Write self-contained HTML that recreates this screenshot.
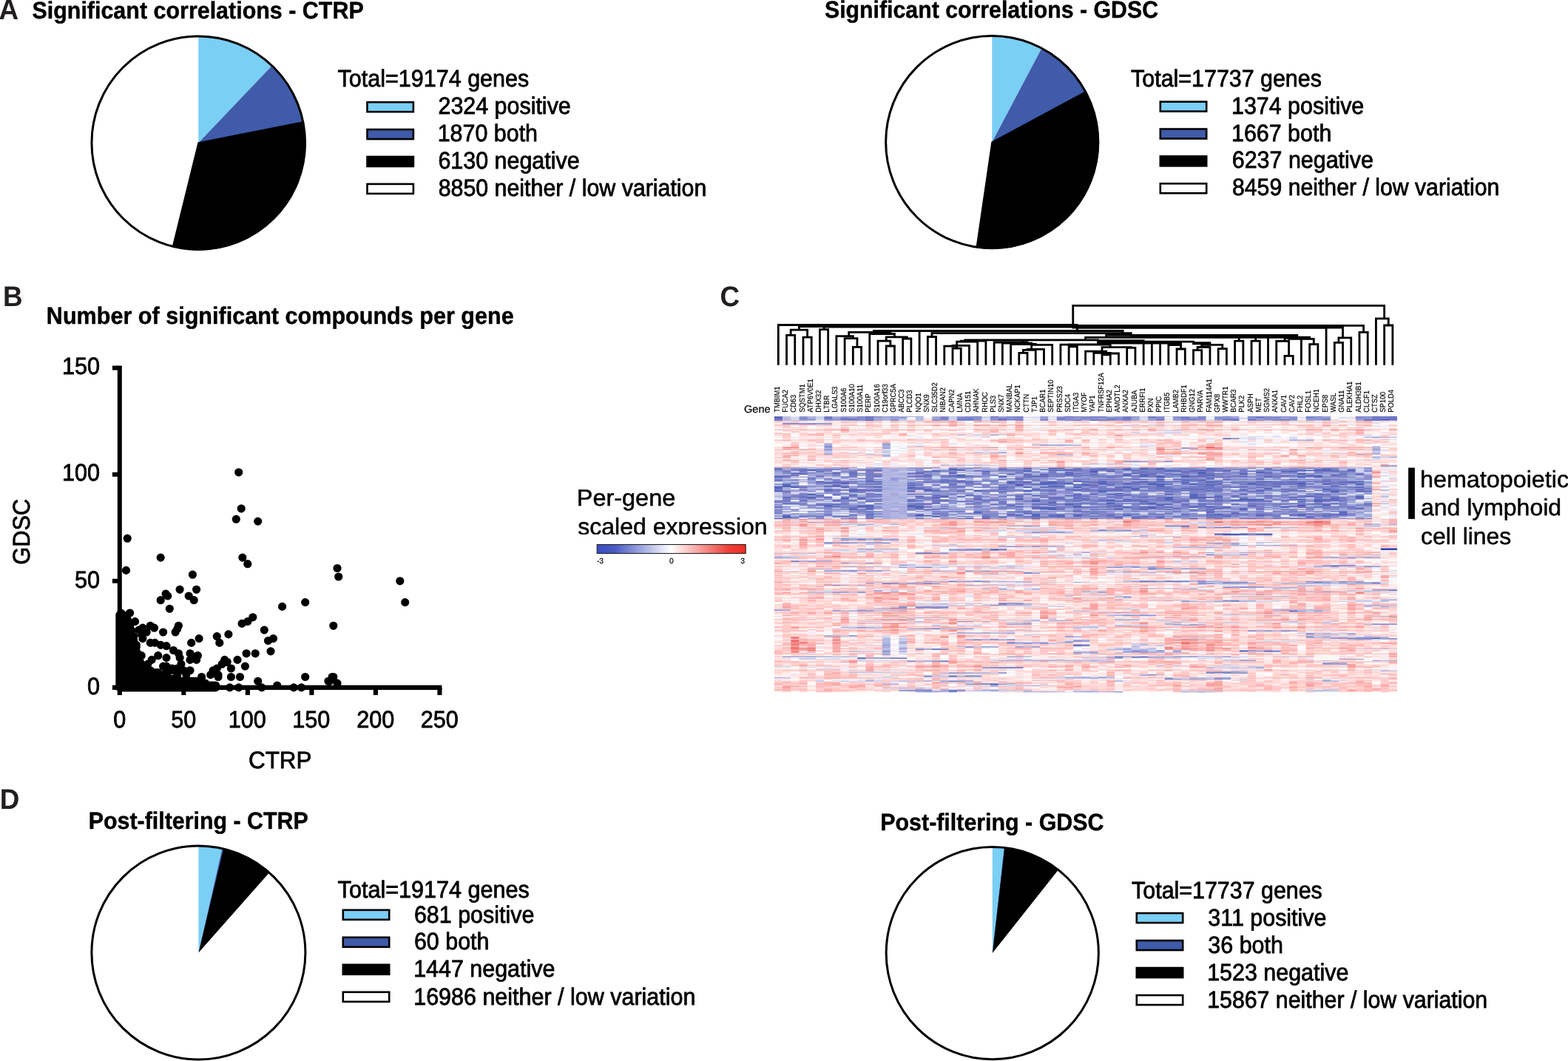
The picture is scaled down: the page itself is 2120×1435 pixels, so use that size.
<!DOCTYPE html>
<html lang="en"><head><meta charset="utf-8"><title>Significant correlations - CTRP / GDSC</title>
<style>
html,body{margin:0;padding:0;background:#fff;}
body{width:2120px;height:1435px;overflow:hidden;}
svg{display:block;font-family:'Liberation Sans', sans-serif;text-rendering:geometricPrecision;}
</style></head><body>
<svg width="2120" height="1435" viewBox="0 0 2120 1435">
<rect width="2120" height="1435" fill="#fff"/>
<text transform="translate(-1.62 25.70) scale(0.9600 1)" font-size="38.4" font-weight="700" fill="#231F20">A</text>
<text transform="translate(3.93 413.70) scale(0.9600 1)" font-size="38.4" font-weight="700" fill="#231F20">B</text>
<text transform="translate(973.39 414.00) scale(0.9600 1)" font-size="38.4" font-weight="700" fill="#231F20">C</text>
<text transform="translate(-0.37 1093.90) scale(0.9600 1)" font-size="38.4" font-weight="700" fill="#231F20">D</text>
<text transform="translate(43.42 24.70) scale(0.9427 1)" font-size="32.3" font-weight="700" stroke="#000" stroke-width="0.45">Significant correlations - CTRP</text>
<circle cx="268.25" cy="193.25" r="144.3" fill="#fff"/>
<path d="M268.25 193.25L268.25 48.95A144.3 144.3 0 0 1 367.82 88.81Z" fill="#7ACFF5"/>
<path d="M268.25 193.25L367.82 88.81A144.3 144.3 0 0 1 409.77 165.08Z" fill="#3F5BA9"/>
<path d="M268.25 193.25L409.77 165.08A144.3 144.3 0 0 1 233.74 333.36Z" fill="#000" stroke="#000" stroke-width="1.8" stroke-linejoin="miter"/>
<circle cx="268.25" cy="193.25" r="144.3" fill="none" stroke="#000" stroke-width="3.0"/>
<text transform="translate(456.61 117.40) scale(0.9445 1)" font-size="32.3" stroke="#000" stroke-width="0.8">Total=19174 genes</text>
<rect x="496.50" y="138.20" width="62.40" height="13.00" fill="#7ACFF5" stroke="#000" stroke-width="2.6"/>
<text transform="translate(592.47 154.40) scale(0.9420 1)" font-size="32.3" stroke="#000" stroke-width="0.8">2324 positive</text>
<rect x="496.50" y="175.10" width="62.40" height="13.00" fill="#3F5BA9" stroke="#000" stroke-width="2.6"/>
<text transform="translate(591.68 191.20) scale(0.9420 1)" font-size="32.3" stroke="#000" stroke-width="0.8">1870 both</text>
<rect x="496.50" y="212.00" width="62.40" height="13.00" fill="#000" stroke="#000" stroke-width="2.6"/>
<text transform="translate(592.45 228.00) scale(0.9420 1)" font-size="32.3" stroke="#000" stroke-width="0.8">6130 negative</text>
<rect x="496.50" y="248.90" width="62.40" height="13.00" fill="#fff" stroke="#000" stroke-width="2.6"/>
<text transform="translate(592.68 264.90) scale(0.9395 1)" font-size="32.3" stroke="#000" stroke-width="0.8">8850 neither / low variation</text>
<text transform="translate(1114.93 24.40) scale(0.9379 1)" font-size="32.3" font-weight="700" stroke="#000" stroke-width="0.45">Significant correlations - GDSC</text>
<circle cx="1341.25" cy="192.2" r="143.6" fill="#fff"/>
<path d="M1341.25 192.2L1341.25 48.60A143.6 143.6 0 0 1 1408.42 65.28Z" fill="#7ACFF5"/>
<path d="M1341.25 192.2L1408.42 65.28A143.6 143.6 0 0 1 1467.71 124.17Z" fill="#3F5BA9"/>
<path d="M1341.25 192.2L1467.71 124.17A143.6 143.6 0 0 1 1320.49 334.29Z" fill="#000" stroke="#000" stroke-width="1.8" stroke-linejoin="miter"/>
<circle cx="1341.25" cy="192.2" r="143.6" fill="none" stroke="#000" stroke-width="3.0"/>
<text transform="translate(1529.12 117.00) scale(0.9412 1)" font-size="32.3" stroke="#000" stroke-width="0.8">Total=17737 genes</text>
<rect x="1568.80" y="137.60" width="62.40" height="13.00" fill="#7ACFF5" stroke="#000" stroke-width="2.6"/>
<text transform="translate(1664.98 153.80) scale(0.9420 1)" font-size="32.3" stroke="#000" stroke-width="0.8">1374 positive</text>
<rect x="1568.80" y="174.50" width="62.40" height="13.00" fill="#3F5BA9" stroke="#000" stroke-width="2.6"/>
<text transform="translate(1664.98 190.50) scale(0.9420 1)" font-size="32.3" stroke="#000" stroke-width="0.8">1667 both</text>
<rect x="1568.80" y="211.40" width="62.40" height="13.00" fill="#000" stroke="#000" stroke-width="2.6"/>
<text transform="translate(1665.75 227.40) scale(0.9420 1)" font-size="32.3" stroke="#000" stroke-width="0.8">6237 negative</text>
<rect x="1568.80" y="248.30" width="62.40" height="13.00" fill="#fff" stroke="#000" stroke-width="2.6"/>
<text transform="translate(1665.99 264.40) scale(0.9359 1)" font-size="32.3" stroke="#000" stroke-width="0.8">8459 neither / low variation</text>
<text transform="translate(62.85 438.40) scale(0.9465 1)" font-size="32.3" font-weight="700" stroke="#000" stroke-width="0.45">Number of significant compounds per gene</text>
<g fill="#000">
<rect x="158.8" y="494.6" width="6.0" height="438.6"/>
<rect x="151.9" y="926.7" width="445.5" height="6.4"/>
<rect x="151.9" y="782.80" width="8" height="6.0"/>
<rect x="151.9" y="638.70" width="8" height="6.0"/>
<rect x="151.9" y="494.60" width="8" height="6.0"/>
<rect x="158.75" y="930" width="6.1" height="10.1"/>
<rect x="245.27" y="930" width="6.1" height="10.1"/>
<rect x="331.80" y="930" width="6.1" height="10.1"/>
<rect x="418.32" y="930" width="6.1" height="10.1"/>
<rect x="504.85" y="930" width="6.1" height="10.1"/>
<rect x="591.38" y="930" width="6.1" height="10.1"/>
</g>
<text transform="translate(118.08 938.60) scale(0.9470 1)" font-size="32.3" stroke="#000" stroke-width="0.8">0</text>
<text transform="translate(101.07 794.50) scale(0.9470 1)" font-size="32.3" stroke="#000" stroke-width="0.8">50</text>
<text transform="translate(84.06 650.40) scale(0.9470 1)" font-size="32.3" stroke="#000" stroke-width="0.8">100</text>
<text transform="translate(84.06 506.30) scale(0.9470 1)" font-size="32.3" stroke="#000" stroke-width="0.8">150</text>
<text transform="translate(153.29 983.90) scale(0.9470 1)" font-size="32.3" stroke="#000" stroke-width="0.8">0</text>
<text transform="translate(231.30 983.90) scale(0.9470 1)" font-size="32.3" stroke="#000" stroke-width="0.8">50</text>
<text transform="translate(308.76 983.90) scale(0.9470 1)" font-size="32.3" stroke="#000" stroke-width="0.8">100</text>
<text transform="translate(395.29 983.90) scale(0.9470 1)" font-size="32.3" stroke="#000" stroke-width="0.8">150</text>
<text transform="translate(482.21 983.90) scale(0.9470 1)" font-size="32.3" stroke="#000" stroke-width="0.8">200</text>
<text transform="translate(568.74 983.90) scale(0.9470 1)" font-size="32.3" stroke="#000" stroke-width="0.8">250</text>
<text transform="translate(336.01 1039.30) scale(0.9718 1)" font-size="32.3" stroke="#000" stroke-width="0.8">CTRP</text>
<text transform="translate(40.2 719.2) rotate(-90) scale(0.955 1) translate(-46.66 0)" font-size="32.3" stroke="#000" stroke-width="0.8">GDSC</text>
<path fill="#000" d="M156.2 929.9a5.6 5.6 0 1 0 11.2 0a5.6 5.6 0 1 0 -11.2 0M156.2 927.0a5.6 5.6 0 1 0 11.2 0a5.6 5.6 0 1 0 -11.2 0M156.2 924.1a5.6 5.6 0 1 0 11.2 0a5.6 5.6 0 1 0 -11.2 0M156.2 921.3a5.6 5.6 0 1 0 11.2 0a5.6 5.6 0 1 0 -11.2 0M156.2 918.4a5.6 5.6 0 1 0 11.2 0a5.6 5.6 0 1 0 -11.2 0M156.2 915.5a5.6 5.6 0 1 0 11.2 0a5.6 5.6 0 1 0 -11.2 0M156.2 912.6a5.6 5.6 0 1 0 11.2 0a5.6 5.6 0 1 0 -11.2 0M156.2 909.7a5.6 5.6 0 1 0 11.2 0a5.6 5.6 0 1 0 -11.2 0M156.2 906.8a5.6 5.6 0 1 0 11.2 0a5.6 5.6 0 1 0 -11.2 0M156.2 904.0a5.6 5.6 0 1 0 11.2 0a5.6 5.6 0 1 0 -11.2 0M156.2 901.1a5.6 5.6 0 1 0 11.2 0a5.6 5.6 0 1 0 -11.2 0M156.2 898.2a5.6 5.6 0 1 0 11.2 0a5.6 5.6 0 1 0 -11.2 0M156.2 895.3a5.6 5.6 0 1 0 11.2 0a5.6 5.6 0 1 0 -11.2 0M156.2 892.4a5.6 5.6 0 1 0 11.2 0a5.6 5.6 0 1 0 -11.2 0M156.2 889.6a5.6 5.6 0 1 0 11.2 0a5.6 5.6 0 1 0 -11.2 0M156.2 886.7a5.6 5.6 0 1 0 11.2 0a5.6 5.6 0 1 0 -11.2 0M156.2 883.8a5.6 5.6 0 1 0 11.2 0a5.6 5.6 0 1 0 -11.2 0M156.2 880.9a5.6 5.6 0 1 0 11.2 0a5.6 5.6 0 1 0 -11.2 0M156.2 878.0a5.6 5.6 0 1 0 11.2 0a5.6 5.6 0 1 0 -11.2 0M156.2 875.1a5.6 5.6 0 1 0 11.2 0a5.6 5.6 0 1 0 -11.2 0M156.2 872.3a5.6 5.6 0 1 0 11.2 0a5.6 5.6 0 1 0 -11.2 0M156.2 869.4a5.6 5.6 0 1 0 11.2 0a5.6 5.6 0 1 0 -11.2 0M156.2 866.5a5.6 5.6 0 1 0 11.2 0a5.6 5.6 0 1 0 -11.2 0M156.2 863.6a5.6 5.6 0 1 0 11.2 0a5.6 5.6 0 1 0 -11.2 0M156.2 860.7a5.6 5.6 0 1 0 11.2 0a5.6 5.6 0 1 0 -11.2 0M156.2 857.9a5.6 5.6 0 1 0 11.2 0a5.6 5.6 0 1 0 -11.2 0M156.2 855.0a5.6 5.6 0 1 0 11.2 0a5.6 5.6 0 1 0 -11.2 0M156.2 852.1a5.6 5.6 0 1 0 11.2 0a5.6 5.6 0 1 0 -11.2 0M156.2 849.2a5.6 5.6 0 1 0 11.2 0a5.6 5.6 0 1 0 -11.2 0M156.2 846.3a5.6 5.6 0 1 0 11.2 0a5.6 5.6 0 1 0 -11.2 0M156.2 843.4a5.6 5.6 0 1 0 11.2 0a5.6 5.6 0 1 0 -11.2 0M156.2 840.6a5.6 5.6 0 1 0 11.2 0a5.6 5.6 0 1 0 -11.2 0M156.2 837.7a5.6 5.6 0 1 0 11.2 0a5.6 5.6 0 1 0 -11.2 0M156.2 834.8a5.6 5.6 0 1 0 11.2 0a5.6 5.6 0 1 0 -11.2 0M156.2 831.9a5.6 5.6 0 1 0 11.2 0a5.6 5.6 0 1 0 -11.2 0M157.9 929.9a5.6 5.6 0 1 0 11.2 0a5.6 5.6 0 1 0 -11.2 0M157.9 927.0a5.6 5.6 0 1 0 11.2 0a5.6 5.6 0 1 0 -11.2 0M157.9 924.1a5.6 5.6 0 1 0 11.2 0a5.6 5.6 0 1 0 -11.2 0M157.9 921.3a5.6 5.6 0 1 0 11.2 0a5.6 5.6 0 1 0 -11.2 0M157.9 918.4a5.6 5.6 0 1 0 11.2 0a5.6 5.6 0 1 0 -11.2 0M157.9 915.5a5.6 5.6 0 1 0 11.2 0a5.6 5.6 0 1 0 -11.2 0M157.9 912.6a5.6 5.6 0 1 0 11.2 0a5.6 5.6 0 1 0 -11.2 0M157.9 909.7a5.6 5.6 0 1 0 11.2 0a5.6 5.6 0 1 0 -11.2 0M157.9 906.8a5.6 5.6 0 1 0 11.2 0a5.6 5.6 0 1 0 -11.2 0M157.9 904.0a5.6 5.6 0 1 0 11.2 0a5.6 5.6 0 1 0 -11.2 0M157.9 901.1a5.6 5.6 0 1 0 11.2 0a5.6 5.6 0 1 0 -11.2 0M157.9 898.2a5.6 5.6 0 1 0 11.2 0a5.6 5.6 0 1 0 -11.2 0M157.9 895.3a5.6 5.6 0 1 0 11.2 0a5.6 5.6 0 1 0 -11.2 0M157.9 892.4a5.6 5.6 0 1 0 11.2 0a5.6 5.6 0 1 0 -11.2 0M157.9 889.6a5.6 5.6 0 1 0 11.2 0a5.6 5.6 0 1 0 -11.2 0M157.9 886.7a5.6 5.6 0 1 0 11.2 0a5.6 5.6 0 1 0 -11.2 0M157.9 883.8a5.6 5.6 0 1 0 11.2 0a5.6 5.6 0 1 0 -11.2 0M157.9 880.9a5.6 5.6 0 1 0 11.2 0a5.6 5.6 0 1 0 -11.2 0M157.9 878.0a5.6 5.6 0 1 0 11.2 0a5.6 5.6 0 1 0 -11.2 0M157.9 875.1a5.6 5.6 0 1 0 11.2 0a5.6 5.6 0 1 0 -11.2 0M157.9 872.3a5.6 5.6 0 1 0 11.2 0a5.6 5.6 0 1 0 -11.2 0M157.9 869.4a5.6 5.6 0 1 0 11.2 0a5.6 5.6 0 1 0 -11.2 0M157.9 866.5a5.6 5.6 0 1 0 11.2 0a5.6 5.6 0 1 0 -11.2 0M157.9 863.6a5.6 5.6 0 1 0 11.2 0a5.6 5.6 0 1 0 -11.2 0M157.9 860.7a5.6 5.6 0 1 0 11.2 0a5.6 5.6 0 1 0 -11.2 0M157.9 857.9a5.6 5.6 0 1 0 11.2 0a5.6 5.6 0 1 0 -11.2 0M157.9 855.0a5.6 5.6 0 1 0 11.2 0a5.6 5.6 0 1 0 -11.2 0M157.9 852.1a5.6 5.6 0 1 0 11.2 0a5.6 5.6 0 1 0 -11.2 0M157.9 849.2a5.6 5.6 0 1 0 11.2 0a5.6 5.6 0 1 0 -11.2 0M157.9 846.3a5.6 5.6 0 1 0 11.2 0a5.6 5.6 0 1 0 -11.2 0M157.9 843.4a5.6 5.6 0 1 0 11.2 0a5.6 5.6 0 1 0 -11.2 0M157.9 840.6a5.6 5.6 0 1 0 11.2 0a5.6 5.6 0 1 0 -11.2 0M157.9 837.7a5.6 5.6 0 1 0 11.2 0a5.6 5.6 0 1 0 -11.2 0M157.9 834.8a5.6 5.6 0 1 0 11.2 0a5.6 5.6 0 1 0 -11.2 0M157.9 831.9a5.6 5.6 0 1 0 11.2 0a5.6 5.6 0 1 0 -11.2 0M159.7 929.9a5.6 5.6 0 1 0 11.2 0a5.6 5.6 0 1 0 -11.2 0M159.7 927.0a5.6 5.6 0 1 0 11.2 0a5.6 5.6 0 1 0 -11.2 0M159.7 924.1a5.6 5.6 0 1 0 11.2 0a5.6 5.6 0 1 0 -11.2 0M159.7 921.3a5.6 5.6 0 1 0 11.2 0a5.6 5.6 0 1 0 -11.2 0M159.7 918.4a5.6 5.6 0 1 0 11.2 0a5.6 5.6 0 1 0 -11.2 0M159.7 915.5a5.6 5.6 0 1 0 11.2 0a5.6 5.6 0 1 0 -11.2 0M159.7 912.6a5.6 5.6 0 1 0 11.2 0a5.6 5.6 0 1 0 -11.2 0M159.7 909.7a5.6 5.6 0 1 0 11.2 0a5.6 5.6 0 1 0 -11.2 0M159.7 906.8a5.6 5.6 0 1 0 11.2 0a5.6 5.6 0 1 0 -11.2 0M159.7 904.0a5.6 5.6 0 1 0 11.2 0a5.6 5.6 0 1 0 -11.2 0M159.7 901.1a5.6 5.6 0 1 0 11.2 0a5.6 5.6 0 1 0 -11.2 0M159.7 898.2a5.6 5.6 0 1 0 11.2 0a5.6 5.6 0 1 0 -11.2 0M159.7 895.3a5.6 5.6 0 1 0 11.2 0a5.6 5.6 0 1 0 -11.2 0M159.7 892.4a5.6 5.6 0 1 0 11.2 0a5.6 5.6 0 1 0 -11.2 0M159.7 889.6a5.6 5.6 0 1 0 11.2 0a5.6 5.6 0 1 0 -11.2 0M159.7 886.7a5.6 5.6 0 1 0 11.2 0a5.6 5.6 0 1 0 -11.2 0M159.7 883.8a5.6 5.6 0 1 0 11.2 0a5.6 5.6 0 1 0 -11.2 0M159.7 880.9a5.6 5.6 0 1 0 11.2 0a5.6 5.6 0 1 0 -11.2 0M159.7 878.0a5.6 5.6 0 1 0 11.2 0a5.6 5.6 0 1 0 -11.2 0M159.7 875.1a5.6 5.6 0 1 0 11.2 0a5.6 5.6 0 1 0 -11.2 0M159.7 872.3a5.6 5.6 0 1 0 11.2 0a5.6 5.6 0 1 0 -11.2 0M159.7 869.4a5.6 5.6 0 1 0 11.2 0a5.6 5.6 0 1 0 -11.2 0M159.7 866.5a5.6 5.6 0 1 0 11.2 0a5.6 5.6 0 1 0 -11.2 0M159.7 863.6a5.6 5.6 0 1 0 11.2 0a5.6 5.6 0 1 0 -11.2 0M159.7 860.7a5.6 5.6 0 1 0 11.2 0a5.6 5.6 0 1 0 -11.2 0M159.7 857.9a5.6 5.6 0 1 0 11.2 0a5.6 5.6 0 1 0 -11.2 0M159.7 855.0a5.6 5.6 0 1 0 11.2 0a5.6 5.6 0 1 0 -11.2 0M159.7 852.1a5.6 5.6 0 1 0 11.2 0a5.6 5.6 0 1 0 -11.2 0M159.7 849.2a5.6 5.6 0 1 0 11.2 0a5.6 5.6 0 1 0 -11.2 0M159.7 846.3a5.6 5.6 0 1 0 11.2 0a5.6 5.6 0 1 0 -11.2 0M159.7 843.4a5.6 5.6 0 1 0 11.2 0a5.6 5.6 0 1 0 -11.2 0M159.7 840.6a5.6 5.6 0 1 0 11.2 0a5.6 5.6 0 1 0 -11.2 0M159.7 837.7a5.6 5.6 0 1 0 11.2 0a5.6 5.6 0 1 0 -11.2 0M159.7 834.8a5.6 5.6 0 1 0 11.2 0a5.6 5.6 0 1 0 -11.2 0M159.7 831.9a5.6 5.6 0 1 0 11.2 0a5.6 5.6 0 1 0 -11.2 0M161.4 929.9a5.6 5.6 0 1 0 11.2 0a5.6 5.6 0 1 0 -11.2 0M161.4 927.0a5.6 5.6 0 1 0 11.2 0a5.6 5.6 0 1 0 -11.2 0M161.4 924.1a5.6 5.6 0 1 0 11.2 0a5.6 5.6 0 1 0 -11.2 0M161.4 921.3a5.6 5.6 0 1 0 11.2 0a5.6 5.6 0 1 0 -11.2 0M161.4 918.4a5.6 5.6 0 1 0 11.2 0a5.6 5.6 0 1 0 -11.2 0M161.4 915.5a5.6 5.6 0 1 0 11.2 0a5.6 5.6 0 1 0 -11.2 0M161.4 912.6a5.6 5.6 0 1 0 11.2 0a5.6 5.6 0 1 0 -11.2 0M161.4 909.7a5.6 5.6 0 1 0 11.2 0a5.6 5.6 0 1 0 -11.2 0M161.4 906.8a5.6 5.6 0 1 0 11.2 0a5.6 5.6 0 1 0 -11.2 0M161.4 904.0a5.6 5.6 0 1 0 11.2 0a5.6 5.6 0 1 0 -11.2 0M161.4 901.1a5.6 5.6 0 1 0 11.2 0a5.6 5.6 0 1 0 -11.2 0M161.4 898.2a5.6 5.6 0 1 0 11.2 0a5.6 5.6 0 1 0 -11.2 0M161.4 895.3a5.6 5.6 0 1 0 11.2 0a5.6 5.6 0 1 0 -11.2 0M161.4 892.4a5.6 5.6 0 1 0 11.2 0a5.6 5.6 0 1 0 -11.2 0M161.4 889.6a5.6 5.6 0 1 0 11.2 0a5.6 5.6 0 1 0 -11.2 0M161.4 886.7a5.6 5.6 0 1 0 11.2 0a5.6 5.6 0 1 0 -11.2 0M161.4 883.8a5.6 5.6 0 1 0 11.2 0a5.6 5.6 0 1 0 -11.2 0M161.4 880.9a5.6 5.6 0 1 0 11.2 0a5.6 5.6 0 1 0 -11.2 0M161.4 878.0a5.6 5.6 0 1 0 11.2 0a5.6 5.6 0 1 0 -11.2 0M161.4 875.1a5.6 5.6 0 1 0 11.2 0a5.6 5.6 0 1 0 -11.2 0M161.4 872.3a5.6 5.6 0 1 0 11.2 0a5.6 5.6 0 1 0 -11.2 0M161.4 869.4a5.6 5.6 0 1 0 11.2 0a5.6 5.6 0 1 0 -11.2 0M161.4 866.5a5.6 5.6 0 1 0 11.2 0a5.6 5.6 0 1 0 -11.2 0M161.4 863.6a5.6 5.6 0 1 0 11.2 0a5.6 5.6 0 1 0 -11.2 0M161.4 860.7a5.6 5.6 0 1 0 11.2 0a5.6 5.6 0 1 0 -11.2 0M161.4 857.9a5.6 5.6 0 1 0 11.2 0a5.6 5.6 0 1 0 -11.2 0M161.4 855.0a5.6 5.6 0 1 0 11.2 0a5.6 5.6 0 1 0 -11.2 0M161.4 852.1a5.6 5.6 0 1 0 11.2 0a5.6 5.6 0 1 0 -11.2 0M161.4 849.2a5.6 5.6 0 1 0 11.2 0a5.6 5.6 0 1 0 -11.2 0M161.4 846.3a5.6 5.6 0 1 0 11.2 0a5.6 5.6 0 1 0 -11.2 0M161.4 843.4a5.6 5.6 0 1 0 11.2 0a5.6 5.6 0 1 0 -11.2 0M161.4 840.6a5.6 5.6 0 1 0 11.2 0a5.6 5.6 0 1 0 -11.2 0M161.4 837.7a5.6 5.6 0 1 0 11.2 0a5.6 5.6 0 1 0 -11.2 0M161.4 834.8a5.6 5.6 0 1 0 11.2 0a5.6 5.6 0 1 0 -11.2 0M161.4 831.9a5.6 5.6 0 1 0 11.2 0a5.6 5.6 0 1 0 -11.2 0M163.1 929.9a5.6 5.6 0 1 0 11.2 0a5.6 5.6 0 1 0 -11.2 0M163.1 927.0a5.6 5.6 0 1 0 11.2 0a5.6 5.6 0 1 0 -11.2 0M163.1 924.1a5.6 5.6 0 1 0 11.2 0a5.6 5.6 0 1 0 -11.2 0M163.1 921.3a5.6 5.6 0 1 0 11.2 0a5.6 5.6 0 1 0 -11.2 0M163.1 918.4a5.6 5.6 0 1 0 11.2 0a5.6 5.6 0 1 0 -11.2 0M163.1 915.5a5.6 5.6 0 1 0 11.2 0a5.6 5.6 0 1 0 -11.2 0M163.1 912.6a5.6 5.6 0 1 0 11.2 0a5.6 5.6 0 1 0 -11.2 0M163.1 909.7a5.6 5.6 0 1 0 11.2 0a5.6 5.6 0 1 0 -11.2 0M163.1 906.8a5.6 5.6 0 1 0 11.2 0a5.6 5.6 0 1 0 -11.2 0M163.1 904.0a5.6 5.6 0 1 0 11.2 0a5.6 5.6 0 1 0 -11.2 0M163.1 901.1a5.6 5.6 0 1 0 11.2 0a5.6 5.6 0 1 0 -11.2 0M163.1 898.2a5.6 5.6 0 1 0 11.2 0a5.6 5.6 0 1 0 -11.2 0M163.1 895.3a5.6 5.6 0 1 0 11.2 0a5.6 5.6 0 1 0 -11.2 0M163.1 892.4a5.6 5.6 0 1 0 11.2 0a5.6 5.6 0 1 0 -11.2 0M163.1 889.6a5.6 5.6 0 1 0 11.2 0a5.6 5.6 0 1 0 -11.2 0M163.1 886.7a5.6 5.6 0 1 0 11.2 0a5.6 5.6 0 1 0 -11.2 0M163.1 883.8a5.6 5.6 0 1 0 11.2 0a5.6 5.6 0 1 0 -11.2 0M163.1 880.9a5.6 5.6 0 1 0 11.2 0a5.6 5.6 0 1 0 -11.2 0M163.1 878.0a5.6 5.6 0 1 0 11.2 0a5.6 5.6 0 1 0 -11.2 0M163.1 875.1a5.6 5.6 0 1 0 11.2 0a5.6 5.6 0 1 0 -11.2 0M163.1 872.3a5.6 5.6 0 1 0 11.2 0a5.6 5.6 0 1 0 -11.2 0M163.1 869.4a5.6 5.6 0 1 0 11.2 0a5.6 5.6 0 1 0 -11.2 0M163.1 866.5a5.6 5.6 0 1 0 11.2 0a5.6 5.6 0 1 0 -11.2 0M163.1 863.6a5.6 5.6 0 1 0 11.2 0a5.6 5.6 0 1 0 -11.2 0M163.1 860.7a5.6 5.6 0 1 0 11.2 0a5.6 5.6 0 1 0 -11.2 0M163.1 857.9a5.6 5.6 0 1 0 11.2 0a5.6 5.6 0 1 0 -11.2 0M163.1 855.0a5.6 5.6 0 1 0 11.2 0a5.6 5.6 0 1 0 -11.2 0M163.1 852.1a5.6 5.6 0 1 0 11.2 0a5.6 5.6 0 1 0 -11.2 0M163.1 849.2a5.6 5.6 0 1 0 11.2 0a5.6 5.6 0 1 0 -11.2 0M163.1 846.3a5.6 5.6 0 1 0 11.2 0a5.6 5.6 0 1 0 -11.2 0M163.1 843.4a5.6 5.6 0 1 0 11.2 0a5.6 5.6 0 1 0 -11.2 0M163.1 840.6a5.6 5.6 0 1 0 11.2 0a5.6 5.6 0 1 0 -11.2 0M163.1 837.7a5.6 5.6 0 1 0 11.2 0a5.6 5.6 0 1 0 -11.2 0M164.9 929.9a5.6 5.6 0 1 0 11.2 0a5.6 5.6 0 1 0 -11.2 0M164.9 927.0a5.6 5.6 0 1 0 11.2 0a5.6 5.6 0 1 0 -11.2 0M164.9 924.1a5.6 5.6 0 1 0 11.2 0a5.6 5.6 0 1 0 -11.2 0M164.9 921.3a5.6 5.6 0 1 0 11.2 0a5.6 5.6 0 1 0 -11.2 0M164.9 918.4a5.6 5.6 0 1 0 11.2 0a5.6 5.6 0 1 0 -11.2 0M164.9 915.5a5.6 5.6 0 1 0 11.2 0a5.6 5.6 0 1 0 -11.2 0M164.9 912.6a5.6 5.6 0 1 0 11.2 0a5.6 5.6 0 1 0 -11.2 0M164.9 909.7a5.6 5.6 0 1 0 11.2 0a5.6 5.6 0 1 0 -11.2 0M164.9 906.8a5.6 5.6 0 1 0 11.2 0a5.6 5.6 0 1 0 -11.2 0M164.9 904.0a5.6 5.6 0 1 0 11.2 0a5.6 5.6 0 1 0 -11.2 0M164.9 901.1a5.6 5.6 0 1 0 11.2 0a5.6 5.6 0 1 0 -11.2 0M164.9 898.2a5.6 5.6 0 1 0 11.2 0a5.6 5.6 0 1 0 -11.2 0M164.9 895.3a5.6 5.6 0 1 0 11.2 0a5.6 5.6 0 1 0 -11.2 0M164.9 892.4a5.6 5.6 0 1 0 11.2 0a5.6 5.6 0 1 0 -11.2 0M164.9 889.6a5.6 5.6 0 1 0 11.2 0a5.6 5.6 0 1 0 -11.2 0M164.9 886.7a5.6 5.6 0 1 0 11.2 0a5.6 5.6 0 1 0 -11.2 0M164.9 883.8a5.6 5.6 0 1 0 11.2 0a5.6 5.6 0 1 0 -11.2 0M164.9 880.9a5.6 5.6 0 1 0 11.2 0a5.6 5.6 0 1 0 -11.2 0M164.9 878.0a5.6 5.6 0 1 0 11.2 0a5.6 5.6 0 1 0 -11.2 0M164.9 875.1a5.6 5.6 0 1 0 11.2 0a5.6 5.6 0 1 0 -11.2 0M164.9 872.3a5.6 5.6 0 1 0 11.2 0a5.6 5.6 0 1 0 -11.2 0M164.9 869.4a5.6 5.6 0 1 0 11.2 0a5.6 5.6 0 1 0 -11.2 0M164.9 866.5a5.6 5.6 0 1 0 11.2 0a5.6 5.6 0 1 0 -11.2 0M164.9 863.6a5.6 5.6 0 1 0 11.2 0a5.6 5.6 0 1 0 -11.2 0M164.9 860.7a5.6 5.6 0 1 0 11.2 0a5.6 5.6 0 1 0 -11.2 0M164.9 857.9a5.6 5.6 0 1 0 11.2 0a5.6 5.6 0 1 0 -11.2 0M164.9 855.0a5.6 5.6 0 1 0 11.2 0a5.6 5.6 0 1 0 -11.2 0M164.9 852.1a5.6 5.6 0 1 0 11.2 0a5.6 5.6 0 1 0 -11.2 0M164.9 849.2a5.6 5.6 0 1 0 11.2 0a5.6 5.6 0 1 0 -11.2 0M164.9 846.3a5.6 5.6 0 1 0 11.2 0a5.6 5.6 0 1 0 -11.2 0M164.9 843.4a5.6 5.6 0 1 0 11.2 0a5.6 5.6 0 1 0 -11.2 0M164.9 840.6a5.6 5.6 0 1 0 11.2 0a5.6 5.6 0 1 0 -11.2 0M164.9 837.7a5.6 5.6 0 1 0 11.2 0a5.6 5.6 0 1 0 -11.2 0M166.6 929.9a5.6 5.6 0 1 0 11.2 0a5.6 5.6 0 1 0 -11.2 0M166.6 927.0a5.6 5.6 0 1 0 11.2 0a5.6 5.6 0 1 0 -11.2 0M166.6 924.1a5.6 5.6 0 1 0 11.2 0a5.6 5.6 0 1 0 -11.2 0M166.6 921.3a5.6 5.6 0 1 0 11.2 0a5.6 5.6 0 1 0 -11.2 0M166.6 918.4a5.6 5.6 0 1 0 11.2 0a5.6 5.6 0 1 0 -11.2 0M166.6 915.5a5.6 5.6 0 1 0 11.2 0a5.6 5.6 0 1 0 -11.2 0M166.6 912.6a5.6 5.6 0 1 0 11.2 0a5.6 5.6 0 1 0 -11.2 0M166.6 909.7a5.6 5.6 0 1 0 11.2 0a5.6 5.6 0 1 0 -11.2 0M166.6 906.8a5.6 5.6 0 1 0 11.2 0a5.6 5.6 0 1 0 -11.2 0M166.6 904.0a5.6 5.6 0 1 0 11.2 0a5.6 5.6 0 1 0 -11.2 0M166.6 901.1a5.6 5.6 0 1 0 11.2 0a5.6 5.6 0 1 0 -11.2 0M166.6 898.2a5.6 5.6 0 1 0 11.2 0a5.6 5.6 0 1 0 -11.2 0M166.6 895.3a5.6 5.6 0 1 0 11.2 0a5.6 5.6 0 1 0 -11.2 0M166.6 892.4a5.6 5.6 0 1 0 11.2 0a5.6 5.6 0 1 0 -11.2 0M166.6 889.6a5.6 5.6 0 1 0 11.2 0a5.6 5.6 0 1 0 -11.2 0M166.6 886.7a5.6 5.6 0 1 0 11.2 0a5.6 5.6 0 1 0 -11.2 0M166.6 883.8a5.6 5.6 0 1 0 11.2 0a5.6 5.6 0 1 0 -11.2 0M166.6 880.9a5.6 5.6 0 1 0 11.2 0a5.6 5.6 0 1 0 -11.2 0M166.6 878.0a5.6 5.6 0 1 0 11.2 0a5.6 5.6 0 1 0 -11.2 0M166.6 875.1a5.6 5.6 0 1 0 11.2 0a5.6 5.6 0 1 0 -11.2 0M166.6 872.3a5.6 5.6 0 1 0 11.2 0a5.6 5.6 0 1 0 -11.2 0M166.6 869.4a5.6 5.6 0 1 0 11.2 0a5.6 5.6 0 1 0 -11.2 0M166.6 866.5a5.6 5.6 0 1 0 11.2 0a5.6 5.6 0 1 0 -11.2 0M166.6 863.6a5.6 5.6 0 1 0 11.2 0a5.6 5.6 0 1 0 -11.2 0M166.6 860.7a5.6 5.6 0 1 0 11.2 0a5.6 5.6 0 1 0 -11.2 0M166.6 857.9a5.6 5.6 0 1 0 11.2 0a5.6 5.6 0 1 0 -11.2 0M166.6 855.0a5.6 5.6 0 1 0 11.2 0a5.6 5.6 0 1 0 -11.2 0M166.6 852.1a5.6 5.6 0 1 0 11.2 0a5.6 5.6 0 1 0 -11.2 0M166.6 849.2a5.6 5.6 0 1 0 11.2 0a5.6 5.6 0 1 0 -11.2 0M166.6 846.3a5.6 5.6 0 1 0 11.2 0a5.6 5.6 0 1 0 -11.2 0M166.6 843.4a5.6 5.6 0 1 0 11.2 0a5.6 5.6 0 1 0 -11.2 0M166.6 840.6a5.6 5.6 0 1 0 11.2 0a5.6 5.6 0 1 0 -11.2 0M166.6 837.7a5.6 5.6 0 1 0 11.2 0a5.6 5.6 0 1 0 -11.2 0M168.3 929.9a5.6 5.6 0 1 0 11.2 0a5.6 5.6 0 1 0 -11.2 0M168.3 927.0a5.6 5.6 0 1 0 11.2 0a5.6 5.6 0 1 0 -11.2 0M168.3 924.1a5.6 5.6 0 1 0 11.2 0a5.6 5.6 0 1 0 -11.2 0M168.3 921.3a5.6 5.6 0 1 0 11.2 0a5.6 5.6 0 1 0 -11.2 0M168.3 918.4a5.6 5.6 0 1 0 11.2 0a5.6 5.6 0 1 0 -11.2 0M168.3 915.5a5.6 5.6 0 1 0 11.2 0a5.6 5.6 0 1 0 -11.2 0M168.3 912.6a5.6 5.6 0 1 0 11.2 0a5.6 5.6 0 1 0 -11.2 0M168.3 909.7a5.6 5.6 0 1 0 11.2 0a5.6 5.6 0 1 0 -11.2 0M168.3 906.8a5.6 5.6 0 1 0 11.2 0a5.6 5.6 0 1 0 -11.2 0M168.3 904.0a5.6 5.6 0 1 0 11.2 0a5.6 5.6 0 1 0 -11.2 0M168.3 901.1a5.6 5.6 0 1 0 11.2 0a5.6 5.6 0 1 0 -11.2 0M168.3 898.2a5.6 5.6 0 1 0 11.2 0a5.6 5.6 0 1 0 -11.2 0M168.3 895.3a5.6 5.6 0 1 0 11.2 0a5.6 5.6 0 1 0 -11.2 0M168.3 892.4a5.6 5.6 0 1 0 11.2 0a5.6 5.6 0 1 0 -11.2 0M168.3 889.6a5.6 5.6 0 1 0 11.2 0a5.6 5.6 0 1 0 -11.2 0M168.3 886.7a5.6 5.6 0 1 0 11.2 0a5.6 5.6 0 1 0 -11.2 0M168.3 883.8a5.6 5.6 0 1 0 11.2 0a5.6 5.6 0 1 0 -11.2 0M168.3 880.9a5.6 5.6 0 1 0 11.2 0a5.6 5.6 0 1 0 -11.2 0M168.3 878.0a5.6 5.6 0 1 0 11.2 0a5.6 5.6 0 1 0 -11.2 0M168.3 875.1a5.6 5.6 0 1 0 11.2 0a5.6 5.6 0 1 0 -11.2 0M168.3 872.3a5.6 5.6 0 1 0 11.2 0a5.6 5.6 0 1 0 -11.2 0M168.3 869.4a5.6 5.6 0 1 0 11.2 0a5.6 5.6 0 1 0 -11.2 0M168.3 866.5a5.6 5.6 0 1 0 11.2 0a5.6 5.6 0 1 0 -11.2 0M168.3 863.6a5.6 5.6 0 1 0 11.2 0a5.6 5.6 0 1 0 -11.2 0M168.3 860.7a5.6 5.6 0 1 0 11.2 0a5.6 5.6 0 1 0 -11.2 0M168.3 857.9a5.6 5.6 0 1 0 11.2 0a5.6 5.6 0 1 0 -11.2 0M168.3 855.0a5.6 5.6 0 1 0 11.2 0a5.6 5.6 0 1 0 -11.2 0M168.3 852.1a5.6 5.6 0 1 0 11.2 0a5.6 5.6 0 1 0 -11.2 0M168.3 849.2a5.6 5.6 0 1 0 11.2 0a5.6 5.6 0 1 0 -11.2 0M168.3 846.3a5.6 5.6 0 1 0 11.2 0a5.6 5.6 0 1 0 -11.2 0M170.0 929.9a5.6 5.6 0 1 0 11.2 0a5.6 5.6 0 1 0 -11.2 0M170.0 927.0a5.6 5.6 0 1 0 11.2 0a5.6 5.6 0 1 0 -11.2 0M170.0 924.1a5.6 5.6 0 1 0 11.2 0a5.6 5.6 0 1 0 -11.2 0M170.0 921.3a5.6 5.6 0 1 0 11.2 0a5.6 5.6 0 1 0 -11.2 0M170.0 918.4a5.6 5.6 0 1 0 11.2 0a5.6 5.6 0 1 0 -11.2 0M170.0 915.5a5.6 5.6 0 1 0 11.2 0a5.6 5.6 0 1 0 -11.2 0M170.0 912.6a5.6 5.6 0 1 0 11.2 0a5.6 5.6 0 1 0 -11.2 0M170.0 909.7a5.6 5.6 0 1 0 11.2 0a5.6 5.6 0 1 0 -11.2 0M170.0 906.8a5.6 5.6 0 1 0 11.2 0a5.6 5.6 0 1 0 -11.2 0M170.0 904.0a5.6 5.6 0 1 0 11.2 0a5.6 5.6 0 1 0 -11.2 0M170.0 901.1a5.6 5.6 0 1 0 11.2 0a5.6 5.6 0 1 0 -11.2 0M170.0 898.2a5.6 5.6 0 1 0 11.2 0a5.6 5.6 0 1 0 -11.2 0M170.0 895.3a5.6 5.6 0 1 0 11.2 0a5.6 5.6 0 1 0 -11.2 0M170.0 892.4a5.6 5.6 0 1 0 11.2 0a5.6 5.6 0 1 0 -11.2 0M170.0 889.6a5.6 5.6 0 1 0 11.2 0a5.6 5.6 0 1 0 -11.2 0M170.0 886.7a5.6 5.6 0 1 0 11.2 0a5.6 5.6 0 1 0 -11.2 0M170.0 883.8a5.6 5.6 0 1 0 11.2 0a5.6 5.6 0 1 0 -11.2 0M170.0 880.9a5.6 5.6 0 1 0 11.2 0a5.6 5.6 0 1 0 -11.2 0M170.0 878.0a5.6 5.6 0 1 0 11.2 0a5.6 5.6 0 1 0 -11.2 0M170.0 875.1a5.6 5.6 0 1 0 11.2 0a5.6 5.6 0 1 0 -11.2 0M170.0 872.3a5.6 5.6 0 1 0 11.2 0a5.6 5.6 0 1 0 -11.2 0M170.0 869.4a5.6 5.6 0 1 0 11.2 0a5.6 5.6 0 1 0 -11.2 0M170.0 866.5a5.6 5.6 0 1 0 11.2 0a5.6 5.6 0 1 0 -11.2 0M170.0 863.6a5.6 5.6 0 1 0 11.2 0a5.6 5.6 0 1 0 -11.2 0M170.0 860.7a5.6 5.6 0 1 0 11.2 0a5.6 5.6 0 1 0 -11.2 0M170.0 857.9a5.6 5.6 0 1 0 11.2 0a5.6 5.6 0 1 0 -11.2 0M170.0 855.0a5.6 5.6 0 1 0 11.2 0a5.6 5.6 0 1 0 -11.2 0M170.0 852.1a5.6 5.6 0 1 0 11.2 0a5.6 5.6 0 1 0 -11.2 0M170.0 849.2a5.6 5.6 0 1 0 11.2 0a5.6 5.6 0 1 0 -11.2 0M170.0 846.3a5.6 5.6 0 1 0 11.2 0a5.6 5.6 0 1 0 -11.2 0M171.8 929.9a5.6 5.6 0 1 0 11.2 0a5.6 5.6 0 1 0 -11.2 0M171.8 927.0a5.6 5.6 0 1 0 11.2 0a5.6 5.6 0 1 0 -11.2 0M171.8 924.1a5.6 5.6 0 1 0 11.2 0a5.6 5.6 0 1 0 -11.2 0M171.8 921.3a5.6 5.6 0 1 0 11.2 0a5.6 5.6 0 1 0 -11.2 0M171.8 918.4a5.6 5.6 0 1 0 11.2 0a5.6 5.6 0 1 0 -11.2 0M171.8 915.5a5.6 5.6 0 1 0 11.2 0a5.6 5.6 0 1 0 -11.2 0M171.8 912.6a5.6 5.6 0 1 0 11.2 0a5.6 5.6 0 1 0 -11.2 0M171.8 909.7a5.6 5.6 0 1 0 11.2 0a5.6 5.6 0 1 0 -11.2 0M171.8 906.8a5.6 5.6 0 1 0 11.2 0a5.6 5.6 0 1 0 -11.2 0M171.8 904.0a5.6 5.6 0 1 0 11.2 0a5.6 5.6 0 1 0 -11.2 0M171.8 901.1a5.6 5.6 0 1 0 11.2 0a5.6 5.6 0 1 0 -11.2 0M171.8 898.2a5.6 5.6 0 1 0 11.2 0a5.6 5.6 0 1 0 -11.2 0M171.8 895.3a5.6 5.6 0 1 0 11.2 0a5.6 5.6 0 1 0 -11.2 0M171.8 892.4a5.6 5.6 0 1 0 11.2 0a5.6 5.6 0 1 0 -11.2 0M171.8 889.6a5.6 5.6 0 1 0 11.2 0a5.6 5.6 0 1 0 -11.2 0M171.8 886.7a5.6 5.6 0 1 0 11.2 0a5.6 5.6 0 1 0 -11.2 0M171.8 883.8a5.6 5.6 0 1 0 11.2 0a5.6 5.6 0 1 0 -11.2 0M171.8 880.9a5.6 5.6 0 1 0 11.2 0a5.6 5.6 0 1 0 -11.2 0M171.8 878.0a5.6 5.6 0 1 0 11.2 0a5.6 5.6 0 1 0 -11.2 0M171.8 875.1a5.6 5.6 0 1 0 11.2 0a5.6 5.6 0 1 0 -11.2 0M171.8 872.3a5.6 5.6 0 1 0 11.2 0a5.6 5.6 0 1 0 -11.2 0M171.8 869.4a5.6 5.6 0 1 0 11.2 0a5.6 5.6 0 1 0 -11.2 0M171.8 866.5a5.6 5.6 0 1 0 11.2 0a5.6 5.6 0 1 0 -11.2 0M171.8 863.6a5.6 5.6 0 1 0 11.2 0a5.6 5.6 0 1 0 -11.2 0M171.8 860.7a5.6 5.6 0 1 0 11.2 0a5.6 5.6 0 1 0 -11.2 0M171.8 857.9a5.6 5.6 0 1 0 11.2 0a5.6 5.6 0 1 0 -11.2 0M171.8 855.0a5.6 5.6 0 1 0 11.2 0a5.6 5.6 0 1 0 -11.2 0M171.8 852.1a5.6 5.6 0 1 0 11.2 0a5.6 5.6 0 1 0 -11.2 0M173.5 929.9a5.6 5.6 0 1 0 11.2 0a5.6 5.6 0 1 0 -11.2 0M173.5 927.0a5.6 5.6 0 1 0 11.2 0a5.6 5.6 0 1 0 -11.2 0M173.5 924.1a5.6 5.6 0 1 0 11.2 0a5.6 5.6 0 1 0 -11.2 0M173.5 921.3a5.6 5.6 0 1 0 11.2 0a5.6 5.6 0 1 0 -11.2 0M173.5 918.4a5.6 5.6 0 1 0 11.2 0a5.6 5.6 0 1 0 -11.2 0M173.5 915.5a5.6 5.6 0 1 0 11.2 0a5.6 5.6 0 1 0 -11.2 0M173.5 912.6a5.6 5.6 0 1 0 11.2 0a5.6 5.6 0 1 0 -11.2 0M173.5 909.7a5.6 5.6 0 1 0 11.2 0a5.6 5.6 0 1 0 -11.2 0M173.5 906.8a5.6 5.6 0 1 0 11.2 0a5.6 5.6 0 1 0 -11.2 0M173.5 904.0a5.6 5.6 0 1 0 11.2 0a5.6 5.6 0 1 0 -11.2 0M173.5 901.1a5.6 5.6 0 1 0 11.2 0a5.6 5.6 0 1 0 -11.2 0M173.5 898.2a5.6 5.6 0 1 0 11.2 0a5.6 5.6 0 1 0 -11.2 0M173.5 895.3a5.6 5.6 0 1 0 11.2 0a5.6 5.6 0 1 0 -11.2 0M173.5 892.4a5.6 5.6 0 1 0 11.2 0a5.6 5.6 0 1 0 -11.2 0M173.5 889.6a5.6 5.6 0 1 0 11.2 0a5.6 5.6 0 1 0 -11.2 0M173.5 886.7a5.6 5.6 0 1 0 11.2 0a5.6 5.6 0 1 0 -11.2 0M173.5 883.8a5.6 5.6 0 1 0 11.2 0a5.6 5.6 0 1 0 -11.2 0M173.5 880.9a5.6 5.6 0 1 0 11.2 0a5.6 5.6 0 1 0 -11.2 0M173.5 878.0a5.6 5.6 0 1 0 11.2 0a5.6 5.6 0 1 0 -11.2 0M173.5 875.1a5.6 5.6 0 1 0 11.2 0a5.6 5.6 0 1 0 -11.2 0M173.5 872.3a5.6 5.6 0 1 0 11.2 0a5.6 5.6 0 1 0 -11.2 0M173.5 869.4a5.6 5.6 0 1 0 11.2 0a5.6 5.6 0 1 0 -11.2 0M173.5 866.5a5.6 5.6 0 1 0 11.2 0a5.6 5.6 0 1 0 -11.2 0M173.5 863.6a5.6 5.6 0 1 0 11.2 0a5.6 5.6 0 1 0 -11.2 0M173.5 860.7a5.6 5.6 0 1 0 11.2 0a5.6 5.6 0 1 0 -11.2 0M175.2 929.9a5.6 5.6 0 1 0 11.2 0a5.6 5.6 0 1 0 -11.2 0M175.2 927.0a5.6 5.6 0 1 0 11.2 0a5.6 5.6 0 1 0 -11.2 0M175.2 924.1a5.6 5.6 0 1 0 11.2 0a5.6 5.6 0 1 0 -11.2 0M175.2 921.3a5.6 5.6 0 1 0 11.2 0a5.6 5.6 0 1 0 -11.2 0M175.2 918.4a5.6 5.6 0 1 0 11.2 0a5.6 5.6 0 1 0 -11.2 0M175.2 915.5a5.6 5.6 0 1 0 11.2 0a5.6 5.6 0 1 0 -11.2 0M175.2 912.6a5.6 5.6 0 1 0 11.2 0a5.6 5.6 0 1 0 -11.2 0M175.2 909.7a5.6 5.6 0 1 0 11.2 0a5.6 5.6 0 1 0 -11.2 0M175.2 906.8a5.6 5.6 0 1 0 11.2 0a5.6 5.6 0 1 0 -11.2 0M175.2 904.0a5.6 5.6 0 1 0 11.2 0a5.6 5.6 0 1 0 -11.2 0M175.2 901.1a5.6 5.6 0 1 0 11.2 0a5.6 5.6 0 1 0 -11.2 0M175.2 898.2a5.6 5.6 0 1 0 11.2 0a5.6 5.6 0 1 0 -11.2 0M175.2 895.3a5.6 5.6 0 1 0 11.2 0a5.6 5.6 0 1 0 -11.2 0M175.2 892.4a5.6 5.6 0 1 0 11.2 0a5.6 5.6 0 1 0 -11.2 0M175.2 889.6a5.6 5.6 0 1 0 11.2 0a5.6 5.6 0 1 0 -11.2 0M175.2 886.7a5.6 5.6 0 1 0 11.2 0a5.6 5.6 0 1 0 -11.2 0M175.2 883.8a5.6 5.6 0 1 0 11.2 0a5.6 5.6 0 1 0 -11.2 0M175.2 880.9a5.6 5.6 0 1 0 11.2 0a5.6 5.6 0 1 0 -11.2 0M175.2 878.0a5.6 5.6 0 1 0 11.2 0a5.6 5.6 0 1 0 -11.2 0M175.2 875.1a5.6 5.6 0 1 0 11.2 0a5.6 5.6 0 1 0 -11.2 0M175.2 872.3a5.6 5.6 0 1 0 11.2 0a5.6 5.6 0 1 0 -11.2 0M175.2 869.4a5.6 5.6 0 1 0 11.2 0a5.6 5.6 0 1 0 -11.2 0M175.2 866.5a5.6 5.6 0 1 0 11.2 0a5.6 5.6 0 1 0 -11.2 0M175.2 860.7a5.6 5.6 0 1 0 11.2 0a5.6 5.6 0 1 0 -11.2 0M177.0 929.9a5.6 5.6 0 1 0 11.2 0a5.6 5.6 0 1 0 -11.2 0M177.0 927.0a5.6 5.6 0 1 0 11.2 0a5.6 5.6 0 1 0 -11.2 0M177.0 924.1a5.6 5.6 0 1 0 11.2 0a5.6 5.6 0 1 0 -11.2 0M177.0 921.3a5.6 5.6 0 1 0 11.2 0a5.6 5.6 0 1 0 -11.2 0M177.0 918.4a5.6 5.6 0 1 0 11.2 0a5.6 5.6 0 1 0 -11.2 0M177.0 915.5a5.6 5.6 0 1 0 11.2 0a5.6 5.6 0 1 0 -11.2 0M177.0 912.6a5.6 5.6 0 1 0 11.2 0a5.6 5.6 0 1 0 -11.2 0M177.0 909.7a5.6 5.6 0 1 0 11.2 0a5.6 5.6 0 1 0 -11.2 0M177.0 906.8a5.6 5.6 0 1 0 11.2 0a5.6 5.6 0 1 0 -11.2 0M177.0 904.0a5.6 5.6 0 1 0 11.2 0a5.6 5.6 0 1 0 -11.2 0M177.0 901.1a5.6 5.6 0 1 0 11.2 0a5.6 5.6 0 1 0 -11.2 0M177.0 898.2a5.6 5.6 0 1 0 11.2 0a5.6 5.6 0 1 0 -11.2 0M177.0 895.3a5.6 5.6 0 1 0 11.2 0a5.6 5.6 0 1 0 -11.2 0M177.0 892.4a5.6 5.6 0 1 0 11.2 0a5.6 5.6 0 1 0 -11.2 0M177.0 889.6a5.6 5.6 0 1 0 11.2 0a5.6 5.6 0 1 0 -11.2 0M177.0 886.7a5.6 5.6 0 1 0 11.2 0a5.6 5.6 0 1 0 -11.2 0M177.0 883.8a5.6 5.6 0 1 0 11.2 0a5.6 5.6 0 1 0 -11.2 0M177.0 880.9a5.6 5.6 0 1 0 11.2 0a5.6 5.6 0 1 0 -11.2 0M177.0 878.0a5.6 5.6 0 1 0 11.2 0a5.6 5.6 0 1 0 -11.2 0M177.0 875.1a5.6 5.6 0 1 0 11.2 0a5.6 5.6 0 1 0 -11.2 0M177.0 872.3a5.6 5.6 0 1 0 11.2 0a5.6 5.6 0 1 0 -11.2 0M178.7 929.9a5.6 5.6 0 1 0 11.2 0a5.6 5.6 0 1 0 -11.2 0M178.7 927.0a5.6 5.6 0 1 0 11.2 0a5.6 5.6 0 1 0 -11.2 0M178.7 924.1a5.6 5.6 0 1 0 11.2 0a5.6 5.6 0 1 0 -11.2 0M178.7 921.3a5.6 5.6 0 1 0 11.2 0a5.6 5.6 0 1 0 -11.2 0M178.7 918.4a5.6 5.6 0 1 0 11.2 0a5.6 5.6 0 1 0 -11.2 0M178.7 915.5a5.6 5.6 0 1 0 11.2 0a5.6 5.6 0 1 0 -11.2 0M178.7 912.6a5.6 5.6 0 1 0 11.2 0a5.6 5.6 0 1 0 -11.2 0M178.7 909.7a5.6 5.6 0 1 0 11.2 0a5.6 5.6 0 1 0 -11.2 0M178.7 906.8a5.6 5.6 0 1 0 11.2 0a5.6 5.6 0 1 0 -11.2 0M178.7 904.0a5.6 5.6 0 1 0 11.2 0a5.6 5.6 0 1 0 -11.2 0M178.7 901.1a5.6 5.6 0 1 0 11.2 0a5.6 5.6 0 1 0 -11.2 0M178.7 898.2a5.6 5.6 0 1 0 11.2 0a5.6 5.6 0 1 0 -11.2 0M178.7 895.3a5.6 5.6 0 1 0 11.2 0a5.6 5.6 0 1 0 -11.2 0M178.7 892.4a5.6 5.6 0 1 0 11.2 0a5.6 5.6 0 1 0 -11.2 0M178.7 889.6a5.6 5.6 0 1 0 11.2 0a5.6 5.6 0 1 0 -11.2 0M178.7 886.7a5.6 5.6 0 1 0 11.2 0a5.6 5.6 0 1 0 -11.2 0M178.7 880.9a5.6 5.6 0 1 0 11.2 0a5.6 5.6 0 1 0 -11.2 0M178.7 875.1a5.6 5.6 0 1 0 11.2 0a5.6 5.6 0 1 0 -11.2 0M180.4 929.9a5.6 5.6 0 1 0 11.2 0a5.6 5.6 0 1 0 -11.2 0M180.4 927.0a5.6 5.6 0 1 0 11.2 0a5.6 5.6 0 1 0 -11.2 0M180.4 924.1a5.6 5.6 0 1 0 11.2 0a5.6 5.6 0 1 0 -11.2 0M180.4 921.3a5.6 5.6 0 1 0 11.2 0a5.6 5.6 0 1 0 -11.2 0M180.4 918.4a5.6 5.6 0 1 0 11.2 0a5.6 5.6 0 1 0 -11.2 0M180.4 915.5a5.6 5.6 0 1 0 11.2 0a5.6 5.6 0 1 0 -11.2 0M180.4 912.6a5.6 5.6 0 1 0 11.2 0a5.6 5.6 0 1 0 -11.2 0M180.4 909.7a5.6 5.6 0 1 0 11.2 0a5.6 5.6 0 1 0 -11.2 0M180.4 906.8a5.6 5.6 0 1 0 11.2 0a5.6 5.6 0 1 0 -11.2 0M180.4 904.0a5.6 5.6 0 1 0 11.2 0a5.6 5.6 0 1 0 -11.2 0M180.4 901.1a5.6 5.6 0 1 0 11.2 0a5.6 5.6 0 1 0 -11.2 0M180.4 898.2a5.6 5.6 0 1 0 11.2 0a5.6 5.6 0 1 0 -11.2 0M180.4 895.3a5.6 5.6 0 1 0 11.2 0a5.6 5.6 0 1 0 -11.2 0M180.4 892.4a5.6 5.6 0 1 0 11.2 0a5.6 5.6 0 1 0 -11.2 0M180.4 889.6a5.6 5.6 0 1 0 11.2 0a5.6 5.6 0 1 0 -11.2 0M180.4 883.8a5.6 5.6 0 1 0 11.2 0a5.6 5.6 0 1 0 -11.2 0M182.2 929.9a5.6 5.6 0 1 0 11.2 0a5.6 5.6 0 1 0 -11.2 0M182.2 927.0a5.6 5.6 0 1 0 11.2 0a5.6 5.6 0 1 0 -11.2 0M182.2 924.1a5.6 5.6 0 1 0 11.2 0a5.6 5.6 0 1 0 -11.2 0M182.2 921.3a5.6 5.6 0 1 0 11.2 0a5.6 5.6 0 1 0 -11.2 0M182.2 918.4a5.6 5.6 0 1 0 11.2 0a5.6 5.6 0 1 0 -11.2 0M182.2 915.5a5.6 5.6 0 1 0 11.2 0a5.6 5.6 0 1 0 -11.2 0M182.2 912.6a5.6 5.6 0 1 0 11.2 0a5.6 5.6 0 1 0 -11.2 0M182.2 909.7a5.6 5.6 0 1 0 11.2 0a5.6 5.6 0 1 0 -11.2 0M182.2 906.8a5.6 5.6 0 1 0 11.2 0a5.6 5.6 0 1 0 -11.2 0M182.2 904.0a5.6 5.6 0 1 0 11.2 0a5.6 5.6 0 1 0 -11.2 0M182.2 901.1a5.6 5.6 0 1 0 11.2 0a5.6 5.6 0 1 0 -11.2 0M182.2 898.2a5.6 5.6 0 1 0 11.2 0a5.6 5.6 0 1 0 -11.2 0M182.2 895.3a5.6 5.6 0 1 0 11.2 0a5.6 5.6 0 1 0 -11.2 0M182.2 892.4a5.6 5.6 0 1 0 11.2 0a5.6 5.6 0 1 0 -11.2 0M183.9 929.9a5.6 5.6 0 1 0 11.2 0a5.6 5.6 0 1 0 -11.2 0M183.9 927.0a5.6 5.6 0 1 0 11.2 0a5.6 5.6 0 1 0 -11.2 0M183.9 924.1a5.6 5.6 0 1 0 11.2 0a5.6 5.6 0 1 0 -11.2 0M183.9 921.3a5.6 5.6 0 1 0 11.2 0a5.6 5.6 0 1 0 -11.2 0M183.9 918.4a5.6 5.6 0 1 0 11.2 0a5.6 5.6 0 1 0 -11.2 0M183.9 915.5a5.6 5.6 0 1 0 11.2 0a5.6 5.6 0 1 0 -11.2 0M183.9 912.6a5.6 5.6 0 1 0 11.2 0a5.6 5.6 0 1 0 -11.2 0M183.9 909.7a5.6 5.6 0 1 0 11.2 0a5.6 5.6 0 1 0 -11.2 0M183.9 906.8a5.6 5.6 0 1 0 11.2 0a5.6 5.6 0 1 0 -11.2 0M183.9 904.0a5.6 5.6 0 1 0 11.2 0a5.6 5.6 0 1 0 -11.2 0M183.9 901.1a5.6 5.6 0 1 0 11.2 0a5.6 5.6 0 1 0 -11.2 0M183.9 898.2a5.6 5.6 0 1 0 11.2 0a5.6 5.6 0 1 0 -11.2 0M183.9 895.3a5.6 5.6 0 1 0 11.2 0a5.6 5.6 0 1 0 -11.2 0M185.6 929.9a5.6 5.6 0 1 0 11.2 0a5.6 5.6 0 1 0 -11.2 0M185.6 927.0a5.6 5.6 0 1 0 11.2 0a5.6 5.6 0 1 0 -11.2 0M185.6 924.1a5.6 5.6 0 1 0 11.2 0a5.6 5.6 0 1 0 -11.2 0M185.6 921.3a5.6 5.6 0 1 0 11.2 0a5.6 5.6 0 1 0 -11.2 0M185.6 918.4a5.6 5.6 0 1 0 11.2 0a5.6 5.6 0 1 0 -11.2 0M185.6 915.5a5.6 5.6 0 1 0 11.2 0a5.6 5.6 0 1 0 -11.2 0M185.6 912.6a5.6 5.6 0 1 0 11.2 0a5.6 5.6 0 1 0 -11.2 0M185.6 909.7a5.6 5.6 0 1 0 11.2 0a5.6 5.6 0 1 0 -11.2 0M185.6 906.8a5.6 5.6 0 1 0 11.2 0a5.6 5.6 0 1 0 -11.2 0M185.6 904.0a5.6 5.6 0 1 0 11.2 0a5.6 5.6 0 1 0 -11.2 0M185.6 901.1a5.6 5.6 0 1 0 11.2 0a5.6 5.6 0 1 0 -11.2 0M185.6 898.2a5.6 5.6 0 1 0 11.2 0a5.6 5.6 0 1 0 -11.2 0M185.6 886.7a5.6 5.6 0 1 0 11.2 0a5.6 5.6 0 1 0 -11.2 0M187.3 929.9a5.6 5.6 0 1 0 11.2 0a5.6 5.6 0 1 0 -11.2 0M187.3 927.0a5.6 5.6 0 1 0 11.2 0a5.6 5.6 0 1 0 -11.2 0M187.3 924.1a5.6 5.6 0 1 0 11.2 0a5.6 5.6 0 1 0 -11.2 0M187.3 921.3a5.6 5.6 0 1 0 11.2 0a5.6 5.6 0 1 0 -11.2 0M187.3 918.4a5.6 5.6 0 1 0 11.2 0a5.6 5.6 0 1 0 -11.2 0M187.3 915.5a5.6 5.6 0 1 0 11.2 0a5.6 5.6 0 1 0 -11.2 0M187.3 912.6a5.6 5.6 0 1 0 11.2 0a5.6 5.6 0 1 0 -11.2 0M187.3 909.7a5.6 5.6 0 1 0 11.2 0a5.6 5.6 0 1 0 -11.2 0M187.3 906.8a5.6 5.6 0 1 0 11.2 0a5.6 5.6 0 1 0 -11.2 0M187.3 904.0a5.6 5.6 0 1 0 11.2 0a5.6 5.6 0 1 0 -11.2 0M187.3 901.1a5.6 5.6 0 1 0 11.2 0a5.6 5.6 0 1 0 -11.2 0M189.1 929.9a5.6 5.6 0 1 0 11.2 0a5.6 5.6 0 1 0 -11.2 0M189.1 927.0a5.6 5.6 0 1 0 11.2 0a5.6 5.6 0 1 0 -11.2 0M189.1 924.1a5.6 5.6 0 1 0 11.2 0a5.6 5.6 0 1 0 -11.2 0M189.1 921.3a5.6 5.6 0 1 0 11.2 0a5.6 5.6 0 1 0 -11.2 0M189.1 918.4a5.6 5.6 0 1 0 11.2 0a5.6 5.6 0 1 0 -11.2 0M189.1 915.5a5.6 5.6 0 1 0 11.2 0a5.6 5.6 0 1 0 -11.2 0M189.1 912.6a5.6 5.6 0 1 0 11.2 0a5.6 5.6 0 1 0 -11.2 0M189.1 909.7a5.6 5.6 0 1 0 11.2 0a5.6 5.6 0 1 0 -11.2 0M189.1 906.8a5.6 5.6 0 1 0 11.2 0a5.6 5.6 0 1 0 -11.2 0M189.1 904.0a5.6 5.6 0 1 0 11.2 0a5.6 5.6 0 1 0 -11.2 0M189.1 901.1a5.6 5.6 0 1 0 11.2 0a5.6 5.6 0 1 0 -11.2 0M190.8 929.9a5.6 5.6 0 1 0 11.2 0a5.6 5.6 0 1 0 -11.2 0M190.8 927.0a5.6 5.6 0 1 0 11.2 0a5.6 5.6 0 1 0 -11.2 0M190.8 924.1a5.6 5.6 0 1 0 11.2 0a5.6 5.6 0 1 0 -11.2 0M190.8 921.3a5.6 5.6 0 1 0 11.2 0a5.6 5.6 0 1 0 -11.2 0M190.8 918.4a5.6 5.6 0 1 0 11.2 0a5.6 5.6 0 1 0 -11.2 0M190.8 915.5a5.6 5.6 0 1 0 11.2 0a5.6 5.6 0 1 0 -11.2 0M190.8 912.6a5.6 5.6 0 1 0 11.2 0a5.6 5.6 0 1 0 -11.2 0M190.8 909.7a5.6 5.6 0 1 0 11.2 0a5.6 5.6 0 1 0 -11.2 0M190.8 906.8a5.6 5.6 0 1 0 11.2 0a5.6 5.6 0 1 0 -11.2 0M190.8 901.1a5.6 5.6 0 1 0 11.2 0a5.6 5.6 0 1 0 -11.2 0M192.5 929.9a5.6 5.6 0 1 0 11.2 0a5.6 5.6 0 1 0 -11.2 0M192.5 927.0a5.6 5.6 0 1 0 11.2 0a5.6 5.6 0 1 0 -11.2 0M192.5 924.1a5.6 5.6 0 1 0 11.2 0a5.6 5.6 0 1 0 -11.2 0M192.5 921.3a5.6 5.6 0 1 0 11.2 0a5.6 5.6 0 1 0 -11.2 0M192.5 918.4a5.6 5.6 0 1 0 11.2 0a5.6 5.6 0 1 0 -11.2 0M192.5 915.5a5.6 5.6 0 1 0 11.2 0a5.6 5.6 0 1 0 -11.2 0M192.5 912.6a5.6 5.6 0 1 0 11.2 0a5.6 5.6 0 1 0 -11.2 0M192.5 909.7a5.6 5.6 0 1 0 11.2 0a5.6 5.6 0 1 0 -11.2 0M192.5 906.8a5.6 5.6 0 1 0 11.2 0a5.6 5.6 0 1 0 -11.2 0M192.5 904.0a5.6 5.6 0 1 0 11.2 0a5.6 5.6 0 1 0 -11.2 0M194.3 929.9a5.6 5.6 0 1 0 11.2 0a5.6 5.6 0 1 0 -11.2 0M194.3 927.0a5.6 5.6 0 1 0 11.2 0a5.6 5.6 0 1 0 -11.2 0M194.3 924.1a5.6 5.6 0 1 0 11.2 0a5.6 5.6 0 1 0 -11.2 0M194.3 921.3a5.6 5.6 0 1 0 11.2 0a5.6 5.6 0 1 0 -11.2 0M194.3 918.4a5.6 5.6 0 1 0 11.2 0a5.6 5.6 0 1 0 -11.2 0M194.3 915.5a5.6 5.6 0 1 0 11.2 0a5.6 5.6 0 1 0 -11.2 0M194.3 912.6a5.6 5.6 0 1 0 11.2 0a5.6 5.6 0 1 0 -11.2 0M194.3 909.7a5.6 5.6 0 1 0 11.2 0a5.6 5.6 0 1 0 -11.2 0M194.3 906.8a5.6 5.6 0 1 0 11.2 0a5.6 5.6 0 1 0 -11.2 0M194.3 898.2a5.6 5.6 0 1 0 11.2 0a5.6 5.6 0 1 0 -11.2 0M196.0 929.9a5.6 5.6 0 1 0 11.2 0a5.6 5.6 0 1 0 -11.2 0M196.0 927.0a5.6 5.6 0 1 0 11.2 0a5.6 5.6 0 1 0 -11.2 0M196.0 924.1a5.6 5.6 0 1 0 11.2 0a5.6 5.6 0 1 0 -11.2 0M196.0 921.3a5.6 5.6 0 1 0 11.2 0a5.6 5.6 0 1 0 -11.2 0M196.0 918.4a5.6 5.6 0 1 0 11.2 0a5.6 5.6 0 1 0 -11.2 0M196.0 915.5a5.6 5.6 0 1 0 11.2 0a5.6 5.6 0 1 0 -11.2 0M196.0 912.6a5.6 5.6 0 1 0 11.2 0a5.6 5.6 0 1 0 -11.2 0M196.0 909.7a5.6 5.6 0 1 0 11.2 0a5.6 5.6 0 1 0 -11.2 0M196.0 906.8a5.6 5.6 0 1 0 11.2 0a5.6 5.6 0 1 0 -11.2 0M197.7 929.9a5.6 5.6 0 1 0 11.2 0a5.6 5.6 0 1 0 -11.2 0M197.7 927.0a5.6 5.6 0 1 0 11.2 0a5.6 5.6 0 1 0 -11.2 0M197.7 924.1a5.6 5.6 0 1 0 11.2 0a5.6 5.6 0 1 0 -11.2 0M197.7 921.3a5.6 5.6 0 1 0 11.2 0a5.6 5.6 0 1 0 -11.2 0M197.7 918.4a5.6 5.6 0 1 0 11.2 0a5.6 5.6 0 1 0 -11.2 0M197.7 915.5a5.6 5.6 0 1 0 11.2 0a5.6 5.6 0 1 0 -11.2 0M197.7 912.6a5.6 5.6 0 1 0 11.2 0a5.6 5.6 0 1 0 -11.2 0M197.7 909.7a5.6 5.6 0 1 0 11.2 0a5.6 5.6 0 1 0 -11.2 0M197.7 906.8a5.6 5.6 0 1 0 11.2 0a5.6 5.6 0 1 0 -11.2 0M199.5 929.9a5.6 5.6 0 1 0 11.2 0a5.6 5.6 0 1 0 -11.2 0M199.5 927.0a5.6 5.6 0 1 0 11.2 0a5.6 5.6 0 1 0 -11.2 0M199.5 924.1a5.6 5.6 0 1 0 11.2 0a5.6 5.6 0 1 0 -11.2 0M199.5 921.3a5.6 5.6 0 1 0 11.2 0a5.6 5.6 0 1 0 -11.2 0M199.5 918.4a5.6 5.6 0 1 0 11.2 0a5.6 5.6 0 1 0 -11.2 0M199.5 915.5a5.6 5.6 0 1 0 11.2 0a5.6 5.6 0 1 0 -11.2 0M199.5 912.6a5.6 5.6 0 1 0 11.2 0a5.6 5.6 0 1 0 -11.2 0M201.2 929.9a5.6 5.6 0 1 0 11.2 0a5.6 5.6 0 1 0 -11.2 0M201.2 927.0a5.6 5.6 0 1 0 11.2 0a5.6 5.6 0 1 0 -11.2 0M201.2 924.1a5.6 5.6 0 1 0 11.2 0a5.6 5.6 0 1 0 -11.2 0M201.2 921.3a5.6 5.6 0 1 0 11.2 0a5.6 5.6 0 1 0 -11.2 0M201.2 918.4a5.6 5.6 0 1 0 11.2 0a5.6 5.6 0 1 0 -11.2 0M201.2 915.5a5.6 5.6 0 1 0 11.2 0a5.6 5.6 0 1 0 -11.2 0M201.2 912.6a5.6 5.6 0 1 0 11.2 0a5.6 5.6 0 1 0 -11.2 0M202.9 929.9a5.6 5.6 0 1 0 11.2 0a5.6 5.6 0 1 0 -11.2 0M202.9 927.0a5.6 5.6 0 1 0 11.2 0a5.6 5.6 0 1 0 -11.2 0M202.9 924.1a5.6 5.6 0 1 0 11.2 0a5.6 5.6 0 1 0 -11.2 0M202.9 921.3a5.6 5.6 0 1 0 11.2 0a5.6 5.6 0 1 0 -11.2 0M202.9 918.4a5.6 5.6 0 1 0 11.2 0a5.6 5.6 0 1 0 -11.2 0M202.9 915.5a5.6 5.6 0 1 0 11.2 0a5.6 5.6 0 1 0 -11.2 0M202.9 912.6a5.6 5.6 0 1 0 11.2 0a5.6 5.6 0 1 0 -11.2 0M204.7 929.9a5.6 5.6 0 1 0 11.2 0a5.6 5.6 0 1 0 -11.2 0M204.7 927.0a5.6 5.6 0 1 0 11.2 0a5.6 5.6 0 1 0 -11.2 0M204.7 924.1a5.6 5.6 0 1 0 11.2 0a5.6 5.6 0 1 0 -11.2 0M204.7 921.3a5.6 5.6 0 1 0 11.2 0a5.6 5.6 0 1 0 -11.2 0M204.7 918.4a5.6 5.6 0 1 0 11.2 0a5.6 5.6 0 1 0 -11.2 0M204.7 915.5a5.6 5.6 0 1 0 11.2 0a5.6 5.6 0 1 0 -11.2 0M204.7 912.6a5.6 5.6 0 1 0 11.2 0a5.6 5.6 0 1 0 -11.2 0M204.7 909.7a5.6 5.6 0 1 0 11.2 0a5.6 5.6 0 1 0 -11.2 0M206.4 929.9a5.6 5.6 0 1 0 11.2 0a5.6 5.6 0 1 0 -11.2 0M206.4 927.0a5.6 5.6 0 1 0 11.2 0a5.6 5.6 0 1 0 -11.2 0M206.4 924.1a5.6 5.6 0 1 0 11.2 0a5.6 5.6 0 1 0 -11.2 0M206.4 921.3a5.6 5.6 0 1 0 11.2 0a5.6 5.6 0 1 0 -11.2 0M206.4 918.4a5.6 5.6 0 1 0 11.2 0a5.6 5.6 0 1 0 -11.2 0M206.4 915.5a5.6 5.6 0 1 0 11.2 0a5.6 5.6 0 1 0 -11.2 0M208.1 929.9a5.6 5.6 0 1 0 11.2 0a5.6 5.6 0 1 0 -11.2 0M208.1 927.0a5.6 5.6 0 1 0 11.2 0a5.6 5.6 0 1 0 -11.2 0M208.1 924.1a5.6 5.6 0 1 0 11.2 0a5.6 5.6 0 1 0 -11.2 0M208.1 921.3a5.6 5.6 0 1 0 11.2 0a5.6 5.6 0 1 0 -11.2 0M208.1 918.4a5.6 5.6 0 1 0 11.2 0a5.6 5.6 0 1 0 -11.2 0M208.1 915.5a5.6 5.6 0 1 0 11.2 0a5.6 5.6 0 1 0 -11.2 0M209.8 929.9a5.6 5.6 0 1 0 11.2 0a5.6 5.6 0 1 0 -11.2 0M209.8 927.0a5.6 5.6 0 1 0 11.2 0a5.6 5.6 0 1 0 -11.2 0M209.8 924.1a5.6 5.6 0 1 0 11.2 0a5.6 5.6 0 1 0 -11.2 0M209.8 921.3a5.6 5.6 0 1 0 11.2 0a5.6 5.6 0 1 0 -11.2 0M209.8 918.4a5.6 5.6 0 1 0 11.2 0a5.6 5.6 0 1 0 -11.2 0M209.8 915.5a5.6 5.6 0 1 0 11.2 0a5.6 5.6 0 1 0 -11.2 0M211.6 929.9a5.6 5.6 0 1 0 11.2 0a5.6 5.6 0 1 0 -11.2 0M211.6 927.0a5.6 5.6 0 1 0 11.2 0a5.6 5.6 0 1 0 -11.2 0M211.6 924.1a5.6 5.6 0 1 0 11.2 0a5.6 5.6 0 1 0 -11.2 0M211.6 921.3a5.6 5.6 0 1 0 11.2 0a5.6 5.6 0 1 0 -11.2 0M211.6 918.4a5.6 5.6 0 1 0 11.2 0a5.6 5.6 0 1 0 -11.2 0M211.6 915.5a5.6 5.6 0 1 0 11.2 0a5.6 5.6 0 1 0 -11.2 0M213.3 929.9a5.6 5.6 0 1 0 11.2 0a5.6 5.6 0 1 0 -11.2 0M213.3 927.0a5.6 5.6 0 1 0 11.2 0a5.6 5.6 0 1 0 -11.2 0M213.3 924.1a5.6 5.6 0 1 0 11.2 0a5.6 5.6 0 1 0 -11.2 0M213.3 921.3a5.6 5.6 0 1 0 11.2 0a5.6 5.6 0 1 0 -11.2 0M213.3 918.4a5.6 5.6 0 1 0 11.2 0a5.6 5.6 0 1 0 -11.2 0M213.3 915.5a5.6 5.6 0 1 0 11.2 0a5.6 5.6 0 1 0 -11.2 0M213.3 912.6a5.6 5.6 0 1 0 11.2 0a5.6 5.6 0 1 0 -11.2 0M215.0 929.9a5.6 5.6 0 1 0 11.2 0a5.6 5.6 0 1 0 -11.2 0M215.0 927.0a5.6 5.6 0 1 0 11.2 0a5.6 5.6 0 1 0 -11.2 0M215.0 924.1a5.6 5.6 0 1 0 11.2 0a5.6 5.6 0 1 0 -11.2 0M215.0 921.3a5.6 5.6 0 1 0 11.2 0a5.6 5.6 0 1 0 -11.2 0M215.0 918.4a5.6 5.6 0 1 0 11.2 0a5.6 5.6 0 1 0 -11.2 0M215.0 915.5a5.6 5.6 0 1 0 11.2 0a5.6 5.6 0 1 0 -11.2 0M216.8 929.9a5.6 5.6 0 1 0 11.2 0a5.6 5.6 0 1 0 -11.2 0M216.8 927.0a5.6 5.6 0 1 0 11.2 0a5.6 5.6 0 1 0 -11.2 0M216.8 924.1a5.6 5.6 0 1 0 11.2 0a5.6 5.6 0 1 0 -11.2 0M216.8 921.3a5.6 5.6 0 1 0 11.2 0a5.6 5.6 0 1 0 -11.2 0M216.8 918.4a5.6 5.6 0 1 0 11.2 0a5.6 5.6 0 1 0 -11.2 0M216.8 915.5a5.6 5.6 0 1 0 11.2 0a5.6 5.6 0 1 0 -11.2 0M216.8 912.6a5.6 5.6 0 1 0 11.2 0a5.6 5.6 0 1 0 -11.2 0M218.5 929.9a5.6 5.6 0 1 0 11.2 0a5.6 5.6 0 1 0 -11.2 0M218.5 927.0a5.6 5.6 0 1 0 11.2 0a5.6 5.6 0 1 0 -11.2 0M218.5 924.1a5.6 5.6 0 1 0 11.2 0a5.6 5.6 0 1 0 -11.2 0M218.5 921.3a5.6 5.6 0 1 0 11.2 0a5.6 5.6 0 1 0 -11.2 0M218.5 918.4a5.6 5.6 0 1 0 11.2 0a5.6 5.6 0 1 0 -11.2 0M218.5 915.5a5.6 5.6 0 1 0 11.2 0a5.6 5.6 0 1 0 -11.2 0M218.5 904.0a5.6 5.6 0 1 0 11.2 0a5.6 5.6 0 1 0 -11.2 0M220.2 929.9a5.6 5.6 0 1 0 11.2 0a5.6 5.6 0 1 0 -11.2 0M220.2 927.0a5.6 5.6 0 1 0 11.2 0a5.6 5.6 0 1 0 -11.2 0M220.2 924.1a5.6 5.6 0 1 0 11.2 0a5.6 5.6 0 1 0 -11.2 0M220.2 921.3a5.6 5.6 0 1 0 11.2 0a5.6 5.6 0 1 0 -11.2 0M220.2 918.4a5.6 5.6 0 1 0 11.2 0a5.6 5.6 0 1 0 -11.2 0M220.2 915.5a5.6 5.6 0 1 0 11.2 0a5.6 5.6 0 1 0 -11.2 0M220.2 909.7a5.6 5.6 0 1 0 11.2 0a5.6 5.6 0 1 0 -11.2 0M222.0 929.9a5.6 5.6 0 1 0 11.2 0a5.6 5.6 0 1 0 -11.2 0M222.0 927.0a5.6 5.6 0 1 0 11.2 0a5.6 5.6 0 1 0 -11.2 0M222.0 924.1a5.6 5.6 0 1 0 11.2 0a5.6 5.6 0 1 0 -11.2 0M222.0 921.3a5.6 5.6 0 1 0 11.2 0a5.6 5.6 0 1 0 -11.2 0M222.0 918.4a5.6 5.6 0 1 0 11.2 0a5.6 5.6 0 1 0 -11.2 0M223.7 929.9a5.6 5.6 0 1 0 11.2 0a5.6 5.6 0 1 0 -11.2 0M223.7 927.0a5.6 5.6 0 1 0 11.2 0a5.6 5.6 0 1 0 -11.2 0M223.7 924.1a5.6 5.6 0 1 0 11.2 0a5.6 5.6 0 1 0 -11.2 0M223.7 921.3a5.6 5.6 0 1 0 11.2 0a5.6 5.6 0 1 0 -11.2 0M223.7 918.4a5.6 5.6 0 1 0 11.2 0a5.6 5.6 0 1 0 -11.2 0M223.7 906.8a5.6 5.6 0 1 0 11.2 0a5.6 5.6 0 1 0 -11.2 0M223.7 904.0a5.6 5.6 0 1 0 11.2 0a5.6 5.6 0 1 0 -11.2 0M225.4 929.9a5.6 5.6 0 1 0 11.2 0a5.6 5.6 0 1 0 -11.2 0M225.4 927.0a5.6 5.6 0 1 0 11.2 0a5.6 5.6 0 1 0 -11.2 0M225.4 924.1a5.6 5.6 0 1 0 11.2 0a5.6 5.6 0 1 0 -11.2 0M225.4 921.3a5.6 5.6 0 1 0 11.2 0a5.6 5.6 0 1 0 -11.2 0M225.4 918.4a5.6 5.6 0 1 0 11.2 0a5.6 5.6 0 1 0 -11.2 0M225.4 906.8a5.6 5.6 0 1 0 11.2 0a5.6 5.6 0 1 0 -11.2 0M227.2 929.9a5.6 5.6 0 1 0 11.2 0a5.6 5.6 0 1 0 -11.2 0M227.2 927.0a5.6 5.6 0 1 0 11.2 0a5.6 5.6 0 1 0 -11.2 0M227.2 924.1a5.6 5.6 0 1 0 11.2 0a5.6 5.6 0 1 0 -11.2 0M227.2 921.3a5.6 5.6 0 1 0 11.2 0a5.6 5.6 0 1 0 -11.2 0M227.2 918.4a5.6 5.6 0 1 0 11.2 0a5.6 5.6 0 1 0 -11.2 0M227.2 904.0a5.6 5.6 0 1 0 11.2 0a5.6 5.6 0 1 0 -11.2 0M228.9 929.9a5.6 5.6 0 1 0 11.2 0a5.6 5.6 0 1 0 -11.2 0M228.9 927.0a5.6 5.6 0 1 0 11.2 0a5.6 5.6 0 1 0 -11.2 0M228.9 924.1a5.6 5.6 0 1 0 11.2 0a5.6 5.6 0 1 0 -11.2 0M228.9 921.3a5.6 5.6 0 1 0 11.2 0a5.6 5.6 0 1 0 -11.2 0M228.9 918.4a5.6 5.6 0 1 0 11.2 0a5.6 5.6 0 1 0 -11.2 0M230.6 929.9a5.6 5.6 0 1 0 11.2 0a5.6 5.6 0 1 0 -11.2 0M230.6 927.0a5.6 5.6 0 1 0 11.2 0a5.6 5.6 0 1 0 -11.2 0M230.6 924.1a5.6 5.6 0 1 0 11.2 0a5.6 5.6 0 1 0 -11.2 0M230.6 921.3a5.6 5.6 0 1 0 11.2 0a5.6 5.6 0 1 0 -11.2 0M230.6 918.4a5.6 5.6 0 1 0 11.2 0a5.6 5.6 0 1 0 -11.2 0M232.3 929.9a5.6 5.6 0 1 0 11.2 0a5.6 5.6 0 1 0 -11.2 0M232.3 927.0a5.6 5.6 0 1 0 11.2 0a5.6 5.6 0 1 0 -11.2 0M232.3 924.1a5.6 5.6 0 1 0 11.2 0a5.6 5.6 0 1 0 -11.2 0M232.3 921.3a5.6 5.6 0 1 0 11.2 0a5.6 5.6 0 1 0 -11.2 0M232.3 918.4a5.6 5.6 0 1 0 11.2 0a5.6 5.6 0 1 0 -11.2 0M234.1 929.9a5.6 5.6 0 1 0 11.2 0a5.6 5.6 0 1 0 -11.2 0M234.1 927.0a5.6 5.6 0 1 0 11.2 0a5.6 5.6 0 1 0 -11.2 0M234.1 924.1a5.6 5.6 0 1 0 11.2 0a5.6 5.6 0 1 0 -11.2 0M234.1 921.3a5.6 5.6 0 1 0 11.2 0a5.6 5.6 0 1 0 -11.2 0M234.1 918.4a5.6 5.6 0 1 0 11.2 0a5.6 5.6 0 1 0 -11.2 0M234.1 904.0a5.6 5.6 0 1 0 11.2 0a5.6 5.6 0 1 0 -11.2 0M235.8 929.9a5.6 5.6 0 1 0 11.2 0a5.6 5.6 0 1 0 -11.2 0M235.8 927.0a5.6 5.6 0 1 0 11.2 0a5.6 5.6 0 1 0 -11.2 0M235.8 924.1a5.6 5.6 0 1 0 11.2 0a5.6 5.6 0 1 0 -11.2 0M235.8 921.3a5.6 5.6 0 1 0 11.2 0a5.6 5.6 0 1 0 -11.2 0M237.5 929.9a5.6 5.6 0 1 0 11.2 0a5.6 5.6 0 1 0 -11.2 0M237.5 927.0a5.6 5.6 0 1 0 11.2 0a5.6 5.6 0 1 0 -11.2 0M237.5 924.1a5.6 5.6 0 1 0 11.2 0a5.6 5.6 0 1 0 -11.2 0M237.5 921.3a5.6 5.6 0 1 0 11.2 0a5.6 5.6 0 1 0 -11.2 0M239.3 929.9a5.6 5.6 0 1 0 11.2 0a5.6 5.6 0 1 0 -11.2 0M239.3 927.0a5.6 5.6 0 1 0 11.2 0a5.6 5.6 0 1 0 -11.2 0M239.3 924.1a5.6 5.6 0 1 0 11.2 0a5.6 5.6 0 1 0 -11.2 0M239.3 921.3a5.6 5.6 0 1 0 11.2 0a5.6 5.6 0 1 0 -11.2 0M241.0 929.9a5.6 5.6 0 1 0 11.2 0a5.6 5.6 0 1 0 -11.2 0M241.0 927.0a5.6 5.6 0 1 0 11.2 0a5.6 5.6 0 1 0 -11.2 0M241.0 924.1a5.6 5.6 0 1 0 11.2 0a5.6 5.6 0 1 0 -11.2 0M241.0 921.3a5.6 5.6 0 1 0 11.2 0a5.6 5.6 0 1 0 -11.2 0M242.7 929.9a5.6 5.6 0 1 0 11.2 0a5.6 5.6 0 1 0 -11.2 0M242.7 927.0a5.6 5.6 0 1 0 11.2 0a5.6 5.6 0 1 0 -11.2 0M242.7 924.1a5.6 5.6 0 1 0 11.2 0a5.6 5.6 0 1 0 -11.2 0M242.7 921.3a5.6 5.6 0 1 0 11.2 0a5.6 5.6 0 1 0 -11.2 0M244.5 929.9a5.6 5.6 0 1 0 11.2 0a5.6 5.6 0 1 0 -11.2 0M244.5 927.0a5.6 5.6 0 1 0 11.2 0a5.6 5.6 0 1 0 -11.2 0M244.5 924.1a5.6 5.6 0 1 0 11.2 0a5.6 5.6 0 1 0 -11.2 0M244.5 921.3a5.6 5.6 0 1 0 11.2 0a5.6 5.6 0 1 0 -11.2 0M246.2 929.9a5.6 5.6 0 1 0 11.2 0a5.6 5.6 0 1 0 -11.2 0M246.2 927.0a5.6 5.6 0 1 0 11.2 0a5.6 5.6 0 1 0 -11.2 0M246.2 924.1a5.6 5.6 0 1 0 11.2 0a5.6 5.6 0 1 0 -11.2 0M246.2 921.3a5.6 5.6 0 1 0 11.2 0a5.6 5.6 0 1 0 -11.2 0M247.9 929.9a5.6 5.6 0 1 0 11.2 0a5.6 5.6 0 1 0 -11.2 0M247.9 927.0a5.6 5.6 0 1 0 11.2 0a5.6 5.6 0 1 0 -11.2 0M247.9 924.1a5.6 5.6 0 1 0 11.2 0a5.6 5.6 0 1 0 -11.2 0M247.9 921.3a5.6 5.6 0 1 0 11.2 0a5.6 5.6 0 1 0 -11.2 0M249.6 929.9a5.6 5.6 0 1 0 11.2 0a5.6 5.6 0 1 0 -11.2 0M249.6 927.0a5.6 5.6 0 1 0 11.2 0a5.6 5.6 0 1 0 -11.2 0M249.6 924.1a5.6 5.6 0 1 0 11.2 0a5.6 5.6 0 1 0 -11.2 0M249.6 921.3a5.6 5.6 0 1 0 11.2 0a5.6 5.6 0 1 0 -11.2 0M251.4 929.9a5.6 5.6 0 1 0 11.2 0a5.6 5.6 0 1 0 -11.2 0M251.4 927.0a5.6 5.6 0 1 0 11.2 0a5.6 5.6 0 1 0 -11.2 0M251.4 924.1a5.6 5.6 0 1 0 11.2 0a5.6 5.6 0 1 0 -11.2 0M251.4 921.3a5.6 5.6 0 1 0 11.2 0a5.6 5.6 0 1 0 -11.2 0M253.1 929.9a5.6 5.6 0 1 0 11.2 0a5.6 5.6 0 1 0 -11.2 0M253.1 927.0a5.6 5.6 0 1 0 11.2 0a5.6 5.6 0 1 0 -11.2 0M253.1 924.1a5.6 5.6 0 1 0 11.2 0a5.6 5.6 0 1 0 -11.2 0M253.1 921.3a5.6 5.6 0 1 0 11.2 0a5.6 5.6 0 1 0 -11.2 0M254.8 929.9a5.6 5.6 0 1 0 11.2 0a5.6 5.6 0 1 0 -11.2 0M254.8 927.0a5.6 5.6 0 1 0 11.2 0a5.6 5.6 0 1 0 -11.2 0M254.8 924.1a5.6 5.6 0 1 0 11.2 0a5.6 5.6 0 1 0 -11.2 0M254.8 921.3a5.6 5.6 0 1 0 11.2 0a5.6 5.6 0 1 0 -11.2 0M256.6 929.9a5.6 5.6 0 1 0 11.2 0a5.6 5.6 0 1 0 -11.2 0M256.6 927.0a5.6 5.6 0 1 0 11.2 0a5.6 5.6 0 1 0 -11.2 0M256.6 924.1a5.6 5.6 0 1 0 11.2 0a5.6 5.6 0 1 0 -11.2 0M256.6 921.3a5.6 5.6 0 1 0 11.2 0a5.6 5.6 0 1 0 -11.2 0M258.3 929.9a5.6 5.6 0 1 0 11.2 0a5.6 5.6 0 1 0 -11.2 0M258.3 927.0a5.6 5.6 0 1 0 11.2 0a5.6 5.6 0 1 0 -11.2 0M258.3 924.1a5.6 5.6 0 1 0 11.2 0a5.6 5.6 0 1 0 -11.2 0M258.3 921.3a5.6 5.6 0 1 0 11.2 0a5.6 5.6 0 1 0 -11.2 0M260.0 929.9a5.6 5.6 0 1 0 11.2 0a5.6 5.6 0 1 0 -11.2 0M260.0 927.0a5.6 5.6 0 1 0 11.2 0a5.6 5.6 0 1 0 -11.2 0M260.0 924.1a5.6 5.6 0 1 0 11.2 0a5.6 5.6 0 1 0 -11.2 0M260.0 921.3a5.6 5.6 0 1 0 11.2 0a5.6 5.6 0 1 0 -11.2 0M261.8 929.9a5.6 5.6 0 1 0 11.2 0a5.6 5.6 0 1 0 -11.2 0M261.8 927.0a5.6 5.6 0 1 0 11.2 0a5.6 5.6 0 1 0 -11.2 0M261.8 924.1a5.6 5.6 0 1 0 11.2 0a5.6 5.6 0 1 0 -11.2 0M263.5 929.9a5.6 5.6 0 1 0 11.2 0a5.6 5.6 0 1 0 -11.2 0M263.5 927.0a5.6 5.6 0 1 0 11.2 0a5.6 5.6 0 1 0 -11.2 0M263.5 924.1a5.6 5.6 0 1 0 11.2 0a5.6 5.6 0 1 0 -11.2 0M265.2 929.9a5.6 5.6 0 1 0 11.2 0a5.6 5.6 0 1 0 -11.2 0M265.2 927.0a5.6 5.6 0 1 0 11.2 0a5.6 5.6 0 1 0 -11.2 0M265.2 924.1a5.6 5.6 0 1 0 11.2 0a5.6 5.6 0 1 0 -11.2 0M267.0 929.9a5.6 5.6 0 1 0 11.2 0a5.6 5.6 0 1 0 -11.2 0M267.0 927.0a5.6 5.6 0 1 0 11.2 0a5.6 5.6 0 1 0 -11.2 0M267.0 924.1a5.6 5.6 0 1 0 11.2 0a5.6 5.6 0 1 0 -11.2 0M268.7 929.9a5.6 5.6 0 1 0 11.2 0a5.6 5.6 0 1 0 -11.2 0M268.7 927.0a5.6 5.6 0 1 0 11.2 0a5.6 5.6 0 1 0 -11.2 0M268.7 924.1a5.6 5.6 0 1 0 11.2 0a5.6 5.6 0 1 0 -11.2 0M270.4 929.9a5.6 5.6 0 1 0 11.2 0a5.6 5.6 0 1 0 -11.2 0M270.4 927.0a5.6 5.6 0 1 0 11.2 0a5.6 5.6 0 1 0 -11.2 0M270.4 924.1a5.6 5.6 0 1 0 11.2 0a5.6 5.6 0 1 0 -11.2 0M272.1 929.9a5.6 5.6 0 1 0 11.2 0a5.6 5.6 0 1 0 -11.2 0M272.1 927.0a5.6 5.6 0 1 0 11.2 0a5.6 5.6 0 1 0 -11.2 0M272.1 924.1a5.6 5.6 0 1 0 11.2 0a5.6 5.6 0 1 0 -11.2 0M273.9 929.9a5.6 5.6 0 1 0 11.2 0a5.6 5.6 0 1 0 -11.2 0M273.9 927.0a5.6 5.6 0 1 0 11.2 0a5.6 5.6 0 1 0 -11.2 0M275.6 929.9a5.6 5.6 0 1 0 11.2 0a5.6 5.6 0 1 0 -11.2 0M275.6 927.0a5.6 5.6 0 1 0 11.2 0a5.6 5.6 0 1 0 -11.2 0M277.3 929.9a5.6 5.6 0 1 0 11.2 0a5.6 5.6 0 1 0 -11.2 0M277.3 927.0a5.6 5.6 0 1 0 11.2 0a5.6 5.6 0 1 0 -11.2 0M279.1 929.9a5.6 5.6 0 1 0 11.2 0a5.6 5.6 0 1 0 -11.2 0M279.1 927.0a5.6 5.6 0 1 0 11.2 0a5.6 5.6 0 1 0 -11.2 0M280.8 929.9a5.6 5.6 0 1 0 11.2 0a5.6 5.6 0 1 0 -11.2 0M280.8 927.0a5.6 5.6 0 1 0 11.2 0a5.6 5.6 0 1 0 -11.2 0M282.5 929.9a5.6 5.6 0 1 0 11.2 0a5.6 5.6 0 1 0 -11.2 0M282.5 927.0a5.6 5.6 0 1 0 11.2 0a5.6 5.6 0 1 0 -11.2 0M284.3 929.9a5.6 5.6 0 1 0 11.2 0a5.6 5.6 0 1 0 -11.2 0M284.3 927.0a5.6 5.6 0 1 0 11.2 0a5.6 5.6 0 1 0 -11.2 0M286.0 929.9a5.6 5.6 0 1 0 11.2 0a5.6 5.6 0 1 0 -11.2 0M286.0 927.0a5.6 5.6 0 1 0 11.2 0a5.6 5.6 0 1 0 -11.2 0M317.1 638.8a5.6 5.6 0 1 0 11.2 0a5.6 5.6 0 1 0 -11.2 0M320.6 687.8a5.6 5.6 0 1 0 11.2 0a5.6 5.6 0 1 0 -11.2 0M313.7 702.2a5.6 5.6 0 1 0 11.2 0a5.6 5.6 0 1 0 -11.2 0M343.1 705.1a5.6 5.6 0 1 0 11.2 0a5.6 5.6 0 1 0 -11.2 0M166.6 728.2a5.6 5.6 0 1 0 11.2 0a5.6 5.6 0 1 0 -11.2 0M211.6 754.1a5.6 5.6 0 1 0 11.2 0a5.6 5.6 0 1 0 -11.2 0M322.3 754.1a5.6 5.6 0 1 0 11.2 0a5.6 5.6 0 1 0 -11.2 0M329.2 762.7a5.6 5.6 0 1 0 11.2 0a5.6 5.6 0 1 0 -11.2 0M164.9 771.4a5.6 5.6 0 1 0 11.2 0a5.6 5.6 0 1 0 -11.2 0M254.8 777.2a5.6 5.6 0 1 0 11.2 0a5.6 5.6 0 1 0 -11.2 0M237.5 797.3a5.6 5.6 0 1 0 11.2 0a5.6 5.6 0 1 0 -11.2 0M260.0 797.3a5.6 5.6 0 1 0 11.2 0a5.6 5.6 0 1 0 -11.2 0M218.5 803.1a5.6 5.6 0 1 0 11.2 0a5.6 5.6 0 1 0 -11.2 0M221.1 806.0a5.6 5.6 0 1 0 11.2 0a5.6 5.6 0 1 0 -11.2 0M249.6 806.0a5.6 5.6 0 1 0 11.2 0a5.6 5.6 0 1 0 -11.2 0M211.6 811.7a5.6 5.6 0 1 0 11.2 0a5.6 5.6 0 1 0 -11.2 0M256.6 811.7a5.6 5.6 0 1 0 11.2 0a5.6 5.6 0 1 0 -11.2 0M223.7 823.3a5.6 5.6 0 1 0 11.2 0a5.6 5.6 0 1 0 -11.2 0M376.0 820.4a5.6 5.6 0 1 0 11.2 0a5.6 5.6 0 1 0 -11.2 0M407.1 814.6a5.6 5.6 0 1 0 11.2 0a5.6 5.6 0 1 0 -11.2 0M450.4 768.5a5.6 5.6 0 1 0 11.2 0a5.6 5.6 0 1 0 -11.2 0M452.1 780.0a5.6 5.6 0 1 0 11.2 0a5.6 5.6 0 1 0 -11.2 0M535.2 785.8a5.6 5.6 0 1 0 11.2 0a5.6 5.6 0 1 0 -11.2 0M542.1 814.6a5.6 5.6 0 1 0 11.2 0a5.6 5.6 0 1 0 -11.2 0M445.2 846.3a5.6 5.6 0 1 0 11.2 0a5.6 5.6 0 1 0 -11.2 0M445.2 915.5a5.6 5.6 0 1 0 11.2 0a5.6 5.6 0 1 0 -11.2 0M438.3 921.3a5.6 5.6 0 1 0 11.2 0a5.6 5.6 0 1 0 -11.2 0M450.4 924.1a5.6 5.6 0 1 0 11.2 0a5.6 5.6 0 1 0 -11.2 0M407.1 915.5a5.6 5.6 0 1 0 11.2 0a5.6 5.6 0 1 0 -11.2 0M170.0 829.0a5.6 5.6 0 1 0 11.2 0a5.6 5.6 0 1 0 -11.2 0M157.9 829.0a5.6 5.6 0 1 0 11.2 0a5.6 5.6 0 1 0 -11.2 0M177.0 840.6a5.6 5.6 0 1 0 11.2 0a5.6 5.6 0 1 0 -11.2 0M197.7 846.3a5.6 5.6 0 1 0 11.2 0a5.6 5.6 0 1 0 -11.2 0M202.9 849.2a5.6 5.6 0 1 0 11.2 0a5.6 5.6 0 1 0 -11.2 0M187.3 849.2a5.6 5.6 0 1 0 11.2 0a5.6 5.6 0 1 0 -11.2 0M182.2 852.1a5.6 5.6 0 1 0 11.2 0a5.6 5.6 0 1 0 -11.2 0M192.5 855.0a5.6 5.6 0 1 0 11.2 0a5.6 5.6 0 1 0 -11.2 0M215.0 855.0a5.6 5.6 0 1 0 11.2 0a5.6 5.6 0 1 0 -11.2 0M235.8 846.3a5.6 5.6 0 1 0 11.2 0a5.6 5.6 0 1 0 -11.2 0M234.1 850.6a5.6 5.6 0 1 0 11.2 0a5.6 5.6 0 1 0 -11.2 0M231.5 855.0a5.6 5.6 0 1 0 11.2 0a5.6 5.6 0 1 0 -11.2 0M336.2 834.8a5.6 5.6 0 1 0 11.2 0a5.6 5.6 0 1 0 -11.2 0M329.2 840.6a5.6 5.6 0 1 0 11.2 0a5.6 5.6 0 1 0 -11.2 0M321.5 843.4a5.6 5.6 0 1 0 11.2 0a5.6 5.6 0 1 0 -11.2 0M351.7 852.1a5.6 5.6 0 1 0 11.2 0a5.6 5.6 0 1 0 -11.2 0M303.3 857.9a5.6 5.6 0 1 0 11.2 0a5.6 5.6 0 1 0 -11.2 0M287.7 860.7a5.6 5.6 0 1 0 11.2 0a5.6 5.6 0 1 0 -11.2 0M291.2 869.4a5.6 5.6 0 1 0 11.2 0a5.6 5.6 0 1 0 -11.2 0M263.5 863.6a5.6 5.6 0 1 0 11.2 0a5.6 5.6 0 1 0 -11.2 0M253.1 869.4a5.6 5.6 0 1 0 11.2 0a5.6 5.6 0 1 0 -11.2 0M363.9 863.6a5.6 5.6 0 1 0 11.2 0a5.6 5.6 0 1 0 -11.2 0M356.9 866.5a5.6 5.6 0 1 0 11.2 0a5.6 5.6 0 1 0 -11.2 0M360.4 880.9a5.6 5.6 0 1 0 11.2 0a5.6 5.6 0 1 0 -11.2 0M327.5 883.8a5.6 5.6 0 1 0 11.2 0a5.6 5.6 0 1 0 -11.2 0M339.6 883.8a5.6 5.6 0 1 0 11.2 0a5.6 5.6 0 1 0 -11.2 0M315.4 892.4a5.6 5.6 0 1 0 11.2 0a5.6 5.6 0 1 0 -11.2 0M325.8 901.1a5.6 5.6 0 1 0 11.2 0a5.6 5.6 0 1 0 -11.2 0M298.1 892.4a5.6 5.6 0 1 0 11.2 0a5.6 5.6 0 1 0 -11.2 0M301.6 895.3a5.6 5.6 0 1 0 11.2 0a5.6 5.6 0 1 0 -11.2 0M294.6 898.2a5.6 5.6 0 1 0 11.2 0a5.6 5.6 0 1 0 -11.2 0M306.8 904.0a5.6 5.6 0 1 0 11.2 0a5.6 5.6 0 1 0 -11.2 0M287.7 904.0a5.6 5.6 0 1 0 11.2 0a5.6 5.6 0 1 0 -11.2 0M282.5 906.8a5.6 5.6 0 1 0 11.2 0a5.6 5.6 0 1 0 -11.2 0M279.1 912.6a5.6 5.6 0 1 0 11.2 0a5.6 5.6 0 1 0 -11.2 0M289.4 912.6a5.6 5.6 0 1 0 11.2 0a5.6 5.6 0 1 0 -11.2 0M289.4 915.5a5.6 5.6 0 1 0 11.2 0a5.6 5.6 0 1 0 -11.2 0M306.8 915.5a5.6 5.6 0 1 0 11.2 0a5.6 5.6 0 1 0 -11.2 0M318.9 915.5a5.6 5.6 0 1 0 11.2 0a5.6 5.6 0 1 0 -11.2 0M343.1 921.3a5.6 5.6 0 1 0 11.2 0a5.6 5.6 0 1 0 -11.2 0M440.0 921.3a5.6 5.6 0 1 0 11.2 0a5.6 5.6 0 1 0 -11.2 0M443.5 915.5a5.6 5.6 0 1 0 11.2 0a5.6 5.6 0 1 0 -11.2 0M305.0 929.9a5.6 5.6 0 1 0 11.2 0a5.6 5.6 0 1 0 -11.2 0M317.1 929.9a5.6 5.6 0 1 0 11.2 0a5.6 5.6 0 1 0 -11.2 0M348.3 929.9a5.6 5.6 0 1 0 11.2 0a5.6 5.6 0 1 0 -11.2 0M369.1 927.0a5.6 5.6 0 1 0 11.2 0a5.6 5.6 0 1 0 -11.2 0M391.5 929.9a5.6 5.6 0 1 0 11.2 0a5.6 5.6 0 1 0 -11.2 0M401.9 929.9a5.6 5.6 0 1 0 11.2 0a5.6 5.6 0 1 0 -11.2 0M251.4 883.8a5.6 5.6 0 1 0 11.2 0a5.6 5.6 0 1 0 -11.2 0M261.8 886.7a5.6 5.6 0 1 0 11.2 0a5.6 5.6 0 1 0 -11.2 0M251.4 892.4a5.6 5.6 0 1 0 11.2 0a5.6 5.6 0 1 0 -11.2 0M260.0 892.4a5.6 5.6 0 1 0 11.2 0a5.6 5.6 0 1 0 -11.2 0M256.6 888.1a5.6 5.6 0 1 0 11.2 0a5.6 5.6 0 1 0 -11.2 0M267.0 915.5a5.6 5.6 0 1 0 11.2 0a5.6 5.6 0 1 0 -11.2 0M251.4 906.8a5.6 5.6 0 1 0 11.2 0a5.6 5.6 0 1 0 -11.2 0M239.3 898.2a5.6 5.6 0 1 0 11.2 0a5.6 5.6 0 1 0 -11.2 0M235.8 883.8a5.6 5.6 0 1 0 11.2 0a5.6 5.6 0 1 0 -11.2 0M237.5 889.6a5.6 5.6 0 1 0 11.2 0a5.6 5.6 0 1 0 -11.2 0M228.9 879.5a5.6 5.6 0 1 0 11.2 0a5.6 5.6 0 1 0 -11.2 0M219.4 873.7a5.6 5.6 0 1 0 11.2 0a5.6 5.6 0 1 0 -11.2 0M211.6 872.3a5.6 5.6 0 1 0 11.2 0a5.6 5.6 0 1 0 -11.2 0M203.8 869.4a5.6 5.6 0 1 0 11.2 0a5.6 5.6 0 1 0 -11.2 0M197.7 869.4a5.6 5.6 0 1 0 11.2 0a5.6 5.6 0 1 0 -11.2 0M219.4 889.6a5.6 5.6 0 1 0 11.2 0a5.6 5.6 0 1 0 -11.2 0M208.1 886.7a5.6 5.6 0 1 0 11.2 0a5.6 5.6 0 1 0 -11.2 0M199.5 892.4a5.6 5.6 0 1 0 11.2 0a5.6 5.6 0 1 0 -11.2 0M178.7 872.3a5.6 5.6 0 1 0 11.2 0a5.6 5.6 0 1 0 -11.2 0M187.3 863.6a5.6 5.6 0 1 0 11.2 0a5.6 5.6 0 1 0 -11.2 0M185.6 857.9a5.6 5.6 0 1 0 11.2 0a5.6 5.6 0 1 0 -11.2 0M219.4 901.1a5.6 5.6 0 1 0 11.2 0a5.6 5.6 0 1 0 -11.2 0M215.0 901.1a5.6 5.6 0 1 0 11.2 0a5.6 5.6 0 1 0 -11.2 0M208.1 909.7a5.6 5.6 0 1 0 11.2 0a5.6 5.6 0 1 0 -11.2 0M234.1 912.6a5.6 5.6 0 1 0 11.2 0a5.6 5.6 0 1 0 -11.2 0M246.2 912.6a5.6 5.6 0 1 0 11.2 0a5.6 5.6 0 1 0 -11.2 0M242.7 906.8a5.6 5.6 0 1 0 11.2 0a5.6 5.6 0 1 0 -11.2 0"/>
<path d="M1062.12 453.40H1076.15M1084.57 456.20H1098.60M1067.74 446.10H1092.98M1107.02 445.60H1121.04M1151.92 469.40H1165.94M1140.69 457.70H1160.33M1129.47 454.60H1154.72M1196.81 468.00H1210.84M1185.59 461.10H1205.22M1219.26 458.00H1233.28M1196.81 455.80H1227.67M1174.36 451.50H1210.84M1146.30 449.30H1205.22M1252.93 455.50H1266.96M1286.60 471.10H1300.63M1275.38 468.20H1295.02M1286.60 467.40H1311.85M1292.22 462.10H1323.08M1297.83 461.10H1334.30M1376.40 477.30H1390.42M1382.01 473.30H1401.64M1387.62 472.30H1412.87M1393.23 466.40H1424.09M1365.17 465.50H1401.64M1353.95 464.20H1396.03M1342.72 463.00H1390.42M1443.74 468.90H1457.76M1432.52 466.20H1452.15M1488.64 479.80H1502.66M1494.25 478.00H1513.88M1477.41 477.40H1502.66M1466.19 475.10H1497.05M1522.31 470.30H1536.33M1488.64 469.70H1530.72M1443.74 466.00H1502.66M1589.65 472.00H1603.68M1578.43 466.70H1598.06M1612.10 473.60H1626.12M1617.71 469.50H1637.35M1645.77 471.70H1659.80M1668.22 461.10H1682.24M1690.67 461.10H1704.69M1735.56 481.40H1749.59M1724.34 461.40H1743.98M1735.56 457.40H1760.81M1769.24 465.60H1783.26M1802.91 463.30H1816.93M1808.52 456.80H1828.16M1836.58 449.40H1850.60M1870.25 440.00H1884.28M1859.03 430.90H1878.66M1449.35 413.40H1873.05M1050.90 439.50H1457.76M1078.96 441.60H1468.99M1112.63 442.10H1463.38M1443.74 440.40H1844.99M1449.35 443.00H1816.93M1454.96 443.30H1794.48M1179.98 447.50H1519.50M1258.54 450.60H1530.72M1494.25 453.40H1755.20M1466.19 456.40H1755.20M1527.92 454.90H1755.20M1752.40 456.20H1772.04M1741.18 458.30H1777.65M1303.44 459.90H1485.82M1483.02 460.60H1547.56M1488.64 462.10H1614.90M1483.02 463.00H1558.78M1494.25 464.20H1598.06M1612.10 463.70H1637.35M1612.10 464.80H1637.35M1623.32 466.30H1654.18M1063.52 453.40V493.80M1074.75 453.40V493.80M1085.97 456.20V493.80M1097.20 456.20V493.80M1069.14 446.10V453.40M1091.58 446.10V456.20M1080.36 441.60V446.10M1108.42 445.60V493.80M1119.64 445.60V493.80M1114.03 442.10V445.60M1153.32 469.40V493.80M1164.54 469.40V493.80M1142.09 457.70V493.80M1158.93 457.70V469.40M1130.87 454.60V493.80M1153.32 454.60V457.70M1198.21 468.00V493.80M1209.44 468.00V493.80M1186.99 461.10V493.80M1203.82 461.10V468.00M1220.66 458.00V493.80M1231.88 458.00V493.80M1198.21 455.80V461.10M1226.27 455.80V458.00M1175.76 451.50V493.80M1209.44 451.50V455.80M1147.70 449.30V454.60M1203.82 449.30V451.50M1181.38 447.50V449.30M1243.11 447.50V493.80M1254.33 455.50V493.80M1265.56 455.50V493.80M1259.94 450.60V455.50M1288.00 471.10V493.80M1299.23 471.10V493.80M1276.78 468.20V493.80M1293.62 468.20V471.10M1288.00 467.40V468.20M1310.45 467.40V493.80M1293.62 462.10V467.40M1321.68 462.10V493.80M1299.23 461.10V462.10M1332.90 461.10V493.80M1304.84 459.90V461.10M1377.80 477.30V493.80M1389.02 477.30V493.80M1383.41 473.30V477.30M1400.24 473.30V493.80M1389.02 472.30V473.30M1411.47 472.30V493.80M1394.63 466.40V472.30M1422.69 466.40V493.80M1366.57 465.50V493.80M1400.24 465.50V466.40M1355.35 464.20V493.80M1394.63 464.20V465.50M1344.12 463.00V493.80M1389.02 463.00V464.20M1383.41 459.90V463.00M1445.14 468.90V493.80M1456.36 468.90V493.80M1433.92 466.20V493.80M1450.75 466.20V468.90M1490.04 479.80V493.80M1501.26 479.80V493.80M1495.65 478.00V479.80M1512.48 478.00V493.80M1478.81 477.40V493.80M1501.26 477.40V478.00M1467.59 475.10V493.80M1495.65 475.10V477.40M1523.71 470.30V493.80M1534.93 470.30V493.80M1490.04 469.70V475.10M1529.32 469.70V470.30M1445.14 466.00V466.20M1501.26 466.00V469.70M1484.42 459.90V466.00M1546.16 460.60V493.80M1557.38 463.00V493.80M1568.60 464.20V493.80M1591.05 472.00V493.80M1602.28 472.00V493.80M1579.83 466.70V493.80M1596.66 466.70V472.00M1591.05 464.20V466.70M1613.50 473.60V493.80M1624.72 473.60V493.80M1619.11 469.50V473.60M1635.95 469.50V493.80M1624.72 464.80V469.50M1647.17 471.70V493.80M1658.40 471.70V493.80M1652.78 466.30V471.70M1669.62 461.10V493.80M1680.84 461.10V493.80M1675.23 456.40V461.10M1692.07 461.10V493.80M1703.29 461.10V493.80M1697.68 456.40V461.10M1714.52 456.40V493.80M1736.96 481.40V493.80M1748.19 481.40V493.80M1725.74 461.40V493.80M1742.58 461.40V481.40M1736.96 457.40V461.40M1759.41 457.40V493.80M1742.58 456.20V457.40M1770.64 465.60V493.80M1781.86 465.60V493.80M1776.25 458.30V465.60M1793.08 443.30V493.80M1804.31 463.30V493.80M1815.53 463.30V493.80M1809.92 456.80V463.30M1826.76 456.80V493.80M1815.53 443.00V456.80M1837.98 449.40V493.80M1849.20 449.40V493.80M1843.59 440.40V449.40M1871.65 440.00V493.80M1882.88 440.00V493.80M1860.43 430.90V493.80M1877.26 430.90V440.00M1871.65 413.40V430.90M1052.30 439.50V493.80M1450.75 413.40V439.50M1456.36 443.30V447.50M1518.10 447.50V450.60M1529.32 450.60V453.40M1495.65 453.40V456.40M1753.80 453.40V458.30M1467.59 456.40V460.60" fill="none" stroke="#000" stroke-width="2.8" stroke-linecap="butt"/>
<defs><filter id="hb" x="-1%" y="-1%" width="102%" height="102%"><feGaussianBlur stdDeviation="0.6 0.7"/></filter></defs>
<g transform="translate(0 563.3)" fill="none" stroke-width="11.58" filter="url(#hb)">
<path stroke="#3344aa" d="M1052.4 2v1m0 2v1M1119.8 171v1M1131.0 228v1M1142.2 171v1M1153.5 296v1M1164.7 179v1m0 146v1M1175.9 179v1M1198.4 171v1M1254.5 185v1m0 71v1M1265.8 314v1M1277.0 257v1M1288.2 370v1M1310.7 3v1M1321.9 179v1M1355.6 179v1m0 73v1M1389.3 148v1M1512.8 204v1m0 167v1M1535.3 61v1M1580.2 223v1m0 131v1M1602.7 1v1M1625.1 150v1M1658.8 3v1m0 25v1m0 129v2m0 64v1m0 121v1M1670.0 159v2M1681.3 160v1m0 13v1m0 50v1M1703.7 159v1M1726.2 174v1M1748.6 263v1M1771.1 223v1M1804.8 201v1M1827.2 201v1m0 98v1M1849.7 5v1M1860.9 0v1m0 4v1M1872.2 178v3M1883.4 0v1m0 177v3m0 119v1"/>
<path stroke="#4444aa" d="M1142.2 3v1M1164.7 327v1M1175.9 0v1m0 197v1M1209.6 326v1M1243.3 185v1M1265.8 257v1m0 1v1M1277.0 315v1M1288.2 223v1M1310.7 277v1M1344.4 339v1M1366.8 340v1M1456.7 309v1M1512.8 325v1M1569.0 4v1M1647.6 150v1M1681.3 159v1M1883.4 2v1"/>
<path stroke="#4444bb" d="M1445.4 0v1M1524.0 2v1M1557.7 97v1M1658.8 158v1M1860.9 2v1m0 222v1m0 104v1M1883.4 3v1"/>
<path stroke="#4455bb" d="M1052.4 3v1M1074.9 9v1m0 186v1M1086.1 74v1m0 60v1M1097.3 85v1M1108.6 134v1M1119.8 122v1M1131.0 86v1m0 5v1m0 5v1m0 1v1M1142.2 4v1m0 113v1m0 79v1M1153.5 3v1m0 76v1m0 6v1m0 49v1m0 70v1M1164.7 166v1M1175.9 4v2m0 119v1M1187.2 80v1m0 19v1m0 4v1M1243.3 85v1m0 7v1m0 19v1m0 256v1M1254.5 370v1M1265.8 72v1m0 112v1M1277.0 90v1m0 39v1M1288.2 105v1m0 265v1M1299.5 5v1m0 76v1m0 25v1m0 16v1m0 2v1M1310.7 5v1m0 84v1m0 88v1M1321.9 109v1m0 113v1M1333.1 114v1m0 196v1m0 28v1m0 20v1M1344.4 87v1m0 31v1m0 59v2m0 180v2M1355.6 4v1m0 110v1m0 1v1m0 222v1M1366.8 4v1m0 73v1m0 227v1m0 32v1M1378.1 134v1M1389.3 111v1m0 22v1m0 76v1M1400.5 69v1m0 66v1m0 20v1M1411.8 100v1M1423.0 76v1m0 60v1M1434.2 97v1m0 20v1M1445.4 104v1m0 7v1M1456.7 84v1m0 225v1M1467.9 108v1M1479.1 96v1m0 18v1m0 1v1m0 4v1m0 6v1M1490.4 5v1m0 86v1m0 5v1m0 13v1m0 12v1m0 27v1M1501.6 91v1m0 36v1m0 75v1M1512.8 113v1M1524.0 5v1m0 94v1m0 14v1m0 12v1M1535.3 124v1m0 200v1M1546.5 223v1M1557.7 88v1m0 11v1m0 122v1M1569.0 72v1m0 37v1m0 13v1M1580.2 88v1m0 7v1m0 24v1M1591.4 74v1m0 54v1m0 18v1m0 206v1M1602.7 4v1m0 79v1m0 7v1m0 55v1M1625.1 92v1M1636.3 69v1m0 40v1m0 10v2m0 61v1M1647.6 97v1m0 4v1m0 3v1m0 29v1m0 1v1M1658.8 30v1m0 51v1m0 5v1m0 256v1m0 7v1M1670.0 225v1m0 24v1M1681.3 71v1m0 60v1m0 25v1m0 28v1m0 43v1M1692.5 5v1m0 68v1m0 62v1m0 20v1m0 1v1M1703.7 1v1m0 158v1m0 13v1M1714.9 123v1m0 8v1m0 26v2M1726.2 69v1m0 12v1m0 5v1m0 23v1M1737.4 4v1m0 84v1m0 200v1M1748.6 3v1m0 125v1M1759.9 88v1M1771.1 79v2m0 10v1m0 6v1M1782.3 122v1M1793.6 132v1m0 2v1m0 101v1M1804.8 90v1m0 7v1m0 15v1m0 13v1M1816.0 78v1m0 34v1m0 19v1M1827.2 96v1m0 25v1M1838.5 119v1m0 181v1M1849.7 3v1M1860.9 4v1M1872.2 3v2m0 23v1m0 252v1"/>
<path stroke="#5555bb" d="M1052.4 0v2m0 83v1m0 12v1m0 17v1m0 2v1M1063.6 74v1m0 35v1m0 2v1m0 1v1M1074.9 78v1m0 27v1m0 5v1m0 2v1m0 10v1m0 10v1M1086.1 73v1m0 3v2m0 19v1m0 8v1m0 3v1M1097.3 10v1m0 112v1M1108.6 71v1m0 9v1m0 7v1m0 29v2m0 3v1m0 10v1M1119.8 71v1m0 30v1m0 15v1m0 14v1M1131.0 69v1m0 1v1m0 16v2m0 3v2m0 31v1M1142.2 87v1m0 12v1m0 11v1M1153.5 78v1m0 23v1m0 4v1m0 20v1M1164.7 79v1m0 4v1m0 9v1m0 31v1M1175.9 74v1m0 3v1m0 1v1m0 2v1m0 1v1m0 2v1m0 5v1m0 6v1m0 2v1m0 4v1m0 13v2m0 8v1m0 1v1m0 35v1M1187.2 91v1m0 4v1m0 14v1m0 3v1m0 2v1m0 6v1m0 5v1M1232.1 73v1m0 11v1m0 25v1m0 5v1m0 16v1m0 196v1M1243.3 95v1m0 9v1m0 4v1m0 21v3m0 232v1M1254.5 69v1m0 8v1m0 2v1m0 3v1m0 12v3m0 4v1m0 4v1m0 2v1m0 5v1m0 1v1m0 165v1M1265.8 89v1m0 21v1m0 3v1m0 9v1m0 2v1m0 186v1M1277.0 2v1m0 76v1m0 5v1m0 2v1m0 15v1m0 1v1m0 5v2m0 8v1m0 207v1M1288.2 81v1m0 13v1m0 5v1m0 2v1m0 9v1m0 14v1m0 228v1M1299.5 89v1m0 9v1m0 23v1m0 153v1M1310.7 81v1m0 7v1m0 2v1m0 1v1m0 3v1m0 5v1m0 9v1m0 2v1m0 17v1m0 175v1M1321.9 76v1m0 5v1m0 4v1m0 3v1m0 16v1m0 7v1m0 4v1m0 180v1M1333.1 75v1m0 1v1m0 7v1m0 14v1m0 7v1m0 12v1M1344.4 0v1m0 73v1m0 34v1m0 3v1m0 8v1M1355.6 3v1m0 66v1m0 3v1m0 36v1m0 7v1m0 219v1M1366.8 84v1m0 10v1m0 15v1m0 9v1m0 7v1M1378.1 76v1m0 10v1m0 1v1m0 1v3m0 12v1m0 11v1m0 6v1m0 214v1M1389.3 69v2m0 17v2m0 1v1m0 2v1m0 19v1m0 6v1m0 5v1m0 4v1M1400.5 82v1m0 14v1m0 13v1m0 5v1m0 6v2m0 22v1M1411.8 71v1m0 26v1m0 13v1m0 15v1M1423.0 71v1m0 20v1m0 11v1m0 27v1M1434.2 78v1m0 9v1m0 2v1m0 3v1m0 26v1m0 13v1M1445.4 2v1m0 68v2m0 2v2m0 38v1m0 4v1M1456.7 77v1m0 9v2m0 15v2m0 2v1m0 2v1M1467.9 71v1m0 28v1m0 16v1m0 192v1M1479.1 0v1m0 1v1m0 70v3m0 11v1m0 3v1m0 2v1m0 4v1m0 1v1m0 6v1m0 9v1m0 4v1m0 4v1M1490.4 70v1m0 10v1m0 13v1m0 23v1m0 12v1m0 2v1m0 1v1M1501.6 4v1m0 80v1m0 4v1m0 10v1m0 30v1M1512.8 71v1m0 3v1m0 3v1m0 2v1m0 22v1m0 3v1m0 1v1m0 6v1m0 1v2m0 10v1m0 4v1M1524.0 1v1m0 67v1m0 20v2m0 19v2M1535.3 75v1m0 6v1m0 1v2m0 22v1m0 5v1m0 20v1m0 2v1M1546.5 91v1m0 9v1m0 35v1M1557.7 1v1m0 67v1m0 2v1m0 8v1m0 13v1m0 13v1m0 1v1m0 7v1m0 5v1m0 11v1M1569.0 74v1m0 5v3m0 3v1m0 9v1m0 12v1m0 12v1m0 14v1M1580.2 61v1m0 9v1m0 5v1m0 17v1m0 10v1m0 11v2m0 85v1M1591.4 93v1m0 8v1m0 10v1m0 109v1M1602.7 2v1m0 71v2m0 1v1m0 9v1m0 24v1m0 8v1m0 100v1M1613.9 86v1m0 8v1m0 5v1m0 9v1m0 14v1m0 1v1M1625.1 1v1m0 70v2m0 13v1m0 11v1m0 2v1m0 2v1m0 5v1m0 7v1m0 12v1m0 2v1M1636.3 74v1m0 9v1m0 5v1m0 10v1m0 12v1m0 8v1m0 4v2m0 4v1m0 212v1M1647.6 71v1m0 9v1m0 10v1m0 17v1m0 10v1m0 12v1m0 211v1M1658.8 69v1m0 8v1m0 16v1m0 8v1m0 5v1m0 3v1m0 7v2m0 25v1M1670.0 29v1m0 39v1m0 14v1m0 16v1m0 2v1m0 21v1m0 3v2M1681.3 73v1m0 1v1m0 12v1m0 3v1m0 7v1m0 13v1m0 18v1m0 4v1M1692.5 4v1m0 72v1m0 2v1m0 16v1m0 20v1m0 197v1M1703.7 0v1m0 78v1m0 13v1m0 24v1m0 2v1m0 6v1m0 4v2M1714.9 78v1m0 10v1m0 3v1m0 15v1m0 23v1m0 24v1M1726.2 87v1m0 5v1m0 25v1m0 8v1m0 5v1m0 3v1M1737.4 75v1m0 5v1m0 3v1m0 2v1m0 1v1M1748.6 72v1m0 6v1m0 54v1M1759.9 89v3m0 15v1m0 11v3m0 7v1m0 7v1M1771.1 70v1m0 6v1m0 4v1m0 4v1m0 6v1m0 12v2m0 14v1m0 4v1m0 2v2m0 5v1m0 158v1M1782.3 74v1m0 12v1m0 6v1m0 4v1m0 6v1m0 26v1M1793.6 74v1m0 13v1m0 13v1m0 1v1m0 7v2m0 1v1m0 5v1m0 3v1M1804.8 89v1m0 5v1m0 12v1m0 3v2m0 20v1M1816.0 75v1m0 11v1m0 12v1m0 8v1m0 1v1m0 2v1m0 16v2m0 90v1M1827.2 74v1m0 13v2m0 11v1m0 19v1m0 3v1m0 65v1M1838.5 98v2m0 11v1M1849.7 98v1M1860.9 281v1M1883.4 4v1"/>
<path stroke="#5566bb" d="M1052.4 70v2m0 8v3m0 11v4m0 1v3m0 12v1m0 7v2m0 2v1m0 2v1m0 1v1m0 3v1m0 1v2m0 123v1M1063.6 10v1m0 60v1m0 1v1m0 1v1m0 1v1m0 1v1m0 2v1m0 8v5m0 4v1m0 5v1m0 1v2m0 1v1m0 5v2m0 9v1m0 4v5M1074.9 10v1m0 58v1m0 1v1m0 1v1m0 2v2m0 7v1m0 3v2m0 3v3m0 2v1m0 8v1m0 8v2m0 9v1m0 2v1m0 4v1M1086.1 69v1m0 1v2m0 3v1m0 11v1m0 5v1m0 5v1m0 3v1m0 1v1m0 1v2m0 3v2m0 2v1m0 2v1m0 15v1M1097.3 9v1m0 59v1m0 1v3m0 3v1m0 4v1m0 1v1m0 5v1m0 10v1m0 2v3m0 1v3m0 1v1m0 8v1m0 6v1m0 5v1m0 3v1M1108.6 72v1m0 1v2m0 4v1m0 3v1m0 2v2m0 2v1m0 7v1m0 4v1m0 1v2m0 1v1m0 8v1m0 9v1m0 8v1M1119.8 1v2m0 1v1m0 5v1m0 61v1m0 1v1m0 1v1m0 2v1m0 8v2m0 3v2m0 3v3m0 3v1m0 4v2m0 1v1m0 6v3m0 1v1m0 4v1m0 3v1M1131.0 72v1m0 6v1m0 11v1m0 3v1m0 9v2m0 5v2m0 1v1m0 2v2m0 1v2m0 5v1m0 5v2M1142.2 1v1m0 67v1m0 5v1m0 6v1m0 10v1m0 5v1m0 4v1m0 4v3m0 3v1m0 3v1m0 1v1m0 1v1m0 1v1m0 12v1m0 26v1M1153.5 4v1m0 64v1m0 2v1m0 3v2m0 1v1m0 2v1m0 6v1m0 8v4m0 3v2m0 1v1m0 4v2m0 9v3m0 5v2M1164.7 0v1m0 1v1m0 2v1m0 67v1m0 3v1m0 10v1m0 2v1m0 3v1m0 5v1m0 1v1m0 8v1m0 2v1m0 1v1m0 2v3m0 2v1m0 2v1m0 36v1m0 62v1m0 8v1M1175.9 69v1m0 3v1m0 1v1m0 1v1m0 3v1m0 2v1m0 1v2m0 2v1m0 4v1m0 2v1m0 7v1m0 1v1m0 3v1m0 1v2m0 3v4m0 3v1m0 1v2m0 1v2m0 1v1m0 1v1M1187.2 69v1m0 1v1m0 2v1m0 2v1m0 1v1m0 1v1m0 3v1m0 1v2m0 1v1m0 1v1m0 1v2m0 2v2m0 1v1m0 2v1m0 1v1m0 2v1m0 2v1m0 4v1m0 5v1m0 5v1m0 2v1m0 193v1M1209.6 259v1M1220.9 370v1M1232.1 69v1m0 10v1m0 1v1m0 4v1m0 1v2m0 1v2m0 1v3m0 1v1m0 2v1m0 11v2m0 3v4m0 1v1m0 1v1M1243.3 74v1m0 4v1m0 12v1m0 3v2m0 1v1m0 7v2m0 2v1m0 2v1m0 2v2m0 1v5m0 1v1m0 4v1m0 5v1m0 46v1m0 19v1m0 109v1M1254.5 70v1m0 3v2m0 3v2m0 1v1m0 4v1m0 7v1m0 1v1m0 25v1m0 7v1m0 1v2m0 2v1m0 85v1m0 1v1m0 125v1M1265.8 5v1m0 63v1m0 3v2m0 2v1m0 1v1m0 8v1m0 10v2m0 1v1m0 3v2m0 4v1m0 3v2m0 8v1m0 4v2m0 1v2M1277.0 72v1m0 1v1m0 5v1m0 3v1m0 1v2m0 1v1m0 4v1m0 1v1m0 2v1m0 2v1m0 4v3m0 5v1m0 3v1m0 4v2m0 2v1m0 3v1m0 1v1m0 2v1m0 193v1M1288.2 70v3m0 1v1m0 4v2m0 1v1m0 3v2m0 1v1m0 1v2m0 1v1m0 14v1m0 3v1m0 3v1m0 14v1m0 4v1m0 213v1m0 20v1M1299.5 4v1m0 64v1m0 1v3m0 1v1m0 2v4m0 12v2m0 13v1m0 4v2m0 13v1m0 4v1m0 2v1M1310.7 70v1m0 6v1m0 2v1m0 1v1m0 4v2m0 2v1m0 7v1m0 2v1m0 3v2m0 3v1m0 1v1m0 4v1m0 12v1m0 5v2m0 208v1M1321.9 0v1m0 68v1m0 2v1m0 19v1m0 6v3m0 5v1m0 5v1m0 3v1m0 5v1m0 4v3m0 1v1m0 5v1m0 41v1M1333.1 73v2m0 1v1m0 10v1m0 5v1m0 2v1m0 2v1m0 2v1m0 1v1m0 8v1m0 1v1m0 9v1m0 2v1m0 3v1m0 1v2m0 226v1M1344.4 3v1m0 82v1m0 5v1m0 3v1m0 2v1m0 12v1m0 18v1m0 1v1m0 121v1m0 45v1M1355.6 2v1m0 66v1m0 1v2m0 3v1m0 3v3m0 1v1m0 8v1m0 1v2m0 2v1m0 1v2m0 5v1m0 3v1m0 1v1m0 1v1m0 4v1m0 1v1m0 1v1m0 9v2M1366.8 73v1m0 3v1m0 1v1m0 7v4m0 1v1m0 1v1m0 1v1m0 3v1m0 18v2m0 2v1m0 4v1m0 5v1M1378.1 1v1m0 3v1m0 63v1m0 1v1m0 3v1m0 1v1m0 4v1m0 5v1m0 1v1m0 3v1m0 6v1m0 3v1m0 1v2m0 1v3m0 4v1m0 3v2m0 3v1m0 1v2m0 2v2m0 1v1m0 117v1m0 57v1m0 27v1M1389.3 72v3m0 2v2m0 2v2m0 2v1m0 9v2m0 2v3m0 2v1m0 1v1m0 6v1m0 1v1m0 1v1m0 10v2m0 5v1m0 1v1m0 191v1M1400.5 71v1m0 2v1m0 5v2m0 2v1m0 6v2m0 5v2m0 6v2m0 4v4m0 2v2m0 9v1m0 1v5m0 1v2m0 172v1M1411.8 72v1m0 9v1m0 1v1m0 3v5m0 2v2m0 4v1m0 2v1m0 1v1m0 1v1m0 4v1m0 1v1m0 2v2m0 2v4m0 5v1m0 5v1M1423.0 69v2m0 1v2m0 1v1m0 1v1m0 1v1m0 1v1m0 5v5m0 1v3m0 2v1m0 2v1m0 4v1m0 3v2m0 1v1m0 1v3m0 1v2m0 1v5m0 4v1m0 1v3M1434.2 69v2m0 1v2m0 6v1m0 3v1m0 2v1m0 1v2m0 2v2m0 1v1m0 12v2m0 10v1m0 1v1m0 8v4m0 140v1M1445.4 69v1m0 3v1m0 3v3m0 9v3m0 8v1m0 5v2m0 3v1m0 2v1m0 2v3m0 7v1M1456.7 0v1m0 69v2m0 2v1m0 1v1m0 1v1m0 1v1m0 1v1m0 3v1m0 4v2m0 1v3m0 1v3m0 5v2m0 1v2m0 1v1m0 2v1m0 1v2m0 1v4m0 2v1m0 2v1m0 2v4m0 1v1m0 170v1M1467.9 73v1m0 1v1m0 3v2m0 1v1m0 1v1m0 2v2m0 2v3m0 2v1m0 2v1m0 1v1m0 5v1m0 4v2m0 2v1m0 1v1m0 3v2m0 1v1m0 2v2m0 1v1m0 1v1m0 1v1m0 1v1M1479.1 4v2m0 65v2m0 3v1m0 1v2m0 2v1m0 2v1m0 12v1m0 1v1m0 5v1m0 4v1m0 1v1m0 5v1m0 14v2m0 1v2M1490.4 0v1m0 68v1m0 1v2m0 6v1m0 2v1m0 2v1m0 1v5m0 2v1m0 2v1m0 1v4m0 1v1m0 4v1m0 3v2m0 6v1m0 1v1m0 4v2M1501.6 2v1m0 2v1m0 65v2m0 4v1m0 1v1m0 1v2m0 5v1m0 3v2m0 5v2m0 3v2m0 2v2m0 2v3m0 1v3m0 1v2m0 1v1m0 1v1m0 7v2m0 1v1M1512.8 74v1m0 5v1m0 3v1m0 4v1m0 2v1m0 2v2m0 3v2m0 1v2m0 1v2m0 6v2m0 1v1m0 4v1m0 1v3m0 8v2m0 1v1M1524.0 4v1m0 65v3m0 4v4m0 3v1m0 4v1m0 2v1m0 1v3m0 1v1m0 2v1m0 2v1m0 2v1m0 1v1m0 3v2m0 2v1m0 3v3m0 1v1m0 4v1m0 1v3m0 19v1M1535.3 71v1m0 4v2m0 2v1m0 7v2m0 2v1m0 3v4m0 9v1m0 2v2m0 1v1m0 2v1m0 2v1m0 1v1m0 2v1m0 1v1m0 2v2m0 1v1m0 1v2M1546.5 69v3m0 2v2m0 1v5m0 5v3m0 2v1m0 1v2m0 3v1m0 8v2m0 1v1m0 1v3m0 1v2m0 5v3m0 1v1m0 5v2m0 2v1m0 83v1M1557.7 0v1m0 70v1m0 2v1m0 1v2m0 2v1m0 4v1m0 3v4m0 6v1m0 8v1m0 4v1m0 2v3m0 2v4m0 3v1m0 6v1m0 70v1M1569.0 2v1m0 66v3m0 1v1m0 1v1m0 1v1m0 6v2m0 1v2m0 1v6m0 1v2m0 1v1m0 5v1m0 4v1m0 6v3m0 7v1m0 2v1m0 1v1m0 1v2M1580.2 69v1m0 2v3m0 3v1m0 3v1m0 4v1m0 1v1m0 1v2m0 1v1m0 2v2m0 1v2m0 2v2m0 2v6m0 1v1m0 1v1m0 4v2m0 1v2m0 1v1m0 2v2M1591.4 72v2m0 1v1m0 1v2m0 2v1m0 2v2m0 1v2m0 5v1m0 1v1m0 1v2m0 1v1m0 4v1m0 2v1m0 1v1m0 4v1m0 4v1m0 1v2m0 3v1m0 6v2M1602.7 71v1m0 7v4m0 2v2m0 1v3m0 5v2m0 1v2m0 3v1m0 3v1m0 2v1m0 3v1m0 1v1m0 2v1m0 1v1m0 2v1m0 6v2m0 1v1m0 13v1m0 100v1M1613.9 4v1m0 64v1m0 1v1m0 3v1m0 1v1m0 1v1m0 2v1m0 2v1m0 1v1m0 2v3m0 1v1m0 3v2m0 4v7m0 10v3m0 1v1m0 1v1m0 3v1m0 2v1m0 2v2m0 216v1M1625.1 0v1m0 73v5m0 3v1m0 2v2m0 2v1m0 1v1m0 1v1m0 3v2m0 2v1m0 2v1m0 1v1m0 1v3m0 1v1m0 2v1m0 1v2m0 1v2m0 1v1m0 3v1m0 6v1m0 90v1m0 146v1M1636.3 70v2m0 6v3m0 1v2m0 1v1m0 1v3m0 1v3m0 2v2m0 1v2m0 3v1m0 7v1m0 4v1m0 1v1m0 5v2m0 3v1m0 1v2m0 3v1M1647.6 2v1m0 67v1m0 2v2m0 2v1m0 1v1m0 2v1m0 4v2m0 1v2m0 4v1m0 1v2m0 1v1m0 5v3m0 3v2m0 2v1m0 1v1m0 3v2m0 6v3m0 1v1m0 1v1m0 207v1M1658.8 0v1m0 70v1m0 5v1m0 3v1m0 3v2m0 2v1m0 2v1m0 1v1m0 4v1m0 6v1m0 6v1m0 1v1m0 1v1m0 3v1m0 6v1m0 4v3m0 1v1m0 12v1M1670.0 4v2m0 66v1m0 2v1m0 3v1m0 1v1m0 7v2m0 3v1m0 5v1m0 7v2m0 2v3m0 3v2m0 9v1m0 2v1m0 1v1m0 2v1m0 111v1M1681.3 72v1m0 3v3m0 3v1m0 2v1m0 3v1m0 1v1m0 2v2m0 2v2m0 1v1m0 4v1m0 3v4m0 5v1m0 1v1m0 1v4m0 4v1m0 5v1m0 178v2m0 29v1M1692.5 0v1m0 72v1m0 8v1m0 2v1m0 1v1m0 1v4m0 7v1m0 10v4m0 2v1m0 4v1m0 5v1m0 9v1m0 86v1M1703.7 69v1m0 2v1m0 1v3m0 3v1m0 3v2m0 1v2m0 2v2m0 6v3m0 4v1m0 1v1m0 2v3m0 3v1m0 1v1m0 3v1m0 2v1m0 4v2m0 4v1m0 20v1M1714.9 70v2m0 3v2m0 2v1m0 5v1m0 1v2m0 1v1m0 1v1m0 3v3m0 1v1m0 7v1m0 2v1m0 2v2m0 2v1m0 12v1M1726.2 4v1m0 67v2m0 3v1m0 1v1m0 1v1m0 3v1m0 3v2m0 3v2m0 3v1m0 6v1m0 1v1m0 8v1m0 3v1m0 2v1m0 4v1m0 1v1m0 1v1m0 1v1m0 1v1M1737.4 69v1m0 1v1m0 1v2m0 16v2m0 4v1m0 3v2m0 3v1m0 2v1m0 2v1m0 5v1m0 2v3m0 5v1m0 1v1m0 5v1m0 105v1M1748.6 5v1m0 67v3m0 1v1m0 2v1m0 1v1m0 1v2m0 1v2m0 2v2m0 2v1m0 2v1m0 2v1m0 2v1m0 1v1m0 1v2m0 1v1m0 5v2m0 1v1m0 5v1m0 1v1m0 2v1m0 5v2M1759.9 69v1m0 2v2m0 2v3m0 1v3m0 2v1m0 1v1m0 4v3m0 1v2m0 2v1m0 5v1m0 1v2m0 1v2m0 1v2m0 2v1m0 3v2m0 4v1m0 2v4M1771.1 69v1m0 2v2m0 10v1m0 3v1m0 7v1m0 4v1m0 11v1m0 4v1m0 3v1m0 3v1m0 10v1M1782.3 0v1m0 70v3m0 1v1m0 3v4m0 2v1m0 2v1m0 3v1m0 3v1m0 7v2m0 2v2m0 1v5m0 3v1m0 1v1m0 1v1m0 5v1m0 2v1m0 2v1m0 1v1M1793.6 3v1m0 66v4m0 3v1m0 3v1m0 3v1m0 4v3m0 1v1m0 2v3m0 8v1m0 2v1m0 2v1m0 3v3m0 2v1m0 6v1m0 2v2m0 2v1M1804.8 69v1m0 2v2m0 4v2m0 1v1m0 2v1m0 2v1m0 3v1m0 1v2m0 4v4m0 2v1m0 3v3m0 5v2m0 2v1m0 1v1m0 7v2m0 69v1M1816.0 74v1m0 5v1m0 1v1m0 5v2m0 1v2m0 2v1m0 2v1m0 2v1m0 3v1m0 4v1m0 4v1m0 2v1m0 3v1m0 5v3m0 6v1M1827.2 71v3m0 5v1m0 7v1m0 7v1m0 3v1m0 7v1m0 15v1m0 8v1m0 195v1M1838.5 77v2m0 6v1m0 1v2m0 1v3m0 2v2m0 5v1m0 4v4m0 12v2m0 4v1m0 93v1M1849.7 4v1m0 64v1m0 4v1m0 4v1m0 14v1m0 2v1m0 2v2m0 9v1m0 7v1m0 1v1m0 80v1m0 97v1M1860.9 203v1m0 95v2M1872.2 0v2m0 3v1M1883.4 1v1m0 232v2"/>
<path stroke="#6666bb" d="M1052.4 4v1m0 64v1m0 3v1m0 12v2m0 27v1m0 5v1m0 3v1M1063.6 9v1m0 59v1m0 10v2m0 19v2m0 9v1m0 1v1m0 7v1m0 9v1m0 58v1M1074.9 72v1m0 6v2m0 1v1m0 4v1m0 19v1m0 1v1m0 85v1M1086.1 75v1m0 19v2m0 2v1m0 5v1m0 12v1m0 12v1m0 1v1M1097.3 79v1m0 3v1m0 11v1m0 15v1m0 7v1m0 15v1M1108.6 10v1m0 62v1m0 3v1m0 4v1m0 7v1m0 3v1m0 13v1m0 8v1m0 13v1m0 6v1M1119.8 0v1m0 72v1m0 3v1m0 7v1m0 4v2m0 3v1m0 5v1m0 6v1m0 16v1m0 8v1m0 73v1M1131.0 75v3m0 2v1m0 4v1m0 13v1m0 1v1m0 2v1m0 9v1m0 93v1M1142.2 70v1m0 3v1m0 6v1m0 6v4m0 2v3m0 16v1m0 3v1m0 4v1m0 8v1m0 2v2m0 92v1M1153.5 5v1m0 68v2m0 5v1m0 3v1m0 2v1m0 1v1m0 4v1m0 1v1m0 11v1m0 12v2m0 11v1m0 2v1m0 32v1m0 31v1M1164.7 72v1m0 19v1m0 5v3m0 1v1m0 6v3m0 7v1m0 3v1m0 5v1M1175.9 1v2m0 68v2m0 3v1m0 2v1m0 2v1m0 6v1m0 6v1m0 2v2m0 2v1m0 1v1m0 1v1m0 5v1m0 23v2M1187.2 0v1m0 71v2m0 4v1m0 3v1m0 25v1m0 4v1m0 7v1m0 6v1m0 6v1m0 35v1M1209.6 167v1m0 159v1M1220.9 204v1m0 162v1M1232.1 76v2m0 3v1m0 9v1m0 2v1m0 3v1m0 1v2m0 2v2m0 6v2m0 4v1m0 4v1m0 7v1M1243.3 69v1m0 5v3m0 2v2m0 2v1m0 5v1m0 7v1m0 3v1m0 1v1m0 4v1m0 9v1m0 5v1m0 2v1m0 9v1m0 118v1M1254.5 77v1m0 6v1m0 3v2m0 14v1m0 3v1m0 2v1m0 5v2m0 3v1m0 2v2m0 99v1M1265.8 75v1m0 11v1m0 4v2m0 7v1m0 2v1m0 3v3m0 2v2m0 14v1m0 157v1M1277.0 1v1m0 1v1m0 77v2m0 38v1m0 9v1m0 1v1M1288.2 69v1m0 3v1m0 1v3m0 10v1m0 1v1m0 5v1m0 1v1m0 12v1m0 13v1m0 2v1m0 218v1m0 2v1M1299.5 1v1m0 84v3m0 11v2m0 2v1m0 2v1m0 23v1m0 3v1m0 2v1m0 148v1m0 82v1M1310.7 115v1m0 3v1m0 108v1m0 122v1m0 10v1M1321.9 3v1m0 66v1m0 2v2m0 6v1m0 6v1m0 1v1m0 15v1m0 3v3m0 2v1m0 2v1m0 3v1m0 2v1m0 5v1m0 230v1M1333.1 69v1m0 8v1m0 13v1m0 2v1m0 5v1m0 7v1m0 19v1m0 1v1m0 1v1m0 2v3m0 138v1M1344.4 1v1m0 2v1m0 74v1m0 8v1m0 11v2m0 9v1m0 2v1m0 3v1m0 6v1m0 2v1m0 7v1M1355.6 5v1m0 71v1m0 7v1m0 6v1m0 1v1m0 2v2m0 5v1m0 2v1m0 1v1m0 8v1m0 5v1m0 6v1m0 48v1m0 71v1M1366.8 1v1m0 67v1m0 4v1m0 6v1m0 9v1m0 5v1m0 1v1m0 6v1m0 5v1m0 5v1m0 12v3m0 1v1m0 116v1m0 28v1m0 19v1m0 3v1M1378.1 0v1m0 1v1m0 71v1m0 8v3m0 12v1m0 1v1m0 8v1m0 3v1m0 1v1m0 3v1m0 3v1m0 13v1m0 38v1m0 46v1M1389.3 71v1m0 7v2m0 3v1m0 5v1m0 1v1m0 12v1m0 3v1m0 9v1m0 10v2m0 4v1m0 170v1M1400.5 75v1m0 9v1m0 14v1m0 20v3m0 52v1M1411.8 4v1m0 72v5m0 5v1m0 6v1m0 4v1m0 7v1m0 1v1m0 7v1m0 16v1m0 1v1m0 19v1m0 18v1M1423.0 74v1m0 3v1m0 1v1m0 15v1m0 2v2m0 1v1m0 2v1m0 2v2m0 2v1m0 1v1m0 3v1m0 9v1M1434.2 1v1m0 74v1m0 2v1m0 1v1m0 10v1m0 9v1m0 5v1m0 2v2m0 6v1m0 4v2m0 2v1m0 8v1M1445.4 80v1m0 17v2m0 2v1m0 18v1m0 1v1m0 4v1m0 2v1m0 4v1M1456.7 2v1m0 1v2m0 63v1m0 2v2m0 5v1m0 1v1m0 3v1m0 7v1m0 19v2m0 4v1m0 5v1m0 1v2m0 2v1m0 92v1m0 79v1m0 14v1M1467.9 1v1m0 67v1m0 15v1m0 4v1m0 3v1m0 2v2m0 7v1m0 3v2m0 9v1m0 10v1m0 1v1m0 174v1M1479.1 77v1m0 3v1m0 6v2m0 2v2m0 1v1m0 8v2m0 3v1m0 4v1m0 10v2m0 5v1M1490.4 1v1m0 2v1m0 79v1m0 1v1m0 9v1m0 14v1m0 6v1m0 3v1m0 3v1m0 4v1m0 2v1m0 19v1M1501.6 69v1m0 3v2m0 5v1m0 3v1m0 2v1m0 1v1m0 7v2m0 7v1m0 8v1m0 3v1m0 2v1m0 3v1m0 4v1m0 3v1m0 1v1M1512.8 2v1m0 66v1m0 2v1m0 4v1m0 3v1m0 3v1m0 2v1m0 1v1m0 3v1m0 2v3m0 8v1m0 1v1m0 8v1m0 3v1m0 7v1m0 2v1M1524.0 0v1m0 2v1m0 81v1m0 1v1m0 9v1m0 7v2m0 11v1M1535.3 4v1m0 64v1m0 2v2m0 7v1m0 5v1m0 2v2m0 1v1m0 1v1m0 4v1m0 5v1m0 10v1m0 1v1m0 2v1m0 2v1m0 143v1M1546.5 76v1m0 5v1m0 1v2m0 10v1m0 3v1m0 3v1m0 1v1m0 5v1m0 3v1m0 4v3m0 12v1M1557.7 70v1m0 2v1m0 1v1m0 2v2m0 2v1m0 10v1m0 2v1m0 4v1m0 10v1m0 2v1m0 15v2m0 1v1m0 214v1M1569.0 76v1m0 2v1m0 9v1m0 9v1m0 1v1m0 2v1m0 3v1m0 3v2m0 1v1m0 5v1m0 1v1m0 1v1m0 6v1m0 1v1m0 3v1M1580.2 79v1m0 1v1m0 3v1m0 16v1m0 11v1m0 14v1m0 4v1m0 2v1m0 9v1m0 74v1M1591.4 1v1m0 68v1m0 8v1m0 24v1m0 3v1m0 3v1m0 1v2m0 1v1m0 1v1m0 5v1m0 8v1m0 87v1M1602.7 69v1m0 2v1m0 3v1m0 1v1m0 12v1m0 2v1m0 3v1m0 14v2m0 3v2m0 3v1m0 13v1M1613.9 72v3m0 1v1m0 3v2m0 2v1m0 11v2m0 2v1m0 19v1m0 11v1m0 2v1M1625.1 3v1m0 65v1m0 1v1m0 7v3m0 2v1m0 3v1m0 1v1m0 3v2m0 4v1m0 6v1m0 5v2m0 7v1m0 2v1m0 2v1m0 8v1m0 85v1M1636.3 72v2m0 2v2m0 16v2m0 10v1m0 1v2m0 5v1m0 2v1m0 5v1m0 2v1m0 3v1m0 3v2m0 208v1M1647.6 72v1m0 3v1m0 3v1m0 8v1m0 5v1m0 4v1m0 3v1m0 6v2m0 2v1m0 2v1m0 3v1m0 2v1m0 2v1m0 29v2m0 195v1M1658.8 4v1m0 67v3m0 5v1m0 3v1m0 11v1m0 28v1m0 229v1M1670.0 3v1m0 72v1m0 3v1m0 1v1m0 5v1m0 6v2m0 9v2m0 16v1m0 3v1m0 4v1m0 1v1m0 209v1M1681.3 69v1m0 4v1m0 5v2m0 2v1m0 5v1m0 5v1m0 7v2m0 3v1m0 5v1m0 12v1m0 21v1M1692.5 69v1m0 24v1m0 1v1m0 4v2m0 12v1m0 3v3m0 1v1m0 8v1M1703.7 5v1m0 67v1m0 3v1m0 5v1m0 5v2m0 4v2m0 1v1m0 4v2m0 9v2m0 6v1m0 1v2m0 3v1m0 5v1M1714.9 0v1m0 68v1m0 2v1m0 4v1m0 2v3m0 8v1m0 2v1m0 4v1m0 4v1m0 1v2m0 2v1m0 2v1m0 3v1m0 2v1m0 5v1m0 2v1m0 4v1m0 3v1m0 179v1M1726.2 80v1m0 10v2m0 25v1M1737.4 72v1m0 4v1m0 1v2m0 17v2m0 4v1m0 2v1m0 2v1m0 2v2m0 2v1m0 1v1m0 5v2m0 1v1m0 3v1M1748.6 69v1m0 19v2m0 3v1m0 2v1m0 1v2m0 9v1m0 1v2m0 7v2m0 2v1m0 6v2M1759.9 71v1m0 2v1m0 26v1m0 11v1m0 3v1m0 8v1m0 11v1M1771.1 2v1m0 78v1m0 10v1m0 2v1m0 8v1m0 1v1m0 8v1m0 1v1m0 1v1m0 5v1m0 8v3M1782.3 69v1m0 6v1m0 13v1m0 4v1m0 1v1m0 2v1m0 6v1m0 2v1m0 6v2m0 9v1m0 2v1M1793.6 69v1m0 5v1m0 6v1m0 1v1m0 1v2m0 1v1m0 5v1m0 4v1m0 4v2m0 10v1m0 4v1m0 1v1m0 3v1m0 2v1M1804.8 71v1m0 2v2m0 4v1m0 1v1m0 2v1m0 17v1m0 18v1m0 3v1m0 6v1m0 1v1M1816.0 73v1m0 5v1m0 1v1m0 3v1m0 4v1m0 3v1m0 4v1m0 4v1m0 7v1m0 4v1m0 1v1m0 1v1m0 1v1m0 1v1m0 8v1m0 66v1m0 126v1M1827.2 75v1m0 6v1m0 7v1m0 33v1m0 6v1m0 2v1M1838.5 0v1m0 78v1m0 9v1m0 10v2m0 18v1m0 4v1M1849.7 1v1m0 80v1m0 1v1m0 11v1m0 7v1m0 12v2m0 8v1M1860.9 1v1m0 1v1m0 24v1m0 205v1M1872.2 330v1M1883.4 5v1m0 60v1m0 214v1"/>
<path stroke="#6677bb" d="M1052.4 72v1m0 11v1m0 7v1m0 35v1M1063.6 76v1m0 9v1M1074.9 132v1M1086.1 112v1m0 6v1M1097.3 94v1m0 25v1m0 8v1m0 13v1m0 181v1M1108.6 132v1M1119.8 84v1M1131.0 78v1m0 11v1m0 29v1m0 117v1M1142.2 72v1m0 32v1m0 8v1m0 28v1M1153.5 73v1m0 46v1m0 8v1m0 68v1M1164.7 4v1m0 71v1m0 29v1m0 20v1M1175.9 3v1m0 87v2M1187.2 89v1m0 24v1m0 51v1M1198.4 327v1M1209.6 5v1m0 220v1M1220.9 257v1m0 68v2M1232.1 125v1m0 6v1M1243.3 72v1m0 9v1m0 8v1m0 43v1m0 123v1m0 109v1M1254.5 101v1m0 7v1m0 17v1m0 244v1M1265.8 4v1m0 81v1m0 10v1m0 20v1m0 17v1M1277.0 4v1m0 68v1m0 21v1m0 5v1m0 12v1m0 20v1M1288.2 93v1m0 5v1m0 23v1m0 228v1M1299.5 83v1M1310.7 2v1m0 76v1m0 52v1m0 168v1M1321.9 1v1m0 78v1m0 38v1M1333.1 80v1m0 31v1M1344.4 72v1m0 47v1m0 2v1m0 11v1m0 2v1M1355.6 73v1m0 48v1m0 14v1m0 117v1M1366.8 3v1m0 67v2m0 28v1m0 23v1M1378.1 72v2M1389.3 87v1M1400.5 86v2m0 2v1m0 37v1M1411.8 110v1m0 24v1m0 171v1M1434.2 2v2m0 67v1m0 5v1m0 4v1m0 2v1m0 27v1m0 12v1M1445.4 5v1m0 79v1m0 27v1m0 8v1m0 2v1M1467.9 0v1m0 2v1m0 85v1m0 19v1m0 242v1M1479.1 70v1m0 9v1m0 9v1m0 21v1m0 8v1m0 8v2M1490.4 73v1m0 6v1m0 25v1m0 10v1M1501.6 1v1m0 1v1m0 71v1m0 35v1M1512.8 5v1m0 85v1M1524.0 60v1m0 12v1m0 57v1M1535.3 2v1m0 71v1m0 4v1m0 31v1m0 8v1m0 205v1M1546.5 72v2m0 16v1m0 16v1m0 11v1m0 148v1M1557.7 2v1m0 84v1m0 6v1m0 12v1M1569.0 114v1M1580.2 99v1m0 35v1M1591.4 71v1m0 8v1m0 16v1M1602.7 70v1m0 2v1m0 54v1m0 2v1m0 91v1M1613.9 3v1m0 66v1M1625.1 96v1m0 27v1m0 52v1M1636.3 75v1m0 5v1m0 31v1M1647.6 78v1m0 15v1m0 34v1M1658.8 93v1m0 18v1m0 11v1m0 4v1M1670.0 71v1m0 5v1m0 9v1m0 259v1M1681.3 79v1m0 7v1m0 20v1m0 134v1M1692.5 88v1m0 45v1m0 95v1M1703.7 82v1m0 55v1M1714.9 1v1m0 1v1m0 69v1M1726.2 3v1m0 1v1m0 72v1m0 21v1m0 6v1m0 12v1m0 1v1m0 9v1m0 3v1M1737.4 1v1m0 1v1m0 72v1m0 10v1m0 12v1M1748.6 71v1m0 9v1M1759.9 79v1m0 15v1m0 20v1m0 18v1M1771.1 4v1m0 80v1m0 19v1m0 18v1M1782.3 89v1m0 26v1m0 17v1M1793.6 4v1m0 96v1m0 7v1m0 26v1m0 197v1m0 22v1M1804.8 70v1m0 17v1m0 7v1m0 10v1m0 17v1m0 207v1M1816.0 69v1m0 6v2m0 18v1m0 23v1m0 14v1m0 199v1M1827.2 81v1m0 16v1m0 29v1m0 164v1M1838.5 51v1m0 42v1M1849.7 28v1m0 56v1m0 34v1m0 104v1M1872.2 67v1m0 166v1M1883.4 330v1"/>
<path stroke="#6677cc" d="M1052.4 113v1m0 16v1M1063.6 90v1m0 13v1m0 20v1M1097.3 87v1m0 43v1M1108.6 9v1m0 126v1M1119.8 3v1m0 37v1m0 3v1m0 69v1m0 1v1m0 52v1M1131.0 87v1M1142.2 2v1m0 105v1m0 58v1M1153.5 121v1M1164.7 87v1m0 20v1M1175.9 111v1m0 61v1M1187.2 107v1m0 14v1m0 112v1M1198.4 179v1m0 138v1M1209.6 0v1M1243.3 115v1m0 142v1m0 56v1M1254.5 112v1m0 71v1M1265.8 98v1m0 6v1m0 18v1m0 161v1M1277.0 253v1M1288.2 116v1M1299.5 96v1m0 84v1M1310.7 4v1m0 64v1m0 217v1m0 62v1m0 8v1M1321.9 127v1m0 94v1m0 127v1M1333.1 79v1m0 6v1m0 24v1m0 67v1M1344.4 80v1m0 51v1m0 178v1m0 28v1M1355.6 100v1m0 74v1m0 170v1m0 15v1M1366.8 0v1m0 97v1m0 8v1m0 14v1m0 100v1M1378.1 99v1M1411.8 1v1m0 3v1m0 63v1m0 62v1M1434.2 4v1M1445.4 4v1m0 76v1m0 50v1M1456.7 138v1M1467.9 2v1m0 71v1m0 1v2m0 226v1M1479.1 69v1m0 249v1M1490.4 110v1m0 4v1M1501.6 124v1M1512.8 4v1M1524.0 81v1m0 17v1m0 169v1m0 48v1M1535.3 94v1m0 10v1m0 1v1m0 21v1m0 188v1M1546.5 103v1M1557.7 98v1m0 15v1m0 154v1M1569.0 1v1m0 115v1m0 8v1m0 189v1M1580.2 76v1m0 3v1m0 9v1M1591.4 69v1m0 30v1m0 180v1M1602.7 95v1m0 38v1m0 237v1M1613.9 43v1m0 39v1m0 4v1m0 13v2M1625.1 149v1m0 205v1M1636.3 98v1M1647.6 69v1m0 16v1m0 266v1M1658.8 1v1m0 3v1m0 319v1M1670.0 2v1m0 168v1m0 58v1M1692.5 1v1m0 68v1M1703.7 2v1m0 91v1M1714.9 2v1m0 71v1m0 99v1m0 115v1M1726.2 318v1M1737.4 5v1m0 130v1M1748.6 127v1M1759.9 99v1M1771.1 0v2m0 88v1M1782.3 3v1m0 73v1M1793.6 96v1m0 30v1M1804.8 97v1m0 39v1m0 161v1M1816.0 127v1M1827.2 77v1M1838.5 299v1m0 28v1M1849.7 0v1m0 69v1m0 2v1m0 28v1m0 34v1m0 163v1"/>
<path stroke="#7777cc" d="M1052.4 107v1m0 19v1M1063.6 325v1M1086.1 0v1m0 4v1m0 3v2m0 99v1m0 4v1m0 18v1M1097.3 4v1m0 191v1M1108.6 112v2m0 29v1M1119.8 40v1m0 29v1m0 12v1m0 40v1m0 4v1m0 1v1M1131.0 1v1m0 2v1m0 97v1m0 159v1M1142.2 116v1M1153.5 2v1m0 114v1m0 1v1M1164.7 1v1m0 1v1m0 258v1m0 22v1M1175.9 203v1m0 122v1M1187.2 5v1m0 202v1m0 77v1M1198.4 37v1m0 170v1m0 16v2m0 32v1m0 61v1m0 4v1M1209.6 4v1m0 160v1m0 13v1m0 45v1M1220.9 1v1m0 199v1m0 104v1M1232.1 70v1m0 64v1m0 67v1m0 167v1M1243.3 70v1m0 18v1m0 135v1m0 61v1m0 84v1M1254.5 96v1m0 32v1m0 128v1m0 55v1m0 54v1M1265.8 130v1m0 241v1M1277.0 0v1m0 257v1M1299.5 2v2m0 98v1m0 29v1m0 238v1M1310.7 0v2m0 103v1m0 103v1m0 102v1M1321.9 4v1M1333.1 71v1m0 9v1m0 12v1m0 21v1m0 9v1M1344.4 105v2m0 22v1m0 4v1m0 78v1m0 88v1M1355.6 347v1M1366.8 176v1m0 113v1M1378.1 3v2m0 276v1m0 23v1M1389.3 212v1m0 40v1M1400.5 79v1m0 196v1M1411.8 3v1m0 34v1m0 75v1m0 1v1m0 4v1m0 7v1m0 176v1m0 65v1M1423.0 85v1m0 17v1m0 25v1m0 6v1m0 19v1m0 19v1M1434.2 5v1m0 80v1m0 14v1m0 13v1m0 1v1m0 39v1M1445.4 3v1m0 70v1m0 12v1m0 13v1m0 32v1m0 2v1m0 159v1m0 7v1M1456.7 302v1M1467.9 4v1m0 67v1m0 229v1m0 15v1m0 53v1M1479.1 1v1m0 101v1m0 268v1M1490.4 77v1m0 55v1m0 219v1M1501.6 130v1M1512.8 1v1m0 1v1m0 149v1M1524.0 83v1m0 9v1m0 41v1M1535.3 0v1m0 109v1m0 51v1m0 41v1M1546.5 61v1m0 43v1m0 4v1m0 158v1m0 54v2M1557.7 203v1m0 1v1m0 16v1M1569.0 0v1m0 2v1m0 1v1m0 101v1m0 209v1m0 19v1M1591.4 3v1m0 321v1M1602.7 3v1m0 39v1m0 65v1m0 20v1m0 74v1M1613.9 2v1m0 321v1M1625.1 2v1m0 1v1m0 217v1m0 27v1m0 30v1M1647.6 1v1m0 91v1m0 22v1m0 43v1m0 26v1m0 137v1M1658.8 131v2m0 91v1m0 24v1M1670.0 0v1m0 84v1m0 16v1m0 20v1m0 26v1m0 23v1M1681.3 127v1m0 56v1m0 45v1m0 99v1M1692.5 98v1m0 10v1m0 21v1m0 1v1m0 1v1M1703.7 81v1m0 38v1m0 9v1M1714.9 4v1m0 90v1m0 220v2M1726.2 0v2m0 81v1m0 27v1m0 149v1m0 28v1m0 26v1M1737.4 0v1m0 107v1m0 153v1M1748.6 70v1m0 5v1m0 97v1m0 87v1m0 27v1M1759.9 104v1m0 158v1M1771.1 111v1m0 2v1m0 178v2M1782.3 2v1m0 67v1m0 67v1M1793.6 2v1m0 104v1m0 93v1m0 21v1m0 109v1M1804.8 86v1m0 5v1m0 31v1m0 65v1m0 12v1m0 96v1M1816.0 86v1m0 212v1M1827.2 97v1m0 10v1m0 24v1M1838.5 1v2m0 73v1m0 20v1M1849.7 115v1m0 183v1M1860.9 255v1M1872.2 2v1m0 254v1M1883.4 28v1m0 116v1m0 102v1"/>
<path stroke="#7788cc" d="M1052.4 83v1M1063.6 116v1m0 144v1M1074.9 93v1m0 16v1m0 5v1m0 17v1M1086.1 1v3m0 66v1M1097.3 185v1m0 51v1M1108.6 69v1m0 9v1m0 42v1M1119.8 9v1m0 116v1m0 3v1m0 165v1M1131.0 103v1m0 67v1m0 125v1m0 27v1M1142.2 83v1m0 19v1m0 99v1m0 4v1M1153.5 0v1m0 208v1M1164.7 90v1m0 25v1m0 91v1m0 29v1M1175.9 130v1M1187.2 1v1m0 68v1m0 94v1m0 93v1M1198.4 0v1m0 37v1m0 3v1m0 279v1M1209.6 3v1M1220.9 2v1m0 255v2M1232.1 78v1m0 48v1m0 98v1M1243.3 40v1m0 30v1M1254.5 86v1m0 15v1m0 32v1M1265.8 1v1m0 83v1m0 244v1M1277.0 5v1m0 123v1m0 129v1m0 27v1m0 26v1M1288.2 100v1m0 78v1M1299.5 0v1m0 97v1m0 81v1m0 111v1M1310.7 73v1m0 19v1m0 29v1m0 99v1M1321.9 5v1m0 355v1M1344.4 42v1m0 41v1m0 4v2m0 4v1m0 2v1m0 31v1m0 50v1m0 188v1M1355.6 1v1m0 87v1m0 143v1M1366.8 2v1m0 121v1m0 5v1m0 17v1m0 104v1m0 1v1m0 105v1M1378.1 86v1m0 43v1m0 5v1m0 11v1m0 103v1m0 1v1M1389.3 83v1m0 38v1m0 249v1M1400.5 101v1m0 28v1m0 22v1M1411.8 76v1m0 26v1M1423.0 38v1m0 58v1m0 231v1m0 42v1M1434.2 38v1m0 12v1m0 51v1m0 52v1M1445.4 38v1m0 49v1m0 7v2m0 40v1m0 159v1M1456.7 303v1M1467.9 83v1m0 2v1m0 15v1m0 205v1M1479.1 102v1m0 13v1m0 7v1m0 229v1M1490.4 2v1m0 75v1m0 24v1m0 3v1M1501.6 83v1m0 124v1M1512.8 0v1m0 154v1m0 112v1m0 6v1m0 39v1m0 3v1m0 4v1m0 2v1M1524.0 102v1m0 24v1m0 116v1m0 23v1m0 56v1M1535.3 203v1M1546.5 318v1M1557.7 4v1m0 128v1m0 2v1m0 95v1m0 35v1m0 50v1M1569.0 83v1m0 45v1m0 75v1m0 17v1m0 101v1M1580.2 138v1m0 215v1M1591.4 0v1m0 4v1m0 84v1m0 19v1M1602.7 5v1m0 118v1m0 11v1m0 1v1m0 186v1M1613.9 1v1m0 3v1m0 111v2m0 92v1M1625.1 5v1m0 120v1m0 6v1m0 72v1m0 19v1m0 126v1M1636.3 138v1m0 47v2m0 137v1m0 20v1M1647.6 0v1m0 2v1m0 1v1m0 99v1m0 65v1m0 182v1M1658.8 346v1M1670.0 158v1m0 65v1m0 6v1M1681.3 93v1m0 3v1m0 5v1m0 30v1m0 183v1M1692.5 2v2m0 77v1m0 13v1m0 8v1m0 11v1m0 42v1m0 71v1m0 97v1m0 10v1M1703.7 4v1m0 73v1m0 23v1m0 4v1m0 122v1M1714.9 119v1m0 16v1m0 13v1m0 138v1M1726.2 2v1m0 81v1m0 13v1m0 2v1m0 141v1M1737.4 86v1m0 18v1m0 9v1m0 22v1M1748.6 2v1m0 228v1M1759.9 102v1M1771.1 5v1m0 103v1m0 189v1M1782.3 4v1m0 81v1m0 38v1m0 97v3M1793.6 0v1m0 137v1m0 51v1m0 11v1m0 21v1m0 110v1m0 34v1M1804.8 77v1m0 51v1M1816.0 138v1m0 63v1m0 21v1m0 75v1M1827.2 84v1m0 6v1m0 18v1m0 1v2m0 23v1M1838.5 5v1m0 63v1m0 14v1M1849.7 88v2m0 1v1m0 33v1m0 8v1m0 3v1m0 6v1m0 44v1m0 12v1m0 51v1m0 1v1M1860.9 55v1m0 89v1m0 78v1M1872.2 66v1m0 231v1m0 1v1M1883.4 55v1"/>
<path stroke="#8888cc" d="M1052.4 74v1m0 4v1m0 11v1m0 18v1m0 23v1m0 56v1m0 161v1M1063.6 83v1m0 19v1M1074.9 70v1m0 15v1m0 5v1m0 8v1m0 19v1m0 3v1M1086.1 4v1m0 76v1m0 3v1m0 7v1m0 9v1m0 12v1m0 79v1m0 128v1M1097.3 3v1m0 71v2m0 12v1m0 8v1m0 16v1m0 8v1m0 70v1M1108.6 78v1m0 13v1m0 103v1m0 9v1m0 118v1M1119.8 5v1m0 31v1m0 4v1m0 1v1m0 6v1m0 34v1m0 10v1m0 29v1m0 67v1m0 10v1M1131.0 3v1m0 1v1m0 111v1m0 52v1m0 92v1M1142.2 0v1m0 4v1m0 65v1m0 48v1m0 5v1m0 9v1m0 33v1m0 38v1M1153.5 1v1m0 82v1m0 6v1m0 42v1m0 31v1m0 3v1M1164.7 96v1m0 33v2m0 2v1m0 32v1m0 3v1m0 91v1m0 22v1m0 43v1M1175.9 165v1m0 4v1M1187.2 3v1m0 98v1m0 67v1m0 8v1m0 29v1m0 117v1M1198.4 2v1m0 40v1m0 8v1m0 256v1m0 2v1m0 4v1m0 49v1M1209.6 1v1M1220.9 226v1m0 87v1M1232.1 225v1m0 61v1m0 42v1m0 36v1m0 2v1M1243.3 5v1m0 67v1m0 4v1m0 8v2m0 188v1M1254.5 73v1m0 9v1m0 10v1m0 20v1m0 87v2m0 125v1m0 21v1m0 14v1m0 3v1M1265.8 2v1m0 117v1m0 1v1m0 103v1m0 31v1m0 72v1M1277.0 97v1m0 2v1m0 37v1m0 45v2m0 183v1m0 1v1M1288.2 84v2m0 11v1m0 4v1m0 7v1m0 4v1m0 10v1m0 6v1m0 46v1m0 165v1M1299.5 90v1m0 2v1m0 33v1m0 51v1m0 113v1m0 17v1m0 35v1m0 9v1m0 1v1M1310.7 130v1m0 49v2m0 175v1m0 3v1M1321.9 2v1m0 92v2m0 17v1m0 178v1m0 7v1m0 49v1M1333.1 120v1m0 3v1m0 5v1m0 161v1m0 8v1M1344.4 2v1m0 75v1m0 12v1m0 18v1m0 13v1m0 168v1m0 77v1M1355.6 0v1m0 90v1m0 11v1m0 9v1m0 109v1m0 4v1m0 25v1M1366.8 76v1m0 16v1m0 20v1m0 60v1m0 126v1m0 22v1m0 3v1M1378.1 81v1m0 32v1m0 94v1m0 97v1M1389.3 75v1m0 203v1m0 1v1M1400.5 76v1m0 33v1m0 9v1m0 91v1m0 159v1M1411.8 0v1m0 82v1m0 1v1m0 19v1m0 24v1M1423.0 157v1m0 118v1M1434.2 0v1m0 38v1m0 64v1m0 22v1m0 3v1m0 197v1M1445.4 1v1m0 82v1m0 18v1m0 172v1m0 27v1M1456.7 1v1m0 73v1m0 21v1m0 26v1m0 11v1m0 192v1m0 22v1m0 19v1M1467.9 78v1m0 16v1m0 9v1m0 8v1m0 12v1m0 2v1m0 53v1m0 99v1M1479.1 3v1m0 82v1M1490.4 3v1m0 126v1M1501.6 64v1m0 5v1m0 15v1m0 20v1m0 30v1m0 176v1m0 9v1m0 46v1M1512.8 76v1m0 9v2m0 177v1m0 17v1m0 42v1M1524.0 61v1m0 14v1m0 47v1m0 118v1m0 21v1m0 47v1M1535.3 83v1m0 43v1m0 188v2M1546.5 153v1m0 154v1m0 10v1m0 6v1m0 23v1M1557.7 3v1m0 1v1m0 132v1m0 68v1m0 117v1M1569.0 116v1m0 105v1m0 96v1M1580.2 60v1m0 14v1m0 27v1m0 26v1m0 17v1m0 204v1M1591.4 2v1m0 1v1m0 98v1m0 22v2m0 209v1M1602.7 0v1m0 41v1m0 40v1m0 63v1m0 29v1m0 104v1M1613.9 133v1m0 116v1m0 74v1m0 27v1M1625.1 103v1M1636.3 102v1m0 74v1m0 45v1m0 1v2m0 113v1m0 14v1M1647.6 4v1m0 115v1m0 129v1M1658.8 75v2m0 2v1m0 3v1m0 17v1m0 1v1m0 1v1m0 2v1m0 2v1m0 15v1m0 8v1m0 93v2m0 16v1m0 1v1m0 89v1M1670.0 92v1m0 22v1m0 6v1m0 2v1m0 117v1m0 24v1m0 71v1M1681.3 250v1m0 78v1m0 26v1M1692.5 78v1m0 29v1m0 180v2M1703.7 3v1m0 132v1m0 94v1m0 85v1m0 22v1M1714.9 5v1m0 96v1m0 27v1m0 39v1M1726.2 76v1m0 19v1m0 16v1m0 11v1m0 1v1m0 22v1m0 165v1M1737.4 130v1m0 130v1m0 27v1M1748.6 0v2m0 30v1m0 53v1m0 18v1m0 24v1m0 133v1M1759.9 32v1M1771.1 31v1m0 46v1m0 146v1M1782.3 1v1m0 200v1m0 60v1m0 35v1m0 71v1M1793.6 1v1m0 3v1M1804.8 136v1m0 198v1M1816.0 84v1m0 23v1m0 7v1m0 109v1M1827.2 76v1m0 17v1m0 14v1m0 1v1m0 7v1m0 6v1m0 3v1m0 92v1M1838.5 83v1m0 9v1m0 18v1m0 8v1m0 4v1m0 3v1m0 5v3m0 51v1m0 34v1m0 74v1M1849.7 72v1m0 7v2m0 1v1m0 15v1m0 29v1m0 2v1m0 2v1m0 55v1M1860.9 44v1m0 4v1m0 140v1m0 46v1m0 42v1M1872.2 235v1M1883.4 67v1m0 212v1m0 20v1"/>
<path stroke="#8899cc" d="M1052.4 75v1m0 1v1M1063.6 87v1m0 1v1m0 8v1m0 22v1M1074.9 135v1M1086.1 124v1M1097.3 2v1m0 83v1m0 27v1m0 17v2m0 2v1M1108.6 123v1m0 3v1M1119.8 39v1m0 41v1m0 21v1m0 105v1m0 27v1m0 59v1m0 27v1M1131.0 2v1m0 121v1m0 5v1m0 33v1m0 44v1m0 27v1M1142.2 124v1m0 41v1m0 118v1m0 72v1M1153.5 96v1m0 15v1m0 150v1M1164.7 83v1m0 63v1m0 55v1M1175.9 51v1m0 114v1m0 42v1m0 52v2m0 22v1M1187.2 76v1m0 20v1m0 21v1m0 14v1m0 1v1m0 30v1m0 30v1M1198.4 48v1m0 63v1m0 188v1m0 6v1m0 1v1m0 5v1M1209.6 2v1m0 66v1m0 76v1M1220.9 105v1m0 19v1m0 6v1m0 128v1m0 38v1m0 3v1m0 66v1M1232.1 0v1m0 108v1m0 23v1M1243.3 0v1m0 128v1M1254.5 76v1m0 182v1m0 55v1m0 34v1M1265.8 223v1m0 1v1m0 27v1M1277.0 105v1M1288.2 78v1m0 4v1m0 22v1m0 29v1m0 44v1m0 40v1m0 134v1M1299.5 105v1m0 240v1m0 11v1M1310.7 75v1m0 45v2m0 3v1m0 95v1M1321.9 120v1m0 5v1m0 54v1m0 46v1m0 118v1m0 4v1M1333.1 83v1m0 4v1m0 2v1m0 14v1m0 15v1m0 4v1m0 53v1m0 27v1m0 23v1m0 105v1M1344.4 5v1m0 60v1m0 6v1M1355.6 301v1M1378.1 95v1m0 31v1M1389.3 280v1m0 25v1M1400.5 78v1m0 4v1m0 9v1m0 2v1m0 11v1M1411.8 2v1m0 36v1m0 62v1m0 23v1m0 6v1M1423.0 39v1m0 42v1M1434.2 99v1M1445.4 92v1m0 2v1m0 12v2m0 6v1m0 236v1M1456.7 3v1m0 35v1M1467.9 104v1m0 10v1m0 20v1m0 100v1m0 88v1M1479.1 64v1m0 62v1m0 8v1m0 181v1M1490.4 120v1m0 15v1m0 1v1m0 213v1M1501.6 153v1M1512.8 93v1m0 39v1M1524.0 275v1m0 7v1M1535.3 1v1m0 3v1m0 95v1m0 31v1m0 21v1m0 105v1m0 52v1M1546.5 349v1M1557.7 129v2m0 73v1m0 109v1m0 3v1m0 7v1m0 23v1M1569.0 103v1M1580.2 116v1m0 7v1m0 81v1m0 25v1M1591.4 105v1m0 213v1M1602.7 110v1m0 16v1m0 78v1m0 4v1m0 37v1m0 74v1M1613.9 93v1m0 95v1m0 15v1m0 17v1m0 8v1m0 48v2m0 89v1M1625.1 83v1m0 121v1m0 121v1M1636.3 86v1m0 16v1m0 12v1m0 54v1M1647.6 126v1m0 45v1m0 52v1M1658.8 2v1m0 95v1m0 39v1m0 47v1m0 81v1M1670.0 30v1m0 39v1m0 15v1m0 30v1m0 228v1M1681.3 86v1m0 15v1m0 27v1m0 214v1M1692.5 93v1m0 5v1m0 29v2m0 53v1m0 58v1m0 74v1M1703.7 339v1M1714.9 121v1M1726.2 71v1m0 37v1m0 13v1m0 107v1M1737.4 82v1m0 148v1M1748.6 4v1m0 91v1m0 53v1M1759.9 70v1m0 59v1M1771.1 3v1m0 72v1m0 9v1m0 16v1m0 16v1m0 140v1m0 36v1M1782.3 103v1m0 16v1m0 172v1M1793.6 76v1m0 1v1m0 1v1m0 29v1m0 188v1M1804.8 104v1m0 229v1m0 36v1M1816.0 106v1m0 186v1m0 40v1M1827.2 78v1m0 6v1m0 29v2m0 177v1m0 6v1M1838.5 3v2m0 100v2m0 10v1m0 4v1m0 101v1M1849.7 95v1m0 27v1M1860.9 45v1m0 102v1m0 77v1m0 8v1M1872.2 270v1M1883.4 270v1"/>
<path stroke="#9999cc" d="M1052.4 132v1m0 128v1M1063.6 72v1m0 26v1m0 5v1M1074.9 119v1m0 204v1M1086.1 97v1M1097.3 0v1m0 106v1M1108.6 98v1m0 6v1M1119.8 50v1m0 18v1m0 158v1M1131.0 82v1M1142.2 73v1m0 2v1m0 21v1m0 226v1M1153.5 103v1m0 7v1m0 15v1m0 2v1m0 12v1m0 21v1m0 96v1M1164.7 132v1m0 5v1M1175.9 93v1m0 114v1m0 16v1m0 101v1M1187.2 2v1m0 1v1m0 79v1m0 118v1M1198.4 4v1m0 65v1m0 7v1m0 37v1m0 202v1M1209.6 78v1m0 8v1m0 20v1m0 1v1m0 18v1M1220.9 0v1m0 82v2m0 9v1m0 15v1m0 8v1m0 14v1M1232.1 84v1m0 151v1m0 132v1M1243.3 203v1m0 68v1m0 57v1M1265.8 0v1m0 75v1m0 131v1M1277.0 66v1m0 56v1M1288.2 121v1M1299.5 103v1m0 22v1m0 242v1M1310.7 83v1m0 26v1m0 1v1m0 180v1M1333.1 42v1m0 39v1m0 20v1m0 104v1m0 13v2m0 69v1M1344.4 137v1M1355.6 176v1m0 32v1M1366.8 75v1m0 26v1m0 2v1m0 99v1M1378.1 124v1M1389.3 108v1m0 114v1m0 52v1m0 18v1M1400.5 38v1m0 172v1m0 22v1m0 70v1m0 6v1M1411.8 305v1M1423.0 121v1M1445.4 86v1M1456.7 101v1m0 218v1M1467.9 124v1M1479.1 83v2m0 25v1M1490.4 64v1m0 9v1M1501.6 96v1m0 57v1m0 171v1M1512.8 70v1m0 58v1m0 38v1M1524.0 86v1m0 50v1m0 15v1M1546.5 129v1m0 3v1M1557.7 106v1M1580.2 281v1M1591.4 95v1m0 115v1m0 112v1M1602.7 103v1M1613.9 0v1m0 111v1M1625.1 234v1M1636.3 372v1M1647.6 83v1m0 19v1M1658.8 70v1m0 29v1m0 139v1m0 83v1M1670.0 78v1m0 42v1M1681.3 136v1m0 12v1m0 190v1m0 5v1M1692.5 83v1m0 26v1m0 14v1m0 48v1M1703.7 86v1m0 153v1M1714.9 135v1M1748.6 277v1m0 11v1M1759.9 125v1m0 199v1M1771.1 32v1m0 79v1m0 14v1m0 228v1M1782.3 78v1m0 183v1M1793.6 83v1m0 213v1m0 32v1M1804.8 223v1m0 13v1m0 57v1M1816.0 83v1m0 19v1M1849.7 2v1m0 121v1m0 99v1M1860.9 43v1m0 158v1M1872.2 99v1m0 199v1"/>
<path stroke="#9999dd" d="M1052.4 76v1m0 25v1m0 15v1m0 1v1m0 64v1m0 4v1M1063.6 85v1m0 21v1m0 18v1m0 135v1M1074.9 100v1m0 3v1m0 6v1m0 26v1m0 4v1m0 181v1M1086.1 128v1m0 66v1M1097.3 80v1m0 7v1m0 10v2m0 21v1m0 196v1M1108.6 93v1m0 1v1m0 1v1M1119.8 38v1m0 39v1m0 17v1m0 14v1m0 31v1m0 52v1M1131.0 70v1m0 13v1m0 38v1M1142.2 137v1m0 99v2M1164.7 70v2m0 21v1m0 167v1M1175.9 70v1m0 26v1m0 12v1m0 115v1m0 58v1m0 72v1M1187.2 124v1m0 111v1M1198.4 46v1m0 22v1m0 3v1m0 2v1m0 7v1m0 6v1m0 5v2m0 4v1m0 2v1m0 2v1m0 3v1m0 4v1m0 15v2m0 2v1m0 27v2m0 138v1M1209.6 82v5m0 4v1m0 2v1m0 24v1m0 1v2m0 4v2m0 3v1m0 1v1m0 1v1m0 1v1m0 27v1m0 195v1m0 4v1M1220.9 69v1m0 1v1m0 4v1m0 4v1m0 9v1m0 5v1m0 2v1m0 1v1m0 8v1m0 1v1m0 1v1m0 5v2m0 1v1m0 13v1m0 61v1m0 112v1m0 44v1M1232.1 72v1m0 6v1m0 27v1m0 29v1M1243.3 94v1m0 276v1M1254.5 331v1m0 25v1M1265.8 3v1m0 74v1m0 24v1m0 179v1M1277.0 70v1m0 32v1m0 14v1m0 1v1m0 6v1m0 8v1m0 67v1m0 18v1m0 25v1m0 107v1m0 12v1M1288.2 107v1m0 19v1m0 80v1M1299.5 70v1m0 59v1m0 221v1M1310.7 71v1m0 12v1m0 51v1m0 71v1m0 83v1M1321.9 89v1m0 14v1m0 19v1m0 9v1m0 236v1M1333.1 72v1m0 32v1m0 11v1m0 5v1m0 89v1m0 14v1m0 25v1m0 47v1m0 67v1M1344.4 71v1m0 133v1m0 17v1m0 139v2M1355.6 48v2m0 36v1m0 41v1m0 73v1m0 89v1m0 9v1M1366.8 5v1m0 196v1m0 89v2M1378.1 70v1m0 25v1m0 215v1M1389.3 138v1m0 85v1m0 30v1m0 114v1M1400.5 94v1m0 21v1m0 38v1m0 19v1m0 130v1M1411.8 75v1m0 10v1m0 40v1m0 25v1M1423.0 83v2m0 97v1m0 91v1M1434.2 100v1m0 4v1m0 1v1m0 6v1m0 5v1m0 54v1M1445.4 83v1m0 40v1M1456.7 116v1m0 70v1m0 98v1m0 11v1m0 55v1M1467.9 5v1m0 64v1m0 48v1m0 63v1m0 119v1M1479.1 97v1m0 55v1m0 130v1M1490.4 83v1m0 9v1m0 11v1m0 18v1m0 112v2m0 133v1M1501.6 94v1m0 15v1m0 18v1m0 135v1m0 2v1m0 62v1m0 20v1M1512.8 73v1m0 9v1m0 44v1m0 25v1m0 114v1M1524.0 74v1m0 33v1m0 46v1m0 89v1m0 68v2M1535.3 116v1m0 85v1m0 19v2M1546.5 86v1m0 6v1m0 67v1m0 154v2M1557.7 110v1M1580.2 170v1m0 77v1M1591.4 86v1m0 33v1m0 1v1m0 15v1m0 38v1m0 11v1m0 126v2M1602.7 93v1m0 22v1m0 9v1m0 2v1m0 225v1M1613.9 114v1m0 4v1m0 86v1m0 15v1M1625.1 189v1m0 34v1M1636.3 150v1m0 71v1m0 27v1m0 102v1M1647.6 177v1m0 45v1M1670.0 1v1m0 97v1m0 36v1m0 35v1m0 11v1m0 63v1m0 76v1M1681.3 70v1m0 47v1m0 16v1M1692.5 84v1m0 18v1m0 3v1m0 28v1m0 193v1m0 7v1M1703.7 97v1m0 18v1m0 10v1m0 42v1M1714.9 122v1m0 14v1m0 46v1m0 46v1M1726.2 75v1m0 34v1m0 19v1M1737.4 94v2m0 129v1m0 52v1M1748.6 78v1m0 182v1M1759.9 83v2m0 208v1M1771.1 89v1m0 43v1m0 103v1M1782.3 5v1m0 77v1m0 9v1m0 42v1M1793.6 79v1M1804.8 106v1m0 9v1m0 74v1M1816.0 70v1m0 26v1m0 4v1m0 88v1m0 45v1m0 60v1m0 34v1M1827.2 70v1m0 15v1m0 5v1m0 27v1m0 69v1m0 11v1m0 22v1M1838.5 72v1m0 8v1m0 52v1m0 163v1M1849.7 71v1m0 31v1m0 1v1m0 16v1m0 23v1m0 151v1M1860.9 41v1m0 8v1M1872.2 108v1m0 171v1m0 20v1m0 12v1m0 29v1"/>
<path stroke="#99aadd" d="M1052.4 108v1m0 80v1M1063.6 84v1m0 34v1m0 4v1M1074.9 91v1m0 93v1M1086.1 132v1m0 52v1M1097.3 1v1m0 3v1m0 86v1m0 3v1M1108.6 111v1m0 17v1m0 65v1m0 41v1M1119.8 46v1m0 1v1m0 31v1M1131.0 81v1m0 54v1M1142.2 92v1M1153.5 94v1m0 9v1m0 31v1m0 30v1m0 129v1m0 20v1M1164.7 86v1m0 2v1m0 15v1m0 240v1M1175.9 127v1m0 217v1m0 10v1M1187.2 86v1m0 6v1m0 183v1M1198.4 1v1m0 3v1m0 30v1m0 2v2m0 12v1m0 17v1m0 9v1m0 1v1m0 2v2m0 4v2m0 1v2m0 4v1m0 3v1m0 8v1m0 2v1m0 1v2m0 2v2m0 11v2m0 7v1m0 57v1m0 100v1m0 2v1m0 22v1M1209.6 75v1m0 1v1m0 2v1m0 7v2m0 2v2m0 3v2m0 2v1m0 7v1m0 1v1m0 2v1m0 5v1m0 3v1m0 6v1m0 3v1m0 1v1m0 7v1M1220.9 70v1m0 1v1m0 12v1m0 1v1m0 1v1m0 6v1m0 1v2m0 4v1m0 1v1m0 1v2m0 4v1m0 21v1m0 161v1m0 13v1M1232.1 71v1m0 34v1M1243.3 1v1m0 1v1m0 108v1m0 23v1M1254.5 106v1m0 94v1M1265.8 127v1m0 81v1m0 141v1M1277.0 75v1m0 271v1m0 10v2M1288.2 118v1m0 1v1m0 1v1m0 1v1m0 9v1m0 3v1M1321.9 48v1m0 16v1m0 13v1m0 128v1m0 83v1M1333.1 84v1m0 227v1m0 33v1m0 22v1M1344.4 85v1m0 8v1m0 217v1M1355.6 105v2m0 19v1m0 7v1m0 3v1m0 42v1m0 52v1m0 95v1m0 38v1M1366.8 279v1m0 27v1m0 22v1m0 40v1M1378.1 79v2m0 39v1m0 10v1m0 6v1m0 140v1m0 26v1m0 56v1M1389.3 123v1m0 33v1m0 147v1m0 6v1m0 11v1M1400.5 77v1m0 25v1m0 52v1M1411.8 93v1M1423.0 150v1m0 73v1M1434.2 306v1M1445.4 39v1m0 54v1m0 40v1m0 21v1m0 172v1M1456.7 83v1m0 201v1m0 11v1m0 20v1M1467.9 81v1m0 109v1m0 71v1M1479.1 133v1m0 152v1M1490.4 168v1M1501.6 0v1m0 102v1M1512.8 64v1m0 13v1m0 37v1m0 126v2m0 29v1M1524.0 168v1m0 33v2m0 18v1m0 94v1m0 1v1M1535.3 60v1m0 9v1m0 197v1m0 5v2M1546.5 97v2m0 33v1m0 71v1M1557.7 102v1m0 145v1M1569.0 78v1m0 127v1M1580.2 19v1m0 50v1m0 209v1m0 7v1m0 35v1M1591.4 19v1m0 62v1m0 6v1m0 41v1m0 1v1m0 13v1m0 14v1m0 155v1M1602.7 101v1m0 74v1M1613.9 78v1m0 57v1M1625.1 70v1M1636.3 234v1M1647.6 130v1m0 118v1M1658.8 107v1m0 115v1m0 105v1m0 24v1M1670.0 91v1m0 11v1m0 23v1m0 45v1m0 13v1M1681.3 120v1m0 119v1M1692.5 127v1M1703.7 109v1M1714.9 83v1m0 17v1m0 1v1m0 20v1M1726.2 74v1m0 22v1m0 6v1m0 163v1M1737.4 111v1m0 38v1m0 81v1M1748.6 103v1M1759.9 86v1m0 138v1M1771.1 93v1m0 134v1m0 141v1M1782.3 237v1M1793.6 225v2m0 66v2m0 3v1M1804.8 224v1m0 132v1M1816.0 72v1m0 51v1m0 100v1M1827.2 69v1m0 13v1m0 18v2m0 10v1m0 3v1m0 107v1M1838.5 86v1m0 44v2m0 93v1M1849.7 78v1m0 8v1m0 2v1m0 25v1m0 11v1m0 2v1m0 1v1m0 102v1m0 13v1m0 30v1M1860.9 54v1m0 132v1m0 3v1m0 106v1M1872.2 95v1M1883.4 84v1m0 152v1"/>
<path stroke="#aaaadd" d="M1052.4 78v1m0 25v1m0 12v1M1063.6 0v1m0 3v2m0 90v2m0 25v1m0 5v1m0 8v1m0 46v1m0 3v1m0 134v1M1074.9 75v1m0 8v1m0 17v1m0 2v1m0 21v1m0 63v1M1086.1 82v1m0 3v1m0 14v1m0 21v1m0 200v1m0 3v1M1097.3 78v1m0 14v1m0 19v1m0 92v1m0 117v1m0 3v1M1108.6 70v1m0 32v1m0 6v1m0 22v1m0 104v1M1119.8 43v1m0 69v1m0 210v1m0 3v1m0 12v1M1131.0 0v1m0 124v1m0 1v1m0 15v1m0 197v1M1142.2 84v1m0 22v1m0 38v1m0 116v1m0 33v1M1153.5 71v1m0 46v1m0 167v1M1164.7 80v1m0 43v1m0 45v1m0 27v1M1175.9 145v2m0 210v1M1187.2 120v1m0 12v1m0 39v1m0 156v1M1198.4 3v1m0 37v1m0 12v1m0 17v1m0 1v2m0 1v1m0 1v2m0 1v1m0 2v1m0 2v3m0 3v1m0 4v2m0 1v1m0 1v1m0 2v2m0 1v2m0 3v1m0 5v2m0 2v9m0 31v1m0 4v1m0 90v1m0 34v1m0 3v1m0 4v1m0 5v1m0 1v1m0 1v1m0 45v2M1209.6 70v5m0 1v1m0 2v1m0 1v1m0 8v1m0 4v2m0 2v2m0 1v6m0 4v2m0 1v4m0 4v1m0 2v1m0 3v1m0 2v1m0 128v1m0 98v1M1220.9 4v1m0 68v1m0 3v3m0 2v1m0 5v1m0 1v1m0 1v2m0 1v1m0 5v1m0 5v1m0 4v1m0 4v2m0 1v1m0 2v1m0 2v6m0 1v1m0 1v1m0 1v1m0 124v1m0 42v1m0 2v1m0 6v1m0 1v2m0 2v1m0 8v1M1232.1 40v1m0 47v1m0 19v1m0 91v2m0 71v1M1243.3 2v1m0 80v1m0 32v1m0 84v1m0 24v1m0 26v1m0 24v1M1254.5 90v1m0 158v1m0 108v1M1265.8 70v1m0 10v1m0 8v2m0 29v1m0 1v1m0 9v1m0 67v1m0 169v1M1277.0 255v1m0 116v1M1288.2 103v1m0 8v1m0 18v1m0 41v1m0 81v1m0 37v1m0 65v1M1299.5 92v1m0 4v1m0 21v1m0 82v1m0 19v2m0 127v1M1310.7 72v1m0 1v1m0 10v2m0 29v1m0 7v2m0 8v1m0 151v1m0 15v1m0 43v1m0 5v1M1321.9 24v1m0 53v1m0 15v1m0 7v1m0 179v1m0 28v1m0 34v1M1333.1 70v1m0 36v1m0 10v1m0 84v1m0 143v1m0 23v1M1344.4 24v2m0 71v1m0 130v1m0 100v1M1355.6 79v1m0 10v1m0 41v1m0 29v1m0 166v1m0 31v1M1366.8 70v1m0 14v1m0 51v1m0 25v1m0 45v1m0 18v1m0 5v1m0 19v1m0 69v1M1378.1 78v1m0 96v1m0 104v1m0 43v2m0 3v2M1389.3 76v1m0 25v1m0 9v1m0 3v1m0 1v1m0 34v1m0 9v1m0 126v1m0 20v1m0 52v1M1400.5 88v1m0 6v1m0 13v1m0 197v1m0 21v2M1411.8 120v1m0 36v1m0 171v2m0 32v1M1423.0 130v1m0 22v1m0 33v1m0 119v1m0 22v1M1434.2 52v1m0 53v1m0 198v1m0 66v1M1445.4 51v1m0 53v1m0 27v1m0 22v1m0 91v1m0 80v1m0 22v1m0 1v1M1456.7 38v1m0 91v1m0 222v1M1467.9 64v1m0 61v1m0 11v1m0 85v1m0 94v1m0 9v1m0 23v2M1479.1 107v1m0 12v1m0 199v1m0 8v2m0 22v1M1490.4 116v1m0 10v1m0 108v1m0 11v1m0 16v1m0 63v1M1501.6 95v1m0 6v1m0 24v1m0 81v1m0 1v1m0 57v1M1512.8 112v1m0 14v1m0 74v1m0 79v1m0 30v1M1524.0 88v1m0 14v1m0 6v1m0 213v1M1535.3 3v1m0 82v1m0 232v1m0 4v1M1546.5 40v1m0 19v1m0 41v1m0 24v1m0 32v1m0 1v1m0 40v1m0 110v2M1557.7 60v1m0 59v1m0 5v2m0 61v1m0 21v1M1569.0 61v1m0 65v1m0 61v1m0 17v1m0 16v1m0 7v1m0 43v1m0 32v1m0 8v1m0 7v1m0 22v1M1580.2 107v1m0 28v1m0 12v1m0 12v1m0 26v1M1591.4 43v1m0 39v1m0 7v1m0 15v1m0 22v1m0 1v1m0 72v1m0 18v1m0 7v1m0 46v1M1602.7 106v1m0 82v1m0 44v1m0 46v1M1613.9 42v1m0 87v1m0 45v1m0 57v1m0 14v1M1625.1 116v1m0 21v1m0 88v1m0 97v1m0 44v1M1636.3 145v1m0 3v1m0 22v1M1647.6 85v1m0 41v1m0 21v1m0 72v1m0 117v1m0 6v1M1658.8 91v1m0 5v1m0 11v1m0 6v1m0 13v1m0 40v1m0 12v1M1670.0 73v2m0 8v1m0 9v1m0 4v1m0 6v1m0 120v1m0 13v1m0 88v1M1681.3 83v1m0 23v1m0 14v1m0 6v1m0 93v2m0 43v1M1692.5 75v1m0 10v1m0 37v1m0 115v1m0 7v1m0 68v1M1703.7 71v1m0 217v2m0 25v1m0 1v1M1714.9 112v1m0 3v1m0 126v1m0 6v1M1726.2 70v1m0 55v1m0 43v1m0 91v1M1737.4 2v1m0 67v1m0 7v1m0 14v1m0 2v1m0 19v1m0 10v1m0 98v1M1748.6 31v1m0 61v1m0 25v1m0 15v1m0 89v1m0 52v1M1759.9 110v1m0 115v1m0 4v1m0 30v1M1771.1 121v1m0 7v1m0 94v1m0 1v1m0 35v1m0 1v1m0 60v1m0 4v1M1782.3 84v1m0 118v1m0 57v1m0 2v1M1793.6 126v1m0 64v1m0 11v1m0 75v1m0 8v1m0 69v1M1804.8 76v1m0 6v1m0 35v1m0 7v1m0 10v1m0 138v1m0 15v1m0 64v1m0 10v1M1816.0 50v1m0 42v1m0 32v1m0 123v1M1827.2 104v1m0 22v1m0 1v1m0 5v1m0 2v1m0 64v1m0 31v1m0 63v1M1838.5 82v1m0 35v1m0 83v1m0 47v1M1849.7 77v1m0 14v1m0 55v1m0 38v1m0 38v1m0 70v1M1860.9 40v1m0 1v1m0 4v1m0 98v1m0 123v1m0 30v1m0 12v1M1872.2 80v1m0 156v1m0 9v1m0 2v1m0 92v1M1883.4 256v1"/>
<path stroke="#aabbdd" d="M1052.4 90v1M1063.6 88v1M1074.9 2v1m0 187v1M1086.1 122v1M1097.3 126v1m0 111v1m0 88v1M1108.6 76v1m0 48v1M1119.8 87v1m0 147v1M1131.0 137v1M1142.2 164v1m0 15v1m0 81v1m0 33v1M1153.5 115v1m0 29v1m0 139v1m0 38v1M1164.7 78v1m0 28v1m0 37v2m0 35v1m0 52v1m0 82v1m0 26v1M1175.9 167v1m0 14v1m0 78v1M1187.2 130v1m0 215v1M1198.4 262v1m0 39v2m0 10v1M1209.6 125v1m0 110v2M1220.9 3v1m0 1v1m0 69v1m0 4v1m0 5v1m0 29v1m0 86v1m0 106v1m0 35v1M1232.1 86v1m0 29v1M1243.3 4v1M1265.8 80v1m0 3v1m0 11v1m0 41v1m0 116v1m0 16v1M1277.0 65v1m0 17v1m0 67v1m0 56v1M1288.2 0v1m0 2v1m0 283v1M1299.5 91v1m0 24v1m0 7v1M1310.7 66v1m0 36v1M1321.9 253v1M1333.1 2v1m0 63v1m0 31v1m0 20v1m0 82v1m0 162v1M1344.4 76v1m0 215v1m0 72v1M1355.6 120v1m0 92v1M1366.8 364v1M1378.1 116v1M1389.3 93v1m0 231v1M1400.5 104v2m0 57v1M1411.8 97v1m0 40v1M1423.0 127v1m0 55v1M1434.2 74v1m0 63v1m0 37v1M1445.4 306v1M1456.7 262v1M1467.9 236v1m0 11v1M1479.1 236v1m0 25v1m0 63v1M1490.4 167v1m0 158v1M1501.6 142v1m0 12v1m0 197v1M1512.8 203v1m0 44v1m0 65v1M1524.0 126v1m0 96v1m0 50v1m0 7v1m0 33v1M1535.3 11v1m0 9v1m0 260v1M1546.5 282v1M1557.7 224v1m0 91v1M1569.0 310v1m0 13v1M1580.2 93v1m0 117v1m0 1v1m0 65v1m0 38v1m0 6v1M1591.4 76v1m0 72v1m0 98v1m0 33v1M1602.7 276v1m0 93v1M1613.9 177v1m0 122v1m0 69v1M1625.1 299v1m0 24v1M1636.3 105v1m0 14v1m0 206v1M1647.6 224v1M1658.8 172v1m0 53v1M1670.0 223v1M1681.3 249v1M1692.5 249v2m0 17v1M1703.7 243v1M1714.9 84v1m0 40v1M1726.2 114v1M1737.4 174v1m0 150v1M1748.6 232v1M1771.1 74v1m0 22v1m0 197v1M1782.3 370v1M1804.8 50v1M1827.2 80v1m0 12v1m0 6v1m0 123v1m0 11v1m0 11v1m0 46v1M1838.5 135v1m0 67v1M1849.7 51v1m0 74v1m0 108v1m0 78v1M1860.9 46v1m0 11v1m0 197v1M1872.2 118v1m0 129v2m0 6v1M1883.4 247v1"/>
<path stroke="#bbbbdd" d="M1052.4 105v1m0 18v1m0 8v1M1063.6 1v3m0 66v1m0 7v1m0 51v1m0 222v2M1086.1 327v1M1097.3 81v1m0 15v1m0 4v1M1108.6 1v1m0 94v1m0 5v1m0 11v2m0 208v1m0 33v1M1119.8 36v1m0 12v1m0 25v1m0 59v1m0 1v1M1131.0 97v1m0 9v1m0 57v1m0 14v1m0 115v1m0 60v1M1142.2 86v1m0 41v2m0 105v1m0 88v1M1153.5 70v1m0 15v1m0 6v1m0 116v1m0 17v1m0 8v2m0 45v1m0 32v1m0 7v1m0 19v2M1164.7 118v1m0 14v1m0 3v1m0 139v1m0 6v1m0 43v1M1175.9 210v1m0 66v1m0 32v1m0 7v1m0 11v1m0 15v1M1187.2 181v2m0 78v2m0 21v1m0 60v1M1198.4 51v1m0 185v1m0 61v1m0 20v1m0 25v1M1209.6 258v1m0 99v1M1220.9 74v1m0 28v1m0 121v1m0 75v1m0 5v1m0 61v1M1232.1 75v1m0 60v1m0 1v1m0 139v1M1243.3 106v1m0 148v1m0 30v1m0 44v1m0 26v1M1254.5 92v1m0 27v1m0 17v1m0 114v1m0 1v1m0 16v1m0 13v1M1265.8 95v1m0 78v1m0 9v1m0 15v1m0 3v1m0 77v1M1277.0 150v1m0 50v1m0 70v1m0 73v1m0 4v2M1288.2 66v1m0 41v1m0 26v1m0 14v1m0 32v1m0 102v1M1299.5 24v2m0 39v2m0 44v1m0 62v1m0 28v1m0 82v1m0 63v1M1310.7 95v1m0 12v1m0 144v1m0 1v1m0 114v1M1321.9 49v1m0 16v1m0 83v1m0 51v2m0 73v1m0 34v1m0 56v1M1333.1 46v1m0 103v1m0 4v1m0 24v1M1344.4 48v1m0 20v2m0 4v1m0 1v1m0 29v2m0 7v2m0 8v1m0 82v1m0 44v1m0 35v1m0 56v1m0 21v1M1355.6 46v1m0 28v1m0 12v1m0 21v1m0 39v1m0 2v1m0 51v1m0 16v1m0 9v1m0 43v1m0 13v1m0 2v1m0 77v1M1366.8 83v1m0 2v1m0 17v1m0 5v1m0 27v1m0 141v1m0 81v1M1378.1 104v1m0 37v1m0 12v1m0 7v1m0 39v1m0 167v1M1389.3 110v1m0 14v1m0 49v2m0 25v1m0 7v1m0 17v1m0 3v1m0 21v1m0 2v1m0 72v1m0 40v1M1400.5 39v1m0 49v1m0 37v1m0 104v2m0 56v1m0 72v2M1411.8 224v1M1423.0 107v1m0 67v1m0 81v1m0 48v1m0 47v1M1434.2 155v1m0 31v1m0 3v1m0 138v1M1445.4 52v1m0 17v1m0 58v2m0 59v1m0 51v2M1456.7 183v1m0 79v1M1467.9 320v1m0 9v1m0 40v1M1479.1 154v2m0 12v1m0 69v1m0 92v1m0 38v1M1490.4 155v1m0 174v1M1501.6 167v1m0 35v1m0 123v1M1512.8 357v2M1524.0 116v1m0 12v1m0 74v1m0 3v2m0 1v1m0 1v1m0 46v1M1535.3 78v1m0 25v1m0 125v1m0 76v1m0 2v3M1546.5 131v1m0 18v1m0 156v1m0 2v1M1557.7 83v2m0 1v1m0 16v1m0 56v1m0 163v1M1569.0 11v1m0 48v1m0 101v1M1580.2 22v1m0 97v1m0 6v1m0 198v1M1591.4 92v1m0 44v1m0 57v2m0 9v1m0 69v1m0 11v1m0 10v1m0 26v1m0 26v1M1602.7 46v1m0 228v1m0 23v1M1613.9 113v1m0 2v1m0 79v1m0 83v1m0 73v1M1625.1 144v1m0 134v1m0 74v1M1636.3 5v1m0 138v1m0 194v1m0 30v1M1647.6 226v1m0 100v1M1658.8 90v1m0 82v1m0 156v1m0 7v1M1670.0 120v1m0 17v1m0 10v1m0 77v1m0 102v1m0 13v1M1681.3 3v1m0 113v1m0 53v1m0 14v1m0 61v1M1692.5 30v1m0 75v1M1703.7 184v1m0 63v1m0 1v1m0 87v1M1714.9 105v1m0 45v1m0 88v1m0 7v1M1726.2 116v1m0 108v1m0 6v2M1737.4 84v1m0 35v1m0 3v1m0 26v1M1748.6 102v1m0 4v1m0 15v2m0 101v1M1759.9 136v1m0 124v1m0 2v1M1771.1 102v1m0 27v1M1782.3 124v1m0 2v1m0 2v1m0 73v1m0 23v1m0 59v1m0 5v1m0 2v1m0 32v1M1793.6 93v1m0 22v1m0 111v1m0 32v2m0 15v1m0 77v1M1804.8 5v1m0 109v1m0 109v2m0 61v1M1816.0 71v1m0 115v1m0 15v1m0 152v1M1827.2 298v1M1838.5 74v1m0 5v1m0 34v1m0 11v2m0 4v1m0 14v1m0 165v1M1849.7 26v1m0 66v1m0 154v1m0 7v1m0 23v1M1860.9 51v1m0 235v1M1872.2 100v1m0 8v1m0 5v1m0 1v1m0 28v1m0 78v1m0 29v1M1883.4 54v1m0 91v1m0 108v1m0 88v1"/>
<path stroke="#bbbbee" d="M1164.7 181v1M1187.2 147v1m0 209v1M1209.6 235v1M1355.6 130v1M1378.1 255v1M1400.5 228v1M1546.5 283v1M1557.7 313v1M1569.0 248v1M1591.4 21v1m0 96v1M1613.9 195v1M1636.3 176v1M1838.5 70v1M1849.7 75v1"/>
<path stroke="#bbccee" d="M1052.4 88v1M1063.6 190v1M1074.9 4v2M1097.3 116v1M1108.6 0v1m0 340v1m0 15v1M1119.8 238v1M1131.0 181v1m0 53v1m0 92v1M1142.2 78v1m0 48v1m0 54v1m0 103v1M1153.5 164v1M1164.7 183v1m0 133v1M1187.2 110v1m0 26v2m0 171v1m0 7v1M1198.4 298v1m0 46v1m0 7v1M1209.6 203v1m0 126v1m0 14v1M1220.9 249v1m0 22v1m0 29v1M1243.3 151v1M1254.5 151v1M1265.8 83v1m0 273v1M1277.0 286v1M1288.2 174v1m0 26v1m0 167v1M1299.5 112v1M1310.7 65v1m0 176v1M1321.9 135v1m0 73v1M1333.1 1v1m0 46v1M1344.4 49v1m0 105v1M1355.6 24v1m0 130v1m0 47v1M1366.8 136v1m0 66v1M1378.1 202v1m0 25v1M1389.3 103v1M1400.5 275v1m0 19v1M1411.8 74v1M1423.0 155v1M1434.2 154v1M1445.4 126v1m0 176v1M1456.7 186v1m0 143v1M1467.9 285v1M1479.1 184v1m0 52v1m0 47v1m0 66v1M1490.4 286v1M1501.6 354v1M1512.8 356v1M1524.0 261v1M1535.3 66v1M1546.5 21v1m0 189v1M1557.7 11v1m0 298v1m0 6v1M1580.2 133v1m0 37v1m0 104v1M1591.4 176v1M1602.7 224v1m0 23v1m0 69v1m0 35v1M1613.9 129v1m0 15v1m0 153v1M1625.1 143v1M1647.6 144v1m0 33v1m0 5v1M1658.8 126v1m0 17v1m0 82v1M1670.0 339v1M1681.3 325v1M1692.5 232v1M1703.7 171v1M1714.9 304v1M1726.2 102v1m0 146v1M1737.4 304v1M1748.6 304v1m0 20v1M1782.3 98v1m0 27v1m0 168v1M1793.6 103v1m0 173v1m0 22v1m0 68v1m0 1v1M1804.8 330v1M1816.0 295v1M1827.2 148v1M1838.5 248v1M1849.7 237v1M1860.9 149v1M1883.4 69v1m0 273v1"/>
<path stroke="#ccccee" d="M1052.4 93v1m0 244v1m0 15v1M1063.6 338v1M1074.9 74v1m0 6v1m0 6v1m0 44v1m0 55v1M1086.1 102v1m0 84v1m0 131v1M1097.3 70v1m0 20v1m0 38v1m0 6v1m0 201v1M1108.6 2v2m0 42v1m0 36v1m0 37v1m0 234v1M1119.8 47v1m0 44v1m0 45v1m0 33v1m0 37v1M1131.0 46v1m0 63v1m0 20v2m0 153v1m0 40v1M1142.2 77v1m0 2v1m0 4v1m0 11v1m0 8v1m0 38v1m0 1v1m0 33v1m0 28v1m0 73v1m0 55v1M1153.5 49v1m0 60v1m0 35v1m0 16v1m0 71v1m0 122v1M1164.7 46v1m0 2v1m0 35v1m0 11v1m0 15v1m0 95v1m0 68v1m0 31v1m0 47v1M1175.9 46v1m0 69v1m0 64v1m0 51v1m0 44v1m0 5v1m0 32v1M1187.2 51v1m0 14v1m0 60v1m0 17v1m0 64v1m0 14v1m0 37v1m0 21v1m0 67v1m0 4v1M1198.4 49v1m0 131v1m0 27v1m0 25v1M1209.6 182v1m0 50v1m0 27v1m0 11v1m0 72v1M1220.9 303v1m0 7v1m0 4v1m0 2v1m0 37v1M1232.1 130v1m0 73v1m0 54v1m0 12v1m0 4v1m0 8v1m0 70v2M1243.3 46v1m0 202v1m0 107v1M1254.5 124v1m0 3v1m0 144v1M1265.8 46v1m0 47v1m0 56v1m0 21v1m0 80v1m0 95v1m0 1v1m0 17v1M1277.0 76v1m0 15v1m0 17v1m0 6v1m0 8v1m0 46v1m0 9v1m0 19v1m0 5v1m0 12v1m0 50v1m0 76v1M1288.2 1v2m0 1v2m0 31v1m0 81v1M1299.5 76v1m0 41v1m0 134v1m0 1v1m0 26v2M1310.7 25v1m0 124v1m0 51v2m0 50v1m0 28v1m0 74v1m0 6v1m0 5v1M1321.9 46v1m0 30v1m0 25v1m0 179v1m0 86v1M1333.1 0v1m0 3v2m0 59v1m0 44v1m0 43v1m0 100v1M1344.4 102v1m0 12v1m0 38v1m0 48v1m0 18v1m0 123v1M1355.6 83v1m0 79v1m0 111v1m0 79v1m0 14v1M1366.8 113v1m0 3v1m0 24v1m0 58v1m0 27v1m0 46v1M1378.1 153v2m0 7v1m0 42v1m0 18v1m0 139v1M1389.3 1v1m0 105v1m0 12v1m0 3v1m0 24v1m0 5v2m0 72v1m0 4v1m0 40v1m0 87v1M1400.5 46v1m0 23v1m0 79v1m0 11v1m0 24v1m0 5v1m0 16v1m0 46v1m0 16v1m0 79v1M1411.8 150v1m0 4v1m0 20v1m0 10v1m0 69v1m0 96v1M1423.0 0v1m0 137v1m0 15v1m0 29v1m0 90v1M1434.2 98v1m0 87v1m0 37v1m0 31v2m0 94v3M1445.4 155v1m0 216v1M1456.7 102v2m0 87v1m0 178v2M1467.9 187v1m0 74v1m0 23v1M1479.1 242v1m0 84v1m0 43v1M1490.4 76v1m0 31v1m0 74v1m0 58v1m0 84v1m0 3v1m0 22v1M1501.6 168v1m0 21v2m0 21v1m0 100v1m0 15v1M1512.8 142v1m0 24v1m0 40v1m0 2v1m0 1v1M1524.0 11v1m0 34v1m0 17v1m0 10v1m0 60v1m0 220v1M1535.3 22v1m0 107v1m0 22v2m0 58v1m0 69v1m0 24v2m0 5v1M1546.5 0v2m0 3v1m0 148v2m0 76v1m0 76v1M1557.7 40v1m0 20v1m0 42v1m0 108v1m0 101v1M1569.0 19v1m0 1v1M1580.2 0v1m0 2v1m0 17v1m0 31v1m0 12v1m0 16v1m0 191v1m0 43v1M1591.4 22v1m0 174v1m0 82v1m0 19v1m0 53v1M1602.7 102v1m0 93v1m0 35v1m0 46v1m0 36v1m0 20v1m0 15v1M1613.9 89v1m0 54v1M1625.1 136v1m0 5v1m0 33v1m0 34v1m0 19v1M1636.3 30v1m0 76v1m0 116v1m0 24v1m0 74v1m0 29v1M1647.6 173v1m0 53v1m0 96v1m0 45v1m0 1v1M1658.8 102v1m0 84v1m0 91v1m0 55v2M1670.0 116v1m0 69v1m0 92v1m0 55v1m0 20v1M1681.3 30v1m0 3v1m0 109v1m0 81v2m0 116v1M1692.5 27v1m0 43v1m0 72v1m0 79v1M1703.7 27v1m0 77v1m0 172v1M1714.9 268v1m0 9v1M1726.2 27v1m0 220v1m0 40v1m0 14v1m0 20v1M1737.4 46v1m0 56v1m0 29v1m0 36v1m0 62v1M1748.6 136v1M1759.9 1v1m0 29v1m0 66v1m0 4v1m0 123v2m0 3v1m0 4v1m0 40v1m0 16v1M1771.1 58v1m0 204v1m0 24v1m0 80v1m0 1v1M1782.3 91v1m0 9v1m0 196v1M1793.6 46v1m0 248v1M1804.8 9v1m0 284v1m0 3v1M1816.0 1v1m0 44v1m0 143v1m0 8v1M1827.2 1v1m0 103v1m0 11v1m0 81v1m0 50v1M1838.5 26v1m0 48v1m0 115v1m0 20v1m0 22v1m0 13v1M1849.7 46v1m0 29v1m0 31v1m0 5v1m0 34v1m0 99v1m0 46v1M1860.9 9v1m0 3v1m0 42v1m0 193v1M1872.2 45v1m0 8v2m0 20v1m0 29v1m0 5v1m0 10v1m0 102v1M1883.4 71v1m0 10v1m0 37v1m0 4v1m0 12v1m0 69v1m0 105v1"/>
<path stroke="#ccddee" d="M1052.4 339v1M1063.6 339v1M1086.1 138v1M1108.6 4v1M1119.8 114v1M1131.0 74v1m0 58v1M1142.2 328v1M1164.7 159v1m0 196v1M1187.2 183v1M1198.4 45v1m0 226v1m0 79v1M1209.6 201v1m0 150v1M1220.9 43v1m0 167v1M1232.1 5v1M1243.3 37v1m0 235v1M1254.5 91v1M1265.8 82v1M1277.0 174v1m0 27v1m0 51v1M1288.2 130v1M1299.5 46v1m0 38v1m0 64v1M1310.7 100v1M1321.9 25v1m0 79v1m0 181v1M1344.4 330v1M1355.6 25v1m0 128v1M1366.8 108v1m0 18v1m0 25v1m0 121v1M1378.1 97v1m0 131v1M1389.3 154v1m0 32v1m0 45v1m0 40v1m0 21v1M1400.5 2v1m0 13v1m0 55v1M1411.8 73v1M1434.2 129v1M1445.4 171v1M1456.7 242v1m0 5v1m0 62v1M1467.9 190v1m0 136v1M1501.6 46v1M1546.5 3v2m0 32v1M1569.0 105v1m0 169v1M1602.7 19v1M1613.9 197v1M1636.3 300v1M1647.6 248v1M1658.8 280v1M1670.0 111v1M1681.3 46v1M1692.5 79v1M1703.7 110v1m0 157v1m0 35v1M1714.9 86v1m0 216v1M1759.9 204v1m0 72v1M1793.6 355v1M1804.8 228v1m0 141v1M1849.7 86v1m0 23v1m0 25v1M1860.9 29v1m0 218v1M1872.2 69v1M1883.4 30v1m0 85v1m0 17v1"/>
<path stroke="#ddddee" d="M1052.4 103v1m0 5v1m0 2v1m0 23v1m0 133v1m0 29v1M1063.6 131v1M1074.9 0v2m0 1v1m0 232v1m0 110v1M1086.1 46v1m0 11v1m0 28v1m0 33v1m0 3v1m0 17v1m0 42v1m0 151v2M1097.3 37v1m0 36v1m0 28v1m0 13v2m0 68v1m0 33v1M1108.6 5v1m0 79v1m0 14v1m0 15v1m0 13v1m0 56v1m0 123v1m0 16v1M1119.8 116v1m0 19v1m0 36v1m0 5v1m0 62v1m0 84v1m0 10v2m0 18v1M1131.0 96v1m0 170v1m0 56v1M1142.2 102v1m0 30v1m0 201v1m0 20v1M1153.5 27v1m0 23v1m0 31v1m0 32v1m0 14v1m0 15v1m0 34v2m0 86v1m0 57v1M1164.7 16v1m0 47v1m0 1v1m0 15v1m0 31v1m0 33v1m0 7v1m0 3v1m0 1v1m0 162v1m0 31v1M1175.9 50v1m0 51v1m0 44v1m0 87v1M1187.2 50v1m0 12v2m0 3v1m0 157v1m0 51v1m0 38v1m0 38v1M1198.4 27v1m0 16v1m0 2v1m0 2v1m0 131v1m0 80v1m0 9v1m0 3v1m0 19v1M1209.6 181v1m0 1v1m0 16v1m0 71v1m0 4v1m0 39v1m0 35v1m0 3v1M1220.9 42v1m0 3v1m0 124v1m0 30v1m0 5v1m0 64v1m0 4v1m0 30v1m0 25v1m0 9v1M1232.1 4v1m0 69v1m0 8v1m0 19v1m0 25v1m0 127v1M1243.3 27v1m0 30v1m0 41v1m0 56v1m0 1v1m0 11v1m0 61v1m0 20v1m0 38v1m0 58v1M1254.5 3v1m0 42v1m0 19v1m0 5v1m0 30v1m0 10v1m0 139v1M1265.8 202v2m0 45v1M1277.0 71v1m0 5v2m0 121v1m0 41v1m0 39v2M1288.2 46v1m0 18v1m0 134v1m0 8v1m0 43v2M1299.5 110v1m0 2v1m0 3v1m0 2v2m0 49v1m0 11v1m0 24v1m0 103v1M1310.7 9v1m0 36v1m0 49v1m0 36v1m0 59v1m0 49v1m0 38v1M1321.9 27v1m0 56v3m0 46v1m0 121v1M1333.1 24v2m0 1v1m0 21v1m0 40v1M1344.4 153v1m0 8v1m0 39v1m0 21v1m0 8v1M1355.6 127v1m0 1v1m0 3v1m0 90v1m0 138v2M1366.8 14v1m0 5v1m0 25v1m0 62v1m0 6v1m0 45v1m0 8v1m0 52v1m0 8v1m0 129v1m0 6v1M1378.1 150v1m0 74v1m0 8v1m0 39v2m0 14v1m0 60v1m0 18v1M1389.3 2v1m0 1v2m0 91v1m0 28v1m0 15v1m0 19v1m0 93v1M1400.5 0v2m0 2v1m0 68v1m0 126v1m0 23v1m0 4v1m0 26v1m0 39v1M1411.8 37v1m0 32v1m0 78v1m0 36v1m0 88v1m0 88v1M1423.0 1v1m0 1v2m0 251v1M1434.2 27v1m0 2v1m0 44v1m0 54v1m0 51v2m0 6v1M1445.4 110v1m0 43v1m0 17v1m0 10v2m0 2v1m0 3v1m0 32v1M1456.7 46v1m0 137v1m0 16v1m0 82v1m0 31v2m0 23v1M1467.9 238v1m0 4v1m0 26v1m0 99v1M1479.1 38v1m0 128v1m0 15v1m0 6v2m0 51v1m0 4v1m0 92v1m0 13v1M1490.4 184v1m0 58v1m0 19v1m0 20v1m0 15v1M1501.6 242v1m0 5v1m0 64v1M1512.8 46v1m0 55v1m0 106v1M1524.0 119v1m0 150v1M1535.3 40v1m0 5v1m0 18v1m0 37v1m0 107v1m0 48v1m0 45v1m0 6v1M1546.5 2v1m0 80v1m0 46v1m0 81v2m0 47v1m0 8v1M1557.7 39v1m0 6v1m0 114v1m0 50v1m0 96v1M1569.0 22v1m0 30v1m0 76v1m0 82v1m0 136v1M1580.2 11v1m0 15v1m0 58v1m0 92v1m0 44v1m0 112v1M1591.4 53v1m0 116v1m0 169v1m0 29v1M1602.7 22v1m0 82v1m0 1v1m0 89v1m0 33v1m0 68v1M1613.9 27v1m0 115v1m0 87v1M1625.1 19v1m0 110v1m0 14v1m0 86v1m0 67v1M1636.3 0v1m0 2v1m0 25v1m0 4v1m0 31v1m0 106v1m0 4v1m0 159v1M1647.6 75v1m0 191v1m0 70v2M1658.8 46v1m0 71v1m0 64v1m0 167v1M1670.0 46v1m0 63v1m0 33v1m0 135v1m0 55v1m0 1v1M1681.3 1v2m0 22v1m0 1v1m0 1v1m0 86v1m0 47v1m0 4v1m0 13v1m0 140v1m0 14v1M1692.5 28v2m0 4v1m0 1v2m0 34v1m0 32v1m0 127v1m0 105v1M1703.7 30v1m0 3v1m0 11v1m0 97v1m0 27v1m0 4v1m0 99v1M1714.9 29v1m0 16v1m0 11v1m0 173v1m0 44v1M1726.2 24v1m0 1v1m0 7v1m0 5v1m0 5v1m0 39v1m0 16v1m0 47v1m0 12v1m0 7v1m0 28v1m0 24v1m0 51v1M1737.4 83v1m0 193v1m0 25v1M1748.6 27v4m0 52v1m0 67v1m0 151v1M1759.9 5v1m0 69v1M1771.1 46v1m0 24v1m0 28v1m0 9v1m0 92v2m0 52v1M1782.3 102v1m0 123v2m0 141v1M1793.6 227v1M1804.8 120v1m0 50v1M1816.0 2v1m0 2v1m0 101v1m0 140v1m0 81v1M1827.2 3v1m0 6v1m0 15v1m0 79v1m0 80v1m0 142v1M1838.5 46v1m0 26v1m0 29v2m0 11v1m0 119v1M1849.7 25v1m0 83v1m0 3v1m0 65v1m0 146v1M1860.9 26v2m0 8v1m0 11v1m0 8v1m0 21v1m0 58v1m0 75v1m0 42v1m0 85v1M1872.2 37v1m0 8v1m0 4v1m0 19v1m0 14v2m0 10v1m0 2v1m0 3v1m0 1v1m0 13v1m0 4v1m0 6v1m0 4v1m0 48v1m0 13v1m0 61v1M1883.4 34v1m0 11v1m0 41v1m0 4v1m0 7v1m0 112v1m0 2v1m0 39v1"/>
<path stroke="#ddeeee" d="M1074.9 339v1M1119.8 236v1M1131.0 83v1m0 126v1M1142.2 223v1M1198.4 183v1M1209.6 307v1M1220.9 47v1m0 10v1m0 155v1M1232.1 235v1M1243.3 30v1M1265.8 369v1M1277.0 46v1M1299.5 136v1m0 36v1M1310.7 30v1m0 45v1m0 173v1M1321.9 71v1M1344.4 82v1M1366.8 150v1m0 65v1M1389.3 287v1M1423.0 149v1M1490.4 46v1M1524.0 16v1m0 150v1m0 131v1M1546.5 120v1M1613.9 53v1M1625.1 280v1M1647.6 335v1M1681.3 172v1M1703.7 29v1M1714.9 171v1M1726.2 37v1M1771.1 56v1M1782.3 10v1M1804.8 46v1m0 232v1M1816.0 3v1M1838.5 187v1M1860.9 71v1m0 87v1m0 133v1M1872.2 185v1M1883.4 209v1m0 77v1"/>
<path stroke="#ee2222" d="M1074.9 299v1"/>
<path stroke="#ee4444" d="M1074.9 314v1M1299.5 210v1"/>
<path stroke="#ee5555" d="M1074.9 318v1M1086.1 139v1m0 7v1m0 157v1M1142.2 151v1M1209.6 288v1M1220.9 238v1M1636.3 41v2M1647.6 42v1M1692.5 151v1M1771.1 210v1"/>
<path stroke="#ee6655" d="M1074.9 313v1m0 3v1M1153.5 332v1M1411.8 271v1M1535.3 210v1M1580.2 266v1m0 46v1M1591.4 210v1M1602.7 307v1M1782.3 146v1M1838.5 210v1"/>
<path stroke="#ee6666" d="M1074.9 42v1m0 255v1m0 3v3m0 1v1m0 8v1M1086.1 170v1m0 135v1M1097.3 312v1M1142.2 266v1M1187.2 245v1M1198.4 266v1M1209.6 266v1m0 13v1M1220.9 239v1M1299.5 155v1m0 56v1M1321.9 210v1M1344.4 210v1M1355.6 139v1M1378.1 12v1M1411.8 266v1M1479.1 196v1m0 13v1M1546.5 190v1m0 42v1M1557.7 332v1M1569.0 210v1M1580.2 312v1m0 8v1M1602.7 301v1m0 3v2M1613.9 305v1M1625.1 284v1M1647.6 142v2M1670.0 143v1M1714.9 266v1M1726.2 212v1M1737.4 210v1M1759.9 236v1M1782.3 141v3m0 5v1M1849.7 210v1M1860.9 76v1"/>
<path stroke="#ee7766" d="M1063.6 42v1m0 96v1M1074.9 311v2M1086.1 146v1M1131.0 190v1m0 112v1M1198.4 284v1M1209.6 260v1M1277.0 298v1M1288.2 279v1M1366.8 186v1M1423.0 266v1M1479.1 197v1M1546.5 236v1M1580.2 271v1M1602.7 302v1M1613.9 210v1m0 95v1M1636.3 309v1M1647.6 190v1m0 112v1m0 1v1M1703.7 143v1M1726.2 210v1M1748.6 44v1M1759.9 284v1M1771.1 142v2m0 68v1M1782.3 139v1M1827.2 227v1M1860.9 82v1m0 35v1"/>
<path stroke="#ee7777" d="M1063.6 256v1m0 110v1M1074.9 300v1m0 4v1m0 1v3M1086.1 149v1m0 157v1M1097.3 59v1m0 206v1m0 46v2M1119.8 227v1m0 38v1M1131.0 280v1m0 17v1m0 6v1m0 4v1M1142.2 155v1m0 115v1m0 2v1M1153.5 331v1M1164.7 212v1M1175.9 343v1M1198.4 238v2M1209.6 274v1m0 9v1M1220.9 227v1m0 4v1m0 23v1M1232.1 167v1m0 42v1m0 43v1m0 1v1M1254.5 266v1M1265.8 12v1M1277.0 210v1m0 86v1M1288.2 280v1m0 51v1M1299.5 151v1m0 75v1m0 68v1M1333.1 186v1M1344.4 332v1M1355.6 147v1m0 38v1M1378.1 50v1M1389.3 249v1m0 16v1M1411.8 210v1m0 66v1M1423.0 210v1m0 7v1M1445.4 147v1m0 3v1M1467.9 233v1M1479.1 199v1m0 7v1m0 4v1m0 41v1m0 1v1m0 7v1M1501.6 233v1M1512.8 25v1M1524.0 139v1m0 1v3m0 5v1m0 60v1M1546.5 12v1m0 171v1m0 50v1m0 42v1m0 6v1M1557.7 139v1M1569.0 44v2M1580.2 210v1m0 94v1m0 9v1M1591.4 184v1m0 120v1M1602.7 151v1m0 156v1M1613.9 167v1m0 107v1m0 25v1m0 1v1M1625.1 50v1m0 159v1m0 1v1M1636.3 44v1m0 94v1m0 144v1m0 23v1M1647.6 44v1m0 5v1m0 88v1m0 1v1m0 68v1m0 69v1m0 4v1M1658.8 314v1M1670.0 146v1m0 89v1m0 47v1M1692.5 312v2m0 7v1M1703.7 142v1m0 3v1m0 63v1M1714.9 146v2m0 123v1m0 71v1M1726.2 280v1M1737.4 274v1M1748.6 210v1m0 38v1M1759.9 52v1m0 157v1m0 22v1m0 20v1m0 11v1M1771.1 144v1m0 41v1m0 177v1M1782.3 144v1m0 2v1m0 42v1m0 19v1M1793.6 142v2M1816.0 210v1M1827.2 254v1m0 83v1M1838.5 232v1m0 5v2m0 44v1M1849.7 271v1M1860.9 90v1m0 7v1m0 167v1M1883.4 155v1m0 5v1m0 170v1m0 21v1"/>
<path stroke="#ee8877" d="M1074.9 41v1M1108.6 245v1M1119.8 190v1M1131.0 139v1m0 161v2M1142.2 150v1M1153.5 233v1M1187.2 139v1M1198.4 274v1m0 10v1M1209.6 282v1M1220.9 230v1M1243.3 224v1M1254.5 210v1M1277.0 224v1M1288.2 12v1m0 265v1M1321.9 343v1M1333.1 210v1M1355.6 143v1M1378.1 17v1M1434.2 67v1m0 142v1M1445.4 337v1M1479.1 198v1M1490.4 210v1M1501.6 151v1m0 93v1M1524.0 146v1M1546.5 224v1m0 61v1M1569.0 42v1m0 108v1M1591.4 50v1m0 313v1M1602.7 256v1m0 9v1M1613.9 227v1m0 85v1M1636.3 305v1m0 11v1M1647.6 266v1m0 15v1m0 3v1m0 74v1M1658.8 167v1M1670.0 199v1m0 10v1M1692.5 142v2m0 83v1m0 70v1M1714.9 141v1M1726.2 143v1M1771.1 184v1M1782.3 42v1m0 102v1m0 40v1M1793.6 141v1M1827.2 260v1m0 75v1m0 32v1M1838.5 237v1"/>
<path stroke="#ee8888" d="M1052.4 147v1m0 51v1m0 10v1m0 13v1m0 144v1M1063.6 41v1m0 2v1m0 5v1m0 1v1m0 6v1m0 81v1m0 5v1m0 3v1m0 58v1m0 22v1m0 20v1m0 3v1m0 19v1m0 87v1M1074.9 59v1m0 259v1M1086.1 44v1m0 97v1m0 20v1m0 2v2m0 65v1m0 67v1m0 11v2m0 1v1m0 52v1M1097.3 209v1m0 23v1m0 11v1m0 63v1m0 5v3m0 30v1M1108.6 153v1m0 1v1m0 47v1m0 56v1m0 42v1m0 3v1M1119.8 139v1m0 7v1m0 36v1m0 27v1m0 156v1M1131.0 142v1m0 4v1m0 38v1m0 1v2m0 22v1m0 93v2m0 5v1m0 3v1m0 36v1m0 6v1m0 1v1M1142.2 17v2m0 2v1m0 253v1M1153.5 139v1m0 109v1m0 80v1M1164.7 280v1m0 84v1m0 3v1M1175.9 142v1m0 41v1m0 5v1m0 24v1m0 8v1M1187.2 224v1m0 21v1m0 2v1m0 16v1m0 7v1M1198.4 245v1m0 23v1m0 1v1m0 3v1m0 4v1M1209.6 186v1m0 51v1m0 2v1m0 12v1m0 14v1m0 9v1m0 3v1m0 1v1m0 3v1M1220.9 224v1m0 4v1m0 4v1m0 19v1m0 9v1m0 1v1m0 4v1m0 2v2m0 78v1M1232.1 170v1m0 74v1m0 9v1m0 4v1m0 13v1m0 21v1m0 4v1M1243.3 210v1m0 16v1m0 109v1M1254.5 183v1m0 52v1m0 68v1M1265.8 245v1m0 25v1m0 60v1m0 4v2m0 4v1m0 10v1m0 1v1M1277.0 139v1m0 144v1M1288.2 7v1m0 3v1m0 30v1m0 1v1m0 5v1m0 95v2m0 3v1m0 43v2m0 13v1m0 22v1m0 40v2m0 12v2m0 41v1M1299.5 207v1m0 16v1m0 11v1m0 58v1m0 1v2m0 44v1M1321.9 12v1m0 171v1m0 27v1m0 23v1m0 12v1m0 14v1m0 72v2M1333.1 11v1m0 135v1m0 3v1m0 31v1m0 5v3m0 32v1m0 41v1M1344.4 17v1m0 32v1m0 91v2m0 120v1M1355.6 12v1m0 18v1m0 27v1m0 107v1m0 16v1m0 25v1m0 35v1m0 2v1m0 34v1M1366.8 151v1m0 32v1m0 25v1m0 110v1M1378.1 44v1m0 4v1m0 160v1m0 1v1m0 23v1m0 1v1m0 27v1m0 102v1M1389.3 67v1M1400.5 139v1m0 120v1M1411.8 196v1m0 67v1m0 4v1m0 2v2M1423.0 147v1M1434.2 147v1m0 132v1m0 84v1M1445.4 139v1m0 203v1M1456.7 210v1m0 30v1m0 3v1m0 20v1m0 11v1m0 1v1m0 51v1M1467.9 42v1m0 7v1M1479.1 147v1m0 3v1m0 34v1m0 15v1m0 55v1m0 9v2m0 5v1M1490.4 266v1m0 21v1m0 43v1M1501.6 332v1M1512.8 26v1m0 35v1m0 88v1m0 48v1m0 23v1m0 118v1M1524.0 147v1M1535.3 141v1m0 5v1m0 1v1m0 114v1m0 1v1m0 17v1M1546.5 183v1m0 26v1m0 18v1m0 7v1m0 41v2m0 9v1m0 30v1M1557.7 17v1m0 44v1m0 84v1m0 3v1m0 3v1m0 27v1m0 100v1M1569.0 43v1m0 3v1m0 2v1m0 119v1m0 13v1m0 5v1M1580.2 44v1m0 94v1m0 161v1m0 1v1m0 7v1m0 2v1M1591.4 41v1m0 5v1m0 135v1m0 2v1m0 79v1m0 4v1m0 2v1m0 57v1m0 30v1m0 5v1M1602.7 7v1m0 252v1m0 52v2M1613.9 139v1m0 7v1m0 1v1m0 1v1m0 63v1m0 50v1m0 7v1m0 27v1m0 4v1m0 2v1m0 3v1M1625.1 17v1m0 23v1m0 2v1m0 4v1m0 97v1m0 19v1m0 117v1m0 3v1m0 11v1m0 3v1M1636.3 12v1m0 5v1m0 31v1m0 1v1m0 4v1m0 105v1m0 72v1m0 66v1m0 3v1m0 2v1m0 1v2m0 1v2m0 4v1m0 39v1m0 7v1M1647.6 7v1m0 35v1m0 8v1m0 136v1m0 104v1m0 4v1m0 6v1m0 25v1m0 4v1m0 21v1m0 3v1m0 3v1m0 3v1M1658.8 256v1m0 56v1M1670.0 17v1m0 124v1m0 4v1m0 89v1m0 36v1m0 10v1M1681.3 210v1m0 25v1M1692.5 152v1m0 57v1m0 55v1M1703.7 141v1m0 3v1m0 1v1m0 79v1m0 9v1m0 3v1m0 12v1m0 20v1m0 37v1M1714.9 186v1m0 23v1m0 25v1m0 28v1m0 3v1M1726.2 142v1m0 1v2m0 129v1m0 8v1m0 52v1M1737.4 143v1m0 2v1m0 119v1m0 8v1m0 45v1M1748.6 45v1m0 4v1m0 161v1m0 96v1M1759.9 59v1m0 7v1m0 78v1m0 55v1m0 38v1m0 18v1m0 13v1m0 10v1M1771.1 17v1m0 24v1m0 103v1m0 43v1m0 75v1m0 54v1m0 39v1m0 1v1M1782.3 184v1m0 81v1m0 17v1M1793.6 12v1m0 18v1m0 112v2M1804.8 52v1m0 94v1m0 132v1M1816.0 42v1m0 24v1m0 118v1m0 97v1M1827.2 210v1m0 34v1m0 10v1m0 9v1m0 42v1m0 25v1M1838.5 139v1m0 10v2m0 180v1m0 26v1M1849.7 59v1m0 214v1M1860.9 75v1m0 44v1m0 30v1m0 217v1M1872.2 210v1m0 4v1m0 1v1M1883.4 17v1m0 136v1m0 116v1m0 49v1m0 2v1"/>
<path stroke="#ee9988" d="M1063.6 238v1m0 35v1m0 94v1M1074.9 210v1m0 55v1M1086.1 174v1M1097.3 151v1m0 58v1M1108.6 151v1m0 58v1m0 13v1M1119.8 345v1m0 25v1M1131.0 282v1m0 29v1m0 3v1M1142.2 161v1m0 71v1M1164.7 190v1m0 75v1M1187.2 240v1M1198.4 35v1m0 115v1m0 91v1m0 45v1M1209.6 149v1m0 118v1m0 17v1M1232.1 12v1M1243.3 284v1m0 71v1M1254.5 155v1m0 40v1m0 146v1M1265.8 147v1m0 88v1m0 85v1m0 13v1m0 2v1M1277.0 266v1m0 18v1m0 13v1M1288.2 52v1m0 100v1m0 130v1m0 5v1m0 42v1M1299.5 213v1m0 19v1m0 3v1m0 65v1m0 17v1M1321.9 147v1m0 188v1M1333.1 12v1m0 171v1m0 3v1M1344.4 19v1m0 32v1m0 221v1M1355.6 142v1m0 137v1M1389.3 151v1m0 86v1M1400.5 227v1M1411.8 49v1m0 101v1m0 18v1m0 56v1m0 5v1M1423.0 142v1m0 3v1M1434.2 139v1m0 63v1m0 81v1M1445.4 35v1m0 325v1M1456.7 233v1M1467.9 147v1m0 3v1m0 58v1m0 24v1M1490.4 195v1m0 78v1m0 14v1M1501.6 232v1M1512.8 149v1m0 47v1M1524.0 236v1M1535.3 139v1M1546.5 31v1m0 213v1m0 38v1m0 4v1m0 1v1M1557.7 153v1M1569.0 147v1m0 19v1m0 36v1M1580.2 50v1m0 257v1m0 34v1M1591.4 44v1m0 4v1m0 246v1m0 1v1m0 7v1M1602.7 190v1m0 63v1m0 48v1m0 11v1m0 4v1M1613.9 170v1M1625.1 18v1m0 171v1m0 54v1m0 60v1M1636.3 17v1m0 149v1m0 42v1m0 87v1M1647.6 12v1m0 134v1m0 15v1m0 24v1m0 52v1m0 3v1m0 116v1M1670.0 141v1m0 91v1m0 52v1M1681.3 143v1m0 3v1m0 118v1M1692.5 62v1m0 291v1M1703.7 218v1m0 47v1m0 54v1M1714.9 245v1m0 29v1m0 66v1M1726.2 236v1m0 70v1M1748.6 143v1m0 80v1M1759.9 275v1m0 10v1M1771.1 147v1m0 26v1m0 34v1m0 35v1m0 86v1M1782.3 170v1m0 20v1m0 111v1M1793.6 146v1m0 65v1m0 28v1m0 3v1M1804.8 18v1m0 132v1m0 153v1M1816.0 313v1M1827.2 139v1m0 121v1m0 81v1M1838.5 186v1M1849.7 12v1m0 18v1m0 10v1m0 7v1m0 224v1m0 95v1M1860.9 94v1m0 169v1"/>
<path stroke="#ee9999" d="M1052.4 233v1M1086.1 361v1M1119.8 224v1M1131.0 318v1M1142.2 184v1m0 64v1M1164.7 364v1M1187.2 364v1M1209.6 243v1M1232.1 35v1M1265.8 241v1M1277.0 42v1M1288.2 218v1M1321.9 256v1M1333.1 232v1M1344.4 158v1M1378.1 361v1M1423.0 50v1m0 176v1M1434.2 282v1M1479.1 192v1M1512.8 7v1M1524.0 12v1M1557.7 245v1M1569.0 12v1M1602.7 12v1M1613.9 233v1M1625.1 184v1M1636.3 38v1m0 17v1m0 155v1M1647.6 212v1M1670.0 203v1M1681.3 142v1M1714.9 280v1M1748.6 243v1m0 12v1M1759.9 143v1m0 85v1m0 26v1M1782.3 167v1M1816.0 332v1M1827.2 44v1M1849.7 264v1m0 100v1M1860.9 74v1m0 46v1M1872.2 369v1M1883.4 275v1"/>
<path stroke="#eeeeee" d="M1052.4 304v1M1063.6 242v1M1074.9 27v1m0 1v1m0 92v1M1086.1 79v1m0 11v1m0 35v1M1097.3 16v1m0 275v1m0 33v1m0 11v1M1108.6 101v1m0 24v1m0 200v1m0 11v1M1119.8 177v1m0 109v1M1131.0 73v1m0 196v1M1142.2 58v1m0 73v1m0 194v1m0 29v1M1153.5 46v1m0 134v1M1164.7 40v1m0 63v1m0 45v1m0 2v1M1175.9 37v1m0 80v1M1187.2 49v1m0 66v1m0 29v1m0 205v1M1198.4 58v1m0 87v1m0 131v1M1209.6 37v1m0 2v2m0 4v1m0 3v1m0 198v1M1220.9 209v1m0 130v1M1232.1 3v1m0 254v1M1243.3 29v1m0 97v1m0 32v1m0 26v1M1254.5 93v1m0 13v1m0 22v1m0 1v1m0 46v1m0 20v1M1277.0 16v1m0 74v1M1288.2 36v1M1299.5 84v1m0 21v1m0 26v1m0 75v1M1310.7 24v1m0 72v1m0 31v1M1321.9 97v1m0 39v1m0 33v1m0 45v1m0 7v1m0 129v1M1333.1 3v1M1344.4 37v1m0 66v1m0 58v1M1355.6 201v1M1366.8 80v1m0 1v1m0 20v1m0 45v1m0 4v2m0 23v1m0 52v1M1378.1 350v1M1400.5 142v1m0 144v1M1411.8 111v1m0 50v1m0 124v1M1434.2 34v1m0 2v1m0 146v1m0 82v1M1445.4 82v1m0 219v1m0 67v1M1456.7 89v1m0 103v1m0 146v1M1467.9 16v1m0 294v1M1479.1 9v1M1490.4 66v1m0 124v1m0 70v1M1501.6 76v1m0 144v1M1512.8 130v1m0 28v1m0 11v1M1524.0 138v1M1546.5 189v1m0 151v1M1557.7 9v2m0 94v1M1580.2 1v1m0 3v1m0 213v2m0 66v1m0 28v1M1591.4 52v1m0 106v1M1602.7 21v1m0 15v1m0 133v1M1625.1 193v1M1636.3 4v1m0 188v1m0 38v1M1647.6 84v1M1658.8 206v1m0 132v1M1681.3 24v1m0 7v1m0 199v1M1692.5 26v1m0 49v1m0 49v1m0 21v1m0 22v1M1703.7 70v1m0 102v1m0 5v1M1714.9 23v1m0 3v1m0 29v1m0 69v1m0 16v1M1726.2 13v1m0 15v1m0 85v1m0 44v1M1737.4 29v1m0 21v1M1748.6 34v1M1759.9 2v1m0 1v1m0 41v1M1771.1 57v1m0 195v1M1782.3 341v1M1793.6 129v1m0 195v1M1804.8 4v1M1816.0 228v1m0 20v1m0 44v1M1827.2 0v1m0 3v1m0 131v1M1838.5 25v1m0 145v1M1849.7 37v1m0 68v1m0 221v1M1860.9 8v1m0 94v1m0 24v1m0 91v1m0 42v1m0 80v1M1872.2 13v1m0 75v1m0 13v1m0 15v1m0 7v1m0 17v1m0 42v2m0 138v1m0 12v1M1883.4 37v1m0 69v1m0 1v1m0 16v1m0 66v1m0 22v1m0 74v1"/>
<path stroke="#eeeeff" d="M1052.4 28v1m0 17v1m0 42v1m0 16v1m0 4v1m0 59v1m0 115v1m0 7v1m0 59v1M1063.6 6v1m0 13v1m0 249v1m0 55v1M1074.9 28v1m0 27v1m0 40v1m0 15v1m0 9v2m0 4v1m0 41v1m0 21v1m0 7v1m0 3v2m0 7v1m0 35v1m0 97v1M1086.1 36v1m0 4v1m0 41v2m0 5v1m0 35v1m0 2v1m0 7v1m0 12v1m0 142v1m0 24v1m0 7v1M1097.3 20v1m0 25v1m0 169v1m0 9v1m0 9v1m0 54v1m0 1v1M1108.6 16v1m0 41v1m0 127v1m0 49v1m0 73v1m0 27v1m0 16v1M1119.8 27v1m0 77v1m0 1v1m0 56v2m0 12v1m0 8v1m0 116v1M1131.0 13v1m0 23v1m0 28v1m0 42v1m0 1v1m0 4v1m0 12v1m0 52v1m0 175v1M1142.2 27v1m0 18v1m0 32v1m0 21v1m0 61v1m0 50v1m0 1v1m0 5v1m0 110v1m0 7v1m0 2v1M1153.5 30v1m0 6v1m0 28v1m0 25v1m0 59v1m0 6v1m0 33v1m0 17v1m0 55v1m0 9v1m0 9v1m0 5v1m0 46v2m0 14v2M1164.7 14v1m0 22v1m0 114v1m0 4v1m0 84v1m0 80v1m0 5v1M1175.9 49v1m0 67v1m0 65v1m0 9v1m0 176v1M1187.2 37v1m0 8v1m0 18v1m0 17v1m0 19v1m0 129v1m0 59v1m0 34v1m0 4v1m0 21v1M1198.4 29v1m0 206v1m0 12v1m0 105v1M1209.6 27v1m0 16v2m0 1v1m0 1v1m0 3v2m0 8v4m0 233v1m0 4v1m0 2v1m0 1v2m0 4v1m0 1v1m0 4v1M1220.9 15v1m0 23v2m0 25v1m0 92v1m0 19v2m0 55v2m0 39v1m0 15v1m0 26v1m0 31v1M1232.1 27v1m0 1v1m0 16v1m0 19v1m0 61v1m0 30v1m0 33v1m0 39v1m0 15v1m0 102v2M1243.3 9v1m0 18v1m0 7v1m0 1v1m0 12v1m0 3v1m0 1v1m0 43v1m0 56v1m0 3v1m0 30v1m0 8v1m0 28v1m0 10v1m0 19v1m0 7v1m0 21v1m0 7v1m0 52v1M1254.5 14v1m0 41v1m0 1v1m0 4v2m0 104v1m0 7v1m0 103v1m0 36v1M1265.8 20v1m0 9v1m0 25v1m0 1v1m0 12v1m0 47v1m0 153v1m0 7v1m0 34v1m0 41v1M1277.0 27v1m0 65v1m0 156v1m0 77v1M1288.2 30v1m0 4v1m0 166v1m0 3v1M1299.5 16v1m0 10v1m0 9v1m0 39v1m0 115v1m0 76v1m0 10v1m0 73v1M1310.7 10v1m0 10v1m0 36v1m0 19v1m0 30v1m0 18v1m0 30v2m0 10v1m0 11v1m0 57v1m0 2v1m0 6v1m0 74v1m0 42v1M1321.9 28v1m0 29v1m0 142v1m0 19v1m0 59v1m0 83v1M1333.1 47v1m0 49v1m0 73v1m0 57v1m0 89v1M1344.4 27v1m0 53v1m0 1v1m0 19v1m0 125v1m0 12v1m0 38v1m0 5v1m0 27v1m0 2v1m0 53v1M1355.6 149v1m0 79v1M1366.8 10v1m0 5v1m0 39v1m0 58v1m0 77v1m0 31v1m0 120v2m0 7v1M1378.1 216v1m0 9v1m0 60v1m0 5v1M1389.3 0v1m0 45v1m0 39v1m0 46v1m0 16v1m0 20v1m0 14v1m0 16v1m0 124v1M1400.5 3v1m0 1v1m0 9v1m0 86v1m0 23v1m0 22v1m0 9v1m0 32v1m0 1v1m0 3v1m0 43v1m0 25v1m0 4v1M1411.8 27v1m0 18v1m0 116v1m0 92v1M1423.0 2v1m0 2v1m0 80v1m0 84v1m0 133v1M1434.2 10v1m0 18v1m0 10v1m0 2v1m0 2v1m0 11v1m0 24v1m0 32v1m0 54v1m0 105v1M1445.4 9v2m0 82v1m0 79v1m0 96v1M1456.7 16v1m0 13v1m0 140v1m0 18v1m0 30v1m0 3v1m0 74v1m0 11v1M1467.9 56v1m0 148v1m0 8v1m0 27v1m0 57v1m0 14v3M1479.1 46v1M1490.4 56v1m0 18v1m0 95v1m0 5v1m0 53v1m0 53v1m0 54v1m0 3v1M1501.6 78v1m0 135v1M1512.8 160v1m0 120v1m0 11v1m0 29v1m0 27v1M1524.0 14v1m0 5v1m0 99v1m0 50v1m0 40v1m0 38v1m0 98v2m0 4v1m0 1v1M1535.3 30v1m0 25v1m0 6v2m0 37v1m0 68v1m0 115v1M1546.5 36v1m0 1v2m0 26v1m0 105v1m0 4v1m0 47v1m0 4v1m0 29v1m0 1v1m0 4v1m0 36v1m0 8v1m0 14v1m0 22v1M1557.7 21v2m0 14v2m0 123v1M1569.0 211v1m0 99v1M1580.2 4v1m0 15v1m0 7v1m0 23v1m0 12v1m0 84v1m0 18v1m0 122v1m0 1v1M1591.4 20v1m0 131v1m0 7v1m0 40v1m0 23v1M1602.7 30v1m0 3v1m0 160v1m0 130v1m0 1v1M1613.9 19v1m0 46v1m0 48v1m0 26v1m0 39v1m0 41v1m0 101v1M1625.1 27v1m0 129v1m0 160v2M1636.3 1v1m0 212v1m0 12v1m0 71v1M1647.6 186v1m0 83v1m0 65v1M1658.8 27v1m0 15v1m0 43v1m0 117v1m0 61v1m0 2v1m0 26v1m0 52v1m0 1v1M1670.0 55v1m0 123v1m0 144v1m0 16v1M1681.3 0v1m0 8v1m0 6v1m0 4v1m0 6v1m0 4v1m0 1v2m0 3v1m0 22v1m0 2v1m0 90v1m0 7v1m0 11v1m0 1v1m0 1v2m0 18v1m0 6v1m0 5v1m0 18v1m0 36v1m0 16v1m0 35v1m0 14v1M1692.5 13v1m0 24v3m0 2v1m0 209v1M1703.7 13v1m0 8v1m0 3v1m0 1v1m0 3v1m0 4v1m0 20v1m0 89v1m0 15v1m0 67v1m0 16v1m0 53v1M1714.9 13v1m0 8v1m0 17v1m0 116v1m0 15v1m0 75v1m0 83v1M1726.2 16v1m0 5v1m0 5v1m0 3v1m0 133v1m0 26v1m0 6v1m0 52v1m0 23v1M1737.4 28v1m0 19v1m0 17v1m0 67v2m0 12v1m0 151v1m0 67v1M1748.6 10v1m0 13v2m0 40v1m0 47v3m0 42v1m0 73v1m0 59v1M1759.9 0v1m0 2v1m0 16v1m0 84v1m0 97v1m0 100v1m0 10v1M1771.1 27v1m0 88v1m0 54v1m0 55v1m0 24v1m0 5v1m0 28v1m0 4v1M1782.3 13v1m0 8v1m0 300v1m0 32v1M1793.6 20v1m0 26v2m0 2v1m0 14v1m0 112v1m0 107v1m0 35v1M1804.8 2v1m0 176v1m0 47v1m0 50v1m0 77v1M1816.0 0v1m0 55v1m0 1v1m0 7v1m0 69v1m0 11v1m0 104v1m0 88v1m0 1v1M1827.2 9v1m0 15v1m0 4v1m0 162v1M1838.5 71v1m0 41v1m0 87v1m0 94v2M1849.7 16v1m0 10v1m0 165v1m0 7v1m0 10v1m0 10v1M1860.9 14v1m0 37v1m0 6v1m0 6v1m0 16v2m0 7v1m0 36v1m0 10v1m0 31v1m0 9v1m0 11v1m0 6v1m0 3v2m0 12v1m0 27v1m0 1v1m0 36v1m0 42v1m0 25v1M1872.2 12v1m0 1v1m0 1v1m0 6v1m0 6v1m0 43v2m0 1v1m0 1v1m0 3v2m0 6v2m0 3v1m0 25v1m0 6v1m0 29v1m0 64v1m0 42v1m0 9v1m0 24v1m0 20v1m0 2v1m0 13v1m0 8v2m0 4v1M1883.4 32v1m0 44v1m0 3v1m0 22v1m0 23v1m0 3v2m0 35v1m0 31v1m0 4v1m0 4v1m0 6v2m0 1v1m0 6v1m0 56v1m0 7v1"/>
<path stroke="#eeffff" d="M1052.4 159v1M1074.9 46v1M1086.1 130v1M1164.7 154v1M1209.6 39v1M1220.9 189v1M1254.5 171v1m0 30v1M1277.0 326v1M1288.2 299v1M1299.5 254v1M1310.7 341v1M1355.6 47v1M1366.8 21v1m0 178v1M1389.3 341v1M1400.5 160v1m0 101v1M1423.0 58v1m0 127v1M1434.2 270v1M1456.7 20v1m0 158v1M1546.5 329v1M1557.7 255v1M1636.3 2v1M1726.2 242v1M1872.2 134v1"/>
<path stroke="#ff9999" d="M1052.4 167v1m0 30v1m0 10v1m0 5v1m0 19v1m0 44v1m0 3v1M1063.6 23v1m0 30v2m0 11v1m0 78v1m0 2v1m0 13v1m0 3v2m0 7v1m0 47v1m0 10v1m0 1v1m0 1v1m0 12v1m0 4v1m0 1v1m0 53v1M1074.9 38v1m0 14v1m0 170v1m0 31v1m0 3v1m0 14v1m0 8v3m0 23v1m0 5v1m0 15v1m0 36v1M1086.1 17v1m0 123v1m0 3v1m0 26v2m0 38v1m0 19v1m0 5v1m0 27v1m0 4v1m0 31v1m0 11v1m0 16v1m0 3v2m0 5v1M1097.3 44v1m0 9v1m0 191v1m0 18v1m0 8v1m0 30v1m0 2v1m0 1v1M1108.6 139v1m0 12v1m0 8v2m0 2v3m0 2v1m0 21v1m0 1v1m0 7v1m0 30v1m0 5v1m0 3v1m0 2v1m0 90v1m0 23v1m0 9v1M1119.8 146v1m0 2v1m0 1v1m0 3v1m0 33v1m0 9v1m0 18v1m0 135v1m0 6v1m0 1v1M1131.0 17v1m0 123v1m0 2v1m0 1v1m0 4v1m0 32v1m0 17v2m0 56v1m0 27v1m0 2v1m0 7v1m0 8v1m0 5v1m0 7v1m0 22v1m0 2v1m0 3v1m0 9v1m0 4v1M1142.2 19v1m0 32v1m0 86v1m0 14v1m0 7v1m0 73v1m0 4v1m0 22v1m0 12v2m0 1v1m0 8v1m0 15v1m0 26v1m0 36v1M1153.5 12v1m0 128v2m0 43v1m0 3v1m0 50v1m0 79v1M1164.7 31v1m0 1v1M1175.9 12v1m0 138v1m0 34v1m0 2v1m0 22v1m0 27v2m0 3v1m0 13v1m0 20v1m0 43v1m0 9v1M1187.2 237v3m0 4v1m0 19v1m0 98v1M1198.4 33v1m0 109v1m0 68v1m0 34v1m0 6v1m0 10v1m0 2v1m0 10v1m0 6v1m0 1v1M1209.6 12v1m0 4v1m0 41v1m0 95v1m0 34v1m0 8v1m0 10v1m0 13v1m0 7v1m0 12v3m0 9v1m0 5v1m0 17v1m0 12v1m0 37v1m0 21v1M1220.9 147v1m0 92v2m0 18v1m0 2v1m0 12v1m0 2v2m0 3v2M1232.1 7v1m0 10v1m0 12v1m0 20v1m0 96v1m0 13v1m0 60v1m0 5v1m0 1v1m0 1v1m0 4v3m0 5v1m0 4v1m0 11v1m0 1v1m0 2v1m0 1v1m0 3v1m0 83v1M1243.3 215v1m0 22v1m0 93v1m0 5v2m0 3v1m0 10v1M1254.5 7v1m0 131v1m0 14v1m0 35v1m0 4v1m0 16v1m0 22v1m0 108v1M1265.8 7v1m0 34v1m0 1v1m0 14v1m0 79v1m0 15v1m0 12v1m0 1v1m0 15v1m0 40v1m0 1v2m0 9v1m0 25v1m0 2v1m0 31v1m0 22v1m0 9v1m0 24v2M1277.0 35v1m0 5v1m0 104v2m0 1v1m0 25v1m0 51v1m0 8v1m0 2v1m0 40v1m0 8v1m0 15v1m0 2v1m0 45v1M1288.2 6v1m0 1v1m0 32v1m0 97v1m0 1v5m0 40v1m0 3v1m0 8v1m0 36v1m0 29v1m0 18v1m0 44v1M1299.5 52v1m0 6v1m0 107v1m0 2v1m0 40v1m0 23v1m0 20v1m0 3v1m0 13v1m0 30v2m0 25v1M1310.7 186v1m0 3v1m0 19v1m0 22v1m0 62v1m0 6v1m0 1v1M1321.9 11v1m0 30v1m0 96v1m0 1v3m0 9v2m0 31v1m0 3v1m0 14v1m0 35v1m0 24v1m0 41v1m0 9v1m0 2v1m0 10v1M1333.1 44v1m0 5v1m0 88v1m0 2v2m0 23v1m0 44v1m0 25v1m0 17v1m0 1v1m0 12v1m0 60v1M1344.4 44v1m0 8v2m0 94v1m0 1v1m0 18v1m0 19v1m0 36v1m0 4v1m0 3v1m0 1v1m0 17v1m0 11v1m0 2v1m0 3v1m0 61v1M1355.6 33v2m0 32v1m0 73v1m0 48v1m0 116v1m0 13v1m0 10v1M1366.8 25v1m0 5v1m0 1v1m0 113v1m0 35v1m0 4v2m0 1v1m0 20v1m0 71v1m0 32v1m0 2v1M1378.1 8v1m0 4v1m0 4v1m0 120v1m0 7v1m0 19v1m0 14v1m0 3v1m0 3v1m0 5v1m0 40v1m0 46v1m0 28v1m0 24v1m0 20v1M1389.3 42v1m0 124v1m0 6v1m0 52v1m0 11v1m0 8v1m0 35v1m0 36v1m0 15v1M1400.5 42v1m0 100v1m0 23v1m0 6v1m0 8v2m0 5v2m0 23v1m0 129v1M1411.8 50v1m0 113v1m0 2v2m0 85v1m0 8v1m0 1v1m0 2v1m0 1v1m0 19v1m0 40v1M1423.0 44v1m0 4v1m0 9v1m0 79v1m0 3v1m0 30v1m0 15v1m0 12v1m0 18v1m0 10v1m0 31v1m0 29v1m0 6v2m0 17v1m0 15v1m0 5v1M1434.2 50v1m0 9v3m0 5v1m0 127v1m0 2v1m0 33v1m0 2v1m0 4v1m0 7v1m0 34v1m0 1v1m0 2v1m0 66v1M1445.4 17v1m0 14v2m0 16v1m0 98v1m0 49v1m0 2v1m0 12v1m0 58v1m0 4v1m0 4v1m0 24v1m0 28v1m0 3v1m0 13v1m0 6v1m0 5v1M1456.7 139v1m0 11v1m0 60v1m0 33v2m0 26v1m0 14v1m0 31v1m0 42v2M1467.9 12v1m0 18v1m0 12v1m0 4v1m0 146v2m0 1v1m0 2v2m0 25v1m0 2v1m0 8v1m0 7v1m0 10v1m0 17v1m0 1v1m0 57v2m0 3v1M1479.1 17v2m0 33v1m0 6v1m0 79v1m0 3v1m0 2v1m0 47v1m0 5v1m0 2v1m0 1v2m0 6v1m0 18v2m0 15v1m0 5v1m0 1v1m0 1v2m0 5v1m0 4v1M1490.4 186v1m0 7v1m0 1v1m0 5v1m0 9v1m0 32v1m0 32v1m0 1v1m0 9v1M1501.6 12v1m0 28v2m0 9v1m0 117v1m0 23v1m0 7v1m0 35v1m0 2v1m0 7v1m0 2v1m0 1v1m0 95v1m0 18v1M1512.8 8v1m0 3v1m0 18v1m0 107v1m0 7v1m0 51v1m0 27v1m0 8v1m0 4v1m0 12v1m0 9v1m0 1v1m0 54v1M1524.0 151v1m0 32v1m0 5v1m0 6v1m0 35v1m0 1v1m0 48v1m0 51v2m0 5v1m0 10v1M1535.3 18v1m0 121v1m0 1v1m0 31v1m0 15v1m0 6v1m0 1v1m0 9v1m0 14v1m0 2v1m0 28v1m0 14v1m0 13v1m0 46v1M1546.5 23v1m0 123v1m0 40v1m0 2v1m0 46v2m0 14v1m0 1v1m0 9v1m0 21v1m0 31v1M1557.7 18v1m0 135v1m0 12v1m0 22v1m0 19v1m0 77v1m0 5v1m0 27v1M1569.0 36v1m0 4v1m0 7v1m0 1v1m0 124v1m0 6v1m0 11v3m0 1v1m0 2v2m0 70v1m0 7v1m0 2v1m0 12v1m0 23v1m0 4v1m0 4v1m0 15v1M1580.2 31v1m0 1v1m0 1v1m0 13v1m0 92v1m0 43v1m0 62v1m0 14v1m0 37v1m0 17v1m0 10v2M1591.4 36v1m0 126v1m0 26v1m0 13v1m0 2v1m0 4v1m0 20v1m0 22v1m0 11v2m0 27v1m0 3v3m0 10v1m0 19v1m0 36v1M1602.7 17v1m0 121v1m0 98v1m0 13v1m0 5v2m0 4v1m0 19v1m0 11v1m0 7v1m0 5v3M1613.9 12v1m0 46v1m0 95v1m0 7v1m0 2v1m0 1v1m0 5v2m0 78v1m0 5v1m0 15v1m0 7v2m0 12v1m0 12v1m0 3v2m0 20v3m0 29v1M1625.1 7v1m0 34v1m0 5v1m0 10v1m0 103v1m0 6v1m0 12v1m0 34v1m0 21v1m0 13v1m0 28v1m0 2v1m0 20v1m0 30v2m0 29v1M1636.3 8v1m0 2v1m0 24v1m0 2v1m0 3v1m0 1v1m0 3v1m0 1v1m0 2v1m0 3v2m0 87v1m0 3v1m0 12v1m0 5v1m0 36v1m0 29v1m0 44v1m0 31v1m0 45v1m0 1v3M1647.6 8v1m0 2v1m0 5v1m0 18v1m0 1v1m0 2v1m0 3v1m0 3v1m0 1v1m0 7v1m0 86v1m0 4v1m0 18v1m0 9v1m0 10v1m0 15v1m0 5v1m0 1v1m0 24v1m0 5v1m0 27v1m0 21v1m0 11v2m0 2v2m0 20v1m0 8v1m0 14v1m0 6v1m0 2v2M1658.8 143v1m0 2v1m0 19v1m0 1v1m0 1v1m0 3v1m0 1v1m0 11v1m0 13v1m0 30v1m0 20v1m0 29v1m0 24v1m0 11v1m0 10v1M1670.0 18v1m0 41v1m0 78v1m0 5v1m0 5v1m0 48v1m0 37v1m0 43v1m0 5v2m0 13v1m0 28v1M1681.3 141v1m0 4v1m0 117v1M1692.5 59v1m0 7v1m0 71v1m0 1v1m0 3v2m0 6v1m0 29v1m0 2v1m0 12v1m0 3v1m0 32v1m0 8v1m0 59v3m0 24v1M1703.7 62v1m0 88v1m0 113v1m0 18v1m0 20v1m0 6v1m0 1v1m0 17v1M1714.9 139v1m0 2v2m0 1v1m0 35v1m0 7v1m0 12v1m0 12v1m0 4v1m0 1v1m0 4v1m0 7v1m0 2v1m0 2v1m0 4v1m0 16v2m0 19v1m0 36v1m0 17v1m0 27v1m0 1v1M1726.2 146v1m0 39v1m0 3v1m0 36v1m0 7v1m0 30v1m0 2v1m0 4v1m0 4v1m0 5v2m0 37v1m0 29v1m0 14v1M1737.4 142v1m0 32v1m0 51v1m0 36v1m0 6v1m0 40v1m0 7v1M1748.6 59v1m0 130v1m0 31v1m0 4v1m0 17v1m0 64v1m0 10v1m0 39v1m0 5v1m0 1v1M1759.9 12v1m0 40v1m0 8v1m0 76v1m0 2v1m0 4v1m0 51v1m0 7v1m0 4v1m0 17v1m0 3v1m0 5v1m0 11v1m0 12v1m0 14v1m0 51v1M1771.1 18v1m0 126v1m0 3v1m0 1v1m0 3v1m0 7v1m0 3v1m0 7v1m0 15v1m0 3v1m0 11v1m0 5v1m0 27v1m0 7v1m0 21v1m0 2v1m0 28v1m0 9v1m0 40v1m0 4v1m0 2v1M1782.3 17v1m0 133v1m0 12v2m0 15v1m0 1v1m0 5v1m0 5v1m0 11v1m0 25v1m0 2v1m0 1v1m0 10v1m0 10v1m0 17v1m0 17v1m0 57v1m0 6v1M1793.6 11v1m0 30v1m0 96v1m0 70v1m0 29v1m0 2v1m0 5v1m0 4v1m0 1v1m0 1v1m0 6v1m0 5v1m0 12v1m0 58v1m0 21v1M1804.8 17v1m0 13v1m0 3v1m0 113v1m0 60v1m0 60v1m0 3v1m0 6v1m0 1v1M1816.0 7v1m0 4v1m0 28v1m0 20v1m0 92v1m0 28v1m0 7v1m0 4v1m0 17v1m0 22v1m0 49v2m0 22v1m0 1v1M1827.2 17v1m0 34v1m0 90v1m0 3v1m0 15v1m0 1v1m0 1v2m0 4v1m0 2v1m0 41v1m0 1v1m0 1v1m0 17v2m0 4v1m0 5v1m0 2v1m0 18v1m0 9v1m0 28v1m0 3v1m0 19v1m0 1v1m0 30v2M1838.5 17v3m0 3v1m0 7v1m0 3v1m0 6v1m0 1v1m0 113v1m0 8v1m0 12v1m0 26v1m0 25v1m0 20v1m0 11v1m0 13v1m0 4v1m0 21v1m0 50v1m0 2v1M1849.7 7v1m0 44v1m0 98v1m0 32v1m0 87v1m0 70v1m0 17v1m0 5v1m0 1v1M1860.9 33v1m0 62v1m0 2v1m0 17v1m0 127v1m0 14v1m0 4v1m0 8v1m0 92v1M1872.2 31v1m0 3v1m0 119v1m0 18v1m0 1v1m0 39v1m0 1v1m0 8v1m0 26v1m0 29v1m0 21v2m0 40v1m0 16v1m0 5v1M1883.4 18v1m0 55v1m0 37v1m0 16v1m0 1v1m0 7v1m0 1v1m0 14v1m0 6v1m0 22v1m0 67v1m0 14v1m0 2v1m0 33v2m0 12v1m0 4v1m0 1v1m0 33v1"/>
<path stroke="#ffaa99" d="M1052.4 212v1m0 107v1m0 11v1M1063.6 31v1m0 164v1m0 35v1m0 40v1m0 46v1m0 50v1M1074.9 52v1m0 284v1M1086.1 239v1m0 16v1m0 97v1M1097.3 207v2m0 26v1m0 44v1m0 22v1M1108.6 23v1m0 140v1m0 91v1m0 9v1M1119.8 145v1m0 42v1m0 60v1m0 102v1m0 6v1M1131.0 25v1m0 123v1m0 73v1m0 108v1m0 26v1M1142.2 364v1M1153.5 59v1m0 89v1m0 172v1M1164.7 298v1M1175.9 232v1m0 42v1M1187.2 321v1M1198.4 264v1M1209.6 11v1m0 259v1m0 3v1m0 14v1M1220.9 228v1m0 39v1m0 20v1m0 42v1M1232.1 168v1m0 7v1m0 91v1m0 79v1M1254.5 207v1m0 57v1m0 5v1M1265.8 23v1m0 125v1m0 82v1m0 65v1m0 6v1m0 29v1m0 10v1m0 14v1m0 4v1M1277.0 144v2m0 22v1m0 21v1m0 47v1m0 29v1m0 2v1m0 41v1m0 25v1m0 16v1M1288.2 45v1m0 3v1m0 99v1m0 53v1m0 11v1M1299.5 156v1m0 72v1m0 90v1M1310.7 188v1m0 77v1M1321.9 151v1m0 93v1m0 69v1m0 51v1M1333.1 41v1m0 197v1M1344.4 41v1m0 193v1m0 33v1M1355.6 197v1m0 80v1m0 27v1M1366.8 35v1m0 109v1m0 44v1M1378.1 48v1m0 125v1m0 8v1m0 15v1m0 35v1M1389.3 241v1m0 23v1M1400.5 59v1m0 87v1M1411.8 199v1m0 132v1M1423.0 17v1m0 227v1m0 38v1m0 16v1M1434.2 65v1m0 222v1m0 25v1M1445.4 203v1m0 45v1m0 112v1M1456.7 24v1M1467.9 33v1m0 136v1m0 5v1m0 155v1M1479.1 142v1m0 109v1M1490.4 254v1m0 9v1m0 3v1M1501.6 210v1m0 23v2m0 10v1m0 4v1m0 14v1m0 82v1m0 17v1M1512.8 184v1m0 71v1M1524.0 42v1m0 9v1M1535.3 143v1m0 7v1m0 23v1m0 18v1M1546.5 139v1m0 41v1m0 4v1m0 41v1M1557.7 240v1m0 102v1M1569.0 149v1m0 106v1m0 86v1M1580.2 45v1m0 138v1M1591.4 48v1m0 205v1m0 110v1M1602.7 11v1m0 172v1m0 136v1M1613.9 173v1m0 28v1m0 9v1m0 96v1m0 33v1M1625.1 31v1m0 13v1m0 220v1m0 36v1m0 10v1M1636.3 7v1m0 47v1m0 112v1m0 132v1m0 4v1M1647.6 181v1m0 65v1m0 116v1M1658.8 142v1m0 32v1m0 112v1M1670.0 296v1m0 8v1m0 3v1m0 55v1M1703.7 271v1m0 29v1m0 18v1M1714.9 31v1m0 205v1m0 9v1M1726.2 224v1m0 57v1M1737.4 11v1m0 30v1m0 266v1m0 7v1M1748.6 52v1m0 156v1m0 29v1m0 19v1m0 6v1m0 67v1m0 10v1M1759.9 68v1m0 75v1m0 70v1m0 19v1M1771.1 12v1m0 354v1m0 4v1M1782.3 59v1m0 172v1m0 99v1m0 3v1M1793.6 147v1m0 1v1m0 68v1m0 41v1M1804.8 332v1M1816.0 240v1m0 39v1M1827.2 275v1m0 56v1m0 7v1M1838.5 52v1m0 130v1m0 4v1M1849.7 8v1m0 174v1m0 98v1M1860.9 81v1m0 27v1m0 130v1m0 113v1M1872.2 62v1m0 88v1m0 70v1m0 51v1m0 11v1M1883.4 12v1m0 255v1m0 5v1m0 48v1"/>
<path stroke="#ffaaaa" d="M1052.4 12v1m0 4v1m0 5v1m0 20v1m0 10v1m0 90v1m0 2v1m0 1v1m0 3v1m0 46v1m0 4v1m0 19v1m0 4v1m0 4v1m0 16v1m0 11v1m0 7v1m0 3v1m0 42v1m0 39v2m0 4v1m0 2v1M1063.6 12v1m0 6v1m0 13v1m0 9v1m0 1v1m0 7v1m0 3v1m0 7v1m0 2v1m0 73v2m0 11v1m0 5v1m0 4v1m0 8v1m0 19v1m0 1v1m0 1v1m0 12v1m0 5v1m0 8v1m0 6v1m0 18v1m0 12v1m0 1v2m0 10v1m0 1v1m0 7v1m0 7v1m0 13v1m0 19v1m0 10v1m0 17v1m0 1v3m0 4v1M1074.9 7v1m0 9v1m0 21v1m0 4v1m0 4v2m0 95v2m0 19v1m0 16v1m0 48v1m0 11v1m0 8v1m0 3v1m0 5v2m0 2v1m0 2v1m0 2v1m0 3v1m0 1v1m0 8v1m0 11v1m0 19v1m0 42v2M1086.1 12v1m0 18v1m0 13v1m0 98v1m0 6v1m0 3v1m0 12v1m0 2v1m0 3v2m0 1v1m0 11v1m0 19v1m0 16v1m0 17v1m0 34v1m0 15v1m0 5v1m0 5v2m0 2v1m0 8v1m0 13v1m0 20v1m0 3v1m0 1v1m0 8v1M1097.3 31v1m0 1v1m0 11v1m0 6v1m0 4v1m0 81v1m0 7v1m0 5v1m0 1v1m0 2v1m0 8v1m0 29v1m0 14v1m0 15v1m0 3v1m0 1v1m0 6v1m0 1v1m0 4v2m0 10v1m0 3v1m0 19v1m0 3v1m0 17v2m0 13v1m0 10v1m0 21v1M1108.6 12v1m0 11v2m0 5v1m0 3v1m0 14v1m0 1v1m0 14v1m0 82v1m0 7v1m0 14v1m0 10v1m0 15v1m0 14v1m0 11v1m0 1v2m0 1v1m0 2v1m0 4v1m0 3v1m0 9v1m0 29v1m0 11v1m0 4v1m0 30v1m0 29v1m0 2v1m0 1v1M1119.8 12v1m0 4v1m0 34v1m0 6v1m0 7v1m0 73v2m0 37v1m0 2v1m0 1v1m0 5v1m0 2v1m0 2v1m0 4v1m0 12v1m0 1v1m0 40v1m0 5v2m0 5v1m0 1v1m0 8v1m0 1v1m0 13v1m0 38v1m0 5v1m0 4v2m0 3v1m0 6v1m0 1v1m0 7v1M1131.0 18v1m0 16v1m0 8v1m0 7v1m0 9v1m0 2v1m0 74v1m0 4v1m0 22v1m0 14v1m0 15v1m0 33v1m0 22v1m0 9v1m0 11v1m0 4v1m0 5v2m0 9v1m0 3v1m0 4v1m0 1v1m0 3v1m0 22v1m0 7v2m0 3v1m0 8v1m0 8v1m0 1v1M1142.2 15v1m0 26v1m0 1v1m0 14v1m0 2v1m0 90v1m0 2v1m0 29v1m0 3v1m0 11v1m0 42v3m0 8v1m0 12v1m0 2v2m0 2v1m0 11v1m0 14v1m0 9v1m0 17v1M1153.5 11v1m0 128v1m0 3v1m0 51v1m0 27v1m0 2v1m0 8v1m0 3v1m0 4v1m0 74v1m0 13v1m0 2v1m0 1v1m0 3v1m0 4v1m0 1v2m0 2v1m0 8v5m0 1v1M1164.7 189v1m0 9v1m0 4v2m0 1v1m0 3v1m0 1v1m0 65v1m0 8v3m0 6v1m0 5v1m0 1v1m0 56v2M1175.9 141v1m0 7v1m0 30v1m0 6v2m0 10v1m0 7v1m0 10v1m0 3v1m0 5v2m0 6v1m0 6v1m0 20v1m0 6v1m0 2v1m0 19v1m0 1v1m0 23v1m0 11v1m0 4v6m0 1v1m0 9v1m0 14v1M1187.2 42v1m0 1v1m0 7v1m0 6v1m0 80v1m0 1v2m0 24v1m0 28v1m0 29v1m0 4v1m0 14v2m0 1v2m0 4v1m0 16v1m0 1v1m0 12v3m0 70v1M1198.4 17v1m0 5v1m0 115v1m0 9v1m0 3v3m0 7v1m0 12v1m0 7v1m0 5v1m0 33v1m0 2v1m0 1v2m0 1v1m0 1v1m0 5v2m0 4v1m0 1v1m0 11v1m0 15v1m0 5v1m0 53v2m0 5v1m0 21v1m0 3v1M1209.6 7v1m0 10v1m0 132v1m0 10v1m0 7v1m0 5v1m0 7v1m0 45v1m0 9v1m0 7v1m0 3v1m0 17v1m0 5v1m0 14v2m0 55v1m0 16v1m0 3v1M1220.9 17v1m0 5v3m0 113v1m0 75v1m0 29v1m0 6v1m0 12v1m0 20v1m0 1v1m0 67v1M1232.1 6v1m0 4v1m0 5v1m0 1v1m0 12v1m0 26v1m0 82v1m0 8v1m0 22v2m0 2v1m0 7v1m0 20v1m0 4v1m0 25v1m0 4v1m0 2v1m0 6v1m0 7v1m0 18v1m0 3v1m0 3v1m0 6v1m0 2v1m0 4v3m0 1v1m0 5v1m0 40v1m0 1v1M1243.3 139v1m0 27v1m0 44v1m0 4v2m0 20v1m0 5v1m0 20v1m0 50v1m0 3v1m0 14v1M1254.5 6v1m0 1v1m0 3v1m0 18v1m0 3v1m0 5v1m0 2v1m0 5v1m0 1v1m0 88v1m0 44v1m0 2v1m0 1v1m0 2v1m0 20v1m0 6v1m0 4v1m0 1v1m0 4v1m0 3v1m0 25v1m0 9v2m0 1v2m0 5v1m0 11v1m0 10v1m0 29v3m0 21v1M1265.8 17v1m0 13v1m0 22v2m0 6v1m0 78v2m0 3v1m0 6v2m0 1v1m0 1v1m0 8v1m0 1v1m0 13v1m0 4v3m0 4v1m0 3v1m0 10v1m0 4v1m0 8v1m0 12v1m0 8v3m0 15v1m0 9v2m0 8v1m0 18v1m0 2v1m0 18v1m0 1v1m0 5v1m0 8v1m0 5v2m0 13v1m0 1v1m0 1v1M1277.0 7v1m0 4v1m0 18v1m0 6v1m0 114v1m0 9v1m0 22v1m0 25v1m0 2v3m0 15v1m0 3v1m0 40v1m0 11v1m0 12v1m0 2v2m0 1v1m0 2v1m0 4v1m0 2v2m0 14v3m0 4v1m0 17v1m0 6v1M1288.2 9v1m0 7v1m0 1v1m0 132v1m0 2v2m0 1v1m0 4v1m0 3v1m0 7v1m0 12v2m0 7v1m0 14v1m0 4v1m0 6v1m0 7v1m0 2v1m0 1v1m0 7v1m0 3v1m0 2v1m0 3v1m0 7v1m0 6v1m0 1v1m0 2v1m0 14v1m0 2v1m0 15v1m0 13v1m0 2v1m0 6v1M1299.5 11v1m0 19v1m0 9v2m0 7v1m0 88v1m0 1v1m0 5v1m0 5v2m0 6v1m0 14v1m0 7v1m0 1v1m0 3v1m0 13v1m0 10v1m0 4v1m0 7v1m0 3v1m0 1v1m0 10v1m0 3v1m0 8v2m0 6v1m0 17v1m0 14v1m0 9v1m0 3v1m0 2v2m0 13v1m0 4v2m0 18v1m0 4v1M1310.7 23v1m0 18v1m0 1v1m0 104v1m0 16v2m0 19v1m0 3v1m0 32v1m0 39v1m0 9v1m0 55v1m0 1v1m0 4v2m0 3v1m0 13v1M1321.9 6v2m0 9v2m0 31v1m0 1v1m0 93v1m0 14v1m0 1v1m0 3v1m0 21v1m0 1v1m0 5v1m0 1v1m0 4v1m0 28v1m0 6v1m0 2v1m0 16v1m0 2v1m0 7v1m0 12v1m0 21v1m0 6v1m0 5v2m0 3v1m0 6v1m0 7v1m0 2v1m0 15v3m0 3v1M1333.1 15v1m0 1v1m0 5v1m0 117v1m0 2v1m0 1v1m0 19v1m0 15v1m0 2v1m0 41v1m0 7v1m0 1v1m0 7v1m0 19v1m0 6v1m0 12v1m0 10v1m0 8v1m0 16v1m0 31v1m0 1v1M1344.4 7v2m0 3v1m0 7v2m0 11v1m0 11v1m0 9v1m0 83v1m0 7v1m0 19v1m0 8v1m0 7v1m0 7v1m0 3v2m0 10v1m0 25v1m0 2v1m0 1v1m0 5v1m0 20v1m0 17v1m0 20v1m0 27v1m0 2v1m0 6v1m0 1v1m0 10v1M1355.6 7v1m0 3v1m0 5v1m0 17v1m0 24v1m0 1v1m0 81v1m0 20v2m0 3v1m0 16v1m0 19v1m0 32v2m0 1v1m0 1v1m0 2v1m0 33v1m0 2v1m0 3v1m0 30v1m0 22v1m0 14v2m0 5v1M1366.8 11v1m0 11v2m0 1v1m0 114v1m0 2v1m0 16v1m0 23v1m0 1v1m0 16v1m0 22v1m0 8v1m0 6v1m0 5v1m0 35v1m0 17v1m0 5v1m0 3v1m0 18v1m0 36v1M1378.1 7v1m0 3v1m0 2v2m0 3v1m0 11v1m0 3v1m0 6v1m0 2v1m0 95v1m0 9v1m0 21v1m0 17v1m0 3v1m0 1v1m0 51v1m0 6v1m0 31v2m0 24v1m0 6v1m0 10v1m0 27v1m0 4v1M1389.3 41v1m0 8v1m0 9v1m0 82v1m0 24v1m0 15v1m0 3v1m0 1v1m0 27v2m0 20v1m0 37v1m0 6v1m0 23v1m0 3v2m0 3v1m0 1v1m0 40v1m0 7v1M1400.5 31v1m0 9v1m0 10v1m0 88v1m0 9v1m0 18v1m0 10v1m0 6v1m0 29v1m0 26v1m0 51v2m0 33v1m0 10v1M1411.8 41v1m0 2v1m0 3v1m0 13v1m0 91v1m0 10v2m0 16v2m0 5v1m0 1v1m0 4v1m0 2v1m0 1v2m0 14v1m0 7v1m0 5v1m0 27v1m0 1v1m0 15v1m0 1v1m0 28v1m0 2v2m0 3v1m0 3v1m0 21v1m0 8v2m0 2v1M1423.0 7v1m0 3v1m0 129v1m0 2v2m0 17v1m0 27v1m0 5v1m0 17v1m0 16v1m0 5v2m0 20v1m0 3v1m0 3v1m0 2v1m0 13v1m0 11v1m0 22v1m0 3v1m0 13v2m0 4v1m0 1v1M1434.2 44v1m0 4v1m0 92v2m0 2v1m0 2v1m0 1v1m0 15v1m0 10v1m0 10v1m0 5v1m0 31v1m0 1v1m0 5v1m0 1v3m0 3v1m0 16v1m0 17v2m0 10v1m0 7v1m0 21v2m0 44v2m0 1v1M1445.4 18v1m0 12v1m0 10v1m0 6v1m0 3v1m0 5v1m0 81v3m0 2v1m0 1v1m0 3v1m0 9v1m0 33v3m0 1v1m0 9v1m0 16v1m0 13v1m0 3v1m0 18v1m0 10v1m0 2v1m0 1v1m0 4v1m0 26v1m0 19v1m0 3v1m0 2v1m0 8v1m0 16v3M1456.7 12v1m0 4v1m0 24v1m0 104v1m0 15v1m0 3v1m0 17v1m0 21v1m0 1v1m0 22v1m0 3v1m0 12v2m0 20v1m0 7v1m0 2v1m0 5v1m0 1v1m0 33v1m0 6v1m0 34v1m0 2v1M1467.9 7v1m0 10v1m0 3v1m0 9v1m0 8v1m0 100v2m0 5v1m0 5v1m0 11v1m0 6v2m0 19v1m0 34v1m0 14v1m0 12v2m0 4v1m0 6v1m0 2v2m0 6v1m0 13v2m0 1v1m0 36v2M1479.1 12v1m0 31v1m0 5v1m0 2v1m0 87v1m0 3v1m0 3v1m0 6v1m0 13v1m0 3v2m0 19v1m0 12v2m0 1v1m0 2v1m0 3v1m0 20v1m0 5v1m0 1v1m0 5v1m0 7v1m0 5v1m0 9v2m0 1v1m0 7v1m0 5v2m0 7v1m0 17v1m0 15v1m0 5v1m0 25v1M1490.4 44v1m0 130v1m0 6v1m0 14v1m0 1v1m0 3v1m0 11v1m0 8v1m0 16v1m0 4v1m0 9v1m0 18v1m0 6v2m0 25v1m0 10v2m0 12v1m0 34v1M1501.6 21v1m0 2v1m0 34v1m0 79v1m0 7v1m0 1v2m0 15v1m0 8v1m0 8v1m0 51v2m0 1v2m0 3v1m0 2v1m0 8v1m0 1v2m0 11v1m0 8v1m0 5v1m0 22v1m0 11v1m0 6v2m0 13v1m0 1v2m0 1v1m0 8v3m0 1v1m0 1v2M1512.8 17v2m0 16v1m0 5v1m0 17v3m0 1v1m0 3v1m0 78v1m0 27v1m0 8v1m0 2v1m0 5v1m0 3v1m0 4v1m0 8v1m0 11v1m0 12v1m0 10v2m0 1v1m0 8v1m0 1v1m0 23v1m0 12v2m0 6v1m0 1v1m0 12v1m0 11v1m0 5v2M1524.0 7v1m0 132v1m0 3v2m0 17v1m0 19v1m0 2v1m0 4v2m0 6v1m0 15v1m0 2v1m0 5v1m0 2v1m0 1v1m0 2v1m0 5v2m0 14v1m0 9v1m0 20v1m0 3v1m0 6v1m0 10v1m0 24v1m0 20v1M1535.3 17v1m0 41v1m0 84v1m0 1v1m0 20v1m0 17v2m0 4v2m0 3v1m0 1v1m0 8v1m0 28v1m0 12v1m0 13v1m0 14v1m0 1v1m0 40v1m0 32v1m0 6v1M1546.5 7v1m0 5v1m0 132v1m0 33v1m0 1v1m0 2v1m0 13v1m0 15v1m0 11v1m0 3v1m0 17v1m0 8v1m0 35v1m0 8v1m0 28v1m0 36v1M1557.7 15v1m0 3v1m0 15v1m0 6v1m0 9v1m0 6v1m0 86v1m0 2v1m0 13v1m0 6v1m0 5v1m0 3v1m0 5v1m0 4v1m0 7v1m0 2v1m0 12v1m0 11v1m0 10v2m0 34v1m0 10v2m0 9v2m0 33v1m0 20v2m0 13v1m0 1v1M1569.0 7v2m0 22v1m0 16v1m0 10v1m0 83v1m0 9v3m0 12v1m0 17v1m0 1v1m0 3v1m0 1v1m0 23v1m0 8v1m0 8v1m0 8v1m0 3v1m0 34v1m0 1v1m0 9v1m0 32v1m0 1v1m0 2v1m0 34v1M1580.2 41v1m0 6v1m0 92v1m0 1v1m0 11v1m0 11v1m0 28v1m0 12v1m0 17v1m0 17v1m0 10v1m0 6v1m0 8v1m0 1v1m0 9v2m0 14v1m0 5v2m0 14v1m0 4v1m0 6v2m0 2v1m0 22v1m0 7v1M1591.4 12v1m0 4v1m0 17v1m0 2v1m0 6v1m0 5v1m0 112v1m0 2v2m0 12v1m0 6v1m0 20v1m0 17v1m0 17v1m0 17v2m0 7v1m0 4v2m0 5v1m0 22v1m0 5v1m0 1v1m0 5v1m0 9v1m0 1v1m0 9v1m0 17v1m0 5v1M1602.7 15v1m0 2v1m0 31v1m0 8v1m0 82v2m0 6v1m0 2v2m0 19v1m0 5v1m0 2v1m0 1v2m0 4v2m0 1v1m0 8v1m0 29v1m0 2v1m0 2v1m0 5v1m0 9v1m0 15v1m0 2v1m0 3v1m0 6v2m0 8v1m0 1v2m0 10v1m0 9v1m0 25v1m0 2v1m0 3v1M1613.9 44v2m0 3v1m0 4v1m0 86v1m0 4v1m0 7v1m0 9v2m0 13v1m0 6v1m0 3v1m0 12v1m0 5v1m0 6v1m0 2v1m0 6v1m0 9v1m0 8v1m0 10v4m0 4v1m0 3v2m0 2v1m0 5v1m0 7v1m0 1v2m0 6v2m0 10v1m0 12v1m0 14v1m0 21v1M1625.1 11v1m0 21v1m0 17v1m0 2v2m0 83v1m0 25v2m0 6v1m0 12v1m0 20v1m0 5v1m0 6v1m0 14v2m0 4v1m0 5v2m0 7v1m0 3v1m0 21v1m0 5v1m0 7v1m0 1v1m0 13v2m0 1v2m0 13v1m0 12v1m0 19v1m0 3v1M1636.3 19v1m0 17v1m0 2v1m0 6v2m0 4v1m0 86v1m0 2v1m0 30v1m0 20v2m0 21v1m0 10v2m0 7v1m0 4v1m0 1v1m0 10v1m0 9v1m0 4v1m0 6v1m0 4v1m0 12v1m0 5v1m0 8v1m0 30v2m0 21v1m0 1v1M1647.6 18v1m0 12v1m0 22v1m0 109v4m0 14v1m0 9v1m0 3v2m0 1v1m0 2v1m0 5v1m0 34v1m0 10v1m0 9v2m0 5v1m0 3v1m0 2v1m0 5v1m0 3v4m0 3v1m0 2v1m0 2v2m0 1v1m0 5v1m0 3v1m0 45v1M1658.8 141v1m0 3v1m0 1v1m0 3v1m0 13v1m0 37v1m0 6v1m0 1v1m0 19v1m0 5v2m0 5v1m0 9v1m0 4v1m0 5v1m0 7v1m0 3v1m0 6v1m0 22v1m0 6v2m0 48v1M1670.0 44v1m0 14v1m0 130v1m0 21v1m0 9v1m0 9v1m0 6v1m0 5v1m0 8v1m0 11v1m0 4v1m0 3v1m0 2v1m0 11v1m0 1v1m0 1v2m0 6v1m0 5v1m0 12v2m0 31v1m0 14v1M1681.3 18v1m0 23v1m0 102v1m0 50v1m0 18v1m0 3v1m0 2v1m0 12v1m0 20v1m0 1v3m0 28v1m0 13v1m0 28v1m0 4v1m0 5v1m0 10v1m0 14v1m0 1v1M1692.5 44v2m0 4v1m0 1v1m0 1v2m0 91v1m0 6v2m0 20v1m0 12v1m0 4v1m0 1v1m0 11v1m0 13v1m0 6v1m0 5v1m0 60v1m0 6v1m0 4v1m0 1v1m0 4v1m0 3v1m0 32v1m0 16v1M1703.7 11v1m0 5v1m0 24v1m0 9v1m0 86v1m0 13v2m0 35v1m0 5v1m0 5v1m0 19v1m0 1v1m0 4v1m0 8v2m0 4v1m0 10v2m0 2v1m0 12v1m0 1v1m0 10v1m0 2v1m0 6v2m0 5v1m0 3v1m0 3v1m0 4v1m0 47v2m0 4v1M1714.9 18v1m0 16v1m0 8v1m0 5v1m0 98v1m0 30v1m0 2v1m0 4v1m0 1v1m0 1v1m0 2v1m0 25v1m0 2v1m0 4v1m0 9v1m0 22v1m0 11v1m0 7v1m0 22v1m0 1v1m0 1v1m0 2v1m0 24v1m0 28v1m0 1v1M1726.2 11v1m0 32v1m0 5v1m0 8v1m0 2v1m0 4v1m0 73v1m0 5v1m0 40v2m0 1v1m0 17v1m0 3v1m0 4v1m0 15v1m0 4v1m0 5v1m0 30v1m0 4v1m0 6v1m0 5v1m0 6v1m0 27v4m0 1v1m0 8v1m0 21v1M1737.4 52v3m0 98v2m0 7v2m0 19v1m0 2v1m0 12v1m0 2v2m0 5v1m0 5v1m0 2v1m0 1v1m0 14v1m0 9v1m0 3v1m0 6v1m0 19v1m0 8v1m0 15v1m0 6v1m0 1v1m0 2v1m0 1v2m0 1v1m0 13v1m0 4v1M1748.6 49v1m0 10v1m0 6v1m0 77v2m0 29v1m0 6v2m0 1v1m0 20v1m0 5v1m0 1v1m0 2v1m0 16v2m0 1v1m0 2v1m0 4v1m0 3v3m0 5v1m0 15v1m0 38v1m0 18v2m0 24v3m0 4v2M1759.9 54v1m0 86v1m0 3v1m0 3v1m0 1v1m0 1v1m0 1v1m0 11v1m0 2v1m0 25v3m0 1v1m0 4v2m0 16v1m0 14v2m0 6v1m0 2v1m0 3v1m0 1v1m0 2v1m0 9v2m0 3v1m0 16v1m0 5v1m0 6v1m0 23v1m0 2v2m0 33v1m0 3v1M1771.1 11v1m0 29v1m0 2v1m0 7v1m0 14v1m0 73v1m0 12v1m0 15v1m0 9v1m0 4v1m0 6v1m0 1v1m0 7v1m0 2v1m0 2v1m0 2v1m0 6v1m0 10v1m0 6v1m0 10v1m0 25v1m0 1v1m0 1v1m0 6v1m0 20v1m0 3v1m0 2v1m0 1v1m0 9v1m0 6v1m0 20v2m0 4v1m0 1v1m0 4v1M1782.3 18v1m0 25v1m0 5v1m0 1v1m0 9v1m0 85v1m0 4v3m0 10v1m0 1v1m0 4v1m0 2v1m0 5v1m0 5v1m0 8v1m0 11v1m0 2v1m0 2v1m0 14v1m0 3v2m0 3v1m0 3v1m0 2v1m0 8v1m0 1v3m0 5v1m0 2v2m0 4v2m0 4v1m0 4v1m0 15v1m0 3v3m0 1v1m0 35v1m0 2v1m0 11v1m0 1v1m0 2v1M1793.6 59v1m0 105v1m0 2v1m0 1v1m0 15v1m0 12v1m0 7v1m0 7v1m0 17v1m0 12v3m0 8v1m0 1v1m0 4v1m0 1v1m0 2v1m0 2v1m0 1v1m0 7v1m0 13v1m0 4v1M1804.8 19v1m0 22v1m0 16v1m0 79v1m0 6v1m0 6v3m0 59v1m0 50v1m0 19v1m0 2v1m0 55v1M1816.0 33v1m0 10v1m0 7v1m0 8v1m0 84v1m0 16v1m0 3v1m0 30v1m0 13v1m0 26v1m0 1v1m0 3v1m0 20v1m0 39v2m0 9v1m0 3v1m0 5v1m0 21v2m0 10v1m0 1v1m0 3v1m0 1v1m0 1v1M1827.2 18v1m0 22v2m0 2v1m0 3v2m0 93v3m0 17v1m0 5v1m0 15v1m0 25v1m0 4v1m0 1v1m0 23v1m0 3v1m0 9v3m0 4v2m0 5v1m0 8v1m0 22v1m0 6v1m0 1v1m0 1v3m0 3v1m0 21v1m0 11v1m0 6v1M1838.5 12v1m0 8v2m0 1v1m0 8v1m0 7v1m0 17v1m0 93v3m0 28v1m0 19v3m0 4v1m0 15v1m0 32v1m0 3v1m0 9v2m0 7v1m0 2v1m0 22v2m0 13v1m0 12v1m0 7v1m0 8v1m0 1v1m0 3v1m0 8v1M1849.7 6v1m0 4v1m0 20v1m0 3v1m0 102v1m0 7v1m0 20v1m0 1v1m0 10v1m0 4v1m0 22v1m0 5v1m0 11v1m0 17v1m0 17v1m0 2v1m0 1v2m0 3v1m0 46v1m0 17v2m0 8v1m0 5v1m0 1v1m0 3v1m0 2v2m0 1v1M1860.9 62v1m0 10v1m0 6v1m0 30v1m0 24v1m0 30v1m0 2v1m0 12v2m0 25v1m0 28v1m0 1v1m0 4v1m0 5v1m0 1v1m0 13v1m0 34v1m0 1v1m0 31v1m0 30v1M1872.2 52v1m0 11v2m0 86v1m0 14v1m0 2v1m0 4v1m0 31v1m0 15v1m0 51v1m0 12v1m0 6v1m0 17v1m0 40v1m0 1v1m0 5v3m0 2v1M1883.4 44v1m0 7v1m0 6v1m0 80v1m0 1v2m0 3v1m0 3v2m0 124v1m0 27v1m0 16v1m0 10v1m0 14v1m0 11v1"/>
<path stroke="#ffbbaa" d="M1052.4 59v1m0 94v1m0 42v1m0 111v1M1063.6 25v1m0 34v1m0 79v1m0 87v1m0 55v1m0 9v1m0 1v1M1074.9 60v1m0 80v1m0 21v1m0 63v1m0 60v1M1086.1 254v1m0 9v1m0 19v1m0 19v1M1097.3 50v1m0 98v1m0 40v1m0 49v1m0 102v1M1108.6 18v1m0 200v2m0 20v1m0 29v1M1119.8 18v1m0 194v1m0 49v1m0 82v1m0 3v1M1131.0 42v1m0 119v1m0 34v1m0 6v2m0 144v1M1142.2 142v1m0 97v1m0 2v1M1153.5 7v1m0 176v1m0 6v1m0 37v1m0 50v1m0 68v1m0 9v1m0 1v1M1164.7 52v1m0 171v1m0 8v1m0 57v1m0 56v1m0 17v1M1175.9 220v1m0 25v1M1187.2 12v1m0 150v1m0 10v1m0 1v1m0 9v1m0 7v1m0 7v1m0 65v1m0 63v1M1198.4 31v1m0 154v1m0 69v1m0 10v1m0 74v1m0 20v2M1209.6 8v1m0 164v1m0 18v1M1220.9 18v1m0 236v1M1232.1 42v1m0 98v1m0 87v1m0 55v1M1243.3 288v1m0 60v2M1254.5 237v1m0 3v1m0 64v1M1265.8 11v1m0 138v1m0 82v1m0 73v1m0 36v1M1277.0 230v1m0 38v1M1288.2 162v1m0 71v1m0 46v1M1299.5 57v1m0 9v1m0 78v1m0 11v1m0 30v1m0 74v1m0 10v1m0 9v1m0 3v1m0 17v1m0 27v1m0 9v1M1310.7 275v1M1321.9 149v1m0 57v1m0 97v1M1333.1 19v1m0 42v1m0 129v1m0 3v1m0 67v1m0 24v1m0 17v1m0 29v1M1344.4 57v1m0 1v1m0 135v1M1355.6 8v1m0 56v1m0 80v1m0 44v1m0 45v1m0 9v1m0 18v1m0 21v1m0 20v1m0 44v1M1366.8 207v1m0 70v1M1378.1 166v1m0 27v1m0 69v1m0 12v1M1389.3 62v1m0 128v1m0 44v1M1400.5 144v1M1423.0 42v1m0 5v1m0 117v1m0 29v1m0 2v1m0 2v1m0 1v1m0 91v1M1434.2 17v1m0 123v1m0 35v1m0 31v1m0 20v1m0 72v1m0 28v1M1445.4 161v1m0 33v1m0 93v1m0 17v1m0 2v1M1456.7 240v1m0 34v1m0 83v1M1467.9 45v1m0 16v1m0 110v1m0 60v1m0 63v1m0 43v1M1479.1 272v1m0 3v1m0 21v1m0 6v1M1490.4 11v1m0 30v1m0 145v1m0 46v1m0 11v1m0 31v1m0 11v1m0 16v1m0 1v1M1501.6 11v1m0 5v1m0 36v1m0 121v1m0 22v1m0 108v1M1512.8 175v1m0 22v1m0 104v1m0 2v1M1524.0 195v1m0 92v1m0 17v1m0 28v1M1535.3 145v1m0 116v1m0 9v1m0 83v1M1546.5 35v1m0 105v1m0 7v1m0 84v1M1557.7 12v1m0 10v1m0 164v1m0 86v1m0 30v1M1569.0 35v1m0 1v1m0 114v1m0 47v1m0 34v1m0 53v1m0 38v1M1580.2 47v1m0 103v1m0 50v2m0 126v1m0 8v1M1591.4 241v1m0 23v1M1602.7 54v1m0 118v1m0 36v1m0 50v1m0 26v1M1613.9 199v1m0 4v1m0 60v1m0 7v1m0 20v1M1625.1 6v1m0 295v1M1636.3 175v1m0 21v1m0 1v1m0 60v1m0 43v1M1647.6 35v1m0 26v1m0 99v1m0 158v1m0 44v1M1658.8 163v1m0 33v1m0 103v1M1670.0 191v1m0 99v1m0 39v1M1692.5 17v1m0 174v1m0 7v1m0 17v1m0 27v1m0 18v1m0 43v1m0 10v1m0 29v1m0 14v1M1703.7 50v1m0 10v1m0 141v1m0 41v2m0 22v1m0 6v1M1714.9 218v1m0 51v1m0 37v1m0 29v1M1726.2 42v1m0 161v1m0 147v1m0 18v1M1737.4 212v1m0 50v1m0 1v1m0 20v1m0 32v1M1748.6 18v1m0 43v1m0 126v1m0 67v1m0 26v2m0 49v1m0 28v1m0 5v2M1759.9 222v1m0 53v1m0 12v1M1771.1 181v1m0 58v1m0 24v1m0 54v1m0 1v1M1782.3 19v1m0 160v1m0 90v1m0 5v1m0 32v1m0 9v1m0 14v1M1793.6 321v1M1804.8 141v1m0 8v1m0 87v1m0 104v1m0 19v1M1816.0 11v1m0 5v1m0 133v1m0 70v1m0 93v1M1827.2 24v1m0 125v2m0 22v1m0 3v1m0 90v1m0 18v1m0 42v1m0 16v1M1838.5 32v1m0 196v1m0 135v1M1849.7 143v1m0 17v1m0 27v1m0 75v1m0 96v1m0 7v1M1860.9 153v1M1872.2 229v1m0 3v1m0 26v1M1883.4 113v1m0 36v1m0 2v1"/>
<path stroke="#ffbbbb" d="M1052.4 7v1m0 3v1m0 10v1m0 9v1m0 12v1m0 4v1m0 11v1m0 4v1m0 74v2m0 19v1m0 10v1m0 11v1m0 5v1m0 10v1m0 4v1m0 8v2m0 3v2m0 1v1m0 3v2m0 3v1m0 3v4m0 3v1m0 1v1m0 1v2m0 5v1m0 7v1m0 20v1m0 30v4m0 10v2m0 2v1m0 2v1m0 5v1m0 14v1m0 1v1m0 5v1M1063.6 7v1m0 3v1m0 3v1m0 8v1m0 1v1m0 1v1m0 3v1m0 31v1m0 79v2m0 4v1m0 2v2m0 7v1m0 1v1m0 5v1m0 3v1m0 27v1m0 19v1m0 6v1m0 15v1m0 9v1m0 16v1m0 2v1m0 1v1m0 7v1m0 1v2m0 2v1m0 3v1m0 1v1m0 3v1m0 1v1m0 1v5m0 4v1m0 1v2m0 1v1m0 1v1m0 9v1m0 13v1m0 12v3m0 7v1M1074.9 6v1m0 8v1m0 4v2m0 9v1m0 3v2m0 3v1m0 2v1m0 1v1m0 1v2m0 12v2m0 2v1m0 1v1m0 71v1m0 5v1m0 5v1m0 36v1m0 3v1m0 25v1m0 20v2m0 16v1m0 1v1m0 9v1m0 20v1m0 3v1m0 25v1m0 10v1m0 4v1m0 6v1m0 14v1m0 1v2m0 1v1m0 3v1M1086.1 11v1m0 6v1m0 4v1m0 26v1m0 16v1m0 72v1m0 7v1m0 5v1m0 9v2m0 3v1m0 7v1m0 1v1m0 9v1m0 1v2m0 5v2m0 3v1m0 13v1m0 4v1m0 1v1m0 3v2m0 5v1m0 1v1m0 11v1m0 5v1m0 4v1m0 2v1m0 10v2m0 9v2m0 2v2m0 4v1m0 2v1m0 1v1m0 9v1m0 9v1m0 13v1m0 7v1m0 9v2m0 4v2m0 4v2M1097.3 11v1m0 6v1m0 4v3m0 6v1m0 2v1m0 13v1m0 5v1m0 2v1m0 83v1m0 1v1m0 5v1m0 3v1m0 2v1m0 3v3m0 4v1m0 1v1m0 3v1m0 1v1m0 7v1m0 4v1m0 14v2m0 7v1m0 25v1m0 10v1m0 3v1m0 1v1m0 2v1m0 1v1m0 5v1m0 3v1m0 6v1m0 3v1m0 2v1m0 10v1m0 1v1m0 2v2m0 8v1m0 25v1m0 7v1m0 6v2m0 2v1M1108.6 22v1m0 9v1m0 32v1m0 75v1m0 5v1m0 6v1m0 1v2m0 2v1m0 2v1m0 4v2m0 2v1m0 1v2m0 7v1m0 6v1m0 6v3m0 18v1m0 2v1m0 12v1m0 14v1m0 14v1m0 9v1m0 3v1m0 6v2m0 2v1m0 15v1m0 11v1m0 18v1m0 5v2m0 10v1m0 5v1m0 2v2m0 1v1m0 2v1m0 2v1M1119.8 7v1m0 11v1m0 1v1m0 9v1m0 28v1m0 7v1m0 71v1m0 3v1m0 36v1m0 16v1m0 1v1m0 3v1m0 6v1m0 4v1m0 9v1m0 12v1m0 5v1m0 8v1m0 2v1m0 4v1m0 5v1m0 3v1m0 1v1m0 2v1m0 25v1m0 8v1m0 6v1m0 12v1m0 14v1m0 3v1m0 3v1m0 8v2m0 1v2m0 3v1M1131.0 26v1m0 4v1m0 1v1m0 16v1m0 4v1m0 3v1m0 95v1m0 5v1m0 5v1m0 1v1m0 2v4m0 2v1m0 6v1m0 1v1m0 3v2m0 1v3m0 3v1m0 5v1m0 4v1m0 3v1m0 2v1m0 5v1m0 4v1m0 4v1m0 1v1m0 2v3m0 4v1m0 7v1m0 16v1m0 9v1m0 10v1m0 1v2m0 23v1m0 1v1m0 20v2m0 5v1m0 3v1m0 16v1M1142.2 7v2m0 2v2m0 7v1m0 3v1m0 6v1m0 1v1m0 7v1m0 7v2m0 4v1m0 4v1m0 6v1m0 73v1m0 7v1m0 8v1m0 1v1m0 7v1m0 5v3m0 8v1m0 2v2m0 1v1m0 4v2m0 1v1m0 27v1m0 4v1m0 15v1m0 10v1m0 5v1m0 2v1m0 10v1m0 2v1m0 7v1m0 1v1m0 1v1m0 12v1m0 1v2m0 3v1m0 2v1m0 3v1m0 8v1m0 15v1m0 1v1m0 3v3m0 6v1m0 3v1m0 1v1m0 2v2M1153.5 8v1m0 8v1m0 15v1m0 7v2m0 7v1m0 125v1m0 3v1m0 8v1m0 5v1m0 6v1m0 12v1m0 2v1m0 15v1m0 12v2m0 5v1m0 33v2m0 13v1m0 8v3m0 1v1m0 12v1m0 8v1m0 13v2M1164.7 12v1m0 5v1m0 13v1m0 17v1m0 2v1m0 5v1m0 2v1m0 79v2m0 24v1m0 5v1m0 9v1m0 1v1m0 9v1m0 5v1m0 12v1m0 2v2m0 3v1m0 3v1m0 17v1m0 8v1m0 1v1m0 3v1m0 3v2m0 3v1m0 1v1m0 10v1m0 11v1m0 1v1m0 4v1m0 4v2m0 13v1m0 15v1m0 5v1m0 10v1m0 12v1M1175.9 7v2m0 2v1m0 3v1m0 17v1m0 18v1m0 9v1m0 4v1m0 71v1m0 13v1m0 1v1m0 7v1m0 12v1m0 8v1m0 5v1m0 12v1m0 16v1m0 1v1m0 3v1m0 2v1m0 3v1m0 2v1m0 1v1m0 4v1m0 2v1m0 1v1m0 1v2m0 1v1m0 1v1m0 1v1m0 1v1m0 4v2m0 1v2m0 18v1m0 1v2m0 5v2m0 2v1m0 3v1m0 6v1m0 8v3m0 1v1m0 5v1m0 3v2m0 11v1m0 4v1m0 7v1m0 1v1m0 3v1M1187.2 7v1m0 3v1m0 5v1m0 5v1m0 2v1m0 6v1m0 1v1m0 9v1m0 7v1m0 87v1m0 7v1m0 3v1m0 10v1m0 4v1m0 5v1m0 14v1m0 1v1m0 3v1m0 2v1m0 12v1m0 10v1m0 5v1m0 11v1m0 1v1m0 8v1m0 1v1m0 5v1m0 8v1m0 1v1m0 7v2m0 10v1m0 6v1m0 3v2m0 1v1m0 6v3m0 5v1m0 14v1m0 1v3m0 2v1m0 19v1m0 2v1m0 3v1M1198.4 18v1m0 2v1m0 2v1m0 9v1m0 27v1m0 4v1m0 72v3m0 7v1m0 10v1m0 29v1m0 13v1m0 7v1m0 1v1m0 2v1m0 9v1m0 2v1m0 10v1m0 1v1m0 5v3m0 17v1m0 10v1m0 1v1m0 6v3m0 42v1m0 2v2m0 11v1m0 4v1M1209.6 6v1m0 8v1m0 3v1m0 11v1m0 107v1m0 2v2m0 9v2m0 1v1m0 1v1m0 2v1m0 25v3m0 1v1m0 2v1m0 1v2m0 14v1m0 9v1m0 4v1m0 3v1m0 2v1m0 4v1m0 2v1m0 7v1m0 5v1m0 7v2m0 27v1m0 45v1M1220.9 50v1m0 90v1m0 2v2m0 5v1m0 15v1m0 2v1m0 12v1m0 12v2m0 14v1m0 5v1m0 12v1m0 21v1m0 15v1m0 12v1m0 13v2m0 39v1m0 4v1m0 5v1m0 1v1M1232.1 8v1m0 12v1m0 22v1m0 8v2m0 84v1m0 3v1m0 3v1m0 7v1m0 9v2m0 2v1m0 7v1m0 6v1m0 5v1m0 4v1m0 9v2m0 2v1m0 5v1m0 11v1m0 3v1m0 12v1m0 3v1m0 1v2m0 11v1m0 12v1m0 2v1m0 9v1m0 12v1m0 3v1m0 2v1m0 27v1m0 5v1m0 5v2m0 12v3M1243.3 7v1m0 9v1m0 13v1m0 30v1m0 80v1m0 3v1m0 1v1m0 26v1m0 9v1m0 20v1m0 8v1m0 5v1m0 13v1m0 6v1m0 2v1m0 9v1m0 3v1m0 19v1m0 32v1m0 2v1m0 3v1m0 6v1m0 12v1m0 1v1m0 8v1M1254.5 11v1m0 5v3m0 13v1m0 8v1m0 6v1m0 93v1m0 3v1m0 2v1m0 2v1m0 2v1m0 1v1m0 8v1m0 6v1m0 6v1m0 10v1m0 4v1m0 1v1m0 8v2m0 14v1m0 3v1m0 11v1m0 4v1m0 17v1m0 5v1m0 9v1m0 5v1m0 2v1m0 6v1m0 2v1m0 2v1m0 1v1m0 32v1m0 5v1m0 20v1M1265.8 6v1m0 1v1m0 15v1m0 10v1m0 5v1m0 3v1m0 6v1m0 7v1m0 6v1m0 72v1m0 11v1m0 4v1m0 4v2m0 11v1m0 15v1m0 2v1m0 17v1m0 5v1m0 3v1m0 8v1m0 11v2m0 5v1m0 12v1m0 1v1m0 2v1m0 8v1m0 2v1m0 15v1m0 3v1m0 1v1m0 17v2m0 1v1m0 5v1m0 10v1m0 4v1m0 7v1m0 1v1m0 6v1m0 1v1m0 3v1M1277.0 6v1m0 1v1m0 2v1m0 21v1m0 18v1m0 6v1m0 80v4m0 8v1m0 2v4m0 5v4m0 1v2m0 20v2m0 6v1m0 18v1m0 7v1m0 4v1m0 32v2m0 8v1m0 4v1m0 8v1m0 7v1m0 4v1m0 16v1m0 13v1m0 2v1m0 6v1m0 5v1m0 11v1m0 2v2M1288.2 10v1m0 2v1m0 4v1m0 4v2m0 23v1m0 5v2m0 3v1m0 7v1m0 89v1m0 3v1m0 3v1m0 4v1m0 1v1m0 11v2m0 1v1m0 3v2m0 1v1m0 3v1m0 28v1m0 10v4m0 4v2m0 15v1m0 1v1m0 6v1m0 4v1m0 35v1m0 9v1m0 1v1m0 2v2m0 7v1m0 5v1m0 10v1M1299.5 12v1m0 31v1m0 11v1m0 3v1m0 1v1m0 79v1m0 1v2m0 6v1m0 4v1m0 2v1m0 1v1m0 1v3m0 8v1m0 21v1m0 1v1m0 5v2m0 10v2m0 11v1m0 7v2m0 38v1m0 9v1m0 11v2m0 2v1m0 3v1m0 1v1m0 3v1m0 23v2m0 4v1m0 9v1M1310.7 17v1m0 23v1m0 7v2m0 95v1m0 4v1m0 11v1m0 4v1m0 1v1m0 5v1m0 7v1m0 33v1m0 8v1m0 8v1m0 1v1m0 21v1m0 2v1m0 3v3m0 10v1m0 3v1m0 12v2m0 7v2m0 23v1m0 4v1m0 2v1m0 3v1m0 10v1M1321.9 8v1m0 4v1m0 7v1m0 9v1m0 6v1m0 2v1m0 17v1m0 2v1m0 4v1m0 72v1m0 14v1m0 8v3m0 1v1m0 1v1m0 17v1m0 7v1m0 14v1m0 1v1m0 15v1m0 8v2m0 4v1m0 1v1m0 5v1m0 5v2m0 1v2m0 2v1m0 2v1m0 5v3m0 8v1m0 10v1m0 6v1m0 5v1m0 4v1m0 12v1m0 7v1m0 8v1m0 21v1m0 1v1M1333.1 7v1m0 10v1m0 7v1m0 1v1m0 25v1m0 85v1m0 4v1m0 3v1m0 3v1m0 16v1m0 5v1m0 17v1m0 2v1m0 1v1m0 15v1m0 2v1m0 11v1m0 10v1m0 1v1m0 5v1m0 10v1m0 8v1m0 3v1m0 4v1m0 1v1m0 3v1m0 1v1m0 10v2m0 7v1m0 14v1m0 2v2m0 1v1m0 10v1m0 6v1m0 2v1M1344.4 6v1m0 4v1m0 3v1m0 2v1m0 12v2m0 18v1m0 4v1m0 4v2m0 1v1m0 76v1m0 10v1m0 3v1m0 2v1m0 6v1m0 7v1m0 8v1m0 7v1m0 2v1m0 4v1m0 11v2m0 5v1m0 11v2m0 27v1m0 5v1m0 6v1m0 4v1m0 28v1m0 41v1m0 5v1m0 2v1M1355.6 6v1m0 6v1m0 4v1m0 4v1m0 8v1m0 19v3m0 13v1m0 71v1m0 23v1m0 3v1m0 5v1m0 8v1m0 1v1m0 3v1m0 25v1m0 28v1m0 24v1m0 4v1m0 4v1m0 3v1m0 2v1m0 7v1m0 2v2m0 4v1m0 1v1m0 2v1m0 1v1m0 16v1m0 3v1m0 5v1m0 22v1m0 6v1M1366.8 12v1m0 9v1m0 18v2m0 1v1m0 7v1m0 6v1m0 79v2m0 2v1m0 2v1m0 5v1m0 14v1m0 12v1m0 1v1m0 35v1m0 11v1m0 4v1m0 8v2m0 28v1m0 33v1m0 1v1m0 1v1m0 1v1m0 3v1m0 12v1m0 28v1m0 6v1M1378.1 6v1m0 3v1m0 12v2m0 7v2m0 13v1m0 4v1m0 108v1m0 2v2m0 2v1m0 12v1m0 2v1m0 4v1m0 2v1m0 18v1m0 27v1m0 25v1m0 2v2m0 3v1m0 2v1m0 21v1m0 2v1m0 7v1m0 5v1m0 6v2m0 3v1m0 3v1m0 5v1m0 5v1m0 22v3M1389.3 12v1m0 18v1m0 1v1m0 25v1m0 5v1m0 73v1m0 7v1m0 4v1m0 5v1m0 2v1m0 4v1m0 3v1m0 9v2m0 1v1m0 11v1m0 3v1m0 15v1m0 1v1m0 2v2m0 23v1m0 1v1m0 12v1m0 3v1m0 3v2m0 1v1m0 5v1m0 10v2m0 8v1m0 11v1m0 4v1m0 1v1m0 16v1m0 1v1m0 2v1m0 19v2M1400.5 30v1m0 2v1m0 16v1m0 9v1m0 79v1m0 5v1m0 17v3m0 1v1m0 11v1m0 1v1m0 2v1m0 3v1m0 17v1m0 18v1m0 11v1m0 10v1m0 2v1m0 1v1m0 3v1m0 7v1m0 22v1m0 4v1m0 8v1m0 5v1m0 25v1m0 1v1m0 10v3m0 2v1m0 2v2m0 3v1m0 7v1M1411.8 12v1m0 5v1m0 4v1m0 7v1m0 1v1m0 1v1m0 6v1m0 2v1m0 9v1m0 3v1m0 7v1m0 71v1m0 18v1m0 2v1m0 7v1m0 2v1m0 1v1m0 2v2m0 2v1m0 7v1m0 1v1m0 6v1m0 8v1m0 7v1m0 3v2m0 1v1m0 2v1m0 9v2m0 1v1m0 19v2m0 7v1m0 28v1m0 13v1m0 3v1m0 1v1m0 1v1m0 1v1m0 17v1m0 22v1M1423.0 8v1m0 3v1m0 5v3m0 2v2m0 10v1m0 5v1m0 3v1m0 5v2m0 9v1m0 88v1m0 9v1m0 3v1m0 22v2m0 5v1m0 9v1m0 1v1m0 1v1m0 3v1m0 3v1m0 1v1m0 6v1m0 8v2m0 3v1m0 2v1m0 2v2m0 13v1m0 1v1m0 3v1m0 5v1m0 6v1m0 5v1m0 2v1m0 8v1m0 5v1m0 7v3m0 17v1m0 9v1m0 5v3m0 1v2m0 2v2m0 7v1M1434.2 12v1m0 5v1m0 28v2m0 14v2m0 1v1m0 77v2m0 6v1m0 17v1m0 8v3m0 6v1m0 3v1m0 1v1m0 2v1m0 2v1m0 1v1m0 4v1m0 5v1m0 1v1m0 18v1m0 5v1m0 4v3m0 6v1m0 6v1m0 9v1m0 22v1m0 6v1m0 7v1m0 2v2m0 23v3m0 3v1m0 2v1m0 1v1m0 8v3M1445.4 6v1m0 5v1m0 6v1m0 3v1m0 10v1m0 6v1m0 2v1m0 3v1m0 18v1m0 72v1m0 3v2m0 12v1m0 4v2m0 11v1m0 11v1m0 3v1m0 1v1m0 12v1m0 8v1m0 5v1m0 13v1m0 3v1m0 5v1m0 7v1m0 10v2m0 14v1m0 4v1m0 3v1m0 3v2m0 5v1m0 11v2m0 4v1m0 11v1m0 9v1m0 4v1m0 2v1m0 8v3m0 3v1m0 3v1M1456.7 7v1m0 3v1m0 11v1m0 1v1m0 15v1m0 18v1m0 80v3m0 5v1m0 5v1m0 5v2m0 3v1m0 3v1m0 5v1m0 19v2m0 4v2m0 4v1m0 25v2m0 1v3m0 4v1m0 6v1m0 2v1m0 1v1m0 7v1m0 18v1m0 7v1m0 30v1m0 2v1m0 8v1m0 10v1m0 2v1m0 7v1m0 3v2m0 1v1M1467.9 8v1m0 2v1m0 7v1m0 1v1m0 1v1m0 11v1m0 11v1m0 3v2m0 6v1m0 79v1m0 6v1m0 11v1m0 4v1m0 2v1m0 1v1m0 23v1m0 1v1m0 3v1m0 13v1m0 18v1m0 7v1m0 21v1m0 4v1m0 12v1m0 1v1m0 8v1m0 3v2m0 35v1m0 2v2m0 4v1m0 24v1m0 1v1m0 1v1M1479.1 11v1m0 11v2m0 29v1m0 108v1m0 9v1m0 2v1m0 5v1m0 2v1m0 1v3m0 3v1m0 10v1m0 10v1m0 1v1m0 6v1m0 2v1m0 1v1m0 1v1m0 8v2m0 23v1m0 8v1m0 4v1m0 9v1m0 6v1m0 10v1m0 9v1m0 6v1m0 7v1m0 5v2m0 18v1m0 2v1m0 1v1m0 1v1m0 1v1M1490.4 6v1m0 5v1m0 18v1m0 13v1m0 6v1m0 94v1m0 1v1m0 1v1m0 11v1m0 16v1m0 8v1m0 2v1m0 5v1m0 5v2m0 1v1m0 25v1m0 6v1m0 8v1m0 10v1m0 8v1m0 1v1m0 1v1m0 3v1m0 16v2m0 2v1m0 8v1m0 17v1m0 7v1m0 8v1m0 18v1M1501.6 7v1m0 10v1m0 4v1m0 31v1m0 6v1m0 4v1m0 75v1m0 19v1m0 1v1m0 6v1m0 15v1m0 3v1m0 2v3m0 2v1m0 54v1m0 1v1m0 2v1m0 13v1m0 3v1m0 5v2m0 2v2m0 1v1m0 2v1m0 8v1m0 3v1m0 14v1m0 1v1m0 22v1m0 3v1m0 4v1m0 3v1m0 1v1m0 2v1M1512.8 23v1m0 4v1m0 4v1m0 8v1m0 6v1m0 18v1m0 81v1m0 12v1m0 2v1m0 23v1m0 4v1m0 11v1m0 22v1m0 1v3m0 15v1m0 1v1m0 2v1m0 3v1m0 25v2m0 1v1m0 1v1m0 5v1m0 12v1m0 25v2m0 5v1m0 11v1m0 10v1M1524.0 6v1m0 1v1m0 24v1m0 1v1m0 14v1m0 8v1m0 2v1m0 2v1m0 1v1m0 80v1m0 27v1m0 21v1m0 8v1m0 8v1m0 2v1m0 10v2m0 2v1m0 2v1m0 2v1m0 8v1m0 2v1m0 3v1m0 9v1m0 9v1m0 1v1m0 1v1m0 11v1m0 1v2m0 2v1m0 6v1m0 21v1m0 3v1m0 6v2m0 2v1m0 1v1m0 7v1m0 8v1m0 1v2m0 4v2M1535.3 7v1m0 27v1m0 8v1m0 4v1m0 100v1m0 5v1m0 1v1m0 17v1m0 6v2m0 30v1m0 2v2m0 9v1m0 2v2m0 1v1m0 1v2m0 6v1m0 8v2m0 9v1m0 13v1m0 10v2m0 2v1m0 25v1m0 10v1m0 5v1m0 10v1m0 4v1m0 6v1m0 3v1m0 4v1M1546.5 6v1m0 1v1m0 8v1m0 15v1m0 8v1m0 1v2m0 1v1m0 2v1m0 1v1m0 6v1m0 82v2m0 1v1m0 5v1m0 11v1m0 3v1m0 2v1m0 3v3m0 15v1m0 2v1m0 1v1m0 9v1m0 32v2m0 4v2m0 4v1m0 2v1m0 1v1m0 1v1m0 4v2m0 15v1m0 19v2m0 31v1m0 10v1m0 8v1m0 1v1m0 5v1m0 4v1M1557.7 31v1m0 24v1m0 6v3m0 1v1m0 74v2m0 1v1m0 22v1m0 15v1m0 33v1m0 10v1m0 3v1m0 7v1m0 2v1m0 4v1m0 10v1m0 5v1m0 11v1m0 3v1m0 6v2m0 4v1m0 11v1m0 4v1m0 7v2m0 5v1m0 1v2m0 3v2m0 6v1m0 5v1m0 7v1m0 6v2M1569.0 13v1m0 1v1m0 16v2m0 12v1m0 7v2m0 6v1m0 81v1m0 1v1m0 25v1m0 1v2m0 5v2m0 8v1m0 6v1m0 10v1m0 5v1m0 1v1m0 1v1m0 6v1m0 3v1m0 2v1m0 3v3m0 24v3m0 1v2m0 8v1m0 1v1m0 14v1m0 10v2m0 13v1m0 8v1m0 2v1m0 20v1m0 1v2m0 1v2m0 1v3M1580.2 12v1m0 4v1m0 14v1m0 3v1m0 1v1m0 3v1m0 8v1m0 7v1m0 80v1m0 3v1m0 31v1m0 13v1m0 6v1m0 20v1m0 19v4m0 1v1m0 2v1m0 7v1m0 5v1m0 1v1m0 2v1m0 2v2m0 7v1m0 21v1m0 4v1m0 18v1m0 9v1m0 2v1m0 5v1m0 1v1m0 17v2m0 3v1M1591.4 18v1m0 20v1m0 19v2m0 6v1m0 74v2m0 1v2m0 4v1m0 3v1m0 16v4m0 6v1m0 4v1m0 3v1m0 16v1m0 20v1m0 6v3m0 8v1m0 1v1m0 5v1m0 1v1m0 15v1m0 11v1m0 3v1m0 2v1m0 16v2m0 1v1m0 7v1m0 1v1m0 4v1m0 20v4m0 7v2m0 1v1m0 3v1m0 1v1m0 3v1M1602.7 6v1m0 1v1m0 5v1m0 10v1m0 15v1m0 7v1m0 5v1m0 90v1m0 8v1m0 2v1m0 2v1m0 1v1m0 2v2m0 31v1m0 12v1m0 17v1m0 4v1m0 1v1m0 15v1m0 3v1m0 5v1m0 1v1m0 3v1m0 2v1m0 10v1m0 5v3m0 40v1m0 10v1m0 2v1m0 2v3m0 4v1m0 4v1m0 2v2m0 3v1M1613.9 7v1m0 2v2m0 5v2m0 2v1m0 13v1m0 5v1m0 6v1m0 1v1m0 11v1m0 5v1m0 81v1m0 2v1m0 15v1m0 17v2m0 2v1m0 15v1m0 10v1m0 6v1m0 11v1m0 3v1m0 4v1m0 5v1m0 10v1m0 7v1m0 18v1m0 4v1m0 8v1m0 7v1m0 4v1m0 2v1m0 11v1m0 2v1m0 16v1m0 3v1m0 4v1M1625.1 12v1m0 19v1m0 5v3m0 21v1m0 4v2m0 82v1m0 3v1m0 8v1m0 9v2m0 5v1m0 3v1m0 5v1m0 7v1m0 2v1m0 11v2m0 3v1m0 1v1m0 8v1m0 12v1m0 2v1m0 11v2m0 8v2m0 8v1m0 16v1m0 1v1m0 11v2m0 18v1m0 6v2m0 10v1m0 7v2m0 7v1m0 2v1M1636.3 9v1m0 3v1m0 7v1m0 119v2m0 3v1m0 6v1m0 1v1m0 2v1m0 7v1m0 23v1m0 3v1m0 11v1m0 1v2m0 5v1m0 12v1m0 6v1m0 5v1m0 2v1m0 3v1m0 10v1m0 4v1m0 4v1m0 4v1m0 4v2m0 4v2m0 1v2m0 5v1m0 1v1m0 22v1m0 1v1m0 9v1m0 4v1m0 21v1m0 11v1M1647.6 33v1m0 3v1m0 1v1m0 13v1m0 1v1m0 1v1m0 2v1m0 6v1m0 77v1m0 28v1m0 1v1m0 8v1m0 8v2m0 2v1m0 4v1m0 5v1m0 4v1m0 1v3m0 19v1m0 5v1m0 6v1m0 4v1m0 11v1m0 12v1m0 15v1m0 9v1m0 7v2m0 14v1m0 1v1m0 8v1m0 13v1M1658.8 17v1m0 7v1m0 15v1m0 2v1m0 5v1m0 1v1m0 6v1m0 79v1m0 15v1m0 13v1m0 7v2m0 11v1m0 1v1m0 3v1m0 2v1m0 19v1m0 17v1m0 21v1m0 1v1m0 20v1m0 3v1m0 15v2m0 1v3m0 9v1m0 48v1M1670.0 12v1m0 2v1m0 17v1m0 8v1m0 7v2m0 10v1m0 4v1m0 72v1m0 25v2m0 2v1m0 11v1m0 5v2m0 2v1m0 9v1m0 1v1m0 4v1m0 25v1m0 31v1m0 5v1m0 3v1m0 5v1m0 14v1m0 1v2m0 8v1m0 1v2m0 3v2m0 8v1m0 6v1m0 2v1m0 23v1m0 5v1M1681.3 11v1m0 40v1m0 9v1m0 4v1m0 71v1m0 11v1m0 38v1m0 12v1m0 8v1m0 5v1m0 15v1m0 2v1m0 1v1m0 5v1m0 6v1m0 1v1m0 10v1m0 8v1m0 3v1m0 1v1m0 3v3m0 3v1m0 7v1m0 2v1m0 3v1m0 1v1m0 12v2m0 11v1m0 24v2m0 1v1m0 1v1m0 3v1m0 2v1M1692.5 7v2m0 33v1m0 25v1m0 112v1m0 5v1m0 2v1m0 4v1m0 6v1m0 3v1m0 2v1m0 2v1m0 7v1m0 5v1m0 7v1m0 3v1m0 2v1m0 5v1m0 8v1m0 7v1m0 6v1m0 2v2m0 8v1m0 10v1m0 1v1m0 1v1m0 1v1m0 9v1m0 2v1m0 7v1m0 1v1m0 2v1m0 3v1m0 2v1m0 8v1m0 1v1m0 5v1m0 4v2m0 3v1m0 1v2m0 2v1m0 2v2M1703.7 44v1m0 95v1m0 11v1m0 2v1m0 25v1m0 1v1m0 2v1m0 4v2m0 6v1m0 4v2m0 6v1m0 2v1m0 4v1m0 2v1m0 2v1m0 9v1m0 5v1m0 4v1m0 9v2m0 1v1m0 2v2m0 2v1m0 12v1m0 10v1m0 2v1m0 4v2m0 6v1m0 1v1m0 1v1m0 10v1m0 4v1m0 15v1m0 10v1m0 4v1m0 1v2m0 2v1m0 4v1M1714.9 7v1m0 3v1m0 5v1m0 1v1m0 12v1m0 9v1m0 6v1m0 12v1m0 91v1m0 32v1m0 8v2m0 2v1m0 2v1m0 3v1m0 1v1m0 7v1m0 12v1m0 3v1m0 9v1m0 9v1m0 1v1m0 3v2m0 5v1m0 4v1m0 3v1m0 8v2m0 9v1m0 4v1m0 4v1m0 6v3m0 19v2m0 4v1m0 2v1m0 9v1m0 3v2m0 3v3M1726.2 45v1m0 3v1m0 2v1m0 8v1m0 1v2m0 3v1m0 70v1m0 9v1m0 5v1m0 11v1m0 15v2m0 22v1m0 3v1m0 16v2m0 8v1m0 8v1m0 15v2m0 5v1m0 12v1m0 8v1m0 2v2m0 1v1m0 3v1m0 2v2m0 1v2m0 3v1m0 14v1m0 4v1m0 14v1m0 4v1m0 2v1m0 10v1M1737.4 6v2m0 9v2m0 14v1m0 7v1m0 17v1m0 7v1m0 73v1m0 3v1m0 9v1m0 11v1m0 5v1m0 4v1m0 16v2m0 7v1m0 8v1m0 5v1m0 1v2m0 13v1m0 1v2m0 6v1m0 13v1m0 8v1m0 2v2m0 10v1m0 3v1m0 7v1m0 1v1m0 3v1m0 3v2m0 6v1m0 9v1m0 5v1m0 3v1m0 1v1m0 6v2m0 3v3m0 3v1m0 6v1m0 3v1M1748.6 11v1m0 7v1m0 31v1m0 16v1m0 72v2m0 1v1m0 2v1m0 1v1m0 3v2m0 15v1m0 2v1m0 1v1m0 2v1m0 9v1m0 13v1m0 8v1m0 5v1m0 3v1m0 8v1m0 3v1m0 5v1m0 3v1m0 9v1m0 5v1m0 14v1m0 10v1m0 1v1m0 23v1m0 1v4m0 2v1m0 1v1m0 14v1m0 14v3m0 1v1m0 6v1M1759.9 7v1m0 3v1m0 23v1m0 6v1m0 17v1m0 2v1m0 86v1m0 3v1m0 13v1m0 6v1m0 14v1m0 3v2m0 13v1m0 3v2m0 3v1m0 5v1m0 17v1m0 4v1m0 9v1m0 1v1m0 11v2m0 6v1m0 3v1m0 4v1m0 2v1m0 10v1m0 3v1m0 17v1m0 4v1m0 3v1m0 9v1m0 10v1m0 1v1m0 2v1m0 1v1m0 4v1M1771.1 15v1m0 3v1m0 1v1m0 1v2m0 4v1m0 3v1m0 1v1m0 2v1m0 10v1m0 89v1m0 24v1m0 11v1m0 1v1m0 3v2m0 5v1m0 6v2m0 1v1m0 6v1m0 23v1m0 2v1m0 1v1m0 3v1m0 3v2m0 1v1m0 1v1m0 19v2m0 2v1m0 5v1m0 1v1m0 4v1m0 10v1m0 4v1m0 2v1m0 1v3m0 1v1m0 5v1m0 10v1m0 9v2m0 4v1m0 2v2m0 1v2m0 17v1M1782.3 15v1m0 19v1m0 5v1m0 1v1m0 1v1m0 3v1m0 10v1m0 4v1m0 1v1m0 93v3m0 5v1m0 15v1m0 1v1m0 6v1m0 1v1m0 1v2m0 1v1m0 4v1m0 6v1m0 4v2m0 2v1m0 6v1m0 1v1m0 8v2m0 2v2m0 1v2m0 7v1m0 22v1m0 2v1m0 3v1m0 2v1m0 12v1m0 1v1m0 7v2m0 7v1m0 15v1m0 1v1m0 4v1m0 1v1m0 5v2m0 3v1m0 6v1m0 2v1M1793.6 7v3m0 3v1m0 3v1m0 4v2m0 8v2m0 19v1m0 8v1m0 5v1m0 71v1m0 13v2m0 11v1m0 1v1m0 3v1m0 2v1m0 6v2m0 11v2m0 19v1m0 11v1m0 5v2m0 1v2m0 4v1m0 10v1m0 7v1m0 4v1m0 6v1m0 4v1m0 4v2m0 16v1m0 4v1m0 4v2m0 2v1m0 20v1m0 22v1m0 4v2M1804.8 12v1m0 13v1m0 6v1m0 7v1m0 2v1m0 8v3m0 6v1m0 4v1m0 90v1m0 2v2m0 4v1m0 15v2m0 10v1m0 16v1m0 5v1m0 2v1m0 11v1m0 1v2m0 2v1m0 1v1m0 14v1m0 7v1m0 9v1m0 1v1m0 4v1m0 15v1m0 5v1m0 17v1m0 9v1m0 5v1m0 8v1m0 2v2m0 8v1m0 1v2m0 1v2m0 2v1M1816.0 6v1m0 11v1m0 3v2m0 2v1m0 4v2m0 3v1m0 6v1m0 10v1m0 5v1m0 2v1m0 1v1m0 2v1m0 72v1m0 1v1m0 1v1m0 1v1m0 1v1m0 11v2m0 2v2m0 1v1m0 1v1m0 3v1m0 6v1m0 1v1m0 1v1m0 2v2m0 5v2m0 3v1m0 8v1m0 4v1m0 3v1m0 14v1m0 2v1m0 17v1m0 5v1m0 17v2m0 2v1m0 2v2m0 14v1m0 7v2m0 7v1m0 1v1m0 10v1m0 11v1m0 7v2m0 1v1m0 7v1m0 2v2m0 1v1M1827.2 15v1m0 22v1m0 8v2m0 4v1m0 5v1m0 95v1m0 13v1m0 5v1m0 1v1m0 3v1m0 1v2m0 3v1m0 3v1m0 22v1m0 5v1m0 7v1m0 2v2m0 10v1m0 6v1m0 1v1m0 8v1m0 9v1m0 3v2m0 7v1m0 10v1m0 5v1m0 2v1m0 1v1m0 3v1m0 6v1m0 2v1m0 12v1m0 9v1m0 1v1m0 6v1m0 2v1m0 2v2m0 4v1M1838.5 6v3m0 2v1m0 3v1m0 4v1m0 24v1m0 4v1m0 16v1m0 72v1m0 2v1m0 3v1m0 11v2m0 2v1m0 2v1m0 11v1m0 3v1m0 6v1m0 5v3m0 1v1m0 9v1m0 5v1m0 5v1m0 8v1m0 3v1m0 20v2m0 1v2m0 1v1m0 3v1m0 5v1m0 6v2m0 2v1m0 5v2m0 4v1m0 7v2m0 4v1m0 11v2m0 11v1m0 4v2m0 3v1m0 5v1m0 2v2m0 3v1m0 4v3m0 2v1m0 2v2M1849.7 17v2m0 14v1m0 7v1m0 2v1m0 4v1m0 3v2m0 10v1m0 75v2m0 10v2m0 7v2m0 2v2m0 6v1m0 10v1m0 18v2m0 1v2m0 2v1m0 1v1m0 3v1m0 15v1m0 7v1m0 12v1m0 7v1m0 7v1m0 5v1m0 9v1m0 16v1m0 1v1m0 1v1m0 4v2m0 3v1m0 3v1m0 2v1m0 17v1m0 2v2m0 5v2m0 14v1M1860.9 17v1m0 13v1m0 2v1m0 42v1m0 11v1m0 23v1m0 13v1m0 24v1m0 15v1m0 17v1m0 12v1m0 27v1m0 5v1m0 17v1m0 1v1m0 4v2m0 9v1m0 1v1m0 3v1m0 20v2m0 8v2m0 5v1m0 2v2m0 14v1m0 3v1m0 1v1m0 3v1m0 27v2M1872.2 25v2m0 15v1m0 71v1m0 24v1m0 3v1m0 3v1m0 2v1m0 12v1m0 4v1m0 33v2m0 16v2m0 17v1m0 5v1m0 12v2m0 11v1m0 1v1m0 8v1m0 22v1m0 5v1m0 9v1m0 10v1m0 14v1m0 13v1m0 4v1m0 1v1m0 3v1M1883.4 24v1m0 51v1m0 10v1m0 18v1m0 10v1m0 39v1m0 6v1m0 19v1m0 5v1m0 5v1m0 18v1m0 29v1m0 6v1m0 5v2m0 36v1m0 6v1m0 5v1m0 3v1m0 5v1m0 11v1m0 2v1m0 14v2m0 4v1m0 3v1m0 5v1m0 3v2"/>
<path stroke="#ffccbb" d="M1052.4 148v1m0 35v1m0 129v1m0 30v1M1063.6 49v1m0 8v1m0 93v1m0 31v1m0 38v1m0 25v1m0 10v1m0 18v1m0 3v1m0 31v1m0 26v1M1074.9 18v1m0 14v1m0 181v1m0 14v1m0 64v1m0 38v1M1086.1 25v1m0 158v1m0 31v1m0 24v1m0 23v1M1097.3 43v1m0 131v1m0 7v1m0 18v1m0 60v1m0 105v1M1108.6 17v1m0 124v1m0 1v1m0 77v1m0 57v1M1119.8 65v1m0 167v1m0 18v1m0 3v1m0 10v1m0 10v1m0 1v1M1131.0 23v1m0 10v1m0 118v1m0 125v1M1142.2 45v1m0 149v1m0 102v1M1153.5 192v1m0 39v1m0 17v1m0 5v1M1164.7 151v1m0 45v1m0 38v1m0 62v1M1175.9 283v1M1187.2 19v1m0 4v1m0 50v1m0 102v1m0 12v1m0 114v1m0 36v1M1198.4 158v1m0 15v2m0 13v1M1209.6 23v1m0 156v1m0 70v1m0 35v1M1220.9 31v1m0 1v1m0 112v1m0 73v1m0 46v1m0 63v1M1232.1 13v1m0 31v1m0 94v1m0 32v1m0 63v1m0 29v1m0 29v1m0 26v1M1243.3 11v2m0 186v1m0 52v1m0 88v1m0 17v1M1254.5 142v1m0 6v1m0 212v1M1265.8 28v1m0 266v1m0 45v1m0 5v1M1277.0 39v1m0 22v1m0 169v1m0 42v1M1288.2 312v1m0 1v1m0 23v1M1299.5 252v1m0 95v1m0 11v1M1310.7 12v1m0 161v1m0 59v1m0 21v1M1321.9 242v1m0 4v1m0 62v1m0 6v1m0 16v1m0 28v1M1333.1 55v1m0 118v1m0 12v1m0 46v1m0 1v1m0 20v1m0 16v1m0 29v1M1344.4 146v1m0 3v1m0 6v1m0 7v1m0 2v1m0 6v1m0 2v1m0 7v1m0 28v1m0 33v1m0 26v1m0 72v1M1355.6 15v1m0 222v1m0 74v1M1366.8 269v1m0 46v1m0 10v1m0 31v1M1378.1 9v1m0 31v1m0 98v1m0 130v1m0 6v1M1389.3 24v1m0 38v2m0 104v1m0 19v1m0 17v1M1400.5 23v1m0 149v1m0 4v1m0 92v1M1411.8 173v1m0 49v1m0 15v1m0 5v1m0 9v1m0 5v1M1423.0 21v1m0 33v1m0 111v1m0 48v1m0 32v1m0 38v1m0 1v1m0 3v1M1434.2 232v1m0 15v1m0 53v1m0 4v1m0 41v1M1445.4 247v1m0 2v1m0 31v1m0 25v1m0 12v1M1456.7 50v1m0 162v1m0 46v1M1467.9 20v1m0 27v1m0 95v1m0 3v1m0 16v1m0 80v1m0 97v1M1479.1 49v1m0 112v1M1490.4 30v1m0 4v1m0 149v1m0 7v1m0 117v1m0 44v1M1501.6 6v1m0 268v1m0 44v1m0 17v1M1512.8 194v1m0 66v1m0 9v1m0 19v1m0 3v1M1524.0 150v1m0 69v1m0 7v1m0 29v2m0 85v1m0 2v1m0 16v1M1535.3 14v1m0 307v1M1546.5 67v2m0 133v1m0 128v1m0 33v1M1557.7 166v1m0 113v1m0 17v1m0 34v1m0 31v1M1569.0 6v1m0 156v1m0 90v1m0 2v1m0 2v1m0 36v1m0 5v1M1580.2 34v1m0 22v1m0 117v1m0 18v1m0 165v1m0 3v1M1591.4 31v1m0 5v1m0 103v1m0 24v1m0 91v1m0 8v1m0 90v1M1602.7 202v1M1613.9 140v1m0 15v1m0 86v1m0 3v1M1625.1 168v1m0 95v1m0 29v1M1636.3 192v1M1647.6 13v2m0 17v1m0 122v1m0 19v1m0 24v1m0 3v1m0 112v1m0 2v1m0 23v1M1658.8 31v1m0 30v1m0 132v1m0 24v1m0 15v1m0 75v1m0 30v1M1670.0 31v1m0 209v1m0 14v1m0 7v1M1681.3 241v1m0 64v1m0 24v1M1692.5 188v1m0 8v1m0 46v1m0 41v1M1703.7 18v1m0 40v1m0 151v1m0 7v1M1714.9 67v1m0 72v1m0 85v1m0 52v1m0 14v2m0 1v1M1726.2 246v1m0 3v1m0 76v1M1737.4 168v1m0 28v1m0 7v1m0 18v1m0 9v1M1748.6 167v1m0 23v1m0 13v1m0 17v1m0 5v1m0 138v1M1759.9 64v1m0 101v1m0 25v1m0 167v1m0 2v1m0 3v1M1771.1 62v1m0 154v1m0 71v1m0 25v1m0 17v1M1782.3 38v1m0 8v1m0 102v1m0 1v1m0 25v1m0 29v1M1793.6 6v1m0 11v1m0 31v1m0 202v1m0 51v1m0 10v1m0 3v1M1804.8 49v1m0 93v1m0 1v1m0 30v1m0 72v1m0 89v1M1816.0 55v1m0 86v1m0 51v1m0 40v1m0 69v1m0 53v1M1827.2 204v1m0 74v1m0 2v1m0 3v1m0 80v1M1838.5 34v1m0 30v1m0 126v1m0 102v1M1849.7 357v1m0 1v1M1860.9 320v1m0 18v1M1872.2 17v1m0 122v1m0 57v1m0 67v1m0 2v1m0 83v1M1883.4 36v1m0 6v1m0 3v1m0 2v1m0 2v1m0 60v1"/>
<path stroke="#ffcccc" d="M1052.4 6v1m0 1v1m0 9v1m0 12v1m0 1v1m0 1v1m0 6v1m0 4v1m0 1v1m0 2v1m0 3v1m0 11v1m0 70v1m0 1v1m0 2v2m0 10v1m0 1v1m0 2v2m0 1v3m0 1v1m0 1v1m0 2v1m0 1v2m0 1v1m0 2v1m0 1v1m0 3v2m0 5v3m0 8v2m0 6v2m0 1v1m0 2v3m0 4v1m0 1v1m0 2v1m0 16v1m0 11v1m0 4v1m0 9v1m0 12v3m0 5v1m0 6v1m0 1v1m0 4v1m0 1v1m0 2v1m0 6v1m0 1v2m0 1v1m0 1v1m0 5v2m0 5v1m0 3v1m0 1v1m0 7v1m0 2v1m0 3v2M1063.6 8v1m0 4v2m0 2v2m0 8v1m0 1v1m0 32v1m0 85v1m0 7v1m0 1v1m0 6v1m0 7v1m0 3v2m0 4v1m0 2v1m0 1v1m0 5v1m0 3v1m0 1v1m0 2v1m0 11v1m0 1v1m0 1v2m0 9v1m0 9v2m0 21v3m0 1v1m0 18v1m0 2v1m0 2v1m0 9v1m0 7v1m0 16v1m0 2v1m0 3v1m0 2v1m0 18v1M1074.9 8v1m0 3v1m0 38v1m0 88v1m0 3v1m0 4v1m0 5v1m0 5v2m0 3v1m0 9v1m0 3v2m0 1v1m0 2v2m0 9v1m0 4v1m0 6v1m0 2v1m0 18v2m0 8v1m0 13v1m0 7v1m0 3v1m0 4v2m0 2v2m0 1v1m0 2v1m0 13v2m0 24v1m0 4v1m0 5v1m0 1v1m0 6v1m0 1v1m0 14v1m0 2v1m0 3v1m0 1v1m0 2v1M1086.1 7v1m0 7v1m0 3v1m0 2v1m0 1v1m0 1v1m0 6v1m0 14v2m0 2v1m0 9v1m0 93v3m0 3v1m0 18v1m0 1v1m0 4v1m0 5v1m0 2v1m0 4v1m0 3v2m0 5v1m0 1v1m0 2v1m0 11v2m0 2v1m0 5v1m0 5v2m0 10v2m0 1v2m0 5v2m0 2v2m0 4v1m0 3v1m0 11v1m0 2v1m0 13v1m0 5v1m0 26v2m0 2v1m0 8v1m0 5v1m0 2v3m0 1v1M1097.3 12v1m0 6v1m0 6v1m0 11v1m0 8v2m0 4v1m0 2v1m0 10v1m0 77v2m0 9v1m0 2v1m0 13v1m0 14v1m0 2v2m0 6v1m0 14v2m0 1v3m0 4v1m0 4v2m0 13v1m0 2v1m0 3v2m0 4v1m0 4v1m0 5v2m0 5v1m0 3v1m0 20v1m0 3v1m0 13v1m0 3v1m0 8v1m0 4v1m0 5v1m0 3v1m0 2v3m0 5v1m0 13v1M1108.6 19v1m0 6v1m0 2v1m0 3v2m0 9v1m0 2v1m0 1v1m0 1v1m0 7v1m0 4v1m0 80v1m0 3v1m0 26v1m0 11v1m0 2v1m0 1v1m0 7v1m0 2v2m0 6v1m0 4v1m0 5v1m0 2v1m0 1v1m0 21v1m0 4v1m0 1v3m0 2v1m0 2v1m0 2v2m0 2v2m0 3v1m0 1v1m0 2v1m0 5v1m0 1v2m0 3v1m0 2v1m0 1v1m0 1v1m0 3v1m0 1v1m0 4v1m0 2v1m0 4v2m0 6v1m0 1v1m0 2v2m0 16v2m0 5v1m0 8v1m0 1v1M1119.8 11v1m0 4v1m0 6v1m0 11v1m0 21v1m0 3v1m0 90v3m0 27v1m0 9v2m0 7v1m0 1v1m0 1v1m0 13v2m0 1v2m0 5v1m0 23v1m0 15v1m0 5v1m0 23v1m0 5v1m0 1v1m0 6v1m0 5v2m0 8v1m0 5v1m0 5v1m0 1v1m0 21v1M1131.0 15v1m0 8v1m0 3v2m0 2v1m0 8v1m0 7v1m0 1v1m0 1v2m0 1v1m0 3v1m0 3v1m0 2v1m0 86v1m0 11v1m0 9v1m0 21v1m0 14v1m0 3v1m0 1v2m0 5v2m0 4v1m0 10v1m0 3v3m0 5v1m0 1v2m0 2v1m0 2v1m0 9v2m0 11v1m0 32v1m0 16v1m0 1v1m0 24v2m0 2v1M1142.2 6v1m0 7v1m0 1v1m0 15v1m0 2v1m0 12v1m0 4v2m0 1v1m0 4v1m0 1v1m0 1v2m0 1v1m0 71v1m0 3v1m0 7v1m0 4v1m0 11v1m0 3v1m0 26v1m0 6v1m0 4v2m0 28v1m0 1v1m0 9v1m0 2v1m0 2v1m0 22v1m0 7v1m0 1v1m0 1v1m0 8v1m0 1v1m0 9v1m0 1v1m0 1v1m0 8v1m0 7v1m0 7v1m0 3v3m0 10v2m0 2v1M1153.5 15v1m0 2v1m0 4v3m0 5v1m0 3v1m0 8v2m0 6v1m0 1v2m0 6v1m0 4v1m0 87v1m0 18v1m0 3v1m0 6v1m0 1v2m0 31v1m0 1v1m0 16v1m0 2v2m0 2v1m0 19v1m0 7v2m0 2v1m0 3v1m0 7v2m0 6v1m0 3v1m0 2v5m0 13v1m0 9v1m0 1v1m0 6v1m0 4v1m0 12v1m0 1v1m0 7v2M1164.7 7v1m0 11v1m0 2v2m0 11v1m0 6v1m0 1v1m0 10v1m0 88v1m0 18v1m0 5v1m0 3v1m0 1v2m0 14v2m0 1v2m0 4v1m0 5v1m0 7v1m0 7v1m0 20v1m0 5v1m0 7v3m0 8v1m0 5v3m0 6v1m0 11v1m0 13v1m0 3v2m0 4v2m0 11v1m0 3v1m0 5v1m0 7v1m0 1v2m0 5v3m0 6v1M1175.9 6v1m0 3v1m0 2v1m0 3v2m0 4v3m0 5v2m0 2v1m0 5v1m0 14v1m0 8v1m0 74v1m0 2v1m0 6v1m0 1v1m0 1v1m0 3v1m0 9v1m0 36v2m0 9v1m0 2v1m0 18v1m0 3v1m0 10v1m0 3v1m0 18v1m0 2v1m0 9v1m0 5v1m0 7v1m0 5v1m0 3v1m0 35v1m0 12v1m0 2v1M1187.2 6v1m0 1v1m0 4v2m0 7v1m0 2v1m0 2v1m0 2v2m0 8v1m0 5v2m0 95v1m0 6v1m0 3v1m0 1v1m0 19v1m0 6v1m0 2v1m0 7v1m0 4v1m0 12v1m0 1v1m0 6v1m0 7v2m0 10v1m0 10v1m0 1v1m0 9v1m0 10v1m0 5v1m0 9v1m0 3v1m0 4v1m0 7v1m0 5v1m0 32v1m0 5v1m0 4v2m0 9v2M1198.4 12v1m0 6v2m0 1v1m0 9v1m0 27v2m0 2v2m0 2v1m0 75v1m0 12v1m0 4v1m0 1v1m0 3v1m0 4v1m0 4v1m0 6v1m0 16v1m0 1v1m0 2v1m0 3v1m0 2v1m0 2v1m0 4v1m0 30v1m0 1v1m0 2v1m0 34v2m0 29v1m0 7v1m0 1v1m0 13v1m0 5v1m0 2v4m0 5v1m0 3v2M1209.6 14v1m0 17v1m0 22v1m0 1v1m0 9v1m0 73v1m0 2v1m0 3v1m0 1v1m0 6v1m0 5v1m0 4v2m0 2v1m0 1v1m0 3v1m0 16v1m0 2v1m0 5v1m0 4v1m0 5v1m0 2v1m0 1v1m0 2v1m0 5v1m0 14v1m0 8v1m0 77v1m0 1v5m0 4v2m0 5v3m0 4v1m0 6v1m0 6v1M1220.9 7v1m0 4v1m0 9v1m0 3v1m0 5v1m0 19v1m0 1v1m0 13v1m0 71v1m0 1v2m0 9v3m0 12v1m0 5v1m0 11v1m0 8v1m0 2v1m0 17v1m0 2v1m0 1v2m0 19v2m0 3v1m0 22v1m0 12v1m0 6v2m0 3v1m0 38v1m0 1v1m0 7v1m0 4v1m0 15v1M1232.1 9v1m0 5v1m0 14v1m0 5v1m0 4v1m0 5v1m0 2v1m0 11v1m0 82v1m0 8v1m0 3v1m0 2v2m0 1v1m0 7v1m0 14v1m0 1v1m0 4v1m0 13v1m0 2v1m0 5v4m0 1v1m0 19v1m0 22v1m0 16v1m0 16v2m0 9v1m0 1v1m0 4v1m0 2v3m0 9v1m0 3v1m0 1v2m0 2v1m0 2v3m0 7v1m0 4v2m0 4v1M1243.3 18v1m0 13v2m0 1v1m0 5v2m0 1v1m0 15v1m0 6v1m0 35v1m0 40v3m0 6v1m0 14v1m0 1v1m0 4v1m0 19v3m0 11v1m0 9v2m0 2v1m0 4v1m0 3v1m0 2v1m0 1v1m0 6v1m0 2v1m0 13v1m0 6v2m0 1v1m0 17v1m0 13v1m0 1v1m0 6v1m0 11v1m0 4v1m0 3v1m0 1v1m0 8v3m0 1v1m0 6v1m0 8v1m0 3v1M1254.5 23v1m0 8v1m0 10v1m0 9v1m0 5v1m0 80v1m0 11v1m0 4v1m0 3v2m0 17v1m0 1v1m0 4v2m0 9v1m0 6v1m0 5v1m0 1v1m0 2v1m0 1v1m0 1v1m0 18v1m0 3v1m0 2v1m0 9v1m0 3v1m0 7v1m0 7v1m0 12v2m0 3v1m0 7v1m0 9v1m0 8v1m0 2v1m0 2v1m0 4v1m0 2v1m0 18v1m0 1v1M1265.8 13v1m0 1v1m0 9v2m0 5v1m0 17v1m0 10v1m0 1v1m0 4v1m0 74v1m0 17v1m0 2v3m0 10v2m0 1v3m0 4v1m0 4v1m0 3v3m0 6v1m0 1v1m0 5v1m0 3v1m0 16v1m0 3v2m0 16v1m0 5v1m0 7v1m0 5v1m0 1v2m0 8v1m0 2v1m0 5v1m0 30v1M1277.0 17v2m0 6v2m0 3v1m0 1v1m0 1v1m0 2v1m0 2v1m0 2v3m0 3v2m0 2v3m0 12v1m0 85v1m0 4v1m0 16v1m0 12v1m0 7v1m0 15v1m0 5v3m0 3v1m0 3v1m0 5v1m0 24v1m0 2v1m0 3v1m0 23v1m0 2v2m0 6v1m0 1v1m0 5v1m0 8v1m0 20v2m0 2v2m0 3v1m0 12v1m0 2v1m0 1v1M1288.2 51v1m0 8v1m0 1v1m0 77v1m0 23v1m0 1v1m0 1v1m0 44v1m0 14v3m0 12v2m0 3v1m0 1v1m0 6v1m0 2v1m0 7v2m0 35v1m0 2v1m0 2v1m0 3v4m0 2v2m0 3v1m0 9v1m0 2v1m0 4v1m0 11v1m0 4v1m0 5v1M1299.5 7v2m0 6v1m0 1v2m0 4v1m0 9v1m0 24v1m0 5v1m0 75v1m0 2v1m0 15v1m0 3v1m0 4v1m0 9v1m0 3v1m0 5v1m0 2v1m0 6v1m0 17v1m0 4v1m0 4v1m0 4v1m0 9v1m0 1v1m0 2v3m0 8v1m0 3v1m0 3v1m0 36v1m0 12v1m0 2v1m0 5v1m0 2v1m0 6v1m0 7v1m0 6v1m0 12v1m0 2v1m0 6v1M1310.7 26v1m0 11v1m0 6v1m0 2v1m0 3v1m0 6v1m0 2v1m0 81v2m0 1v1m0 7v1m0 5v1m0 3v1m0 7v1m0 1v1m0 2v1m0 6v1m0 3v1m0 6v2m0 1v1m0 29v1m0 2v1m0 2v1m0 1v1m0 1v1m0 12v1m0 6v1m0 1v1m0 3v1m0 5v1m0 6v1m0 6v1m0 2v1m0 6v1m0 8v1m0 4v1m0 11v1m0 6v2m0 5v1m0 28v1m0 3v1M1321.9 16v1m0 3v1m0 12v1m0 5v1m0 4v1m0 6v1m0 3v1m0 4v1m0 7v1m0 75v2m0 10v1m0 3v1m0 13v3m0 5v1m0 2v1m0 1v1m0 4v1m0 1v2m0 2v1m0 1v1m0 5v1m0 11v1m0 8v1m0 4v1m0 2v1m0 12v1m0 8v1m0 11v1m0 25v1m0 1v2m0 8v1m0 8v1m0 8v1m0 4v1m0 2v1m0 6v2m0 6v1m0 5v1M1333.1 6v1m0 1v1m0 4v1m0 7v2m0 10v1m0 5v1m0 5v1m0 6v1m0 8v1m0 1v1m0 3v1m0 84v1m0 5v1m0 2v3m0 9v1m0 1v1m0 19v1m0 2v1m0 1v1m0 3v1m0 6v1m0 28v1m0 3v1m0 2v1m0 11v1m0 1v1m0 1v1m0 4v1m0 1v1m0 4v1m0 12v1m0 6v1m0 7v1m0 16v1m0 5v1m0 1v4m0 1v4m0 5v2m0 5v1m0 2v1m0 6v1m0 7v1M1344.4 14v1m0 19v1m0 12v1m0 10v1m0 68v1m0 16v2m0 14v2m0 2v1m0 7v2m0 3v1m0 20v1m0 5v1m0 2v1m0 33v1m0 28v1m0 14v1m0 10v1m0 6v1m0 3v1m0 13v2m0 1v1m0 2v1m0 3v1m0 2v1m0 7v1m0 1v1m0 8v1M1355.6 9v1m0 12v1m0 7v1m0 11v1m0 12v1m0 2v1m0 2v1m0 1v2m0 80v1m0 5v1m0 17v1m0 3v1m0 14v1m0 19v1m0 3v1m0 5v2m0 5v1m0 1v1m0 7v2m0 2v1m0 10v1m0 5v1m0 6v2m0 3v1m0 2v1m0 5v1m0 3v1m0 9v1m0 4v1m0 15v1m0 1v1m0 1v2m0 4v1m0 3v1m0 7v1m0 7v1m0 10v1m0 12v1m0 1v1m0 3v1M1366.8 17v1m0 10v2m0 2v1m0 1v1m0 8v1m0 112v2m0 2v1m0 9v1m0 2v1m0 7v1m0 26v1m0 2v1m0 3v1m0 1v1m0 8v1m0 4v1m0 6v1m0 1v3m0 13v1m0 3v1m0 1v1m0 3v1m0 1v1m0 2v1m0 10v1m0 5v2m0 4v1m0 20v1m0 3v1m0 2v1m0 13v1m0 6v1m0 10v1m0 1v1m0 1v1m0 6v2m0 1v1M1378.1 16v1m0 3v2m0 17v2m0 2v1m0 7v1m0 1v2m0 4v1m0 7v1m0 35v1m0 42v1m0 5v1m0 5v1m0 10v2m0 1v1m0 5v1m0 1v1m0 7v1m0 11v1m0 5v1m0 6v1m0 1v1m0 11v1m0 13v1m0 3v2m0 3v1m0 12v1m0 19v1m0 1v1m0 10v2m0 4v2m0 4v1m0 1v1m0 9v1m0 5v1m0 1v1m0 4v2m0 1v1m0 8v1m0 2v1m0 5v1m0 1v1m0 5v1m0 9v1M1389.3 11v1m0 5v1m0 1v1m0 3v1m0 1v2m0 5v1m0 2v1m0 11v1m0 4v1m0 1v2m0 5v1m0 6v1m0 72v1m0 4v1m0 26v1m0 11v1m0 8v1m0 1v3m0 23v1m0 3v1m0 3v1m0 4v1m0 1v1m0 14v1m0 5v2m0 3v1m0 18v2m0 2v1m0 5v1m0 4v1m0 3v2m0 5v1m0 7v1m0 2v1m0 11v2m0 2v1m0 2v1m0 6v1m0 12v1M1400.5 7v1m0 4v1m0 5v1m0 3v1m0 3v1m0 1v1m0 3v1m0 2v2m0 6v1m0 9v1m0 11v1m0 1v1m0 77v1m0 23v1m0 26v1m0 5v1m0 6v1m0 3v1m0 3v1m0 1v2m0 1v2m0 12v2m0 1v1m0 3v1m0 2v2m0 5v1m0 5v1m0 1v1m0 18v1m0 2v1m0 7v1m0 7v1m0 1v2m0 7v1m0 6v1m0 3v1m0 9v1m0 2v1m0 1v1m0 1v1m0 3v1m0 3v2m0 3v2m0 7v1M1411.8 7v1m0 3v1m0 3v1m0 3v1m0 12v1m0 14v1m0 4v1m0 1v1m0 1v1m0 6v1m0 78v1m0 4v1m0 31v2m0 1v1m0 5v1m0 5v2m0 5v1m0 4v1m0 2v1m0 1v1m0 4v1m0 4v1m0 7v3m0 5v1m0 2v2m0 7v1m0 2v1m0 29v1m0 1v3m0 7v2m0 2v1m0 2v1m0 6v1m0 6v1m0 3v1m0 14v1m0 1v2m0 1v1m0 2v1m0 1v3m0 1v3m0 6v1m0 2v1m0 1v1m0 2v1m0 1v1M1423.0 6v1m0 15v1m0 2v1m0 21v1m0 5v2m0 5v2m0 5v2m0 71v1m0 7v1m0 3v1m0 9v1m0 1v1m0 3v1m0 23v1m0 1v1m0 5v1m0 5v1m0 1v1m0 2v1m0 16v2m0 1v1m0 2v1m0 2v1m0 3v1m0 2v1m0 3v1m0 2v1m0 3v1m0 6v1m0 6v1m0 2v1m0 4v2m0 29v1m0 1v1m0 4v3m0 7v1m0 5v1m0 2v3m0 14v1m0 11v2m0 4v1M1434.2 15v1m0 3v1m0 1v1m0 9v1m0 3v1m0 5v1m0 3v1m0 7v2m0 2v1m0 1v1m0 80v1m0 22v1m0 1v2m0 7v1m0 23v1m0 2v1m0 2v1m0 3v1m0 2v1m0 4v3m0 9v1m0 13v1m0 9v1m0 13v1m0 14v1m0 1v1m0 7v1m0 3v2m0 2v2m0 3v1m0 3v1m0 1v1m0 4v5m0 2v1m0 1v1m0 2v1m0 3v1m0 4v1m0 5v1m0 2v1m0 1v1m0 2v2m0 9v1m0 1v2m0 5v2M1445.4 22v1m0 1v1m0 3v1m0 25v1m0 2v1m0 4v1m0 5v1m0 81v1m0 14v2m0 3v1m0 4v1m0 9v1m0 18v3m0 7v1m0 3v1m0 4v1m0 5v1m0 2v2m0 1v1m0 3v1m0 11v1m0 6v3m0 12v1m0 14v1m0 2v1m0 4v1m0 14v1m0 3v1m0 4v1m0 1v1m0 2v1m0 7v1m0 1v1m0 4v1m0 3v1m0 2v1M1456.7 8v1m0 13v1m0 5v2m0 14v1m0 7v1m0 1v1m0 4v1m0 1v1m0 5v1m0 72v1m0 3v1m0 1v1m0 3v1m0 1v3m0 3v1m0 15v2m0 13v1m0 8v2m0 5v2m0 4v1m0 15v1m0 1v1m0 1v1m0 20v1m0 12v1m0 2v2m0 2v2m0 3v1m0 14v1m0 33v1m0 6v1m0 2v2m0 5v1m0 2v2m0 1v2m0 6v2m0 3v1m0 4v2M1467.9 15v1m0 1v1m0 16v1m0 25v2m0 3v1m0 1v2m0 72v1m0 3v1m0 7v2m0 6v1m0 2v1m0 7v1m0 4v2m0 21v1m0 6v1m0 1v1m0 5v1m0 2v1m0 3v1m0 4v2m0 15v1m0 2v1m0 2v1m0 1v1m0 1v1m0 1v1m0 15v1m0 3v2m0 11v1m0 1v2m0 20v1m0 7v1m0 1v2m0 16v1m0 19v1m0 1v2M1479.1 22v1m0 6v1m0 5v1m0 6v1m0 2v1m0 16v2m0 3v1m0 72v1m0 3v1m0 13v1m0 2v1m0 4v1m0 2v1m0 11v1m0 37v1m0 8v1m0 1v1m0 3v2m0 10v1m0 3v1m0 19v1m0 11v1m0 7v1m0 1v1m0 4v1m0 3v2m0 3v1m0 2v1m0 3v1m0 2v1m0 5v1m0 2v1m0 2v1m0 5v1m0 9v2m0 11v1m0 1v2m0 5v1m0 1v1M1490.4 7v1m0 9v1m0 1v1m0 3v1m0 1v1m0 10v1m0 4v1m0 8v1m0 3v1m0 84v1m0 2v2m0 1v2m0 18v2m0 33v1m0 5v1m0 1v1m0 2v1m0 6v1m0 8v1m0 11v1m0 15v1m0 2v1m0 2v1m0 14v1m0 4v1m0 10v1m0 3v1m0 8v1m0 7v1m0 1v4m0 17v2m0 10v1m0 15v2m0 1v1m0 2v2M1501.6 8v1m0 4v1m0 5v1m0 2v1m0 2v1m0 5v1m0 4v1m0 1v1m0 1v1m0 3v1m0 5v1m0 2v1m0 6v1m0 4v1m0 74v1m0 3v2m0 6v1m0 3v1m0 4v1m0 2v1m0 12v2m0 4v1m0 2v1m0 11v1m0 19v1m0 5v1m0 2v1m0 1v1m0 20v1m0 10v1m0 1v2m0 5v1m0 5v2m0 1v1m0 7v1m0 2v1m0 1v1m0 5v1m0 2v2m0 2v1m0 4v1m0 1v1m0 3v2m0 15v2m0 4v1m0 2v1m0 1v1m0 23v1m0 1v2M1512.8 6v1m0 2v1m0 3v1m0 1v1m0 3v1m0 4v1m0 5v1m0 1v1m0 15v1m0 1v1m0 14v1m0 75v1m0 1v1m0 1v1m0 16v1m0 2v1m0 4v1m0 5v1m0 3v3m0 2v1m0 5v1m0 23v1m0 1v2m0 7v1m0 2v1m0 10v1m0 10v1m0 1v1m0 19v1m0 4v1m0 20v1m0 1v2m0 5v1m0 1v1m0 1v1m0 4v1m0 4v1m0 11v1m0 2v1m0 6v1m0 18v1m0 5v1M1524.0 17v2m0 4v4m0 4v1m0 4v1m0 4v1m0 2v1m0 6v1m0 1v5m0 10v1m0 83v1m0 8v2m0 2v2m0 18v1m0 2v2m0 4v1m0 1v1m0 3v1m0 4v2m0 10v1m0 3v1m0 19v1m0 6v1m0 4v1m0 1v1m0 7v1m0 7v1m0 1v1m0 17v1m0 5v1m0 3v1m0 1v1m0 17v2m0 7v1m0 15v2m0 11v2m0 1v1m0 4v1M1535.3 6v1m0 1v1m0 3v2m0 1v1m0 3v1m0 3v2m0 1v1m0 4v1m0 10v1m0 5v1m0 1v1m0 1v1m0 104v1m0 10v3m0 9v2m0 6v2m0 3v1m0 1v1m0 4v1m0 7v1m0 11v1m0 5v1m0 12v3m0 1v1m0 13v3m0 10v1m0 6v1m0 8v1m0 1v2m0 2v1m0 3v1m0 6v1m0 32v1m0 1v1m0 4v1m0 1v1m0 1v1m0 1v1m0 2v1m0 5v2m0 5v1m0 1v1M1546.5 15v1m0 2v1m0 5v3m0 3v1m0 1v1m0 8v1m0 7v1m0 1v1m0 10v1m0 77v1m0 3v1m0 3v1m0 7v3m0 5v1m0 3v1m0 18v1m0 8v1m0 3v1m0 4v2m0 2v1m0 4v1m0 28v1m0 4v1m0 4v1m0 20v1m0 12v1m0 4v2m0 2v2m0 2v1m0 4v2m0 5v1m0 17v1m0 2v1m0 3v3m0 6v3m0 3v2m0 4v4m0 2v1M1557.7 7v2m0 7v1m0 3v1m0 3v1m0 8v2m0 9v1m0 5v1m0 17v1m0 72v1m0 2v1m0 7v1m0 12v1m0 3v1m0 4v1m0 3v1m0 2v1m0 5v1m0 4v1m0 1v1m0 3v1m0 1v1m0 8v1m0 11v1m0 3v1m0 2v1m0 7v1m0 6v1m0 10v1m0 4v1m0 4v2m0 5v1m0 1v1m0 9v1m0 3v1m0 3v2m0 12v1m0 2v1m0 19v1m0 8v1m0 19v1m0 4v1m0 5v1M1569.0 9v2m0 6v2m0 4v3m0 12v2m0 27v1m0 71v1m0 1v1m0 3v1m0 10v1m0 1v1m0 7v1m0 2v1m0 7v1m0 23v1m0 6v1m0 5v1m0 5v1m0 20v1m0 2v1m0 1v2m0 10v2m0 11v1m0 16v1m0 1v1m0 3v1m0 6v1m0 3v1m0 17v1m0 12v1m0 2v1m0 2v1m0 2v3m0 4v2m0 4v1m0 2v1m0 8v2M1580.2 7v2m0 21v1m0 23v1m0 1v1m0 96v2m0 1v3m0 7v1m0 7v1m0 12v2m0 2v2m0 2v1m0 2v1m0 8v2m0 6v1m0 1v1m0 11v1m0 3v1m0 3v1m0 6v1m0 5v1m0 6v3m0 1v1m0 11v1m0 4v1m0 3v1m0 15v1m0 10v1m0 46v1m0 2v1m0 5v1m0 2v1M1591.4 7v2m0 2v1m0 3v1m0 7v2m0 8v2m0 5v1m0 20v1m0 82v1m0 20v1m0 3v1m0 8v1m0 1v1m0 4v1m0 13v1m0 13v1m0 12v1m0 1v1m0 5v2m0 3v1m0 3v1m0 8v1m0 8v1m0 24v1m0 3v1m0 2v1m0 1v1m0 34v1m0 4v1m0 6v1m0 3v1m0 9v1M1602.7 10v1m0 2v1m0 2v1m0 3v1m0 26v2m0 8v1m0 2v1m0 1v1m0 77v1m0 3v2m0 6v1m0 4v1m0 4v1m0 1v2m0 4v1m0 11v1m0 5v1m0 9v1m0 1v1m0 6v1m0 7v1m0 13v1m0 10v2m0 5v1m0 14v1m0 4v2m0 4v1m0 3v1m0 14v1m0 1v1m0 35v2m0 6v1m0 8v1m0 9v1m0 1v2M1613.9 6v1m0 1v1m0 4v1m0 1v1m0 4v1m0 10v1m0 4v1m0 18v1m0 4v1m0 6v1m0 80v1m0 9v1m0 2v2m0 9v1m0 5v1m0 13v1m0 1v1m0 3v1m0 1v2m0 6v1m0 4v1m0 3v1m0 2v2m0 13v1m0 2v1m0 1v1m0 3v1m0 8v1m0 1v1m0 5v2m0 4v1m0 9v1m0 5v1m0 7v1m0 39v1m0 2v1m0 7v1m0 1v1m0 3v1m0 8v1m0 4v4m0 1v1m0 3v1M1625.1 8v1m0 5v1m0 6v3m0 5v1m0 4v1m0 12v1m0 10v1m0 2v1m0 79v1m0 30v1m0 5v2m0 20v1m0 2v2m0 3v2m0 19v1m0 8v2m0 4v1m0 6v3m0 1v1m0 1v1m0 3v1m0 3v1m0 7v2m0 2v1m0 12v2m0 12v1m0 6v1m0 10v1m0 9v1m0 1v2m0 6v1m0 1v2m0 1v1m0 2v1m0 10v1m0 4v1M1636.3 6v1m0 3v1m0 3v2m0 4v1m0 2v1m0 124v1m0 3v1m0 4v1m0 3v2m0 2v1m0 3v1m0 18v1m0 9v1m0 1v1m0 12v1m0 5v2m0 25v2m0 4v1m0 1v1m0 2v2m0 2v1m0 13v2m0 13v1m0 28v1m0 16v1m0 7v1m0 6v1m0 4v1m0 1v1m0 7v1m0 1v1M1647.6 6v1m0 12v1m0 1v1m0 1v4m0 13v1m0 6v2m0 12v1m0 3v1m0 87v2m0 6v1m0 6v1m0 36v2m0 4v1m0 7v3m0 7v1m0 2v2m0 2v1m0 2v1m0 23v1m0 8v2m0 3v1m0 1v1m0 20v1m0 10v1m0 10v1m0 3v1m0 2v2m0 17v1m0 3v1m0 4v1M1658.8 7v1m0 4v1m0 2v1m0 2v1m0 2v1m0 1v1m0 2v1m0 15v1m0 12v1m0 11v2m0 71v1m0 12v2m0 1v1m0 5v1m0 1v1m0 17v1m0 8v1m0 2v1m0 3v1m0 19v1m0 2v2m0 5v1m0 6v1m0 5v1m0 10v1m0 19v1m0 2v1m0 1v1m0 5v1m0 5v1m0 2v1m0 6v1m0 10v1m0 23v1m0 2v1m0 23v1m0 1v2m0 2v1m0 1v3M1670.0 11v1m0 2v1m0 4v1m0 6v1m0 8v1m0 13v1m0 2v1m0 8v1m0 2v1m0 3v1m0 79v1m0 3v1m0 10v1m0 1v1m0 10v1m0 4v1m0 13v2m0 10v1m0 3v1m0 1v1m0 1v1m0 2v1m0 10v1m0 4v1m0 11v1m0 8v1m0 2v6m0 1v1m0 6v1m0 3v1m0 20v1m0 6v1m0 2v1m0 6v3m0 3v1m0 2v1m0 18v2m0 5v2m0 6v1m0 2v1m0 1v1m0 7v2M1681.3 7v1m0 4v1m0 4v1m0 32v1m0 8v1m0 1v1m0 2v1m0 120v1m0 3v1m0 1v2m0 4v2m0 3v1m0 13v2m0 11v1m0 8v1m0 7v1m0 14v1m0 13v1m0 1v1m0 1v1m0 2v1m0 5v1m0 5v1m0 2v1m0 10v1m0 4v1m0 28v1m0 10v1m0 6v1m0 1v1m0 5v1M1692.5 6v1m0 4v1m0 6v1m0 12v1m0 1v1m0 7v1m0 5v1m0 1v1m0 1v1m0 1v1m0 2v2m0 2v2m0 3v1m0 84v1m0 5v1m0 10v1m0 2v1m0 4v1m0 1v1m0 2v1m0 4v1m0 5v1m0 9v1m0 2v2m0 1v1m0 5v1m0 5v1m0 1v1m0 6v1m0 8v1m0 1v1m0 20v1m0 8v1m0 8v1m0 1v1m0 4v1m0 2v1m0 13v1m0 33v2m0 4v1m0 3v4m0 3v1m0 1v1m0 2v3m0 1v1m0 3v1M1703.7 6v2m0 33v1m0 7v1m0 3v2m0 5v1m0 2v3m0 1v2m0 80v2m0 31v1m0 6v1m0 5v1m0 1v1m0 2v1m0 6v1m0 1v1m0 7v1m0 3v1m0 6v1m0 6v1m0 15v2m0 20v1m0 8v2m0 8v1m0 4v2m0 9v1m0 14v2m0 3v1m0 2v1m0 2v1m0 2v1m0 4v1m0 1v1m0 15v1m0 6v1m0 3v1M1714.9 8v1m0 5v1m0 6v1m0 11v1m0 11v1m0 5v1m0 13v1m0 2v1m0 86v1m0 6v2m0 3v1m0 7v1m0 6v1m0 8v1m0 7v1m0 1v1m0 2v2m0 6v2m0 5v1m0 32v1m0 5v2m0 13v1m0 7v1m0 1v1m0 4v1m0 2v1m0 6v1m0 3v1m0 7v1m0 9v1m0 1v1m0 1v1m0 4v1m0 15v1m0 6v2m0 2v2m0 3v1m0 8v2M1726.2 6v2m0 2v1m0 6v1m0 13v1m0 9v1m0 11v3m0 4v1m0 92v1m0 14v1m0 11v1m0 6v1m0 8v2m0 4v2m0 1v1m0 2v1m0 5v1m0 7v1m0 7v1m0 6v1m0 6v1m0 20v1m0 5v1m0 1v1m0 23v1m0 16v1m0 6v2m0 13v1m0 5v1m0 2v1m0 3v2m0 8v1m0 1v1m0 4v1m0 1v1M1737.4 8v3m0 1v1m0 1v1m0 6v1m0 9v1m0 3v1m0 26v1m0 76v1m0 4v1m0 2v1m0 4v1m0 5v1m0 2v1m0 4v1m0 5v1m0 11v1m0 3v1m0 1v1m0 2v2m0 5v1m0 6v1m0 6v1m0 1v1m0 6v1m0 5v2m0 6v1m0 2v2m0 10v1m0 6v1m0 8v1m0 11v1m0 1v1m0 12v1m0 9v1m0 5v1m0 14v1m0 4v1m0 3v1m0 2v2m0 2v1m0 9v2m0 8v2m0 2v2M1748.6 12v1m0 29v1m0 3v3m0 12v1m0 77v1m0 15v1m0 7v1m0 4v1m0 8v1m0 2v3m0 13v1m0 2v1m0 3v2m0 1v1m0 7v1m0 1v1m0 2v2m0 16v1m0 9v2m0 16v1m0 2v1m0 2v1m0 8v1m0 14v1m0 5v2m0 2v1m0 12v1m0 5v1m0 2v1m0 2v2m0 4v1m0 1v2m0 2v2m0 4v4m0 10v1M1759.9 6v1m0 6v1m0 1v1m0 1v2m0 4v1m0 9v1m0 7v1m0 2v2m0 4v1m0 7v1m0 2v1m0 3v1m0 58v1m0 33v1m0 2v3m0 10v1m0 1v1m0 9v1m0 14v1m0 6v1m0 8v1m0 3v1m0 21v3m0 2v1m0 18v1m0 2v1m0 10v2m0 4v1m0 10v1m0 2v1m0 5v1m0 14v1m0 5v1m0 5v1m0 2v1m0 7v2m0 6v1m0 3v2m0 3v1m0 7v2M1771.1 6v3m0 4v2m0 7v1m0 20v1m0 6v2m0 8v2m0 6v1m0 71v1m0 9v1m0 2v1m0 7v2m0 3v1m0 1v2m0 9v1m0 8v1m0 9v1m0 1v1m0 21v1m0 9v1m0 5v1m0 11v1m0 3v1m0 1v1m0 3v1m0 9v1m0 15v1m0 4v1m0 8v1m0 10v1m0 5v3m0 3v1m0 5v1m0 4v3m0 2v1m0 2v1m0 2v1m0 2v1m0 2v1m0 14v1M1782.3 7v2m0 5v1m0 5v2m0 3v1m0 5v1m0 7v1m0 15v1m0 5v1m0 6v1m0 71v1m0 31v1m0 1v2m0 1v1m0 14v1m0 12v1m0 8v1m0 2v1m0 2v1m0 21v1m0 7v1m0 1v1m0 1v1m0 15v1m0 1v2m0 16v1m0 9v1m0 10v1m0 3v3m0 20v1m0 4v1m0 14v2m0 3v1m0 2v1M1793.6 24v1m0 3v1m0 12v1m0 10v1m0 4v1m0 7v1m0 85v1m0 9v1m0 4v1m0 5v1m0 1v2m0 12v2m0 2v1m0 1v2m0 2v1m0 1v1m0 7v1m0 7v1m0 5v1m0 7v1m0 1v1m0 9v1m0 7v1m0 22v1m0 7v1m0 1v1m0 5v1m0 2v1m0 9v1m0 3v2m0 1v1m0 2v1m0 2v1m0 2v1m0 12v1m0 4v2m0 1v1m0 2v1m0 1v1m0 3v3m0 3v1m0 4v2m0 2v1m0 4v1M1804.8 7v2m0 2v1m0 2v1m0 6v1m0 2v2m0 6v1m0 12v1m0 19v1m0 2v1m0 75v1m0 3v1m0 7v1m0 6v1m0 2v1m0 1v1m0 1v1m0 4v1m0 5v1m0 4v1m0 5v1m0 1v1m0 1v2m0 6v2m0 7v1m0 2v2m0 1v2m0 1v1m0 17v1m0 4v1m0 4v1m0 3v1m0 5v1m0 2v1m0 1v1m0 1v3m0 2v2m0 9v1m0 1v1m0 4v1m0 5v1m0 11v3m0 1v3m0 3v3m0 1v1m0 13v1m0 1v1m0 3v1m0 1v1m0 3v1m0 3v3m0 5v1m0 6v1M1816.0 13v1m0 5v1m0 4v2m0 1v1m0 1v1m0 5v1m0 23v1m0 4v1m0 74v1m0 16v1m0 7v1m0 4v1m0 3v1m0 1v2m0 3v1m0 1v1m0 23v2m0 3v1m0 5v1m0 11v1m0 2v1m0 10v1m0 2v2m0 11v1m0 5v1m0 3v1m0 1v1m0 2v2m0 7v1m0 8v1m0 3v1m0 5v2m0 4v1m0 2v1m0 7v1m0 4v1m0 12v2m0 9v1m0 4v1m0 3v1m0 2v1m0 3v1m0 7v1M1827.2 7v1m0 11v1m0 1v2m0 10v1m0 5v1m0 3v1m0 7v1m0 10v1m0 4v2m0 73v1m0 15v1m0 7v1m0 5v1m0 6v2m0 8v1m0 6v1m0 1v1m0 1v1m0 8v1m0 18v1m0 1v1m0 3v1m0 28v1m0 3v2m0 9v1m0 4v1m0 5v2m0 6v1m0 8v1m0 1v1m0 10v1m0 4v1m0 2v1m0 1v1m0 11v1m0 5v1m0 4v1m0 10v2m0 1v1M1838.5 10v1m0 3v1m0 15v1m0 9v1m0 8v1m0 3v2m0 86v2m0 1v1m0 7v1m0 3v1m0 8v1m0 4v1m0 5v1m0 4v1m0 12v1m0 3v1m0 23v1m0 5v1m0 2v1m0 9v1m0 4v1m0 5v2m0 19v1m0 7v1m0 8v2m0 12v1m0 6v1m0 1v1m0 3v1m0 4v2m0 10v1m0 1v1m0 9v1m0 19v1m0 1v1M1849.7 9v1m0 9v1m0 3v1m0 11v1m0 9v1m0 9v1m0 2v1m0 3v1m0 1v1m0 2v1m0 72v1m0 3v1m0 5v1m0 4v1m0 2v1m0 14v1m0 2v1m0 20v1m0 18v1m0 1v1m0 10v1m0 2v1m0 5v3m0 2v1m0 2v1m0 5v1m0 26v1m0 4v1m0 3v2m0 4v2m0 6v1m0 3v1m0 2v2m0 4v1m0 2v2m0 5v1m0 5v2m0 4v1m0 6v1m0 2v1m0 10v1m0 13v1M1860.9 7v1m0 10v1m0 16v1m0 24v1m0 6v1m0 10v1m0 12v1m0 10v1m0 1v1m0 3v1m0 6v1m0 31v1m0 7v1m0 5v1m0 1v1m0 14v1m0 9v2m0 2v1m0 7v1m0 16v1m0 14v1m0 3v1m0 6v2m0 22v1m0 16v2m0 3v2m0 4v1m0 12v1m0 3v1m0 8v1m0 2v1m0 20v2m0 1v1m0 3v2m0 2v1m0 6v3M1872.2 7v1m0 25v2m0 3v1m0 14v1m0 5v1m0 28v1m0 5v1m0 9v1m0 37v1m0 1v1m0 4v1m0 4v1m0 2v1m0 3v2m0 20v1m0 6v1m0 1v1m0 4v1m0 6v3m0 1v2m0 2v1m0 1v1m0 15v1m0 1v1m0 13v1m0 5v2m0 7v1m0 2v1m0 7v1m0 3v1m0 6v1m0 1v1m0 3v2m0 3v1m0 14v2m0 1v1m0 7v1m0 16v1m0 19v4M1883.4 11v1m0 4v1m0 2v1m0 1v1m0 1v1m0 14v1m0 3v1m0 18v1m0 17v1m0 6v1m0 5v1m0 5v2m0 3v1m0 1v1m0 9v1m0 3v1m0 7v1m0 16v1m0 4v1m0 12v1m0 7v1m0 3v3m0 6v1m0 1v1m0 16v1m0 9v1m0 11v1m0 7v1m0 20v1m0 7v2m0 3v1m0 6v1m0 2v1m0 1v1m0 13v1m0 2v1m0 1v1m0 10v1m0 1v1m0 1v1m0 4v1m0 11v1m0 15v1m0 1v1m0 4v2m0 4v1m0 4v2m0 2v1m0 3v1"/>
<path stroke="#ffddcc" d="M1052.4 65v1m0 225v1m0 5v1m0 8v1m0 40v1M1063.6 226v1m0 54v1m0 17v1M1074.9 57v1m0 96v1m0 15v1m0 28v1m0 52v1M1086.1 29v1m0 222v1m0 80v1m0 12v1m0 2v1M1097.3 141v1m0 78v1m0 10v1m0 40v1M1108.6 207v1m0 89v1M1119.8 8v1m0 15v1m0 196v1m0 12v1M1131.0 7v1m0 213v2m0 42v1m0 57v1m0 48v1M1142.2 251v1M1153.5 6v1m0 308v1M1164.7 180v1m0 65v1M1175.9 14v1m0 53v1m0 148v1m0 54v1M1187.2 54v1m0 152v1M1198.4 7v1m0 186v1m0 28v1m0 33v1m0 29v1M1209.6 175v1m0 9v1m0 152v1m0 8v1m0 7v1m0 15v1M1220.9 11v1m0 164v1M1232.1 14v1m0 201v1m0 151v1M1243.3 66v1m0 75v1m0 40v1m0 24v1m0 39v1m0 15v1m0 20v1m0 24v1m0 52v1M1254.5 206v1M1265.8 33v1m0 208v1M1277.0 281v1M1288.2 267v1M1299.5 214v1m0 4v1m0 56v1m0 56v1M1310.7 28v1m0 4v1m0 21v1m0 84v1m0 13v1m0 45v1m0 75v1m0 68v1M1321.9 237v1m0 40v1m0 1v1M1333.1 165v1m0 50v1M1344.4 289v1m0 48v1m0 20v1M1355.6 14v1m0 205v1m0 94v1m0 2v1m0 4v1m0 9v1m0 2v1M1366.8 30v1m0 128v1m0 8v1m0 70v1m0 6v1m0 48v1m0 76v1M1378.1 157v1m0 177v1M1389.3 267v1m0 76v1m0 5v1M1400.5 29v1m0 218v1m0 78v1M1411.8 30v1m0 26v1M1423.0 26v1m0 4v1m0 188v1M1434.2 158v1m0 67v1M1445.4 45v1m0 217v1m0 91v1M1456.7 145v1m0 130v1m0 58v1M1467.9 63v1m0 224v1m0 77v1M1479.1 55v1m0 124v1m0 118v1M1490.4 32v1m0 111v1m0 107v1m0 69v1m0 45v1M1501.6 157v1m0 114v1M1512.8 292v1M1524.0 279v1m0 6v1m0 6v1m0 15v1M1535.3 33v1m0 11v1m0 120v1M1557.7 177v1m0 41v1m0 17v1m0 100v1M1569.0 157v1m0 7v1m0 50v1m0 85v1M1580.2 146v1m0 14v1m0 127v1M1591.4 46v1m0 92v1m0 120v1m0 86v1m0 4v1M1602.7 23v2m0 226v1m0 90v1M1613.9 228v1m0 120v1M1625.1 15v1m0 145v1M1636.3 191v1m0 71v1m0 4v1m0 66v1M1647.6 140v1m0 38v1m0 75v1m0 67v1M1658.8 49v1m0 193v1M1670.0 194v1m0 52v1m0 58v1m0 26v1M1681.3 41v1m0 26v1m0 84v1m0 103v1M1692.5 48v1m0 112v1m0 1v1m0 51v1m0 61v1M1703.7 55v1m0 137v1m0 139v1M1714.9 161v1m0 49v1m0 39v1m0 59v1m0 20v1M1726.2 8v1m0 156v1m0 127v1m0 45v1m0 6v1m0 4v1M1737.4 19v1m0 156v1m0 2v1m0 149v1M1748.6 152v1m0 129v1m0 11v1m0 62v1M1759.9 22v1m0 15v1m0 142v1m0 2v1m0 120v1m0 14v1M1771.1 45v1m0 169v1M1782.3 200v1m0 66v1m0 46v1m0 3v1m0 30v1m0 18v1M1793.6 231v1m0 87v1M1804.8 165v1m0 85v1m0 55v1M1816.0 49v1m0 192v1m0 15v1m0 4v1M1827.2 23v1m0 325v1m0 22v1M1838.5 38v1m0 107v1m0 100v1m0 79v1m0 3v1m0 15v1M1849.7 48v1m0 126v1m0 109v1M1860.9 61v1m0 38v1m0 5v1m0 27v1m0 34v1m0 91v1M1872.2 61v1m0 70v1m0 40v1m0 62v1M1883.4 62v1m0 95v1"/>
<path stroke="#ffdddd" d="M1052.4 10v1m0 2v1m0 1v1m0 3v1m0 4v3m0 14v1m0 6v1m0 2v1m0 8v2m0 1v1m0 86v1m0 6v1m0 14v1m0 4v1m0 1v2m0 1v1m0 17v1m0 3v1m0 6v1m0 31v2m0 1v1m0 10v3m0 8v1m0 2v1m0 7v1m0 2v1m0 3v1m0 11v1m0 9v1m0 2v1m0 1v1m0 19v1m0 10v1m0 7v1m0 4v1m0 7v1m0 2v1m0 2v1M1063.6 22v1m0 7v1m0 4v1m0 2v1m0 8v2m0 2v1m0 105v1m0 11v1m0 9v1m0 2v1m0 9v1m0 13v2m0 1v1m0 1v1m0 1v1m0 2v1m0 4v1m0 9v1m0 39v1m0 4v1m0 16v1m0 6v1m0 10v1m0 16v2m0 3v1m0 2v1m0 7v1m0 7v1m0 9v1m0 9v1M1074.9 11v1m0 7v1m0 12v1m0 4v1m0 25v2m0 3v1m0 29v1m0 43v1m0 10v1m0 4v1m0 6v1m0 7v3m0 2v2m0 14v1m0 3v1m0 4v2m0 3v1m0 2v1m0 4v2m0 1v1m0 2v2m0 2v1m0 7v2m0 2v1m0 4v2m0 4v1m0 3v1m0 7v2m0 20v1m0 3v1m0 3v1m0 1v1m0 29v1m0 6v1m0 18v3m0 2v1m0 1v1m0 13v1M1086.1 6v1m0 6v2m0 6v1m0 6v1m0 3v1m0 2v1m0 11v1m0 3v1m0 3v1m0 3v1m0 29v1m0 62v2m0 7v1m0 18v1m0 1v1m0 17v2m0 7v1m0 11v1m0 4v1m0 16v2m0 3v1m0 1v2m0 1v1m0 3v1m0 12v1m0 5v2m0 1v1m0 8v1m0 2v1m0 7v1m0 22v2m0 7v1m0 8v2m0 9v1m0 20v1M1097.3 6v1m0 10v1m0 4v1m0 5v1m0 1v1m0 8v2m0 1v1m0 8v1m0 10v2m0 1v1m0 74v1m0 7v1m0 11v1m0 3v3m0 2v1m0 8v1m0 2v1m0 16v1m0 1v1m0 2v1m0 7v1m0 10v1m0 4v1m0 14v1m0 10v1m0 1v1m0 2v1m0 14v1m0 3v1m0 3v1m0 4v1m0 2v1m0 4v1m0 2v1m0 22v1m0 9v1m0 4v1m0 8v1m0 2v1m0 10v1m0 5v2m0 4v1M1108.6 7v1m0 3v1m0 1v1m0 1v1m0 12v1m0 1v1m0 5v1m0 1v3m0 2v1m0 1v1m0 7v3m0 6v1m0 3v1m0 73v1m0 5v1m0 12v1m0 11v1m0 6v1m0 1v3m0 2v1m0 3v1m0 26v1m0 8v1m0 5v1m0 10v1m0 4v2m0 2v2m0 8v1m0 1v1m0 11v1m0 5v1m0 1v1m0 10v1m0 17v1m0 7v1m0 2v1m0 6v1m0 2v1m0 10v1m0 3v1m0 1v2M1119.8 6v1m0 6v1m0 1v1m0 4v1m0 1v1m0 5v1m0 4v1m0 19v4m0 5v1m0 19v1m0 65v1m0 1v1m0 10v2m0 23v1m0 20v1m0 17v1m0 6v1m0 7v2m0 4v2m0 2v2m0 3v1m0 4v1m0 15v1m0 2v1m0 3v1m0 1v1m0 2v1m0 12v2m0 3v1m0 2v1m0 1v1m0 1v1m0 8v1m0 8v1m0 3v1M1131.0 8v1m0 3v1m0 6v1m0 2v1m0 4v1m0 8v1m0 6v1m0 1v1m0 2v1m0 12v1m0 1v1m0 84v1m0 1v1m0 1v1m0 5v1m0 20v1m0 13v1m0 7v1m0 5v1m0 6v1m0 1v1m0 27v2m0 13v1m0 16v1m0 16v1m0 35v3m0 2v1m0 1v1m0 7v1m0 10v1m0 10v1M1142.2 9v1m0 3v1m0 9v1m0 14v2m0 24v1m0 94v1m0 17v3m0 7v1m0 4v1m0 1v1m0 9v1m0 1v1m0 11v2m0 1v1m0 4v1m0 2v1m0 1v1m0 2v1m0 4v1m0 10v1m0 7v1m0 2v1m0 5v1m0 2v1m0 10v1m0 19v1m0 6v1m0 2v1m0 10v1m0 13v1m0 1v1m0 4v1m0 3v1m0 24v1M1153.5 9v1m0 9v3m0 10v1m0 20v1m0 3v1m0 2v2m0 3v1m0 2v1m0 79v1m0 2v1m0 1v2m0 3v1m0 3v1m0 5v2m0 3v1m0 1v1m0 1v1m0 1v1m0 14v1m0 2v1m0 1v2m0 6v1m0 4v1m0 4v1m0 3v1m0 1v1m0 6v2m0 12v1m0 6v1m0 3v1m0 2v3m0 3v1m0 6v1m0 7v1m0 21v1m0 9v1m0 15v1m0 8v1m0 7v1m0 23v1M1164.7 6v1m0 1v1m0 4v1m0 3v1m0 3v1m0 2v3m0 1v1m0 1v1m0 10v1m0 1v1m0 1v1m0 1v2m0 11v1m0 2v1m0 3v1m0 6v1m0 64v1m0 24v1m0 13v1m0 22v1m0 14v2m0 2v2m0 3v2m0 2v2m0 1v1m0 1v1m0 4v1m0 1v1m0 2v1m0 5v1m0 1v1m0 2v1m0 11v1m0 4v1m0 8v1m0 10v1m0 7v1m0 1v1m0 5v1m0 3v1m0 2v2m0 21v2m0 4v1m0 4v1m0 20v2M1175.9 9v1m0 6v1m0 2v1m0 1v2m0 3v1m0 15v1m0 1v1m0 8v3m0 1v1m0 1v1m0 1v1m0 2v1m0 79v1m0 3v1m0 7v1m0 4v2m0 1v1m0 27v1m0 3v2m0 2v1m0 12v1m0 17v1m0 16v1m0 6v1m0 17v1m0 8v1m0 9v1m0 7v1m0 1v1m0 3v3m0 5v3m0 2v1m0 8v2m0 3v1m0 16v1m0 1v1m0 2v1m0 4v1m0 5v1m0 1v1m0 2v1M1187.2 15v1m0 2v1m0 2v1m0 7v1m0 4v1m0 20v1m0 1v1m0 90v1m0 5v1m0 17v1m0 7v1m0 7v2m0 24v1m0 3v3m0 7v1m0 5v1m0 32v1m0 4v1m0 10v1m0 10v1m0 2v1m0 13v1m0 4v1m0 5v1m0 17v2m0 7v3m0 15v1M1198.4 8v1m0 50v1m0 3v1m0 92v1m0 3v1m0 11v1m0 4v1m0 2v1m0 6v2m0 7v2m0 8v1m0 14v1m0 101v1m0 7v1m0 1v1m0 6v2m0 2v1m0 2v1m0 24v1M1209.6 13v1m0 6v2m0 2v1m0 8v1m0 1v1m0 20v1m0 1v1m0 1v1m0 1v1m0 77v1m0 11v1m0 6v2m0 32v1m0 11v1m0 8v1m0 1v2m0 3v1m0 6v1m0 26v1m0 11v1m0 29v1m0 4v1m0 11v1m0 6v1m0 2v1m0 15v1m0 19v1m0 5v1m0 1v1M1220.9 6v1m0 1v1m0 1v1m0 3v1m0 4v1m0 15v1m0 1v1m0 15v1m0 1v1m0 3v3m0 3v1m0 1v1m0 81v1m0 8v1m0 2v3m0 2v1m0 6v1m0 1v1m0 5v1m0 2v1m0 2v1m0 3v1m0 2v1m0 4v1m0 10v1m0 6v1m0 5v1m0 20v1m0 3v1m0 2v1m0 29v1m0 10v1m0 31v1m0 4v1m0 3v1m0 4v1m0 2v1m0 1v1m0 3v1m0 3v1m0 3v1m0 7v2m0 1v1m0 1v1M1232.1 25v2m0 6v1m0 14v2m0 1v1m0 3v4m0 2v1m0 2v1m0 79v1m0 1v1m0 1v1m0 1v1m0 1v2m0 25v1m0 3v1m0 1v1m0 5v1m0 7v1m0 13v1m0 7v1m0 40v1m0 7v1m0 10v1m0 1v1m0 6v2m0 2v1m0 19v1m0 3v1m0 4v1m0 3v1m0 6v1m0 9v1m0 17v1m0 9v1M1243.3 6v1m0 3v1m0 4v1m0 3v1m0 3v2m0 24v1m0 2v1m0 6v1m0 1v1m0 1v3m0 2v1m0 71v2m0 13v1m0 18v1m0 2v2m0 11v1m0 1v1m0 12v1m0 5v1m0 1v1m0 7v1m0 7v2m0 3v1m0 6v1m0 23v1m0 16v1m0 7v1m0 3v1m0 3v1m0 8v1m0 11v1m0 2v1m0 3v1m0 7v1m0 12v1m0 13v1m0 3v1M1254.5 2v1m0 1v2m0 14v2m0 8v1m0 3v1m0 3v1m0 1v1m0 4v1m0 1v2m0 2v1m0 64v1m0 27v1m0 1v1m0 16v1m0 2v1m0 1v1m0 7v1m0 37v1m0 2v1m0 1v1m0 1v1m0 10v1m0 11v1m0 2v2m0 1v1m0 19v1m0 9v1m0 2v1m0 7v1m0 5v1m0 1v2m0 8v2m0 2v1m0 11v1m0 3v1m0 4v1m0 5v2m0 17v1m0 5v1M1265.8 9v2m0 7v1m0 3v1m0 13v1m0 12v1m0 3v1m0 11v1m0 78v2m0 2v1m0 10v1m0 12v1m0 3v1m0 2v1m0 13v1m0 12v1m0 9v1m0 2v3m0 13v1m0 15v1m0 8v1m0 24v1m0 8v1m0 4v1m0 4v1m0 4v1m0 9v1m0 6v1M1277.0 13v1m0 5v1m0 1v4m0 11v1m0 10v1m0 3v1m0 11v2m0 2v1m0 80v1m0 13v1m0 24v2m0 7v1m0 1v1m0 8v1m0 26v1m0 5v1m0 2v1m0 1v2m0 9v1m0 4v2m0 7v1m0 6v1m0 14v1m0 18v1m0 4v1m0 5v1m0 11v1m0 18v1m0 1v1m0 10v1M1288.2 15v1m0 6v1m0 2v2m0 1v2m0 3v1m0 6v1m0 2v1m0 3v1m0 5v1m0 2v2m0 10v1m0 79v1m0 5v1m0 5v1m0 8v1m0 6v1m0 16v1m0 17v1m0 4v1m0 2v2m0 5v1m0 4v1m0 10v1m0 15v2m0 1v1m0 20v1m0 13v1m0 1v1m0 7v2m0 1v1m0 10v1m0 14v1m0 6v1m0 5v1m0 11v1m0 4v2M1299.5 6v1m0 2v2m0 8v1m0 1v2m0 6v2m0 1v1m0 2v1m0 9v1m0 3v1m0 1v1m0 1v3m0 5v1m0 1v1m0 4v1m0 79v2m0 19v1m0 7v1m0 7v1m0 1v1m0 7v2m0 3v1m0 24v1m0 14v1m0 3v1m0 18v1m0 4v1m0 2v2m0 7v1m0 9v2m0 27v1m0 8v3m0 9v2m0 11v1m0 9v2m0 2v1M1310.7 11v1m0 3v1m0 15v2m0 2v2m0 6v1m0 17v1m0 65v1m0 11v1m0 1v3m0 9v1m0 8v1m0 1v1m0 4v1m0 7v1m0 4v1m0 11v2m0 2v1m0 5v2m0 1v1m0 4v1m0 13v1m0 3v1m0 18v1m0 8v1m0 13v2m0 15v1m0 18v1m0 1v1m0 2v1m0 3v2m0 1v1m0 1v1m0 4v1m0 5v2m0 5v1m0 12v1m0 9v1m0 8v1M1321.9 10v1m0 4v1m0 3v1m0 6v1m0 3v1m0 1v1m0 2v1m0 7v1m0 1v1m0 7v2m0 1v2m0 3v1m0 1v2m0 83v1m0 3v1m0 4v2m0 3v1m0 6v1m0 3v1m0 40v1m0 15v1m0 3v1m0 35v1m0 1v1m0 13v1m0 7v1m0 9v1m0 17v1m0 3v1m0 2v1m0 15v1m0 10v1M1333.1 20v1m0 11v1m0 2v1m0 2v1m0 1v1m0 2v1m0 7v1m0 7v1m0 4v1m0 83v1m0 7v2m0 6v1m0 3v1m0 8v2m0 14v1m0 11v2m0 10v1m0 1v1m0 6v1m0 4v1m0 14v1m0 1v1m0 3v1m0 9v1m0 16v1m0 11v1m0 2v1m0 4v2m0 49v2m0 1v1m0 1v1m0 1v2m0 4v2m0 1v1m0 1v1M1344.4 13v1m0 2v1m0 5v2m0 11v1m0 24v1m0 2v1m0 4v1m0 24v1m0 46v1m0 28v1m0 12v1m0 2v1m0 2v2m0 10v1m0 15v2m0 1v1m0 1v1m0 18v1m0 5v2m0 5v1m0 4v1m0 1v1m0 2v1m0 3v1m0 5v1m0 4v1m0 1v1m0 1v1m0 5v1m0 8v1m0 1v2m0 3v1m0 4v1m0 25v1m0 14v1m0 1v1m0 7v1m0 5v1M1355.6 10v1m0 8v1m0 1v1m0 19v1m0 2v1m0 5v1m0 5v1m0 9v1m0 81v1m0 3v1m0 8v1m0 10v1m0 4v2m0 3v1m0 9v1m0 2v1m0 2v2m0 4v1m0 1v1m0 10v1m0 24v1m0 19v1m0 2v1m0 29v1m0 3v1m0 19v1m0 4v1m0 10v1m0 2v1m0 2v1m0 10v1m0 3v1M1366.8 8v1m0 9v1m0 17v1m0 1v3m0 4v1m0 3v2m0 11v1m0 2v1m0 2v1m0 95v1m0 27v1m0 3v1m0 16v1m0 5v2m0 16v1m0 9v2m0 1v2m0 5v3m0 1v1m0 11v1m0 3v1m0 5v1m0 2v1m0 9v1m0 1v1m0 5v1m0 6v1m0 21v2m0 2v2m0 11v1m0 1v2M1378.1 25v1m0 2v3m0 3v1m0 2v2m0 16v1m0 1v2m0 3v1m0 2v1m0 2v1m0 74v1m0 12v1m0 20v1m0 7v1m0 1v1m0 5v1m0 7v1m0 2v1m0 2v1m0 6v1m0 3v1m0 1v1m0 9v1m0 9v1m0 3v1m0 2v1m0 3v1m0 6v1m0 2v2m0 4v1m0 4v1m0 9v1m0 3v1m0 4v1m0 8v1m0 15v2m0 1v1m0 22v1m0 1v1m0 1v1m0 2v1m0 2v2m0 3v2M1389.3 8v1m0 6v1m0 2v1m0 3v1m0 11v1m0 5v1m0 3v2m0 3v1m0 1v1m0 1v1m0 3v1m0 87v1m0 13v2m0 3v2m0 11v2m0 3v1m0 17v1m0 3v3m0 1v1m0 4v1m0 11v1m0 17v1m0 2v1m0 14v1m0 10v2m0 17v1m0 2v1m0 4v2m0 2v1m0 18v1m0 4v1m0 15v1m0 2v1m0 4v1m0 2v1m0 1v1m0 5v1m0 2v1m0 1v2M1400.5 8v1m0 2v1m0 7v1m0 4v2m0 11v1m0 6v1m0 11v3m0 3v2m0 88v1m0 1v1m0 3v1m0 18v1m0 1v1m0 15v1m0 1v1m0 5v2m0 3v1m0 7v1m0 4v1m0 3v1m0 4v1m0 4v1m0 4v2m0 2v1m0 5v1m0 4v1m0 8v1m0 4v1m0 7v1m0 4v1m0 1v1m0 1v1m0 13v1m0 3v1m0 3v1m0 4v2m0 3v3m0 1v3m0 8v1m0 5v1m0 1v1m0 2v1m0 20v1m0 1v1m0 2v2M1411.8 6v1m0 1v1m0 8v1m0 16v1m0 1v1m0 24v1m0 4v1m0 1v1m0 72v1m0 1v1m0 8v1m0 7v1m0 10v1m0 21v1m0 19v1m0 14v1m0 5v1m0 8v1m0 9v1m0 25v1m0 3v1m0 13v1m0 5v1m0 18v1m0 1v1m0 1v1m0 1v1m0 4v1m0 1v1m0 11v1m0 3v1m0 6v2m0 6v1m0 2v3M1423.0 9v2m0 4v1m0 17v1m0 22v1m0 6v1m0 95v2m0 9v1m0 9v2m0 16v1m0 22v1m0 1v1m0 1v1m0 4v1m0 11v1m0 11v1m0 15v1m0 8v1m0 2v1m0 8v1m0 7v2m0 8v1m0 8v1m0 3v1m0 3v2m0 12v1m0 4v1m0 12v3m0 10v1M1434.2 7v2m0 2v1m0 2v1m0 5v1m0 21v1m0 12v2m0 91v1m0 1v1m0 9v1m0 1v1m0 5v1m0 4v1m0 31v2m0 7v1m0 16v1m0 37v1m0 4v2m0 11v1m0 4v2m0 3v1m0 13v1m0 13v1m0 2v1m0 4v1m0 1v1m0 24v1m0 1v1m0 5v1M1445.4 11v1m0 3v1m0 5v1m0 3v1m0 4v1m0 12v1m0 11v1m0 4v2m0 3v1m0 101v1m0 1v1m0 10v3m0 18v1m0 7v1m0 1v1m0 1v1m0 3v1m0 1v3m0 4v1m0 1v1m0 8v2m0 5v1m0 11v2m0 3v1m0 9v1m0 5v1m0 5v1m0 8v2m0 5v2m0 16v1m0 5v1m0 2v2m0 6v1m0 10v1m0 11v1M1456.7 6v1m0 6v1m0 4v1m0 7v1m0 8v2m0 8v1m0 1v3m0 5v1m0 6v1m0 5v1m0 87v2m0 6v2m0 7v1m0 14v1m0 6v1m0 8v1m0 9v1m0 3v1m0 1v1m0 7v1m0 1v1m0 24v1m0 2v2m0 1v1m0 5v1m0 13v1m0 5v1m0 11v1m0 5v2m0 31v1M1467.9 6v1m0 3v1m0 3v1m0 9v3m0 9v1m0 1v1m0 4v1m0 9v1m0 98v1m0 3v2m0 2v1m0 1v1m0 6v1m0 9v1m0 2v1m0 6v1m0 11v1m0 2v1m0 3v1m0 7v2m0 1v1m0 3v1m0 2v1m0 13v1m0 10v1m0 1v1m0 11v1m0 1v2m0 24v1m0 7v1m0 12v1m0 10v1m0 2v1m0 4v1m0 11v1m0 2v1m0 7v1m0 2v1m0 2v1m0 5v1M1479.1 15v2m0 2v3m0 3v2m0 4v1m0 1v1m0 7v1m0 5v2m0 2v1m0 5v2m0 1v2m0 3v1m0 84v1m0 1v1m0 11v2m0 5v2m0 4v2m0 22v1m0 14v1m0 3v1m0 4v1m0 18v1m0 6v1m0 21v1m0 9v1m0 7v1m0 1v1m0 6v1m0 3v1m0 5v1m0 1v1m0 2v1m0 7v1m0 9v1m0 6v1m0 7v1m0 1v2m0 12v1M1490.4 8v1m0 1v1m0 4v1m0 2v1m0 2v1m0 2v1m0 1v1m0 6v1m0 4v2m0 7v2m0 2v1m0 7v1m0 2v1m0 4v1m0 73v1m0 14v1m0 1v1m0 2v2m0 1v1m0 5v1m0 7v1m0 2v1m0 19v1m0 7v1m0 3v2m0 11v1m0 2v2m0 1v1m0 11v1m0 8v1m0 3v1m0 1v1m0 7v1m0 4v1m0 20v1m0 3v1m0 5v1m0 2v1m0 5v1m0 1v1m0 4v1m0 4v1m0 3v1m0 6v1m0 3v1m0 3v1m0 2v1m0 10v1m0 4v2m0 2v1M1501.6 10v1m0 4v1m0 4v1m0 5v4m0 9v1m0 3v1m0 1v1m0 3v1m0 7v2m0 2v1m0 6v1m0 72v1m0 4v1m0 11v1m0 3v1m0 6v1m0 1v1m0 2v1m0 14v1m0 3v1m0 7v1m0 4v2m0 9v1m0 5v1m0 4v1m0 1v1m0 22v1m0 8v1m0 10v1m0 7v2m0 10v1m0 1v2m0 2v2m0 5v1m0 4v1m0 6v2m0 3v1m0 13v1m0 2v1m0 14v1m0 10v1M1512.8 10v1m0 3v1m0 7v1m0 4v1m0 1v1m0 4v1m0 1v1m0 1v3m0 3v2m0 6v1m0 87v1m0 11v1m0 8v1m0 2v1m0 8v1m0 4v1m0 8v3m0 3v1m0 12v1m0 9v1m0 2v2m0 7v1m0 2v1m0 6v2m0 2v1m0 29v1m0 3v2m0 2v1m0 8v1m0 4v1m0 5v1m0 3v1m0 11v1m0 13v2m0 1v1m0 6v1m0 4v1m0 2v1m0 10v1m0 2v1m0 4v1M1524.0 9v1m0 3v1m0 5v1m0 1v2m0 5v1m0 9v1m0 6v1m0 3v1m0 8v1m0 99v1m0 5v1m0 4v2m0 2v1m0 4v1m0 1v3m0 4v1m0 5v1m0 7v1m0 12v1m0 11v1m0 19v2m0 9v1m0 9v1m0 9v1m0 3v1m0 18v1m0 1v1m0 7v1m0 9v1m0 2v1m0 2v1m0 2v1m0 3v2m0 6v1m0 24v1m0 4v1M1535.3 10v1m0 14v1m0 2v1m0 12v1m0 15v1m0 90v1m0 3v1m0 6v2m0 4v1m0 7v1m0 4v1m0 3v1m0 4v1m0 13v1m0 14v1m0 14v1m0 2v1m0 9v1m0 1v3m0 1v1m0 1v1m0 14v1m0 5v1m0 2v1m0 4v1m0 13v1m0 2v1m0 2v2m0 2v1m0 24v1m0 2v3m0 3v1m0 10v2m0 5v1m0 8v1m0 1v1m0 1v2M1546.5 14v1m0 19v1m0 13v1m0 4v2m0 2v1m0 7v1m0 86v1m0 12v2m0 2v1m0 1v1m0 21v1m0 4v1m0 2v1m0 6v1m0 9v1m0 23v1m0 1v1m0 5v2m0 11v1m0 8v2m0 1v1m0 1v1m0 20v2m0 22v1m0 12v2m0 6v2m0 21v1m0 1v1m0 1v2M1557.7 6v1m0 6v2m0 10v2m0 5v1m0 20v2m0 3v1m0 89v1m0 9v2m0 12v2m0 5v1m0 2v1m0 2v1m0 10v2m0 16v1m0 2v1m0 2v1m0 5v1m0 8v1m0 10v2m0 8v1m0 4v3m0 6v1m0 1v1m0 4v1m0 1v1m0 1v1m0 11v1m0 5v1m0 1v1m0 1v1m0 19v1m0 12v1m0 2v1m0 4v1m0 9v1m0 4v3m0 4v1m0 3v2M1569.0 14v1m0 1v1m0 9v2m0 2v1m0 9v1m0 15v1m0 45v1m0 37v1m0 1v1m0 5v1m0 12v1m0 2v1m0 6v1m0 1v1m0 4v1m0 1v1m0 4v1m0 1v1m0 5v1m0 31v1m0 2v2m0 4v1m0 5v1m0 2v1m0 6v1m0 1v1m0 2v1m0 5v1m0 5v1m0 4v1m0 4v1m0 1v1m0 3v1m0 24v1m0 4v1m0 6v1m0 14v1m0 2v1m0 1v1m0 3v1m0 6v1m0 13v1m0 1v1M1580.2 6v1m0 7v2m0 2v1m0 4v1m0 13v1m0 1v2m0 14v1m0 2v1m0 8v1m0 77v1m0 6v1m0 10v1m0 9v1m0 4v1m0 4v1m0 15v1m0 4v1m0 16v1m0 4v1m0 15v1m0 4v1m0 7v1m0 11v1m0 15v1m0 2v1m0 3v1m0 5v1m0 43v2m0 7v1m0 2v1m0 4v2m0 11v2M1591.4 13v2m0 10v2m0 5v1m0 21v1m0 7v1m0 1v2m0 88v1m0 16v1m0 20v1m0 1v1m0 3v1m0 3v2m0 14v1m0 11v2m0 12v1m0 1v1m0 6v1m0 5v1m0 2v1m0 7v1m0 12v1m0 7v1m0 2v1m0 9v1m0 3v1m0 2v1m0 16v2m0 6v1m0 1v1m0 6v1m0 11v1M1602.7 9v1m0 16v1m0 4v1m0 6v1m0 5v1m0 11v1m0 4v1m0 6v1m0 72v1m0 14v1m0 3v1m0 7v2m0 5v1m0 5v1m0 5v1m0 5v1m0 24v1m0 8v2m0 14v1m0 2v1m0 23v1m0 22v1m0 40v1m0 1v1m0 2v1m0 4v1m0 18v1m0 3v1m0 3v1M1613.9 9v1m0 4v1m0 7v1m0 15v2m0 7v1m0 4v1m0 3v1m0 4v1m0 1v3m0 86v1m0 4v1m0 1v1m0 11v1m0 13v1m0 43v1m0 9v1m0 2v1m0 5v1m0 43v2m0 28v1m0 17v2m0 3v1m0 1v1m0 2v2m0 7v1m0 6v1m0 1v1M1625.1 10v1m0 5v1m0 3v1m0 3v2m0 4v1m0 4v2m0 6v1m0 13v1m0 2v1m0 2v1m0 1v1m0 74v1m0 5v1m0 1v1m0 4v1m0 4v1m0 3v1m0 6v1m0 1v1m0 8v1m0 6v2m0 3v1m0 2v3m0 18v2m0 19v1m0 4v1m0 20v1m0 3v1m0 3v2m0 2v2m0 31v1m0 8v1m0 3v1m0 1v1m0 7v1m0 1v1m0 6v2m0 4v1m0 12v2m0 1v1m0 1v1m0 6v1M1636.3 24v3m0 4v1m0 1v1m0 28v1m0 4v1m0 86v1m0 1v1m0 2v1m0 29v1m0 12v2m0 1v1m0 5v1m0 4v1m0 14v1m0 7v2m0 10v1m0 1v1m0 11v1m0 11v1m0 13v1m0 2v1m0 23v1m0 11v2m0 2v1m0 6v1m0 7v2m0 1v1M1647.6 10v1m0 4v1m0 6v1m0 11v1m0 21v1m0 1v1m0 4v2m0 3v1m0 79v1m0 52v1m0 28v1m0 4v1m0 6v1m0 14v1m0 11v1m0 6v1m0 6v1m0 34v2m0 8v1m0 20v2M1658.8 6v1m0 4v1m0 2v1m0 4v1m0 4v1m0 8v1m0 1v1m0 9v1m0 5v1m0 1v1m0 6v1m0 58v1m0 32v1m0 27v2m0 3v1m0 3v1m0 10v1m0 12v1m0 1v1m0 1v1m0 11v1m0 4v1m0 16v1m0 1v1m0 4v1m0 4v2m0 4v1m0 1v1m0 1v1m0 7v1m0 5v1m0 2v2m0 1v1m0 6v1m0 19v1m0 1v1m0 4v1m0 3v1m0 10v1m0 1v1m0 13v3m0 1v1m0 5v1M1670.0 7v1m0 8v1m0 4v1m0 19v1m0 1v1m0 1v1m0 2v1m0 14v1m0 1v1m0 87v1m0 1v1m0 8v1m0 3v1m0 6v1m0 4v1m0 4v1m0 11v1m0 10v1m0 7v1m0 27v1m0 7v1m0 4v1m0 11v2m0 10v1m0 11v1m0 5v1m0 11v1m0 14v1m0 21v1m0 3v1m0 10v2m0 3v1M1681.3 6v1m0 1v1m0 6v1m0 7v1m0 19v2m0 4v1m0 3v3m0 84v1m0 7v1m0 26v1m0 12v1m0 10v1m0 7v1m0 1v1m0 3v1m0 6v2m0 22v1m0 2v1m0 5v1m0 1v1m0 11v1m0 1v1m0 1v3m0 2v1m0 6v1m0 7v2m0 3v1m0 2v2m0 8v1m0 2v1m0 1v1m0 21v1m0 11v1m0 3v1m0 4v1m0 7v2M1692.5 9v2m0 1v1m0 2v1m0 3v3m0 1v1m0 8v1m0 25v1m0 4v2m0 1v1m0 73v1m0 8v1m0 7v1m0 4v1m0 1v3m0 1v1m0 9v1m0 3v1m0 15v1m0 43v1m0 8v1m0 2v1m0 4v1m0 3v1m0 3v1m0 4v2m0 2v1m0 2v1m0 1v2m0 8v1m0 2v1m0 5v1m0 3v1m0 20v1m0 2v1m0 4v1m0 34v1m0 3v1M1703.7 8v1m0 3v1m0 1v2m0 20v1m0 8v1m0 5v1m0 104v1m0 5v1m0 5v1m0 19v1m0 5v1m0 3v1m0 17v1m0 17v1m0 18v1m0 7v2m0 7v1m0 8v1m0 13v1m0 31v1m0 3v2m0 4v2m0 8v1m0 6v2m0 2v1m0 1v1m0 7v1m0 1v1M1714.9 10v1m0 1v1m0 2v1m0 18v1m0 6v1m0 6v1m0 3v1m0 7v2m0 2v1m0 83v1m0 3v1m0 12v2m0 1v1m0 7v1m0 8v1m0 8v1m0 11v1m0 1v1m0 5v1m0 1v1m0 6v1m0 1v1m0 2v1m0 13v1m0 10v1m0 1v1m0 1v1m0 34v1m0 6v1m0 31v1m0 2v1m0 16v1m0 8v1m0 1v1M1726.2 18v1m0 16v1m0 20v2m0 7v1m0 88v1m0 3v1m0 10v1m0 5v2m0 4v1m0 3v1m0 6v1m0 2v1m0 2v1m0 7v1m0 8v1m0 4v2m0 1v1m0 16v2m0 12v1m0 1v1m0 2v2m0 6v1m0 4v1m0 18v1m0 7v2m0 11v1m0 7v1m0 5v1m0 8v1m0 2v1m0 5v1m0 2v1m0 9v2m0 1v1m0 2v2m0 5v1m0 1v1M1737.4 15v1m0 18v1m0 8v1m0 11v1m0 1v1m0 2v2m0 6v1m0 80v1m0 6v2m0 6v2m0 3v1m0 15v1m0 1v1m0 1v1m0 1v2m0 5v1m0 18v1m0 10v1m0 15v1m0 2v2m0 5v1m0 3v1m0 11v1m0 12v1m0 7v1m0 2v1m0 2v1m0 1v1m0 22v1m0 4v2m0 4v1m0 11v3m0 8v1m0 1v2m0 9v1m0 1v1M1748.6 6v3m0 5v1m0 5v1m0 12v1m0 7v1m0 15v2m0 6v1m0 92v1m0 5v3m0 2v1m0 2v1m0 6v1m0 5v1m0 1v1m0 6v2m0 1v1m0 2v1m0 7v1m0 19v1m0 13v1m0 12v1m0 13v1m0 6v1m0 19v1m0 1v1m0 7v3m0 2v1m0 7v1m0 9v1m0 17v1M1759.9 8v1m0 5v1m0 9v2m0 8v1m0 1v1m0 2v1m0 9v1m0 5v3m0 82v1m0 11v1m0 3v2m0 7v1m0 3v1m0 3v1m0 4v1m0 4v1m0 5v1m0 3v1m0 17v1m0 7v2m0 29v1m0 41v1m0 4v1m0 19v1m0 3v1m0 14v1m0 1v2m0 2v1m0 4v1m0 1v2m0 1v1m0 11v1m0 3v1M1771.1 10v1m0 5v1m0 3v1m0 13v1m0 1v1m0 10v2m0 5v1m0 8v3m0 33v1m0 48v1m0 3v1m0 3v2m0 2v1m0 12v1m0 3v1m0 9v1m0 26v1m0 4v3m0 12v1m0 7v1m0 24v1m0 8v1m0 2v1m0 2v2m0 18v1m0 25v1m0 15v1m0 10v1m0 1v1M1782.3 11v2m0 3v1m0 7v1m0 1v1m0 6v1m0 2v2m0 13v1m0 1v2m0 2v2m0 5v1m0 1v1m0 89v1m0 1v1m0 20v1m0 13v1m0 17v1m0 4v1m0 4v1m0 29v1m0 24v1m0 6v1m0 7v2m0 15v1m0 10v1m0 7v1m0 3v1m0 15v1m0 2v2M1793.6 10v1m0 3v2m0 5v1m0 3v3m0 7v2m0 1v2m0 4v1m0 4v1m0 4v2m0 8v1m0 2v1m0 80v1m0 1v1m0 2v1m0 2v3m0 3v2m0 13v2m0 2v2m0 2v1m0 1v1m0 16v3m0 2v1m0 3v2m0 4v1m0 1v1m0 12v1m0 16v2m0 14v1m0 2v1m0 5v1m0 13v2m0 18v1m0 21v1m0 8v1m0 3v2m0 4v2m0 9v1m0 1v1m0 7v1M1804.8 6v1m0 8v2m0 17v1m0 3v1m0 4v1m0 4v1m0 7v2m0 2v1m0 2v1m0 76v1m0 11v1m0 4v1m0 1v2m0 3v1m0 8v1m0 8v1m0 2v1m0 3v1m0 8v2m0 6v1m0 2v1m0 19v1m0 2v1m0 10v1m0 2v2m0 7v1m0 2v2m0 2v1m0 28v1m0 9v2m0 3v1m0 4v1m0 5v1m0 6v1m0 22v1m0 3v1m0 3v1m0 10v1M1816.0 8v1m0 1v1m0 4v1m0 5v1m0 6v1m0 8v2m0 6v1m0 2v1m0 2v1m0 88v1m0 3v1m0 5v1m0 2v2m0 3v3m0 11v1m0 5v1m0 14v1m0 10v2m0 2v1m0 4v1m0 2v1m0 2v2m0 6v1m0 2v1m0 3v1m0 9v1m0 11v2m0 23v1m0 8v1m0 6v1m0 17v1m0 6v1m0 2v1m0 3v1m0 6v1m0 2v1m0 30v1M1827.2 2v1m0 3v1m0 4v1m0 2v1m0 1v1m0 14v2m0 4v1m0 2v1m0 16v1m0 2v1m0 80v1m0 11v2m0 6v2m0 19v1m0 12v1m0 11v2m0 2v1m0 4v1m0 14v1m0 5v3m0 2v1m0 6v1m0 20v1m0 2v1m0 51v2m0 6v1m0 11v1m0 4v2m0 5v2m0 3v1m0 5v1M1838.5 9v1m0 3v1m0 2v1m0 19v1m0 6v1m0 4v1m0 6v1m0 6v3m0 80v1m0 11v1m0 3v2m0 1v1m0 3v1m0 3v1m0 1v2m0 3v1m0 5v1m0 22v1m0 4v1m0 2v1m0 1v1m0 1v1m0 19v1m0 2v1m0 13v1m0 4v1m0 5v2m0 2v1m0 19v1m0 12v2m0 5v1m0 2v2m0 1v1m0 10v1m0 5v1m0 4v1m0 1v1m0 5v1m0 6v1m0 16v1M1849.7 10v1m0 2v2m0 6v1m0 2v1m0 18v1m0 12v1m0 4v1m0 90v1m0 12v1m0 6v1m0 9v1m0 5v1m0 7v1m0 1v2m0 6v1m0 7v1m0 29v1m0 16v1m0 15v2m0 4v1m0 6v3m0 15v1m0 2v1m0 4v1m0 18v2m0 3v1m0 8v3M1860.9 12v1m0 3v1m0 2v1m0 1v1m0 1v1m0 8v1m0 31v1m0 3v1m0 1v1m0 1v1m0 14v2m0 6v1m0 9v1m0 1v1m0 4v1m0 12v2m0 12v1m0 1v2m0 11v1m0 5v1m0 1v1m0 14v1m0 31v1m0 2v2m0 9v1m0 4v1m0 9v1m0 33v2m0 3v1m0 10v1m0 2v1m0 17v2m0 4v1m0 6v1m0 2v1m0 1v1m0 3v1m0 3v1m0 13v3m0 6v1M1872.2 6v1m0 1v1m0 12v2m0 4v1m0 4v1m0 8v1m0 2v1m0 11v2m0 2v1m0 7v1m0 3v2m0 37v1m0 12v1m0 16v1m0 11v1m0 11v2m0 2v1m0 7v1m0 8v1m0 4v1m0 3v2m0 31v1m0 9v1m0 4v1m0 21v1m0 13v1m0 7v1m0 3v1m0 4v2m0 19v1m0 6v1m0 2v1m0 3v1m0 3v2m0 1v1m0 3v1m0 2v1m0 6v1m0 17v1M1883.4 7v1m0 5v1m0 8v1m0 3v1m0 4v1m0 9v1m0 3v1m0 29v1m0 2v1m0 6v1m0 11v1m0 4v1m0 27v1m0 6v1m0 27v3m0 5v1m0 3v1m0 9v3m0 7v1m0 1v1m0 10v1m0 16v1m0 2v1m0 2v1m0 5v3m0 8v1m0 9v1m0 2v2m0 2v1m0 11v1m0 4v1m0 4v1m0 8v1m0 3v1m0 1v1m0 10v2m0 1v1m0 9v1m0 8v1m0 1v1m0 2v1m0 3v1m0 4v1m0 4v1m0 9v1m0 1v1"/>
<path stroke="#ffeedd" d="M1052.4 255v1M1063.6 16v1m0 287v1M1086.1 281v1m0 1v1M1108.6 21v1m0 26v1m0 160v1M1119.8 25v1M1142.2 25v1m0 175v1m0 28v1m0 137v1M1153.5 157v1M1164.7 372v1M1187.2 27v1M1198.4 199v1M1220.9 294v1M1243.3 45v1M1254.5 68v1m0 235v1m0 63v1M1277.0 48v1m0 146v1m0 104v1M1288.2 297v1M1299.5 269v1m0 52v1M1310.7 47v1m0 9v1m0 9v1m0 177v1m0 53v1m0 14v1m0 29v1M1321.9 224v1M1333.1 220v1M1344.4 291v1m0 3v1m0 14v1M1355.6 26v1m0 167v1m0 56v1M1366.8 323v1M1378.1 26v1m0 117v1m0 97v2m0 74v1M1400.5 6v1m0 207v1M1411.8 16v1M1423.0 311v1M1434.2 219v1M1445.4 168v1m0 61v1M1456.7 253v1m0 16v1M1479.1 226v1m0 81v1M1490.4 187v1m0 171v1M1501.6 37v1M1535.3 54v1M1546.5 19v1m0 196v1M1557.7 358v1M1569.0 68v1m0 152v1m0 9v1M1580.2 252v1m0 97v1M1591.4 214v1M1613.9 184v1m0 144v1m0 30v1M1625.1 56v1M1636.3 348v1M1647.6 30v1M1658.8 22v1m0 221v1m0 59v1M1670.0 206v1M1681.3 335v1m0 28v1M1703.7 161v1m0 44v1M1726.2 287v1m0 35v1M1737.4 45v1M1759.9 160v1m0 162v1M1771.1 53v1M1793.6 211v1m0 141v1M1804.8 23v1m0 23v1m0 3v1m0 162v1m0 101v1M1827.2 185v1M1838.5 277v1m0 47v1M1872.2 125v1m0 4v1m0 208v1M1883.4 288v1"/>
<path stroke="#ffeeee" d="M1052.4 9v1m0 4v1m0 6v1m0 5v1m0 8v1m0 1v1m0 1v1m0 2v1m0 9v2m0 2v2m0 5v1m0 88v1m0 15v1m0 23v1m0 7v1m0 34v1m0 15v1m0 10v1m0 5v1m0 3v1m0 2v2m0 5v1m0 8v1m0 1v1m0 6v1m0 21v1m0 2v1m0 1v1m0 11v2m0 7v3m0 20v1M1063.6 37v1m0 1v2m0 15v1m0 4v1m0 1v1m0 2v1m0 92v2m0 11v1m0 8v1m0 11v1m0 7v1m0 2v2m0 8v1m0 10v1m0 18v1m0 1v3m0 1v2m0 66v1m0 4v1m0 11v1m0 5v1m0 4v6m0 5v1M1074.9 14v1m0 1v1m0 6v2m0 9v1m0 19v2m0 2v1m0 71v1m0 17v1m0 1v1m0 1v1m0 3v1m0 3v1m0 3v1m0 3v1m0 3v1m0 4v1m0 4v1m0 17v1m0 19v2m0 3v1m0 3v1m0 7v1m0 8v3m0 21v1m0 10v1m0 10v1m0 47v1m0 4v1m0 6v2M1086.1 8v1m0 7v1m0 3v1m0 6v1m0 2v1m0 3v1m0 3v3m0 12v2m0 2v1m0 2v2m0 1v2m0 1v1m0 1v1m0 90v2m0 32v1m0 10v2m0 2v1m0 5v1m0 4v2m0 2v1m0 43v1m0 24v1m0 36v2m0 16v1m0 2v1M1097.3 7v2m0 6v1m0 11v1m0 1v1m0 4v1m0 6v1m0 18v2m0 2v1m0 3v1m0 83v1m0 19v1m0 4v1m0 1v2m0 1v1m0 11v1m0 28v1m0 52v1m0 10v1m0 2v1m0 4v1m0 27v1m0 9v2m0 5v1m0 14v1m0 3v1m0 1v1m0 1v1m0 2v3M1108.6 6v1m0 1v1m0 5v1m0 5v1m0 6v1m0 28v2m0 2v2m0 115v1m0 1v1m0 31v1m0 41v1m0 13v1m0 2v1m0 28v1m0 4v1m0 9v1m0 25v1m0 4v2m0 2v1M1119.8 14v1m0 11v1m0 3v1m0 1v1m0 25v1m0 5v1m0 1v1m0 89v1m0 1v1m0 1v1m0 2v1m0 3v2m0 7v1m0 53v1m0 13v1m0 3v1m0 10v1m0 1v1m0 19v1m0 4v1m0 2v2m0 1v1m0 15v1m0 1v1m0 4v4m0 10v1m0 4v1m0 5v1m0 16v1M1131.0 6v1m0 2v3m0 4v1m0 4v1m0 8v1m0 7v1m0 8v1m0 9v1m0 10v1m0 87v1m0 20v1m0 52v1m0 11v1m0 7v1m0 1v2m0 14v2m0 2v2m0 52v1m0 6v1m0 1v1M1142.2 10v1m0 15v1m0 3v1m0 3v1m0 2v1m0 2v1m0 2v1m0 3v1m0 3v1m0 96v1m0 23v1m0 42v1m0 1v1m0 2v1m0 3v2m0 26v1m0 2v1m0 31v1m0 11v1m0 2v1m0 12v1m0 3v1m0 3v1m0 2v1m0 12v1m0 2v1m0 12v1m0 3v2M1153.5 10v1m0 11v1m0 3v1m0 1v2m0 4v1m0 1v1m0 1v3m0 2v1m0 12v1m0 6v2m0 96v1m0 10v1m0 28v1m0 2v1m0 1v1m0 6v2m0 1v1m0 2v1m0 5v2m0 25v2m0 3v1m0 3v1m0 3v1m0 7v1m0 2v1m0 4v1m0 1v1m0 15v2m0 9v1m0 8v1m0 6v1m0 28v1m0 16v1M1164.7 11v1m0 15v1m0 1v1m0 4v1m0 1v1m0 1v1m0 12v1m0 4v2m0 3v1m0 19v1m0 59v1m0 7v1m0 22v1m0 4v1m0 9v2m0 21v1m0 29v1m0 6v2m0 21v1m0 2v1m0 13v1m0 5v1m0 10v1m0 6v1m0 19v1m0 2v2m0 19v1M1175.9 20v1m0 7v2m0 4v1m0 3v1m0 6v1m0 12v1m0 1v1m0 2v1m0 93v1m0 1v2m0 8v1m0 2v1m0 5v1m0 15v2m0 5v2m0 8v1m0 2v1m0 35v1m0 19v1m0 16v1m0 5v1m0 10v1m0 6v1m0 35v1m0 3v1m0 7v1m0 4v1M1187.2 9v2m0 25v1m0 1v1m0 17v1m0 3v1m0 95v1m0 1v4m0 31v1m0 7v1m0 2v3m0 4v1m0 4v2m0 3v1m0 36v1m0 22v1m0 5v1m0 7v1m0 4v1m0 6v2m0 10v1m0 4v1m0 6v1m0 4v1m0 7v1m0 2v1m0 18v1m0 1v1m0 3v1M1198.4 11v1m0 2v2m0 14v1m0 24v1m0 92v1m0 3v1m0 39v1m0 2v1m0 37v1m0 61v1m0 29v1m0 23v2m0 17v1M1209.6 9v2m0 5v1m0 5v1m0 2v2m0 1v3m0 30v1m0 6v1m0 95v1m0 37v1m0 4v2m0 2v1m0 1v1m0 5v1m0 75v2m0 4v1m0 7v1m0 5v1m0 4v1m0 1v1m0 5v2m0 11v1m0 2v1m0 14v1m0 4v1M1220.9 21v1m0 5v4m0 3v1m0 16v1m0 4v2m0 4v1m0 85v1m0 3v1m0 3v2m0 6v2m0 3v1m0 2v1m0 9v1m0 5v1m0 1v1m0 1v1m0 12v1m0 7v1m0 19v1m0 12v1m0 3v1m0 36v1m0 34v1m0 2v1m0 2v1m0 10v1m0 19v1m0 1v2m0 9v1M1232.1 2v1m0 7v1m0 5v1m0 3v1m0 2v1m0 14v2m0 20v1m0 4v1m0 1v1m0 103v1m0 9v1m0 6v1m0 3v1m0 3v1m0 1v1m0 29v1m0 63v1m0 18v1m0 3v2m0 8v1m0 3v1m0 3v1m0 6v2m0 9v1M1243.3 8v1m0 4v2m0 6v2m0 2v1m0 8v1m0 4v1m0 3v1m0 6v1m0 35v1m0 65v1m0 1v1m0 8v4m0 6v1m0 14v1m0 2v1m0 2v1m0 3v1m0 7v1m0 7v1m0 25v1m0 9v1m0 16v1m0 6v2m0 3v1m0 3v1m0 11v3m0 3v2m0 3v1m0 1v2m0 1v1m0 6v1m0 6v1m0 2v1m0 31v1m0 1v1m0 3v1M1254.5 9v2m0 11v1m0 1v2m0 2v1m0 7v1m0 2v1m0 14v2m0 6v1m0 4v1m0 77v1m0 13v2m0 4v1m0 4v1m0 1v2m0 1v1m0 54v1m0 20v2m0 8v2m0 4v1m0 14v1m0 10v1m0 17v1m0 5v1m0 1v2m0 1v2m0 2v1m0 1v1m0 16v1m0 2v2m0 3v1m0 10v1M1265.8 16v1m0 10v1m0 1v1m0 7v1m0 1v2m0 6v2m0 2v1m0 12v1m0 95v1m0 10v1m0 39v1m0 40v1m0 14v1m0 21v1m0 2v1m0 15v1m0 1v2m0 1v1M1277.0 9v2m0 4v1m0 40v2m0 2v2m0 99v1m0 10v1m0 5v2m0 14v1m0 10v1m0 5v1m0 16v1m0 12v1m0 5v2m0 3v1m0 23v1m0 16v1m0 33v1m0 5v1M1288.2 14v1m0 6v1m0 5v1m0 3v1m0 6v1m0 22v1m0 1v2m0 94v1m0 11v1m0 10v1m0 24v1m0 6v1m0 6v1m0 29v1m0 10v1m0 7v1m0 24v1m0 4v2m0 1v1m0 15v1m0 20v1m0 4v1m0 3v1m0 3v1m0 10v1M1299.5 13v1m0 12v1m0 1v1m0 5v1m0 3v1m0 4v1m0 3v2m0 25v1m0 117v1m0 1v1m0 47v1m0 7v2m0 15v1m0 5v1m0 5v1m0 14v1m0 28v1m0 1v1m0 40v1m0 1v1M1310.7 7v1m0 5v2m0 3v1m0 3v1m0 4v1m0 9v1m0 1v2m0 10v1m0 1v2m0 1v1m0 3v1m0 2v2m0 55v1m0 31v1m0 3v1m0 1v1m0 13v1m0 19v1m0 8v1m0 12v2m0 3v3m0 3v1m0 5v1m0 8v1m0 6v1m0 14v1m0 16v1m0 1v1m0 8v2m0 2v1m0 5v1m0 22v2m0 23v2m0 10v1m0 6v1M1321.9 14v1m0 8v1m0 16v1m0 34v1m0 60v1m0 41v1m0 14v1m0 21v1m0 3v2m0 10v1m0 18v2m0 2v1m0 12v1m0 5v1m0 5v1m0 8v2m0 9v2m0 22v1m0 4v1m0 20v1m0 3v1m0 3v1m0 14v1M1333.1 9v2m0 3v1m0 1v1m0 14v1m0 4v1m0 20v1m0 10v1m0 90v2m0 8v1m0 2v1m0 28v1m0 5v1m0 6v1m0 6v1m0 3v1m0 16v1m0 7v1m0 2v1m0 13v1m0 8v1m0 4v2m0 7v1m0 18v1m0 3v2m0 26v1m0 2v1m0 15v1M1344.4 26v1m0 3v1m0 7v2m0 3v1m0 23v1m0 80v1m0 22v1m0 15v1m0 5v1m0 7v1m0 4v1m0 7v1m0 5v1m0 4v2m0 16v1m0 4v1m0 2v2m0 4v1m0 3v2m0 16v1m0 6v1m0 11v1m0 9v1m0 4v1m0 3v1m0 2v1m0 2v1m0 1v1m0 2v1m0 12v1m0 13v1m0 2v1m0 8v2M1355.6 16v1m0 3v1m0 7v2m0 6v1m0 1v1m0 6v1m0 11v1m0 100v1m0 37v1m0 17v1m0 1v1m0 9v1m0 3v2m0 25v2m0 1v2m0 5v1m0 4v2m0 26v1m0 3v1m0 6v1m0 16v1m0 15v2m0 2v1m0 2v1m0 5v1M1366.8 7v1m0 7v1m0 3v1m0 17v1m0 9v2m0 2v1m0 1v2m0 9v1m0 2v1m0 90v1m0 18v1m0 16v2m0 1v1m0 1v1m0 6v1m0 14v2m0 41v2m0 1v1m0 4v1m0 18v1m0 5v1m0 28v1m0 1v1m0 13v1m0 8v1m0 5v1M1378.1 22v1m0 13v1m0 9v1m0 9v1m0 3v2m0 83v1m0 13v1m0 19v1m0 18v1m0 22v1m0 9v1m0 16v1m0 8v1m0 2v1m0 9v1m0 21v1m0 1v2m0 3v1m0 47v1M1389.3 7v1m0 5v2m0 5v2m0 5v3m0 6v1m0 1v1m0 9v1m0 7v1m0 1v1m0 81v1m0 3v1m0 27v1m0 6v1m0 12v2m0 15v1m0 6v1m0 14v1m0 10v1m0 1v1m0 5v2m0 10v1m0 7v1m0 52v1m0 23v2m0 3v2m0 3v1m0 8v1M1400.5 17v1m0 3v1m0 5v1m0 6v1m0 5v1m0 4v1m0 2v2m0 1v1m0 2v2m0 12v1m0 92v1m0 24v1m0 18v2m0 44v1m0 13v1m0 6v1m0 5v1m0 6v1m0 2v1m0 3v1m0 22v2m0 9v1m0 1v1m0 26v1m0 2v2m0 8v1M1411.8 14v1m0 6v1m0 2v3m0 1v2m0 10v1m0 10v1m0 1v1m0 4v1m0 1v1m0 4v1m0 74v1m0 5v1m0 12v1m0 25v1m0 18v2m0 2v1m0 5v1m0 2v1m0 26v1m0 1v2m0 33v1m0 6v2m0 1v1m0 7v2m0 1v1m0 1v1m0 18v1m0 3v1m0 12v2m0 13v1M1423.0 13v2m0 12v1m0 1v2m0 1v1m0 3v1m0 6v1m0 13v1m0 6v3m0 91v1m0 10v1m0 2v2m0 4v1m0 6v1m0 15v1m0 12v1m0 68v1m0 8v1m0 54v1m0 7v1m0 5v1m0 4v2m0 2v1M1434.2 6v1m0 2v1m0 13v1m0 1v1m0 6v2m0 2v1m0 122v1m0 1v1m0 2v1m0 4v1m0 15v1m0 7v1m0 26v4m0 1v1m0 18v1m0 8v1m0 1v1m0 2v2m0 4v2m0 6v1m0 50v1m0 2v1m0 7v1m0 9v1m0 10v1M1445.4 7v2m0 4v2m0 5v1m0 5v1m0 2v1m0 6v1m0 10v1m0 8v1m0 1v1m0 4v2m0 88v1m0 6v1m0 16v2m0 14v1m0 31v1m0 5v1m0 20v2m0 8v1m0 5v2m0 2v1m0 43v1m0 1v1m0 5v1m0 25v1M1456.7 9v2m0 4v1m0 3v1m0 11v1m0 1v1m0 6v1m0 2v1m0 9v1m0 2v2m0 90v1m0 10v2m0 7v1m0 3v1m0 5v1m0 1v3m0 9v1m0 1v1m0 20v1m0 1v1m0 4v1m0 34v1m0 35v4m0 4v1m0 5v1m0 19v1m0 11v1m0 2v1m0 1v1m0 6v1M1467.9 9v1m0 17v2m0 8v1m0 1v2m0 5v1m0 7v2m0 84v1m0 9v1m0 8v1m0 11v1m0 8v2m0 6v1m0 4v1m0 12v1m0 13v1m0 4v1m0 29v1m0 1v1m0 25v1m0 21v3m0 38v2m0 1v1m0 1v1m0 5v2m0 1v1M1479.1 7v1m0 2v1m0 3v1m0 13v1m0 7v1m0 19v1m0 102v2m0 18v1m0 41v2m0 40v1m0 17v1m0 29v1m0 2v1m0 20v2m0 9v1m0 2v1m0 6v1m0 5v1M1490.4 9v1m0 3v2m0 5v1m0 1v1m0 5v1m0 5v1m0 2v1m0 2v1m0 2v1m0 14v1m0 1v1m0 79v1m0 9v1m0 1v1m0 4v1m0 14v3m0 1v1m0 2v1m0 37v1m0 1v1m0 2v2m0 1v1m0 8v1m0 15v2m0 18v1m0 28v1m0 2v1m0 35v1m0 2v1m0 5v1m0 1v3m0 3v1m0 2v1m0 1v1M1501.6 9v1m0 4v1m0 17v1m0 2v1m0 12v1m0 7v1m0 6v1m0 2v1m0 81v1m0 24v1m0 5v4m0 22v1m0 9v2m0 2v2m0 5v1m0 4v1m0 35v1m0 15v1m0 13v1m0 37v2m0 4v1M1512.8 16v1m0 3v2m0 25v1m0 6v2m0 1v1m0 8v1m0 77v1m0 3v1m0 7v3m0 10v1m0 7v1m0 27v1m0 8v1m0 6v1m0 1v1m0 13v1m0 19v1m0 4v1m0 16v1m0 31v1m0 34v2m0 1v2m0 10v1m0 4v1m0 1v1m0 1v1M1524.0 27v1m0 1v1m0 2v1m0 1v1m0 2v1m0 1v2m0 2v1m0 19v1m0 2v1m0 90v1m0 2v1m0 13v1m0 2v1m0 47v1m0 36v1m0 9v1m0 14v1m0 20v1m0 3v1m0 15v1m0 20v1m0 18v1M1535.3 9v1m0 6v1m0 3v1m0 6v1m0 4v1m0 3v2m0 9v1m0 3v1m0 1v1m0 1v1m0 2v1m0 3v1m0 4v1m0 93v1m0 1v1m0 8v1m0 6v1m0 25v2m0 5v1m0 1v1m0 6v1m0 3v1m0 2v1m0 13v1m0 10v1m0 39v1m0 3v1m0 25v1m0 3v1m0 1v1m0 11v2m0 1v1m0 1v1m0 8v1m0 7v1M1546.5 9v2m0 17v1m0 17v1m0 8v2m0 7v1m0 94v1m0 13v1m0 43v1m0 1v3m0 4v1m0 44v1m0 4v1m0 18v1m0 15v1m0 28v1m0 1v1m0 12v1m0 1v1m0 5v1M1557.7 28v1m0 1v1m0 5v1m0 6v1m0 1v1m0 3v1m0 5v1m0 1v1m0 8v1m0 73v1m0 15v2m0 6v1m0 10v1m0 17v1m0 1v1m0 5v1m0 14v1m0 17v1m0 7v1m0 7v1m0 1v1m0 5v1m0 17v1m0 23v1m0 1v1m0 8v1m0 33v2m0 4v1m0 3v1m0 16v1M1569.0 20v1m0 13v1m0 23v1m0 6v1m0 113v1m0 71v1m0 1v1m0 8v2m0 17v1m0 5v1m0 3v1m0 1v1m0 5v2m0 11v1m0 1v1m0 26v1m0 24v1m0 1v1M1580.2 9v2m0 2v1m0 10v2m0 17v1m0 2v1m0 15v1m0 5v1m0 90v2m0 4v1m0 2v1m0 8v1m0 7v1m0 14v2m0 14v1m0 8v1m0 9v2m0 14v1m0 1v1m0 16v1m0 24v1m0 1v1m0 12v1m0 18v1m0 18v1m0 2v1m0 14v1M1591.4 6v1m0 9v1m0 11v2m0 25v1m0 1v1m0 10v1m0 81v1m0 2v1m0 4v1m0 2v1m0 38v1m0 14v3m0 1v2m0 19v1m0 1v1m0 7v1m0 72v1m0 15v1m0 1v1m0 2v1M1602.7 28v2m0 3v1m0 1v1m0 15v1m0 6v1m0 4v1m0 1v1m0 1v1m0 91v1m0 18v2m0 21v1m0 2v1m0 4v1m0 3v1m0 2v2m0 2v1m0 5v1m0 15v1m0 1v1m0 42v1m0 34v2m0 3v1m0 1v1m0 3v1m0 1v1m0 26v1m0 3v1m0 1v1M1613.9 16v1m0 6v1m0 6v1m0 2v2m0 2v1m0 2v1m0 10v1m0 5v1m0 102v1m0 19v2m0 1v1m0 30v1m0 15v1m0 20v1m0 18v1m0 47v1m0 4v1m0 3v1m0 2v1m0 15v1M1625.1 9v1m0 3v1m0 12v1m0 1v1m0 23v1m0 11v1m0 87v1m0 7v1m0 33v1m0 3v1m0 2v1m0 26v1m0 33v1m0 7v1m0 16v1m0 4v1m0 27v1m0 7v1m0 23v1m0 5v1M1636.3 16v1m0 5v1m0 5v1m0 17v1m0 113v1m0 18v3m0 1v1m0 17v1m0 15v1m0 24v1m0 12v1m0 6v1m0 7v1m0 1v2m0 7v1m0 10v1m0 30v1m0 4v2m0 3v1m0 23v1M1647.6 9v1m0 10v1m0 6v3m0 122v1m0 3v2m0 11v1m0 23v1m0 34v1m0 2v1m0 2v1m0 2v1m0 22v3m0 24v1m0 4v1m0 48v1m0 9v1M1658.8 13v1m0 18v1m0 3v1m0 1v3m0 6v2m0 5v1m0 2v1m0 3v1m0 1v1m0 1v1m0 91v1m0 3v1m0 17v1m0 13v1m0 7v1m0 2v1m0 2v1m0 1v1m0 4v1m0 27v1m0 14v1m0 4v1m0 2v1m0 10v1m0 17v2m0 15v1m0 6v2m0 3v1m0 2v1m0 1v1m0 4v1m0 15v1m0 6v1m0 15v1M1670.0 6v1m0 1v3m0 2v1m0 6v1m0 1v2m0 8v1m0 1v1m0 1v1m0 1v3m0 6v1m0 5v2m0 2v1m0 8v1m0 87v1m0 6v2m0 6v1m0 7v2m0 4v1m0 9v1m0 4v1m0 2v1m0 3v1m0 8v1m0 2v1m0 1v2m0 7v1m0 13v1m0 10v1m0 33v1m0 31v1m0 8v1m0 22v1m0 1v1m0 1v1m0 3v1m0 6v1m0 5v1M1681.3 10v1m0 8v1m0 2v1m0 15v2m0 7v2m0 9v1m0 1v1m0 4v1m0 86v1m0 1v1m0 1v1m0 10v1m0 8v1m0 1v1m0 1v1m0 13v2m0 4v1m0 3v3m0 21v1m0 13v1m0 8v1m0 10v2m0 17v1m0 11v1m0 1v1m0 6v1m0 1v1m0 5v1m0 4v1m0 3v1m0 6v3m0 5v1m0 6v1m0 7v3m0 3v1M1692.5 173v1m0 37v1m0 2v1m0 1v2m0 5v1m0 34v1m0 3v1m0 7v1m0 12v1m0 3v1m0 4v1m0 33v1m0 8v1m0 8v1M1703.7 9v2m0 8v2m0 10v1m0 11v1m0 3v2m0 114v1m0 3v1m0 1v1m0 6v1m0 3v1m0 4v1m0 1v1m0 13v1m0 11v2m0 10v1m0 55v1m0 4v2m0 31v1m0 6v1m0 14v1m0 4v1m0 1v3m0 4v1m0 1v1M1714.9 6v1m0 19v1m0 3v1m0 12v1m0 3v1m0 5v2m0 4v1m0 3v1m0 92v1m0 7v1m0 13v1m0 14v1m0 4v1m0 94v1m0 6v1m0 18v1m0 3v1m0 1v3m0 2v1m0 16v1m0 24v1M1726.2 9v1m0 2v1m0 6v1m0 16v1m0 6v1m0 3v2m0 9v1m0 81v1m0 11v1m0 3v2m0 4v1m0 14v2m0 3v1m0 16v1m0 16v2m0 1v1m0 31v1m0 51v1m0 6v2m0 3v1m0 39v1m0 6v1M1737.4 20v1m0 1v2m0 8v1m0 3v1m0 3v1m0 3v1m0 2v1m0 2v1m0 5v1m0 1v1m0 6v1m0 74v1m0 18v2m0 10v1m0 8v3m0 18v1m0 4v1m0 1v1m0 2v1m0 30v1m0 10v1m0 3v1m0 9v1m0 11v1m0 1v1m0 5v1m0 4v1m0 30v1m0 16v1m0 10v1m0 5v1m0 2v1m0 3v1m0 7v1M1748.6 15v3m0 3v1m0 1v1m0 11v2m0 2v1m0 13v3m0 7v2m0 75v1m0 7v1m0 8v1m0 3v2m0 29v1m0 5v1m0 2v1m0 51v1m0 13v1m0 2v1m0 1v2m0 5v1m0 3v1m0 7v1m0 5v1m0 2v1m0 22v1m0 4v1m0 15v1m0 27v1M1759.9 9v2m0 5v1m0 2v1m0 6v1m0 1v1m0 1v1m0 6v1m0 5v1m0 4v1m0 2v1m0 14v1m0 81v1m0 10v1m0 4v1m0 12v1m0 1v2m0 10v1m0 24v1m0 34v1m0 47v2m0 7v3m0 2v1m0 2v1m0 1v2m0 6v1m0 8v1m0 8v1m0 3v1m0 2v1m0 3v1M1771.1 9v1m0 15v2m0 12v1m0 26v1m0 8v1m0 82v2m0 5v1m0 6v1m0 20v1m0 7v1m0 14v1m0 14v1m0 19v1m0 3v1m0 3v1m0 30v1M1782.3 6v1m0 2v1m0 13v1m0 8v1m0 7v1m0 7v1m0 7v1m0 6v1m0 93v1m0 1v2m0 10v1m0 109v1m0 5v1m0 34v1m0 1v2m0 7v2m0 5v1m0 1v1m0 29v1M1793.6 19v1m0 9v1m0 10v1m0 4v1m0 10v1m0 1v1m0 1v1m0 2v1m0 100v1m0 28v1m0 26v1m0 90v1m0 10v1m0 4v1m0 12v1m0 6v1M1804.8 0v1m0 2v1m0 9v1m0 6v1m0 15v1m0 2v2m0 17v1m0 2v1m0 2v1m0 1v1m0 75v1m0 31v1m0 3v1m0 1v1m0 7v1m0 4v1m0 13v1m0 3v1m0 18v1m0 3v1m0 9v1m0 3v1m0 3v1m0 4v1m0 3v1m0 8v1m0 16v1m0 4v1m0 11v1m0 10v1m0 11v1m0 1v1m0 10v2m0 30v1M1816.0 14v1m0 5v1m0 9v1m0 3v1m0 4v2m0 6v1m0 5v1m0 98v1m0 4v1m0 13v1m0 5v1m0 1v1m0 41v1m0 9v1m0 23v1m0 5v1m0 2v1m0 3v1m0 1v1m0 1v2m0 3v1m0 9v1m0 3v1m0 31v1m0 2v1m0 18v3m0 7v1m0 2v1M1827.2 5v1m0 2v1m0 3v1m0 7v1m0 6v3m0 5v2m0 17v2m0 5v1m0 1v3m0 74v1m0 8v1m0 2v1m0 3v2m0 1v1m0 34v1m0 2v1m0 7v2m0 6v1m0 67v1m0 5v1m0 3v1m0 12v1m0 17v1m0 32v1M1838.5 28v2m0 7v1m0 1v1m0 7v1m0 8v3m0 1v2m0 4v1m0 1v1m0 45v1m0 54v1m0 3v1m0 3v1m0 36v1m0 2v1m0 1v1m0 24v2m0 17v1m0 12v1m0 10v1m0 5v1m0 25v1m0 10v1m0 13v1m0 5v2M1849.7 15v1m0 4v1m0 9v1m0 3v1m0 5v1m0 6v1m0 9v1m0 2v1m0 2v1m0 4v1m0 87v2m0 1v2m0 3v1m0 4v1m0 1v1m0 5v1m0 14v1m0 2v1m0 23v3m0 6v1m0 1v2m0 2v1m0 7v1m0 4v1m0 10v1m0 1v1m0 6v1m0 25v1m0 10v1m0 17v1m0 7v1m0 3v1m0 6v1M1860.9 6v1m0 3v1m0 9v1m0 3v1m0 5v1m0 34v1m0 3v1m0 15v2m0 10v1m0 16v1m0 1v1m0 6v2m0 6v3m0 1v1m0 1v1m0 12v1m0 13v3m0 4v1m0 1v2m0 1v1m0 3v2m0 3v1m0 10v1m0 11v1m0 7v1m0 12v2m0 11v1m0 33v1m0 1v2m0 2v2m0 10v1m0 28v1m0 4v1m0 4v1m0 6v1m0 6v1m0 9v1m0 3v2m0 3v1M1872.2 11v1m0 3v1m0 2v1m0 1v1m0 3v1m0 14v1m0 7v2m0 1v1m0 7v1m0 11v1m0 10v1m0 11v1m0 16v1m0 5v1m0 14v1m0 24v1m0 1v1m0 5v1m0 7v1m0 9v1m0 1v1m0 9v1m0 4v1m0 13v1m0 5v1m0 24v1m0 6v1m0 16v1m0 23v2m0 10v1m0 3v1m0 6v2m0 1v1m0 3v1m0 2v1m0 7v2m0 11v1m0 4v1M1883.4 6v1m0 1v1m0 1v1m0 4v1m0 4v1m0 4v1m0 1v1m0 7v1m0 3v1m0 9v1m0 1v1m0 4v3m0 1v1m0 3v2m0 2v1m0 3v2m0 6v1m0 2v1m0 10v2m0 4v1m0 7v1m0 2v1m0 6v1m0 2v3m0 11v2m0 35v1m0 9v1m0 8v2m0 1v1m0 3v1m0 1v1m0 2v1m0 3v1m0 14v1m0 3v1m0 2v1m0 1v1m0 4v1m0 1v1m0 4v2m0 1v1m0 2v1m0 15v1m0 16v1m0 3v1m0 3v1m0 3v1m0 16v1m0 14v1m0 8v2m0 3v1m0 16v1m0 4v1m0 9v1"/>
<path stroke="#ffffee" d="M1052.4 253v1M1063.6 243v1m0 78v1m0 17v1M1153.5 14v1M1164.7 39v1M1187.2 257v1m0 65v1M1198.4 16v1M1310.7 355v1M1333.1 53v1M1434.2 268v1M1625.1 37v1M1692.5 22v1M1726.2 194v1M1748.6 340v1M1793.6 180v1M1860.9 158v1"/>
<path stroke="#ffffff" d="M1052.4 16v1m0 3v1m0 8v2m0 3v1m0 2v1m0 1v1m0 26v1m0 73v1m0 11v1m0 7v1m0 81v1m0 8v1m0 15v1m0 4v1m0 8v1m0 11v1m0 5v1m0 2v1m0 4v1M1063.6 21v1m0 12v1m0 1v1m0 9v1m0 73v1m0 6v1m0 43v1m0 8v1m0 6v1m0 20v1m0 27v1m0 118v1M1074.9 13v1m0 8v1m0 2v2m0 3v1m0 35v1m0 16v1m0 19v1m0 10v1m0 5v1m0 36v1m0 1v1m0 9v1m0 37v1m0 5v1m0 14v1m0 13v1m0 8v1m0 74v1m0 1v2m0 8v1m0 2v1m0 4v1m0 8v1m0 1v1m0 14v1M1086.1 37v1m0 4v2m0 12v1m0 8v1m0 14v1m0 11v1m0 118v1m0 13v1m0 10v1m0 5v1m0 44v1m0 67v1M1097.3 13v2m0 6v1m0 14v1m0 29v1m0 58v1m0 1v1m0 43v1m0 14v1m0 6v1m0 7v1m0 23v1m0 44v1m0 12v1m0 15v1m0 29v1m0 11v1m0 18v1m0 1v1m0 9v1M1108.6 37v1m0 3v2m0 20v1m0 4v1m0 17v1m0 61v1m0 59v1m0 4v2m0 61v1m0 10v1m0 4v2m0 15v1m0 5v1m0 2v2m0 6v1m0 20v1M1119.8 29v1m0 4v1m0 28v1m0 42v1m0 50v1m0 1v1m0 6v1m0 2v1m0 4v2m0 38v1m0 16v1m0 11v1m0 26v1m0 20v1m0 1v3m0 4v1m0 22v1m0 2v1m0 6v1m0 22v1M1131.0 14v1m0 5v1m0 18v2m0 17v1m0 49v1m0 29v1m0 18v1m0 1v2m0 2v1m0 61v1m0 5v1m0 19v1m0 25v1m0 6v2m0 54v1m0 15v1M1142.2 22v1m0 5v2m0 6v1m0 20v1m0 72v1m0 52v1m0 9v1m0 11v1m0 5v1m0 41v1m0 46v1m0 11v1m0 21v1M1153.5 13v1m0 2v1m0 30v2m0 9v1m0 91v1m0 5v1m0 3v1m0 44v1m0 62v2m0 2v1m0 19v1m0 1v2m0 8v1M1164.7 9v2m0 4v1m0 4v1m0 33v1m0 3v1m0 6v1m0 2v2m0 5v1m0 59v2m0 3v1m0 14v1m0 2v1m0 2v1m0 23v1m0 7v1m0 37v1m0 19v1m0 1v1m0 68v1m0 1v1m0 8v1m0 6v2m0 5v1m0 3v1M1175.9 27v1m0 2v1m0 5v1m0 2v2m0 2v1m0 3v2m0 17v1m0 107v2m0 1v1m0 89v1m0 13v1m0 17v1m0 72v1M1187.2 16v1m0 3v1m0 9v1m0 8v2m0 2v1m0 14v1m0 2v2m0 4v1m0 58v1m0 23v1m0 1v1m0 9v1m0 22v1m0 84v1m0 28v1m0 4v1m0 20v1m0 3v1m0 4v1M1198.4 6v1m0 2v2m0 2v1m0 11v2m0 1v1m0 27v2m0 8v1m0 80v1m0 11v1m0 9v1m0 23v1m0 4v1m0 1v2m0 8v1m0 5v1m0 2v2m0 107v2M1209.6 34v1m0 1v1m0 1v1m0 3v2m0 4v1m0 2v2m0 94v1m0 23v1m0 5v1m0 28v1m0 71v1m0 19v2m0 3v2m0 1v1m0 5v2m0 5v1m0 5v1m0 46v1M1220.9 9v1m0 3v1m0 2v1m0 3v1m0 15v1m0 1v1m0 2v1m0 2v2m0 2v2m0 13v2m0 85v1m0 9v1m0 16v2m0 6v1m0 7v1m0 12v2m0 27v1m0 63v1m0 23v1m0 29v1m0 6v1M1232.1 1v1m0 20v1m0 1v1m0 3v1m0 5v1m0 2v1m0 5v1m0 19v1m0 4v1m0 41v1m0 45v2m0 2v1m0 19v1m0 1v1m0 14v1m0 4v1m0 11v1m0 8v1m0 69v1m0 14v1m0 10v1m0 6v1m0 1v1m0 6v1M1243.3 16v1m0 3v1m0 5v1m0 20v2m0 4v2m0 1v1m0 73v1m0 17v1m0 1v1m0 5v1m0 4v1m0 7v1m0 2v1m0 6v4m0 6v1m0 10v1m0 50v1m0 11v1m0 12v1m0 4v1m0 9v1m0 7v1m0 4v1m0 18v1M1254.5 0v2m0 11v1m0 1v2m0 9v2m0 1v1m0 7v1m0 19v1m0 2v2m0 3v1m0 5v1m0 64v1m0 11v1m0 15v1m0 13v1m0 14v1m0 37v1m0 1v1m0 8v1m0 49v1m0 15v1m0 7v1m0 16v1m0 12v2m0 7v1m0 4v1m0 5v1M1265.8 14v1m0 4v1m0 1v1m0 12v1m0 3v1m0 4v1m0 13v1m0 8v1m0 70v1m0 76v1m0 13v1m0 32v1m0 28v1m0 2v1m0 18v1m0 4v2M1277.0 14v1m0 5v1m0 7v2m0 28v1m0 10v1m0 28v1m0 12v1m0 4v1m0 43v1m0 10v1m0 5v1m0 2v3m0 10v1m0 12v1m0 7v1m0 29v1m0 6v1m0 71v3m0 3v1M1288.2 16v1m0 3v1m0 11v1m0 1v1m0 4v1m0 18v1m0 118v2m0 25v2m0 19v1m0 57v1m0 8v1m0 9v1m0 1v1m0 36v1m0 13v1m0 6v2m0 4v1M1299.5 14v1m0 5v1m0 15v1m0 2v2m0 81v1m0 49v1m0 28v1m0 60v1m0 63v1M1310.7 6v1m0 1v1m0 7v1m0 2v2m0 8v1m0 4v1m0 33v1m0 32v1m0 46v1m0 8v1m0 48v1m0 4v1m0 1v1m0 2v2m0 28v1m0 1v1m0 8v1m0 12v1m0 44v2m0 2v1m0 5v1m0 40v1M1321.9 9v1m0 12v1m0 6v1m0 4v1m0 1v2m0 9v1m0 35v1m0 9v1m0 4v1m0 60v1m0 12v1m0 4v1m0 5v1m0 32v1m0 9v1m0 63v2M1333.1 29v2m0 3v1m0 2v1m0 18v1m0 1v1m0 1v1m0 28v1m0 161v1m0 31v1m0 3v1m0 20v1m0 1v1m0 4v4m0 4v1m0 48v1M1344.4 9v2m0 17v2m0 6v1m0 3v1m0 5v1m0 18v1m0 55v1m0 122v1m0 5v1m0 32v1m0 10v1m0 19v1m0 1v1m0 2v1m0 6v1m0 24v1M1355.6 27v1m0 9v1m0 1v2m0 2v1m0 7v1m0 26v1m0 8v1m0 68v2m0 1v2m0 10v1m0 21v1m0 6v1m0 10v1m0 9v1m0 37v1m0 10v1m0 16v1m0 37v1m0 23v2M1366.8 6v1m0 2v1m0 3v1m0 13v1m0 27v1m0 1v2m0 1v2m0 1v1m0 2v1m0 59v1m0 38v2m0 2v1m0 2v1m0 1v1m0 3v1m0 19v1m0 15v1m0 48v1m0 6v1m0 16v1m0 11v2m0 34v1m0 5v1m0 2v2m0 2v2M1378.1 27v1m0 35v2m0 1v1m0 35v1m0 46v1m0 10v1m0 10v1m0 36v1m0 8v1m0 1v1m0 2v1m0 9v2m0 25v1m0 44v1m0 36v1m0 13v1M1389.3 3v1m0 2v1m0 2v2m0 5v1m0 13v1m0 6v1m0 1v1m0 3v1m0 22v1m0 31v1m0 102v1m0 12v1m0 78v1m0 10v1m0 21v1m0 6v1m0 6v1m0 1v1m0 6v1m0 5v1M1400.5 9v2m0 2v2m0 5v1m0 26v1m0 13v1m0 2v1m0 1v1m0 104v2m0 26v1m0 1v1m0 29v1m0 31v1m0 3v1m0 2v1m0 8v1m0 1v1m0 11v1m0 31v1m0 14v1m0 21v1m0 3v1M1411.8 9v2m0 2v1m0 6v1m0 1v1m0 20v1m0 20v1m0 79v2m0 2v1m0 63v1m0 29v1m0 5v1m0 1v2m0 22v1m0 1v1m0 15v2m0 17v1m0 13v1m0 42v1M1423.0 16v1m0 11v1m0 5v1m0 2v1m0 2v1m0 5v1m0 130v1m0 1v1m0 13v1m0 18v1m0 37v1m0 1v2m0 4v2m0 21v1m0 5v1m0 5v1m0 25v1m0 3v1m0 4v1m0 4v1m0 7v1m0 20v1m0 5v1M1434.2 13v1m0 2v1m0 5v1m0 1v1m0 1v1m0 1v1m0 124v1m0 18v1m0 39v1m0 37v2m0 10v2m0 9v1m0 66v2M1445.4 16v1m0 10v1m0 9v1m0 2v1m0 5v1m0 19v1m0 92v1m0 14v1m0 4v1m0 6v1m0 2v1m0 18v1m0 3v1m0 21v1m0 20v1m0 11v1m0 19v1m0 40v1m0 22v1m0 19v1M1456.7 14v1m0 6v1m0 5v1m0 4v1m0 1v1m0 2v1m0 13v1m0 6v1m0 4v4m0 23v1m0 78v1m0 7v1m0 22v1m0 15v1m0 2v1m0 3v1m0 2v1m0 16v1m0 69v3m0 7v1m0 4v1m0 26v1M1467.9 13v1m0 15v2m0 26v2m0 7v1m0 36v1m0 16v1m0 64v2m0 24v1m0 1v1m0 7v1m0 47v1m0 3v1m0 13v1m0 24v1m0 9v1m0 27v1m0 4v1M1479.1 6v1m0 1v1m0 4v1m0 13v1m0 2v1m0 1v1m0 1v1m0 2v1m0 1v2m0 2v1m0 22v1m0 1v1m0 79v1m0 8v1m0 65v1m0 63v1m0 54v1m0 4v1M1490.4 16v1m0 10v1m0 1v1m0 19v1m0 3v1m0 1v1m0 1v1m0 3v1m0 1v1m0 1v1m0 2v1m0 79v1m0 10v2m0 8v1m0 20v1m0 25v1m0 3v2m0 6v1m0 58v1m0 13v1m0 2v1m0 18v1m0 21v1M1501.6 16v1m0 13v1m0 2v2m0 12v1m0 3v1m0 107v2m0 24v1m0 1v1m0 24v1m0 9v1m0 2v1m0 17v1m0 60v1M1512.8 11v1m0 25v1m0 5v1m0 7v1m0 1v1m0 2v1m0 1v1m0 113v1m0 6v1m0 32v1m0 12v1m0 19v1m0 17v1m0 3v1m0 2v1m0 16v1m0 30v1m0 9v2m0 11v1m0 10v2m0 1v1m0 4v1m0 3v1m0 6v1M1524.0 10v1m0 4v1m0 14v1m0 16v2m0 33v1m0 73v1m0 2v1m0 12v1m0 2v1m0 3v1m0 62v1m0 7v1m0 39v1m0 13v1m0 6v1m0 28v1m0 14v1m0 16v1M1535.3 29v1m0 4v1m0 3v2m0 3v1m0 24v1m0 95v1m0 12v1m0 39v1m0 33v1m0 47v2m0 3v1m0 23v1m0 11v1m0 21v1m0 9v1M1546.5 11v1m0 4v1m0 3v1m0 1v1m0 4v1m0 1v1m0 13v1m0 14v1m0 4v1m0 114v2m0 14v1m0 128v1m0 3v1m0 44v1M1557.7 27v1m0 1v1m0 11v1m0 5v2m0 2v1m0 98v1m0 20v1m0 36v1m0 21v2m0 19v1m0 1v1m0 3v1m0 9v1m0 36v1m0 35v2m0 5v1M1569.0 28v2m0 22v1m0 4v1m0 5v2m0 1v1m0 83v1m0 8v2m0 51v1m0 29v1m0 27v1m0 2v1m0 18v1m0 11v1m0 10v1m0 39v1m0 16v1M1580.2 2v1m0 13v1m0 9v1m0 2v1m0 33v2m0 19v1m0 79v1m0 7v1m0 7v3m0 10v1m0 18v1m0 1v1m0 13v1m0 1v2m0 2v1m0 56v1m0 1v1m0 23v1m0 10v1m0 16v3m0 24v1M1591.4 9v2m0 16v1m0 2v1m0 11v1m0 13v1m0 1v1m0 4v1m0 2v1m0 73v1m0 15v2m0 21v1m0 13v1m0 27v1m0 29v1m0 23v1m0 11v1M1602.7 27v1m0 4v1m0 3v1m0 2v2m0 4v1m0 6v2m0 10v1m0 1v1m0 105v1m0 35v1m0 5v1m0 4v1m0 1v1m0 3v1m0 54v1m0 36v1m0 22v2m0 16v1M1613.9 24v3m0 1v2m0 2v1m0 13v1m0 11v1m0 65v1m0 68v1m0 85v1m0 7v1m0 31v1m0 8v1m0 4v1M1625.1 46v1m0 6v1m0 12v1m0 62v1m0 1v1m0 22v1m0 1v1m0 2v1m0 22v1m0 50v1m0 15v1m0 43v1m0 32v1m0 22v1m0 1v1M1636.3 27v1m0 4v1m0 2v1m0 24v2m0 1v3m0 2v1m0 42v1m0 70v1m0 2v1m0 18v1m0 16v1m0 11v1m0 33v1m0 19v1m0 5v1m0 32v1M1647.6 16v1m0 29v1m0 19v1m0 116v1m0 68v2m0 4v2m0 33v1M1658.8 8v3m0 5v1m0 3v1m0 7v1m0 5v1m0 2v1m0 18v1m0 1v1m0 5v1m0 1v1m0 53v1m0 27v1m0 59v1m0 2v1m0 4v1m0 29v2m0 48v1m0 1v1m0 42v1m0 6v1m0 8v1M1670.0 24v2m0 1v2m0 8v1m0 18v1m0 1v1m0 38v1m0 58v2m0 63v1m0 29v1m0 106v1M1681.3 4v2m0 7v2m0 5v1m0 5v1m0 4v1m0 5v1m0 7v1m0 5v1m0 4v2m0 97v1m0 5v3m0 2v1m0 1v1m0 1v1m0 2v1m0 19v1m0 17v1m0 99v1m0 10v1m0 49v1M1692.5 14v1m0 1v1m0 7v2m0 9v1m0 10v1m0 122v1m0 2v1m0 6v1m0 13v1m0 58v1m0 2v1m0 1v1m0 3v1m0 31v1m0 29v1m0 17v1M1703.7 16v1m0 4v1m0 1v3m0 7v1m0 1v1m0 2v3m0 15v2m0 8v1m0 90v1m0 7v2m0 8v1m0 2v1m0 29v1m0 24v1m0 113v1m0 3v1m0 20v1M1714.9 9v1m0 6v1m0 3v1m0 3v2m0 2v1m0 7v4m0 15v2m0 9v1m0 61v1m0 24v1m0 15v1m0 2v1m0 4v1m0 1v1m0 53v1m0 53v1m0 40v1m0 11v1m0 5v1m0 1v3m0 4v1M1726.2 14v2m0 4v2m0 1v1m0 1v1m0 4v1m0 2v1m0 4v2m0 11v1m0 14v1m0 38v1m0 42v1m0 10v1m0 1v1m0 1v1m0 7v1m0 1v1m0 5v1m0 72v1m0 2v1m0 1v2m0 60v1m0 20v2M1737.4 13v1m0 2v1m0 7v4m0 2v1m0 6v3m0 9v1m0 13v2m0 112v1m0 72v2m0 3v1m0 37v1m0 47v1m0 13v1m0 14v1M1748.6 9v1m0 3v1m0 8v1m0 3v1m0 10v2m0 1v1m0 2v1m0 12v1m0 99v1m0 3v1m0 10v1m0 21v1m0 87v1m0 5v1m0 4v1m0 6v1m0 26v1m0 14v1m0 4v1m0 8v1M1759.9 21v1m0 5v1m0 1v1m0 10v1m0 6v1m0 79v1m0 43v2m0 9v1m0 2v1m0 1v2m0 105v1m0 16v2m0 1v1m0 25v2m0 30v1M1771.1 28v1m0 1v1m0 6v1m0 2v1m0 14v1m0 3v1m0 23v1m0 197v1m0 44v1m0 13v2M1782.3 27v4m0 3v1m0 11v1m0 206v1m0 72v1m0 1v2m0 25v1M1793.6 16v1m0 13v1m0 3v1m0 2v1m0 5v1m0 17v1m0 90v1m0 6v2m0 10v1m0 132v1m0 19v1m0 1v1m0 1v2M1804.8 1v1m0 8v1m0 11v1m0 4v4m0 6v1m0 92v1m0 38v1m0 2v1m0 4v1m0 9v1m0 12v1m0 7v1m0 22v1m0 10v1m0 10v1m0 69v1m0 1v2m0 1v1M1816.0 4v1m0 4v1m0 6v1m0 40v1m0 193v2m0 9v1m0 4v1m0 8v1m0 27v1m0 35v2M1827.2 13v1m0 20v1m0 11v1m0 9v1m0 1v1m0 7v1m0 93v1m0 10v1m0 42v1m0 77v1m0 30v1M1838.5 27v1m0 121v1m0 43v1m0 6v1m0 41v1m0 8v1m0 15v1m0 2v1m0 55v1m0 14v1M1849.7 22v1m0 6v1m0 8v2m0 26v1m0 40v1m0 4v1m0 17v1m0 47v1m0 1v1m0 13v1m0 5v1m0 21v1m0 28v1m0 1v1m0 5v1m0 27v1m0 35v1m0 3v1m0 1v1m0 3v1m0 21v1M1860.9 11v1m0 3v1m0 6v1m0 2v1m0 11v3m0 13v1m0 9v1m0 29v1m0 7v1m0 8v1m0 8v1m0 2v1m0 7v1m0 12v2m0 11v2m0 17v1m0 3v1m0 13v1m0 1v1m0 1v2m0 5v1m0 2v1m0 3v1m0 3v1m0 2v1m0 2v2m0 8v1m0 30v1m0 29v1m0 9v1m0 1v1m0 6v1m0 6v2m0 6v1m0 7v1m0 6v1m0 17v2m0 11v1M1872.2 9v2m0 8v1m0 9v1m0 6v1m0 3v1m0 2v1m0 5v1m0 13v1m0 14v1m0 3v1m0 2v1m0 4v1m0 6v1m0 4v1m0 10v1m0 6v1m0 7v1m0 6v3m0 10v1m0 11v1m0 10v1m0 9v1m0 11v1m0 6v1m0 10v1m0 19v1m0 8v3m0 19v1m0 15v1m0 24v1m0 15v1m0 9v1M1883.4 9v1m0 4v1m0 14v1m0 3v1m0 6v1m0 7v1m0 14v1m0 6v1m0 18v3m0 4v1m0 13v1m0 13v1m0 23v1m0 10v2m0 7v1m0 2v1m0 9v1m0 13v1m0 8v2m0 7v1m0 6v1m0 2v1m0 1v1m0 16v1m0 8v1m0 31v1m0 15v1m0 38v1m0 2v1"/>
</g>
<rect x="1044.8" y="562.3" width="2" height="375" fill="#fff"/>
<rect x="1889.0" y="562.3" width="2" height="375" fill="#fff"/>
<g font-size="10.3" stroke="#000" stroke-width="0.18">
<text transform="translate(1053.90 557.7) rotate(-90) scale(0.905 1)">TMBIM1</text>
<text transform="translate(1065.12 557.7) rotate(-90) scale(0.905 1)">FUCA2</text>
<text transform="translate(1076.35 557.7) rotate(-90) scale(0.905 1)">CD63</text>
<text transform="translate(1087.57 557.7) rotate(-90) scale(0.905 1)">SQSTM1</text>
<text transform="translate(1098.80 557.7) rotate(-90) scale(0.905 1)">ATP6V0E1</text>
<text transform="translate(1110.02 557.7) rotate(-90) scale(0.905 1)">DHX32</text>
<text transform="translate(1121.24 557.7) rotate(-90) scale(0.905 1)">LTBR</text>
<text transform="translate(1132.47 557.7) rotate(-90) scale(0.905 1)">LGALS3</text>
<text transform="translate(1143.69 557.7) rotate(-90) scale(0.905 1)">S100A6</text>
<text transform="translate(1154.92 557.7) rotate(-90) scale(0.905 1)">S100A10</text>
<text transform="translate(1166.14 557.7) rotate(-90) scale(0.905 1)">S100A11</text>
<text transform="translate(1177.36 557.7) rotate(-90) scale(0.905 1)">PERP</text>
<text transform="translate(1188.59 557.7) rotate(-90) scale(0.905 1)">S100A16</text>
<text transform="translate(1199.81 557.7) rotate(-90) scale(0.905 1)">C19orf33</text>
<text transform="translate(1211.04 557.7) rotate(-90) scale(0.905 1)">GPRC5A</text>
<text transform="translate(1222.26 557.7) rotate(-90) scale(0.905 1)">ABCC3</text>
<text transform="translate(1233.48 557.7) rotate(-90) scale(0.905 1)">PLCD3</text>
<text transform="translate(1244.71 557.7) rotate(-90) scale(0.905 1)">NQO1</text>
<text transform="translate(1255.93 557.7) rotate(-90) scale(0.905 1)">SNX9</text>
<text transform="translate(1267.16 557.7) rotate(-90) scale(0.905 1)">SLC35D2</text>
<text transform="translate(1278.38 557.7) rotate(-90) scale(0.905 1)">NIBAN2</text>
<text transform="translate(1289.60 557.7) rotate(-90) scale(0.905 1)">CAPN2</text>
<text transform="translate(1300.83 557.7) rotate(-90) scale(0.905 1)">LMNA</text>
<text transform="translate(1312.05 557.7) rotate(-90) scale(0.905 1)">CD151</text>
<text transform="translate(1323.28 557.7) rotate(-90) scale(0.905 1)">AHNAK</text>
<text transform="translate(1334.50 557.7) rotate(-90) scale(0.905 1)">RHOC</text>
<text transform="translate(1345.72 557.7) rotate(-90) scale(0.905 1)">PLS3</text>
<text transform="translate(1356.95 557.7) rotate(-90) scale(0.905 1)">SNX7</text>
<text transform="translate(1368.17 557.7) rotate(-90) scale(0.905 1)">MANBAL</text>
<text transform="translate(1379.40 557.7) rotate(-90) scale(0.905 1)">NCKAP1</text>
<text transform="translate(1390.62 557.7) rotate(-90) scale(0.905 1)">CTTN</text>
<text transform="translate(1401.84 557.7) rotate(-90) scale(0.905 1)">TJP1</text>
<text transform="translate(1413.07 557.7) rotate(-90) scale(0.905 1)">BCAR1</text>
<text transform="translate(1424.29 557.7) rotate(-90) scale(0.905 1)">SEPTIN10</text>
<text transform="translate(1435.52 557.7) rotate(-90) scale(0.905 1)">PRSS23</text>
<text transform="translate(1446.74 557.7) rotate(-90) scale(0.905 1)">SDC4</text>
<text transform="translate(1457.96 557.7) rotate(-90) scale(0.905 1)">ITGA3</text>
<text transform="translate(1469.19 557.7) rotate(-90) scale(0.905 1)">MYOF</text>
<text transform="translate(1480.41 557.7) rotate(-90) scale(0.905 1)">YAP1</text>
<text transform="translate(1491.64 557.7) rotate(-90) scale(0.905 1)">TNFRSF12A</text>
<text transform="translate(1502.86 557.7) rotate(-90) scale(0.905 1)">EPHA2</text>
<text transform="translate(1514.08 557.7) rotate(-90) scale(0.905 1)">AMOTL2</text>
<text transform="translate(1525.31 557.7) rotate(-90) scale(0.905 1)">ANXA2</text>
<text transform="translate(1536.53 557.7) rotate(-90) scale(0.905 1)">AJUBA</text>
<text transform="translate(1547.76 557.7) rotate(-90) scale(0.905 1)">ERRFI1</text>
<text transform="translate(1558.98 557.7) rotate(-90) scale(0.905 1)">PXN</text>
<text transform="translate(1570.20 557.7) rotate(-90) scale(0.905 1)">PPIC</text>
<text transform="translate(1581.43 557.7) rotate(-90) scale(0.905 1)">ITGB5</text>
<text transform="translate(1592.65 557.7) rotate(-90) scale(0.905 1)">LAMB2</text>
<text transform="translate(1603.88 557.7) rotate(-90) scale(0.905 1)">RHBDF1</text>
<text transform="translate(1615.10 557.7) rotate(-90) scale(0.905 1)">GNG12</text>
<text transform="translate(1626.32 557.7) rotate(-90) scale(0.905 1)">PARVA</text>
<text transform="translate(1637.55 557.7) rotate(-90) scale(0.905 1)">FAM114A1</text>
<text transform="translate(1648.77 557.7) rotate(-90) scale(0.905 1)">GPX8</text>
<text transform="translate(1660.00 557.7) rotate(-90) scale(0.905 1)">WWTR1</text>
<text transform="translate(1671.22 557.7) rotate(-90) scale(0.905 1)">BCAR3</text>
<text transform="translate(1682.44 557.7) rotate(-90) scale(0.905 1)">PLK2</text>
<text transform="translate(1693.67 557.7) rotate(-90) scale(0.905 1)">ASPH</text>
<text transform="translate(1704.89 557.7) rotate(-90) scale(0.905 1)">MET</text>
<text transform="translate(1716.12 557.7) rotate(-90) scale(0.905 1)">SGMS2</text>
<text transform="translate(1727.34 557.7) rotate(-90) scale(0.905 1)">ANXA1</text>
<text transform="translate(1738.56 557.7) rotate(-90) scale(0.905 1)">CAV1</text>
<text transform="translate(1749.79 557.7) rotate(-90) scale(0.905 1)">CAV2</text>
<text transform="translate(1761.01 557.7) rotate(-90) scale(0.905 1)">FHL2</text>
<text transform="translate(1772.24 557.7) rotate(-90) scale(0.905 1)">FOSL1</text>
<text transform="translate(1783.46 557.7) rotate(-90) scale(0.905 1)">NCEH1</text>
<text transform="translate(1794.68 557.7) rotate(-90) scale(0.905 1)">EPS8</text>
<text transform="translate(1805.91 557.7) rotate(-90) scale(0.905 1)">WASL</text>
<text transform="translate(1817.13 557.7) rotate(-90) scale(0.905 1)">GNA11</text>
<text transform="translate(1828.36 557.7) rotate(-90) scale(0.905 1)">PLEKHA1</text>
<text transform="translate(1839.58 557.7) rotate(-90) scale(0.905 1)">ALDH3B1</text>
<text transform="translate(1850.80 557.7) rotate(-90) scale(0.905 1)">CLCF1</text>
<text transform="translate(1862.03 557.7) rotate(-90) scale(0.905 1)">CTSZ</text>
<text transform="translate(1873.25 557.7) rotate(-90) scale(0.905 1)">SP100</text>
<text transform="translate(1884.48 557.7) rotate(-90) scale(0.905 1)">POLD4</text>
</g>
<text transform="translate(1006.07 558.00) scale(1.0358 1)" font-size="14.0" stroke="#000" stroke-width="0.25">Gene</text>
<defs><linearGradient id="cb" x1="0" x2="1" y1="0" y2="0"><stop offset="0" stop-color="#3B4CC0"/><stop offset="0.12" stop-color="#4A5BC4"/><stop offset="0.5" stop-color="#fff"/><stop offset="0.88" stop-color="#F0403A"/><stop offset="1" stop-color="#EE2A24"/></linearGradient><clipPath id="cpe"><rect x="770" y="640" width="280" height="82.8"/></clipPath></defs>
<rect x="807.2" y="736.5" width="201" height="12" fill="url(#cb)" stroke="#1a1a1a" stroke-width="1"/>
<text transform="translate(806.94 762.30) scale(1.0000 1)" font-size="10.3" stroke="#000" stroke-width="0.2">-3</text>
<text transform="translate(905.04 762.30) scale(1.0000 1)" font-size="10.3" stroke="#000" stroke-width="0.2">0</text>
<text transform="translate(1001.27 762.30) scale(1.0000 1)" font-size="10.3" stroke="#000" stroke-width="0.2">3</text>
<g clip-path="url(#cpe)">
<text transform="translate(779.74 684.40) scale(1.0270 1)" font-size="31.6" stroke="#000" stroke-width="0.5">Per-gene</text>
<text transform="translate(781.21 722.50) scale(1.0140 1)" font-size="31.6" stroke="#000" stroke-width="0.5">scaled expression</text>
</g>
<rect x="1904.1" y="632.6" width="8.8" height="69.3" fill="#000"/>
<text transform="translate(1920.06 658.60) scale(1.0220 1)" font-size="31.6" stroke="#000" stroke-width="0.5">hematopoietic</text>
<text transform="translate(1920.94 697.20) scale(1.0115 1)" font-size="31.6" stroke="#000" stroke-width="0.5">and lymphoid</text>
<text transform="translate(1920.95 735.70) scale(1.0093 1)" font-size="31.6" stroke="#000" stroke-width="0.5">cell lines</text>
<text transform="translate(119.77 1121.40) scale(0.9407 1)" font-size="32.3" font-weight="700" stroke="#000" stroke-width="0.45">Post-filtering - CTRP</text>
<circle cx="268.4" cy="1288.5" r="144.5" fill="#fff"/>
<path d="M268.4 1288.5L268.40 1144.00A144.5 144.5 0 0 1 300.38 1147.58Z" fill="#7ACFF5"/>
<path d="M268.4 1288.5L300.38 1147.58A144.5 144.5 0 0 1 303.14 1148.24Z" fill="#3F5BA9"/>
<path d="M268.4 1288.5L302.16 1148.00A144.5 144.5 0 0 1 364.11 1180.24Z" fill="#000"/>
<circle cx="268.4" cy="1288.5" r="144.5" fill="none" stroke="#000" stroke-width="3.0"/>
<text transform="translate(456.61 1213.75) scale(0.9463 1)" font-size="32.3" stroke="#000" stroke-width="0.8">Total=19174 genes</text>
<rect x="463.80" y="1230.80" width="62.40" height="13.00" fill="#7ACFF5" stroke="#000" stroke-width="2.6"/>
<text transform="translate(559.95 1247.50) scale(0.9420 1)" font-size="32.3" stroke="#000" stroke-width="0.8">681 positive</text>
<rect x="463.80" y="1267.80" width="62.40" height="13.00" fill="#3F5BA9" stroke="#000" stroke-width="2.6"/>
<text transform="translate(559.95 1284.30) scale(0.9420 1)" font-size="32.3" stroke="#000" stroke-width="0.8">60 both</text>
<rect x="463.80" y="1304.80" width="62.40" height="13.00" fill="#000" stroke="#000" stroke-width="2.6"/>
<text transform="translate(559.18 1321.30) scale(0.9420 1)" font-size="32.3" stroke="#000" stroke-width="0.8">1447 negative</text>
<rect x="463.80" y="1341.80" width="62.40" height="13.00" fill="#fff" stroke="#000" stroke-width="2.6"/>
<text transform="translate(559.18 1358.70) scale(0.9438 1)" font-size="32.3" stroke="#000" stroke-width="0.8">16986 neither / low variation</text>
<text transform="translate(1190.27 1122.70) scale(0.9410 1)" font-size="32.3" font-weight="700" stroke="#000" stroke-width="0.45">Post-filtering - GDSC</text>
<circle cx="1341.75" cy="1289.1" r="143.6" fill="#fff"/>
<path d="M1341.75 1289.1L1341.75 1145.50A143.6 143.6 0 0 1 1357.54 1146.37Z" fill="#7ACFF5"/>
<path d="M1341.75 1289.1L1357.54 1146.37A143.6 143.6 0 0 1 1359.36 1146.58Z" fill="#3F5BA9"/>
<path d="M1341.75 1289.1L1358.36 1146.46A143.6 143.6 0 0 1 1430.86 1176.49Z" fill="#000"/>
<circle cx="1341.75" cy="1289.1" r="143.6" fill="none" stroke="#000" stroke-width="3.0"/>
<text transform="translate(1530.12 1214.50) scale(0.9408 1)" font-size="32.3" stroke="#000" stroke-width="0.8">Total=17737 genes</text>
<rect x="1536.80" y="1235.05" width="62.40" height="13.00" fill="#7ACFF5" stroke="#000" stroke-width="2.6"/>
<text transform="translate(1633.34 1252.00) scale(0.9420 1)" font-size="32.3" stroke="#000" stroke-width="0.8">311 positive</text>
<rect x="1536.80" y="1272.05" width="62.40" height="13.00" fill="#3F5BA9" stroke="#000" stroke-width="2.6"/>
<text transform="translate(1633.34 1288.80) scale(0.9420 1)" font-size="32.3" stroke="#000" stroke-width="0.8">36 both</text>
<rect x="1536.80" y="1309.05" width="62.40" height="13.00" fill="#000" stroke="#000" stroke-width="2.6"/>
<text transform="translate(1632.18 1325.50) scale(0.9420 1)" font-size="32.3" stroke="#000" stroke-width="0.8">1523 negative</text>
<rect x="1536.80" y="1346.05" width="62.40" height="13.00" fill="#fff" stroke="#000" stroke-width="2.6"/>
<text transform="translate(1632.19 1363.00) scale(0.9381 1)" font-size="32.3" stroke="#000" stroke-width="0.8">15867 neither / low variation</text>
</svg>
</body></html>
